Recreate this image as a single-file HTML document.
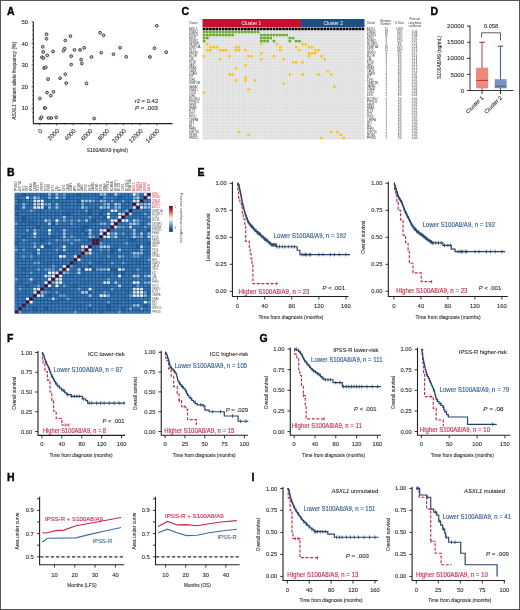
<!DOCTYPE html><html><head><meta charset="utf-8"><style>html,body{margin:0;padding:0;background:#fff;}svg{display:block;will-change:transform;}</style></head><body>
<svg width="520" height="610" viewBox="0 0 520 610" font-family='"Liberation Sans", sans-serif' fill="#333">
<rect x="0" y="0" width="520" height="610" fill="#fff"/>
<text x="7.1" y="15" font-size="10.5" fill="#000" font-weight="bold" stroke="#000" stroke-width="0.35">A</text>
<line x1="33.3" y1="21.8" x2="33.3" y2="123.6" stroke="#231f20" stroke-width="1.1"/>
<line x1="32.3" y1="117.01" x2="33.3" y2="117.01" stroke="#231f20" stroke-width="0.7"/>
<line x1="32.3" y1="112.68" x2="33.3" y2="112.68" stroke="#231f20" stroke-width="0.7"/>
<line x1="31.5" y1="108.35" x2="33.3" y2="108.35" stroke="#231f20" stroke-width="0.7"/>
<line x1="32.3" y1="104.02" x2="33.3" y2="104.02" stroke="#231f20" stroke-width="0.7"/>
<line x1="32.3" y1="99.69" x2="33.3" y2="99.69" stroke="#231f20" stroke-width="0.7"/>
<line x1="32.3" y1="95.36" x2="33.3" y2="95.36" stroke="#231f20" stroke-width="0.7"/>
<line x1="32.3" y1="91.03" x2="33.3" y2="91.03" stroke="#231f20" stroke-width="0.7"/>
<line x1="31.5" y1="86.7" x2="33.3" y2="86.7" stroke="#231f20" stroke-width="0.7"/>
<line x1="32.3" y1="82.37" x2="33.3" y2="82.37" stroke="#231f20" stroke-width="0.7"/>
<line x1="32.3" y1="78.04" x2="33.3" y2="78.04" stroke="#231f20" stroke-width="0.7"/>
<line x1="32.3" y1="73.71" x2="33.3" y2="73.71" stroke="#231f20" stroke-width="0.7"/>
<line x1="32.3" y1="69.38" x2="33.3" y2="69.38" stroke="#231f20" stroke-width="0.7"/>
<line x1="31.5" y1="65.05" x2="33.3" y2="65.05" stroke="#231f20" stroke-width="0.7"/>
<line x1="32.3" y1="60.72" x2="33.3" y2="60.72" stroke="#231f20" stroke-width="0.7"/>
<line x1="32.3" y1="56.39" x2="33.3" y2="56.39" stroke="#231f20" stroke-width="0.7"/>
<line x1="32.3" y1="52.06" x2="33.3" y2="52.06" stroke="#231f20" stroke-width="0.7"/>
<line x1="32.3" y1="47.73" x2="33.3" y2="47.73" stroke="#231f20" stroke-width="0.7"/>
<line x1="31.5" y1="43.4" x2="33.3" y2="43.4" stroke="#231f20" stroke-width="0.7"/>
<line x1="32.3" y1="39.07" x2="33.3" y2="39.07" stroke="#231f20" stroke-width="0.7"/>
<line x1="32.3" y1="34.74" x2="33.3" y2="34.74" stroke="#231f20" stroke-width="0.7"/>
<line x1="32.3" y1="30.41" x2="33.3" y2="30.41" stroke="#231f20" stroke-width="0.7"/>
<line x1="32.3" y1="26.08" x2="33.3" y2="26.08" stroke="#231f20" stroke-width="0.7"/>
<line x1="31.5" y1="21.75" x2="33.3" y2="21.75" stroke="#231f20" stroke-width="0.7"/>
<text stroke="#333" stroke-width="0.12" x="28.2" y="110.45" font-size="6.0" text-anchor="end">10</text>
<text stroke="#333" stroke-width="0.12" x="28.2" y="88.8" font-size="6.0" text-anchor="end">20</text>
<text stroke="#333" stroke-width="0.12" x="28.2" y="67.15" font-size="6.0" text-anchor="end">30</text>
<text stroke="#333" stroke-width="0.12" x="28.2" y="45.5" font-size="6.0" text-anchor="end">40</text>
<text stroke="#333" stroke-width="0.12" x="28.2" y="23.85" font-size="6.0" text-anchor="end">50</text>
<line x1="33.3" y1="123.6" x2="172.5" y2="123.6" stroke="#231f20" stroke-width="1.1"/>
<line x1="39.8" y1="123.6" x2="39.8" y2="125.4" stroke="#231f20" stroke-width="0.7"/>
<line x1="48.16" y1="123.6" x2="48.16" y2="124.6" stroke="#231f20" stroke-width="0.7"/>
<line x1="56.52" y1="123.6" x2="56.52" y2="125.4" stroke="#231f20" stroke-width="0.7"/>
<line x1="64.88" y1="123.6" x2="64.88" y2="124.6" stroke="#231f20" stroke-width="0.7"/>
<line x1="73.24" y1="123.6" x2="73.24" y2="125.4" stroke="#231f20" stroke-width="0.7"/>
<line x1="81.6" y1="123.6" x2="81.6" y2="124.6" stroke="#231f20" stroke-width="0.7"/>
<line x1="89.96" y1="123.6" x2="89.96" y2="125.4" stroke="#231f20" stroke-width="0.7"/>
<line x1="98.32" y1="123.6" x2="98.32" y2="124.6" stroke="#231f20" stroke-width="0.7"/>
<line x1="106.68" y1="123.6" x2="106.68" y2="125.4" stroke="#231f20" stroke-width="0.7"/>
<line x1="115.04" y1="123.6" x2="115.04" y2="124.6" stroke="#231f20" stroke-width="0.7"/>
<line x1="123.4" y1="123.6" x2="123.4" y2="125.4" stroke="#231f20" stroke-width="0.7"/>
<line x1="131.76" y1="123.6" x2="131.76" y2="124.6" stroke="#231f20" stroke-width="0.7"/>
<line x1="140.12" y1="123.6" x2="140.12" y2="125.4" stroke="#231f20" stroke-width="0.7"/>
<line x1="148.48" y1="123.6" x2="148.48" y2="124.6" stroke="#231f20" stroke-width="0.7"/>
<line x1="156.84" y1="123.6" x2="156.84" y2="125.4" stroke="#231f20" stroke-width="0.7"/>
<text stroke="#333" stroke-width="0.12" x="42.8" y="131.5" font-size="6.0" text-anchor="end" transform="rotate(-45 42.8 131.5)">0</text>
<text stroke="#333" stroke-width="0.12" x="59.52" y="131.5" font-size="6.0" text-anchor="end" transform="rotate(-45 59.52 131.5)">2000</text>
<text stroke="#333" stroke-width="0.12" x="76.24" y="131.5" font-size="6.0" text-anchor="end" transform="rotate(-45 76.24 131.5)">4000</text>
<text stroke="#333" stroke-width="0.12" x="92.96" y="131.5" font-size="6.0" text-anchor="end" transform="rotate(-45 92.96 131.5)">6000</text>
<text stroke="#333" stroke-width="0.12" x="109.68" y="131.5" font-size="6.0" text-anchor="end" transform="rotate(-45 109.68 131.5)">8000</text>
<text stroke="#333" stroke-width="0.12" x="126.4" y="131.5" font-size="6.0" text-anchor="end" transform="rotate(-45 126.4 131.5)">10000</text>
<text stroke="#333" stroke-width="0.12" x="143.12" y="131.5" font-size="6.0" text-anchor="end" transform="rotate(-45 143.12 131.5)">12000</text>
<text stroke="#333" stroke-width="0.12" x="159.84" y="131.5" font-size="6.0" text-anchor="end" transform="rotate(-45 159.84 131.5)">14000</text>
<text stroke="#333" stroke-width="0.12" x="107.3" y="151.6" font-size="5.6" text-anchor="middle" textLength="41" lengthAdjust="spacingAndGlyphs">S100A8/A9 (ng/ml)</text>
<text stroke="#333" stroke-width="0.12" x="15.8" y="80.8" font-size="5.1" text-anchor="middle" transform="rotate(-90 15.8 80.8)" textLength="78" lengthAdjust="spacingAndGlyphs"><tspan font-style="italic">ASXL1</tspan> Variant allele frequency (%)</text>
<circle cx="46.5" cy="34.2" r="1.4" fill="#d0d0d0" stroke="#404040" stroke-width="1.0"/>
<circle cx="46.5" cy="38.8" r="1.4" fill="#d0d0d0" stroke="#404040" stroke-width="1.0"/>
<circle cx="42.7" cy="46.8" r="1.4" fill="#d0d0d0" stroke="#404040" stroke-width="1.0"/>
<circle cx="43.2" cy="51.9" r="1.4" fill="#d0d0d0" stroke="#404040" stroke-width="1.0"/>
<circle cx="41.9" cy="57.3" r="1.4" fill="#d0d0d0" stroke="#404040" stroke-width="1.0"/>
<circle cx="43.5" cy="58.1" r="1.4" fill="#d0d0d0" stroke="#404040" stroke-width="1.0"/>
<circle cx="47.3" cy="55.3" r="1.4" fill="#d0d0d0" stroke="#404040" stroke-width="1.0"/>
<circle cx="53" cy="51.5" r="1.4" fill="#d0d0d0" stroke="#404040" stroke-width="1.0"/>
<circle cx="65.3" cy="40.4" r="1.4" fill="#d0d0d0" stroke="#404040" stroke-width="1.0"/>
<circle cx="70.4" cy="36.2" r="1.4" fill="#d0d0d0" stroke="#404040" stroke-width="1.0"/>
<circle cx="64.7" cy="48.5" r="1.4" fill="#d0d0d0" stroke="#404040" stroke-width="1.0"/>
<circle cx="63.5" cy="50.7" r="1.4" fill="#d0d0d0" stroke="#404040" stroke-width="1.0"/>
<circle cx="74.5" cy="49.9" r="1.4" fill="#d0d0d0" stroke="#404040" stroke-width="1.0"/>
<circle cx="80.1" cy="49.9" r="1.4" fill="#d0d0d0" stroke="#404040" stroke-width="1.0"/>
<circle cx="84.2" cy="47.8" r="1.4" fill="#d0d0d0" stroke="#404040" stroke-width="1.0"/>
<circle cx="71.2" cy="56.2" r="1.4" fill="#d0d0d0" stroke="#404040" stroke-width="1.0"/>
<circle cx="81.2" cy="59.6" r="1.4" fill="#d0d0d0" stroke="#404040" stroke-width="1.0"/>
<circle cx="81.9" cy="63.5" r="1.4" fill="#d0d0d0" stroke="#404040" stroke-width="1.0"/>
<circle cx="71.2" cy="64.5" r="1.4" fill="#d0d0d0" stroke="#404040" stroke-width="1.0"/>
<circle cx="91.5" cy="57" r="1.4" fill="#d0d0d0" stroke="#404040" stroke-width="1.0"/>
<circle cx="101.2" cy="52.7" r="1.4" fill="#d0d0d0" stroke="#404040" stroke-width="1.0"/>
<circle cx="100.1" cy="32.7" r="1.4" fill="#d0d0d0" stroke="#404040" stroke-width="1.0"/>
<circle cx="103.5" cy="35.3" r="1.4" fill="#d0d0d0" stroke="#404040" stroke-width="1.0"/>
<circle cx="44.2" cy="68" r="1.4" fill="#d0d0d0" stroke="#404040" stroke-width="1.0"/>
<circle cx="45.8" cy="67.3" r="1.4" fill="#d0d0d0" stroke="#404040" stroke-width="1.0"/>
<circle cx="65.3" cy="74.2" r="1.4" fill="#d0d0d0" stroke="#404040" stroke-width="1.0"/>
<circle cx="48.1" cy="79.2" r="1.4" fill="#d0d0d0" stroke="#404040" stroke-width="1.0"/>
<circle cx="60.1" cy="78.2" r="1.4" fill="#d0d0d0" stroke="#404040" stroke-width="1.0"/>
<circle cx="66.2" cy="83.1" r="1.4" fill="#d0d0d0" stroke="#404040" stroke-width="1.0"/>
<circle cx="86.5" cy="83.4" r="1.4" fill="#d0d0d0" stroke="#404040" stroke-width="1.0"/>
<circle cx="47" cy="92.6" r="1.4" fill="#d0d0d0" stroke="#404040" stroke-width="1.0"/>
<circle cx="53.5" cy="91.8" r="1.4" fill="#d0d0d0" stroke="#404040" stroke-width="1.0"/>
<circle cx="50.8" cy="95.7" r="1.4" fill="#d0d0d0" stroke="#404040" stroke-width="1.0"/>
<circle cx="39.9" cy="98.5" r="1.4" fill="#d0d0d0" stroke="#404040" stroke-width="1.0"/>
<circle cx="44.7" cy="108" r="1.4" fill="#d0d0d0" stroke="#404040" stroke-width="1.0"/>
<circle cx="45.3" cy="108" r="1.4" fill="#d0d0d0" stroke="#404040" stroke-width="1.0"/>
<circle cx="40.4" cy="118.5" r="1.4" fill="#d0d0d0" stroke="#404040" stroke-width="1.0"/>
<circle cx="41.6" cy="117.2" r="1.4" fill="#d0d0d0" stroke="#404040" stroke-width="1.0"/>
<circle cx="48.5" cy="118" r="1.4" fill="#d0d0d0" stroke="#404040" stroke-width="1.0"/>
<circle cx="51.2" cy="118" r="1.4" fill="#d0d0d0" stroke="#404040" stroke-width="1.0"/>
<circle cx="56.2" cy="117.4" r="1.4" fill="#d0d0d0" stroke="#404040" stroke-width="1.0"/>
<circle cx="94.2" cy="118.5" r="1.4" fill="#d0d0d0" stroke="#404040" stroke-width="1.0"/>
<circle cx="113.5" cy="54.2" r="1.4" fill="#d0d0d0" stroke="#404040" stroke-width="1.0"/>
<circle cx="120.1" cy="47.8" r="1.4" fill="#d0d0d0" stroke="#404040" stroke-width="1.0"/>
<circle cx="126.2" cy="56.8" r="1.4" fill="#d0d0d0" stroke="#404040" stroke-width="1.0"/>
<circle cx="156.8" cy="25.8" r="1.4" fill="#d0d0d0" stroke="#404040" stroke-width="1.0"/>
<circle cx="154.5" cy="48.2" r="1.4" fill="#d0d0d0" stroke="#404040" stroke-width="1.0"/>
<circle cx="149.9" cy="57" r="1.4" fill="#d0d0d0" stroke="#404040" stroke-width="1.0"/>
<circle cx="166.2" cy="52.2" r="1.4" fill="#d0d0d0" stroke="#404040" stroke-width="1.0"/>
<text stroke="#333" stroke-width="0.12" x="158.2" y="103" font-size="5.6" text-anchor="end" textLength="23.5" lengthAdjust="spacingAndGlyphs">r2 = 0.42</text>
<text stroke="#333" stroke-width="0.12" x="158" y="109.6" font-size="5.6" text-anchor="end" textLength="23" lengthAdjust="spacingAndGlyphs"><tspan font-style="italic">P</tspan> = .003</text>
<text x="181.4" y="14.5" font-size="10.5" fill="#000" font-weight="bold" stroke="#000" stroke-width="0.35">C</text>
<rect x="202.5" y="19" width="98.47" height="8.6" fill="#c8102e"/>
<rect x="300.97" y="19" width="63.53" height="8.6" fill="#1d4e89"/>
<text x="251.35" y="25" font-size="5.2" text-anchor="middle" fill="#fff" textLength="19.7" lengthAdjust="spacingAndGlyphs" stroke="none">Cluster 1</text>
<text x="333.25" y="25" font-size="5.2" text-anchor="middle" fill="#fff" textLength="19.7" lengthAdjust="spacingAndGlyphs" stroke="none">Cluster 2</text>
<rect x="202.5" y="27.5" width="162" height="112" fill="#eeeeee"/>
<rect x="202.75" y="27.75" width="2.68" height="2.53" fill="#000"/>
<rect x="205.93" y="27.75" width="2.68" height="2.53" fill="#000"/>
<rect x="209.1" y="27.75" width="2.68" height="2.53" fill="#000"/>
<rect x="212.28" y="27.75" width="2.68" height="2.53" fill="#000"/>
<rect x="215.46" y="27.75" width="2.68" height="2.53" fill="#000"/>
<rect x="218.63" y="27.75" width="2.68" height="2.53" fill="#000"/>
<rect x="221.81" y="27.75" width="2.68" height="2.53" fill="#000"/>
<rect x="224.99" y="27.75" width="2.68" height="2.53" fill="#000"/>
<rect x="228.16" y="27.75" width="2.68" height="2.53" fill="#000"/>
<rect x="231.34" y="27.75" width="2.68" height="2.53" fill="#000"/>
<rect x="234.51" y="27.75" width="2.68" height="2.53" fill="#000"/>
<rect x="237.69" y="27.75" width="2.68" height="2.53" fill="#000"/>
<rect x="240.87" y="27.75" width="2.68" height="2.53" fill="#000"/>
<rect x="244.04" y="27.75" width="2.68" height="2.53" fill="#000"/>
<rect x="247.22" y="27.75" width="2.68" height="2.53" fill="#000"/>
<rect x="250.4" y="27.75" width="2.68" height="2.53" fill="#000"/>
<rect x="253.57" y="27.75" width="2.68" height="2.53" fill="#000"/>
<rect x="256.75" y="27.75" width="2.68" height="2.53" fill="#000"/>
<rect x="259.93" y="27.75" width="2.68" height="2.53" fill="#000"/>
<rect x="263.1" y="27.75" width="2.68" height="2.53" fill="#000"/>
<rect x="266.28" y="27.75" width="2.68" height="2.53" fill="#000"/>
<rect x="269.46" y="27.75" width="2.68" height="2.53" fill="#000"/>
<rect x="272.63" y="27.75" width="2.68" height="2.53" fill="#000"/>
<rect x="275.81" y="27.75" width="2.68" height="2.53" fill="#000"/>
<rect x="278.99" y="27.75" width="2.68" height="2.53" fill="#000"/>
<rect x="282.16" y="27.75" width="2.68" height="2.53" fill="#000"/>
<rect x="285.34" y="27.75" width="2.68" height="2.53" fill="#000"/>
<rect x="288.51" y="27.75" width="2.68" height="2.53" fill="#000"/>
<rect x="291.69" y="27.75" width="2.68" height="2.53" fill="#000"/>
<rect x="294.87" y="27.75" width="2.68" height="2.53" fill="#000"/>
<rect x="298.04" y="27.75" width="2.68" height="2.53" fill="#000"/>
<rect x="301.22" y="27.75" width="2.68" height="2.53" fill="#000"/>
<rect x="304.4" y="27.75" width="2.68" height="2.53" fill="#000"/>
<rect x="307.57" y="27.75" width="2.68" height="2.53" fill="#000"/>
<rect x="310.75" y="27.75" width="2.68" height="2.53" fill="#000"/>
<rect x="313.93" y="27.75" width="2.68" height="2.53" fill="#000"/>
<rect x="317.1" y="27.75" width="2.68" height="2.53" fill="#000"/>
<rect x="320.28" y="27.75" width="2.68" height="2.53" fill="#000"/>
<rect x="323.46" y="27.75" width="2.68" height="2.53" fill="#000"/>
<rect x="326.63" y="27.75" width="2.68" height="2.53" fill="#000"/>
<rect x="329.81" y="27.75" width="2.68" height="2.53" fill="#000"/>
<rect x="332.99" y="27.75" width="2.68" height="2.53" fill="#000"/>
<rect x="336.16" y="27.75" width="2.68" height="2.53" fill="#000"/>
<rect x="339.34" y="27.75" width="2.68" height="2.53" fill="#000"/>
<rect x="342.51" y="27.75" width="2.68" height="2.53" fill="#000"/>
<rect x="345.69" y="27.75" width="2.68" height="2.53" fill="#000"/>
<rect x="348.87" y="27.75" width="2.68" height="2.53" fill="#000"/>
<rect x="352.04" y="27.75" width="2.68" height="2.53" fill="#000"/>
<rect x="355.22" y="27.75" width="2.68" height="2.53" fill="#000"/>
<rect x="358.4" y="27.75" width="2.68" height="2.53" fill="#000"/>
<rect x="361.57" y="27.75" width="2.68" height="2.53" fill="#000"/>
<rect x="202.75" y="30.78" width="2.68" height="2.53" fill="#66a830"/>
<rect x="205.93" y="30.78" width="2.68" height="2.53" fill="#66a830"/>
<rect x="209.1" y="30.78" width="2.68" height="2.53" fill="#66a830"/>
<rect x="212.28" y="30.78" width="2.68" height="2.53" fill="#66a830"/>
<rect x="215.46" y="30.78" width="2.68" height="2.53" fill="#66a830"/>
<rect x="218.63" y="30.78" width="2.68" height="2.53" fill="#66a830"/>
<rect x="221.81" y="30.78" width="2.68" height="2.53" fill="#66a830"/>
<rect x="224.99" y="30.78" width="2.68" height="2.53" fill="#66a830"/>
<rect x="228.16" y="30.78" width="2.68" height="2.53" fill="#66a830"/>
<rect x="231.34" y="30.78" width="2.68" height="2.53" fill="#66a830"/>
<rect x="234.51" y="30.78" width="2.68" height="2.53" fill="#66a830"/>
<rect x="237.69" y="30.78" width="2.68" height="2.53" fill="#66a830"/>
<rect x="240.87" y="30.78" width="2.68" height="2.53" fill="#66a830"/>
<rect x="244.04" y="30.78" width="2.68" height="2.53" fill="#66a830"/>
<rect x="247.22" y="30.78" width="2.68" height="2.53" fill="#66a830"/>
<rect x="250.4" y="30.78" width="2.68" height="2.53" fill="#66a830"/>
<rect x="253.57" y="30.78" width="2.68" height="2.53" fill="#66a830"/>
<rect x="256.75" y="30.78" width="2.68" height="2.53" fill="#66a830"/>
<rect x="259.93" y="30.78" width="2.68" height="2.53" fill="#dfdfdf"/>
<rect x="263.1" y="30.78" width="2.68" height="2.53" fill="#dfdfdf"/>
<rect x="266.28" y="30.78" width="2.68" height="2.53" fill="#dfdfdf"/>
<rect x="269.46" y="30.78" width="2.68" height="2.53" fill="#dfdfdf"/>
<rect x="272.63" y="30.78" width="2.68" height="2.53" fill="#dfdfdf"/>
<rect x="275.81" y="30.78" width="2.68" height="2.53" fill="#dfdfdf"/>
<rect x="278.99" y="30.78" width="2.68" height="2.53" fill="#dfdfdf"/>
<rect x="282.16" y="30.78" width="2.68" height="2.53" fill="#dfdfdf"/>
<rect x="285.34" y="30.78" width="2.68" height="2.53" fill="#dfdfdf"/>
<rect x="288.51" y="30.78" width="2.68" height="2.53" fill="#dfdfdf"/>
<rect x="291.69" y="30.78" width="2.68" height="2.53" fill="#dfdfdf"/>
<rect x="294.87" y="30.78" width="2.68" height="2.53" fill="#dfdfdf"/>
<rect x="298.04" y="30.78" width="2.68" height="2.53" fill="#dfdfdf"/>
<rect x="301.22" y="30.78" width="2.68" height="2.53" fill="#dfdfdf"/>
<rect x="304.4" y="30.78" width="2.68" height="2.53" fill="#dfdfdf"/>
<rect x="307.57" y="30.78" width="2.68" height="2.53" fill="#dfdfdf"/>
<rect x="310.75" y="30.78" width="2.68" height="2.53" fill="#dfdfdf"/>
<rect x="313.93" y="30.78" width="2.68" height="2.53" fill="#dfdfdf"/>
<rect x="317.1" y="30.78" width="2.68" height="2.53" fill="#dfdfdf"/>
<rect x="320.28" y="30.78" width="2.68" height="2.53" fill="#dfdfdf"/>
<rect x="323.46" y="30.78" width="2.68" height="2.53" fill="#dfdfdf"/>
<rect x="326.63" y="30.78" width="2.68" height="2.53" fill="#dfdfdf"/>
<rect x="329.81" y="30.78" width="2.68" height="2.53" fill="#dfdfdf"/>
<rect x="332.99" y="30.78" width="2.68" height="2.53" fill="#dfdfdf"/>
<rect x="336.16" y="30.78" width="2.68" height="2.53" fill="#dfdfdf"/>
<rect x="339.34" y="30.78" width="2.68" height="2.53" fill="#dfdfdf"/>
<rect x="342.51" y="30.78" width="2.68" height="2.53" fill="#dfdfdf"/>
<rect x="345.69" y="30.78" width="2.68" height="2.53" fill="#dfdfdf"/>
<rect x="348.87" y="30.78" width="2.68" height="2.53" fill="#dfdfdf"/>
<rect x="352.04" y="30.78" width="2.68" height="2.53" fill="#dfdfdf"/>
<rect x="355.22" y="30.78" width="2.68" height="2.53" fill="#dfdfdf"/>
<rect x="358.4" y="30.78" width="2.68" height="2.53" fill="#dfdfdf"/>
<rect x="361.57" y="30.78" width="2.68" height="2.53" fill="#dfdfdf"/>
<rect x="202.75" y="33.8" width="2.68" height="2.53" fill="#66a830"/>
<rect x="205.93" y="33.8" width="2.68" height="2.53" fill="#66a830"/>
<rect x="209.1" y="33.8" width="2.68" height="2.53" fill="#66a830"/>
<rect x="212.28" y="33.8" width="2.68" height="2.53" fill="#66a830"/>
<rect x="215.46" y="33.8" width="2.68" height="2.53" fill="#66a830"/>
<rect x="218.63" y="33.8" width="2.68" height="2.53" fill="#66a830"/>
<rect x="221.81" y="33.8" width="2.68" height="2.53" fill="#66a830"/>
<rect x="224.99" y="33.8" width="2.68" height="2.53" fill="#66a830"/>
<rect x="228.16" y="33.8" width="2.68" height="2.53" fill="#66a830"/>
<rect x="231.34" y="33.8" width="2.68" height="2.53" fill="#66a830"/>
<rect x="234.51" y="33.8" width="2.68" height="2.53" fill="#dfdfdf"/>
<rect x="237.69" y="33.8" width="2.68" height="2.53" fill="#dfdfdf"/>
<rect x="240.87" y="33.8" width="2.68" height="2.53" fill="#dfdfdf"/>
<rect x="244.04" y="33.8" width="2.68" height="2.53" fill="#dfdfdf"/>
<rect x="247.22" y="33.8" width="2.68" height="2.53" fill="#dfdfdf"/>
<rect x="250.4" y="33.8" width="2.68" height="2.53" fill="#dfdfdf"/>
<rect x="253.57" y="33.8" width="2.68" height="2.53" fill="#dfdfdf"/>
<rect x="256.75" y="33.8" width="2.68" height="2.53" fill="#dfdfdf"/>
<rect x="259.93" y="33.8" width="2.68" height="2.53" fill="#66a830"/>
<rect x="263.1" y="33.8" width="2.68" height="2.53" fill="#66a830"/>
<rect x="266.28" y="33.8" width="2.68" height="2.53" fill="#66a830"/>
<rect x="269.46" y="33.8" width="2.68" height="2.53" fill="#66a830"/>
<rect x="272.63" y="33.8" width="2.68" height="2.53" fill="#66a830"/>
<rect x="275.81" y="33.8" width="2.68" height="2.53" fill="#66a830"/>
<rect x="278.99" y="33.8" width="2.68" height="2.53" fill="#66a830"/>
<rect x="282.16" y="33.8" width="2.68" height="2.53" fill="#66a830"/>
<rect x="285.34" y="33.8" width="2.68" height="2.53" fill="#66a830"/>
<rect x="288.51" y="33.8" width="2.68" height="2.53" fill="#dfdfdf"/>
<rect x="291.69" y="33.8" width="2.68" height="2.53" fill="#dfdfdf"/>
<rect x="294.87" y="33.8" width="2.68" height="2.53" fill="#dfdfdf"/>
<rect x="298.04" y="33.8" width="2.68" height="2.53" fill="#dfdfdf"/>
<rect x="301.22" y="33.8" width="2.68" height="2.53" fill="#dfdfdf"/>
<rect x="304.4" y="33.8" width="2.68" height="2.53" fill="#dfdfdf"/>
<rect x="307.57" y="33.8" width="2.68" height="2.53" fill="#dfdfdf"/>
<rect x="310.75" y="33.8" width="2.68" height="2.53" fill="#dfdfdf"/>
<rect x="313.93" y="33.8" width="2.68" height="2.53" fill="#dfdfdf"/>
<rect x="317.1" y="33.8" width="2.68" height="2.53" fill="#dfdfdf"/>
<rect x="320.28" y="33.8" width="2.68" height="2.53" fill="#dfdfdf"/>
<rect x="323.46" y="33.8" width="2.68" height="2.53" fill="#dfdfdf"/>
<rect x="326.63" y="33.8" width="2.68" height="2.53" fill="#dfdfdf"/>
<rect x="329.81" y="33.8" width="2.68" height="2.53" fill="#dfdfdf"/>
<rect x="332.99" y="33.8" width="2.68" height="2.53" fill="#dfdfdf"/>
<rect x="336.16" y="33.8" width="2.68" height="2.53" fill="#dfdfdf"/>
<rect x="339.34" y="33.8" width="2.68" height="2.53" fill="#dfdfdf"/>
<rect x="342.51" y="33.8" width="2.68" height="2.53" fill="#dfdfdf"/>
<rect x="345.69" y="33.8" width="2.68" height="2.53" fill="#dfdfdf"/>
<rect x="348.87" y="33.8" width="2.68" height="2.53" fill="#dfdfdf"/>
<rect x="352.04" y="33.8" width="2.68" height="2.53" fill="#dfdfdf"/>
<rect x="355.22" y="33.8" width="2.68" height="2.53" fill="#dfdfdf"/>
<rect x="358.4" y="33.8" width="2.68" height="2.53" fill="#dfdfdf"/>
<rect x="361.57" y="33.8" width="2.68" height="2.53" fill="#dfdfdf"/>
<rect x="202.75" y="36.83" width="2.68" height="2.53" fill="#66a830"/>
<rect x="205.93" y="36.83" width="2.68" height="2.53" fill="#66a830"/>
<rect x="209.1" y="36.83" width="2.68" height="2.53" fill="#dfdfdf"/>
<rect x="212.28" y="36.83" width="2.68" height="2.53" fill="#dfdfdf"/>
<rect x="215.46" y="36.83" width="2.68" height="2.53" fill="#dfdfdf"/>
<rect x="218.63" y="36.83" width="2.68" height="2.53" fill="#dfdfdf"/>
<rect x="221.81" y="36.83" width="2.68" height="2.53" fill="#dfdfdf"/>
<rect x="224.99" y="36.83" width="2.68" height="2.53" fill="#dfdfdf"/>
<rect x="228.16" y="36.83" width="2.68" height="2.53" fill="#dfdfdf"/>
<rect x="231.34" y="36.83" width="2.68" height="2.53" fill="#dfdfdf"/>
<rect x="234.51" y="36.83" width="2.68" height="2.53" fill="#dfdfdf"/>
<rect x="237.69" y="36.83" width="2.68" height="2.53" fill="#dfdfdf"/>
<rect x="240.87" y="36.83" width="2.68" height="2.53" fill="#dfdfdf"/>
<rect x="244.04" y="36.83" width="2.68" height="2.53" fill="#dfdfdf"/>
<rect x="247.22" y="36.83" width="2.68" height="2.53" fill="#dfdfdf"/>
<rect x="250.4" y="36.83" width="2.68" height="2.53" fill="#dfdfdf"/>
<rect x="253.57" y="36.83" width="2.68" height="2.53" fill="#dfdfdf"/>
<rect x="256.75" y="36.83" width="2.68" height="2.53" fill="#dfdfdf"/>
<rect x="259.93" y="36.83" width="2.68" height="2.53" fill="#66a830"/>
<rect x="263.1" y="36.83" width="2.68" height="2.53" fill="#66a830"/>
<rect x="266.28" y="36.83" width="2.68" height="2.53" fill="#66a830"/>
<rect x="269.46" y="36.83" width="2.68" height="2.53" fill="#66a830"/>
<rect x="272.63" y="36.83" width="2.68" height="2.53" fill="#dfdfdf"/>
<rect x="275.81" y="36.83" width="2.68" height="2.53" fill="#dfdfdf"/>
<rect x="278.99" y="36.83" width="2.68" height="2.53" fill="#dfdfdf"/>
<rect x="282.16" y="36.83" width="2.68" height="2.53" fill="#dfdfdf"/>
<rect x="285.34" y="36.83" width="2.68" height="2.53" fill="#dfdfdf"/>
<rect x="288.51" y="36.83" width="2.68" height="2.53" fill="#66a830"/>
<rect x="291.69" y="36.83" width="2.68" height="2.53" fill="#66a830"/>
<rect x="294.87" y="36.83" width="2.68" height="2.53" fill="#dfdfdf"/>
<rect x="298.04" y="36.83" width="2.68" height="2.53" fill="#dfdfdf"/>
<rect x="301.22" y="36.83" width="2.68" height="2.53" fill="#dfdfdf"/>
<rect x="304.4" y="36.83" width="2.68" height="2.53" fill="#dfdfdf"/>
<rect x="307.57" y="36.83" width="2.68" height="2.53" fill="#dfdfdf"/>
<rect x="310.75" y="36.83" width="2.68" height="2.53" fill="#dfdfdf"/>
<rect x="313.93" y="36.83" width="2.68" height="2.53" fill="#dfdfdf"/>
<rect x="317.1" y="36.83" width="2.68" height="2.53" fill="#dfdfdf"/>
<rect x="320.28" y="36.83" width="2.68" height="2.53" fill="#dfdfdf"/>
<rect x="323.46" y="36.83" width="2.68" height="2.53" fill="#dfdfdf"/>
<rect x="326.63" y="36.83" width="2.68" height="2.53" fill="#dfdfdf"/>
<rect x="329.81" y="36.83" width="2.68" height="2.53" fill="#dfdfdf"/>
<rect x="332.99" y="36.83" width="2.68" height="2.53" fill="#dfdfdf"/>
<rect x="336.16" y="36.83" width="2.68" height="2.53" fill="#dfdfdf"/>
<rect x="339.34" y="36.83" width="2.68" height="2.53" fill="#dfdfdf"/>
<rect x="342.51" y="36.83" width="2.68" height="2.53" fill="#dfdfdf"/>
<rect x="345.69" y="36.83" width="2.68" height="2.53" fill="#dfdfdf"/>
<rect x="348.87" y="36.83" width="2.68" height="2.53" fill="#dfdfdf"/>
<rect x="352.04" y="36.83" width="2.68" height="2.53" fill="#dfdfdf"/>
<rect x="355.22" y="36.83" width="2.68" height="2.53" fill="#dfdfdf"/>
<rect x="358.4" y="36.83" width="2.68" height="2.53" fill="#dfdfdf"/>
<rect x="361.57" y="36.83" width="2.68" height="2.53" fill="#dfdfdf"/>
<rect x="202.75" y="39.86" width="2.68" height="2.53" fill="#66a830"/>
<rect x="205.93" y="39.86" width="2.68" height="2.53" fill="#dfdfdf"/>
<rect x="209.1" y="39.86" width="2.68" height="2.53" fill="#dfdfdf"/>
<rect x="212.28" y="39.86" width="2.68" height="2.53" fill="#dfdfdf"/>
<rect x="215.46" y="39.86" width="2.68" height="2.53" fill="#dfdfdf"/>
<rect x="218.63" y="39.86" width="2.68" height="2.53" fill="#dfdfdf"/>
<rect x="221.81" y="39.86" width="2.68" height="2.53" fill="#dfdfdf"/>
<rect x="224.99" y="39.86" width="2.68" height="2.53" fill="#dfdfdf"/>
<rect x="228.16" y="39.86" width="2.68" height="2.53" fill="#dfdfdf"/>
<rect x="231.34" y="39.86" width="2.68" height="2.53" fill="#dfdfdf"/>
<rect x="234.51" y="39.86" width="2.68" height="2.53" fill="#dfdfdf"/>
<rect x="237.69" y="39.86" width="2.68" height="2.53" fill="#dfdfdf"/>
<rect x="240.87" y="39.86" width="2.68" height="2.53" fill="#dfdfdf"/>
<rect x="244.04" y="39.86" width="2.68" height="2.53" fill="#dfdfdf"/>
<rect x="247.22" y="39.86" width="2.68" height="2.53" fill="#dfdfdf"/>
<rect x="250.4" y="39.86" width="2.68" height="2.53" fill="#dfdfdf"/>
<rect x="253.57" y="39.86" width="2.68" height="2.53" fill="#dfdfdf"/>
<rect x="256.75" y="39.86" width="2.68" height="2.53" fill="#dfdfdf"/>
<rect x="259.93" y="39.86" width="2.68" height="2.53" fill="#66a830"/>
<rect x="263.1" y="39.86" width="2.68" height="2.53" fill="#66a830"/>
<rect x="266.28" y="39.86" width="2.68" height="2.53" fill="#66a830"/>
<rect x="269.46" y="39.86" width="2.68" height="2.53" fill="#dfdfdf"/>
<rect x="272.63" y="39.86" width="2.68" height="2.53" fill="#66a830"/>
<rect x="275.81" y="39.86" width="2.68" height="2.53" fill="#dfdfdf"/>
<rect x="278.99" y="39.86" width="2.68" height="2.53" fill="#dfdfdf"/>
<rect x="282.16" y="39.86" width="2.68" height="2.53" fill="#dfdfdf"/>
<rect x="285.34" y="39.86" width="2.68" height="2.53" fill="#dfdfdf"/>
<rect x="288.51" y="39.86" width="2.68" height="2.53" fill="#66a830"/>
<rect x="291.69" y="39.86" width="2.68" height="2.53" fill="#dfdfdf"/>
<rect x="294.87" y="39.86" width="2.68" height="2.53" fill="#66a830"/>
<rect x="298.04" y="39.86" width="2.68" height="2.53" fill="#66a830"/>
<rect x="301.22" y="39.86" width="2.68" height="2.53" fill="#dfdfdf"/>
<rect x="304.4" y="39.86" width="2.68" height="2.53" fill="#dfdfdf"/>
<rect x="307.57" y="39.86" width="2.68" height="2.53" fill="#dfdfdf"/>
<rect x="310.75" y="39.86" width="2.68" height="2.53" fill="#dfdfdf"/>
<rect x="313.93" y="39.86" width="2.68" height="2.53" fill="#dfdfdf"/>
<rect x="317.1" y="39.86" width="2.68" height="2.53" fill="#dfdfdf"/>
<rect x="320.28" y="39.86" width="2.68" height="2.53" fill="#dfdfdf"/>
<rect x="323.46" y="39.86" width="2.68" height="2.53" fill="#dfdfdf"/>
<rect x="326.63" y="39.86" width="2.68" height="2.53" fill="#dfdfdf"/>
<rect x="329.81" y="39.86" width="2.68" height="2.53" fill="#dfdfdf"/>
<rect x="332.99" y="39.86" width="2.68" height="2.53" fill="#dfdfdf"/>
<rect x="336.16" y="39.86" width="2.68" height="2.53" fill="#dfdfdf"/>
<rect x="339.34" y="39.86" width="2.68" height="2.53" fill="#dfdfdf"/>
<rect x="342.51" y="39.86" width="2.68" height="2.53" fill="#dfdfdf"/>
<rect x="345.69" y="39.86" width="2.68" height="2.53" fill="#dfdfdf"/>
<rect x="348.87" y="39.86" width="2.68" height="2.53" fill="#dfdfdf"/>
<rect x="352.04" y="39.86" width="2.68" height="2.53" fill="#dfdfdf"/>
<rect x="355.22" y="39.86" width="2.68" height="2.53" fill="#dfdfdf"/>
<rect x="358.4" y="39.86" width="2.68" height="2.53" fill="#dfdfdf"/>
<rect x="361.57" y="39.86" width="2.68" height="2.53" fill="#dfdfdf"/>
<rect x="202.75" y="42.89" width="2.68" height="2.53" fill="#dfdfdf"/>
<rect x="205.93" y="42.89" width="2.68" height="2.53" fill="#f6c21b"/>
<rect x="209.1" y="42.89" width="2.68" height="2.53" fill="#dfdfdf"/>
<rect x="212.28" y="42.89" width="2.68" height="2.53" fill="#dfdfdf"/>
<rect x="215.46" y="42.89" width="2.68" height="2.53" fill="#dfdfdf"/>
<rect x="218.63" y="42.89" width="2.68" height="2.53" fill="#dfdfdf"/>
<rect x="221.81" y="42.89" width="2.68" height="2.53" fill="#dfdfdf"/>
<rect x="224.99" y="42.89" width="2.68" height="2.53" fill="#dfdfdf"/>
<rect x="228.16" y="42.89" width="2.68" height="2.53" fill="#dfdfdf"/>
<rect x="231.34" y="42.89" width="2.68" height="2.53" fill="#dfdfdf"/>
<rect x="234.51" y="42.89" width="2.68" height="2.53" fill="#dfdfdf"/>
<rect x="237.69" y="42.89" width="2.68" height="2.53" fill="#dfdfdf"/>
<rect x="240.87" y="42.89" width="2.68" height="2.53" fill="#dfdfdf"/>
<rect x="244.04" y="42.89" width="2.68" height="2.53" fill="#dfdfdf"/>
<rect x="247.22" y="42.89" width="2.68" height="2.53" fill="#dfdfdf"/>
<rect x="250.4" y="42.89" width="2.68" height="2.53" fill="#dfdfdf"/>
<rect x="253.57" y="42.89" width="2.68" height="2.53" fill="#dfdfdf"/>
<rect x="256.75" y="42.89" width="2.68" height="2.53" fill="#dfdfdf"/>
<rect x="259.93" y="42.89" width="2.68" height="2.53" fill="#f6c21b"/>
<rect x="263.1" y="42.89" width="2.68" height="2.53" fill="#dfdfdf"/>
<rect x="266.28" y="42.89" width="2.68" height="2.53" fill="#dfdfdf"/>
<rect x="269.46" y="42.89" width="2.68" height="2.53" fill="#dfdfdf"/>
<rect x="272.63" y="42.89" width="2.68" height="2.53" fill="#dfdfdf"/>
<rect x="275.81" y="42.89" width="2.68" height="2.53" fill="#f6c21b"/>
<rect x="278.99" y="42.89" width="2.68" height="2.53" fill="#dfdfdf"/>
<rect x="282.16" y="42.89" width="2.68" height="2.53" fill="#dfdfdf"/>
<rect x="285.34" y="42.89" width="2.68" height="2.53" fill="#dfdfdf"/>
<rect x="288.51" y="42.89" width="2.68" height="2.53" fill="#dfdfdf"/>
<rect x="291.69" y="42.89" width="2.68" height="2.53" fill="#dfdfdf"/>
<rect x="294.87" y="42.89" width="2.68" height="2.53" fill="#dfdfdf"/>
<rect x="298.04" y="42.89" width="2.68" height="2.53" fill="#dfdfdf"/>
<rect x="301.22" y="42.89" width="2.68" height="2.53" fill="#f6c21b"/>
<rect x="304.4" y="42.89" width="2.68" height="2.53" fill="#f6c21b"/>
<rect x="307.57" y="42.89" width="2.68" height="2.53" fill="#dfdfdf"/>
<rect x="310.75" y="42.89" width="2.68" height="2.53" fill="#dfdfdf"/>
<rect x="313.93" y="42.89" width="2.68" height="2.53" fill="#dfdfdf"/>
<rect x="317.1" y="42.89" width="2.68" height="2.53" fill="#dfdfdf"/>
<rect x="320.28" y="42.89" width="2.68" height="2.53" fill="#dfdfdf"/>
<rect x="323.46" y="42.89" width="2.68" height="2.53" fill="#dfdfdf"/>
<rect x="326.63" y="42.89" width="2.68" height="2.53" fill="#dfdfdf"/>
<rect x="329.81" y="42.89" width="2.68" height="2.53" fill="#dfdfdf"/>
<rect x="332.99" y="42.89" width="2.68" height="2.53" fill="#dfdfdf"/>
<rect x="336.16" y="42.89" width="2.68" height="2.53" fill="#dfdfdf"/>
<rect x="339.34" y="42.89" width="2.68" height="2.53" fill="#dfdfdf"/>
<rect x="342.51" y="42.89" width="2.68" height="2.53" fill="#dfdfdf"/>
<rect x="345.69" y="42.89" width="2.68" height="2.53" fill="#dfdfdf"/>
<rect x="348.87" y="42.89" width="2.68" height="2.53" fill="#dfdfdf"/>
<rect x="352.04" y="42.89" width="2.68" height="2.53" fill="#dfdfdf"/>
<rect x="355.22" y="42.89" width="2.68" height="2.53" fill="#dfdfdf"/>
<rect x="358.4" y="42.89" width="2.68" height="2.53" fill="#dfdfdf"/>
<rect x="361.57" y="42.89" width="2.68" height="2.53" fill="#dfdfdf"/>
<rect x="202.75" y="45.91" width="2.68" height="2.53" fill="#dfdfdf"/>
<rect x="205.93" y="45.91" width="2.68" height="2.53" fill="#dfdfdf"/>
<rect x="209.1" y="45.91" width="2.68" height="2.53" fill="#f6c21b"/>
<rect x="212.28" y="45.91" width="2.68" height="2.53" fill="#f6c21b"/>
<rect x="215.46" y="45.91" width="2.68" height="2.53" fill="#f6c21b"/>
<rect x="218.63" y="45.91" width="2.68" height="2.53" fill="#dfdfdf"/>
<rect x="221.81" y="45.91" width="2.68" height="2.53" fill="#dfdfdf"/>
<rect x="224.99" y="45.91" width="2.68" height="2.53" fill="#dfdfdf"/>
<rect x="228.16" y="45.91" width="2.68" height="2.53" fill="#dfdfdf"/>
<rect x="231.34" y="45.91" width="2.68" height="2.53" fill="#dfdfdf"/>
<rect x="234.51" y="45.91" width="2.68" height="2.53" fill="#f6c21b"/>
<rect x="237.69" y="45.91" width="2.68" height="2.53" fill="#f6c21b"/>
<rect x="240.87" y="45.91" width="2.68" height="2.53" fill="#dfdfdf"/>
<rect x="244.04" y="45.91" width="2.68" height="2.53" fill="#dfdfdf"/>
<rect x="247.22" y="45.91" width="2.68" height="2.53" fill="#dfdfdf"/>
<rect x="250.4" y="45.91" width="2.68" height="2.53" fill="#dfdfdf"/>
<rect x="253.57" y="45.91" width="2.68" height="2.53" fill="#dfdfdf"/>
<rect x="256.75" y="45.91" width="2.68" height="2.53" fill="#dfdfdf"/>
<rect x="259.93" y="45.91" width="2.68" height="2.53" fill="#dfdfdf"/>
<rect x="263.1" y="45.91" width="2.68" height="2.53" fill="#dfdfdf"/>
<rect x="266.28" y="45.91" width="2.68" height="2.53" fill="#dfdfdf"/>
<rect x="269.46" y="45.91" width="2.68" height="2.53" fill="#dfdfdf"/>
<rect x="272.63" y="45.91" width="2.68" height="2.53" fill="#dfdfdf"/>
<rect x="275.81" y="45.91" width="2.68" height="2.53" fill="#dfdfdf"/>
<rect x="278.99" y="45.91" width="2.68" height="2.53" fill="#f6c21b"/>
<rect x="282.16" y="45.91" width="2.68" height="2.53" fill="#dfdfdf"/>
<rect x="285.34" y="45.91" width="2.68" height="2.53" fill="#dfdfdf"/>
<rect x="288.51" y="45.91" width="2.68" height="2.53" fill="#dfdfdf"/>
<rect x="291.69" y="45.91" width="2.68" height="2.53" fill="#dfdfdf"/>
<rect x="294.87" y="45.91" width="2.68" height="2.53" fill="#f6c21b"/>
<rect x="298.04" y="45.91" width="2.68" height="2.53" fill="#dfdfdf"/>
<rect x="301.22" y="45.91" width="2.68" height="2.53" fill="#dfdfdf"/>
<rect x="304.4" y="45.91" width="2.68" height="2.53" fill="#dfdfdf"/>
<rect x="307.57" y="45.91" width="2.68" height="2.53" fill="#f6c21b"/>
<rect x="310.75" y="45.91" width="2.68" height="2.53" fill="#f6c21b"/>
<rect x="313.93" y="45.91" width="2.68" height="2.53" fill="#dfdfdf"/>
<rect x="317.1" y="45.91" width="2.68" height="2.53" fill="#dfdfdf"/>
<rect x="320.28" y="45.91" width="2.68" height="2.53" fill="#dfdfdf"/>
<rect x="323.46" y="45.91" width="2.68" height="2.53" fill="#dfdfdf"/>
<rect x="326.63" y="45.91" width="2.68" height="2.53" fill="#dfdfdf"/>
<rect x="329.81" y="45.91" width="2.68" height="2.53" fill="#dfdfdf"/>
<rect x="332.99" y="45.91" width="2.68" height="2.53" fill="#dfdfdf"/>
<rect x="336.16" y="45.91" width="2.68" height="2.53" fill="#dfdfdf"/>
<rect x="339.34" y="45.91" width="2.68" height="2.53" fill="#dfdfdf"/>
<rect x="342.51" y="45.91" width="2.68" height="2.53" fill="#dfdfdf"/>
<rect x="345.69" y="45.91" width="2.68" height="2.53" fill="#dfdfdf"/>
<rect x="348.87" y="45.91" width="2.68" height="2.53" fill="#dfdfdf"/>
<rect x="352.04" y="45.91" width="2.68" height="2.53" fill="#dfdfdf"/>
<rect x="355.22" y="45.91" width="2.68" height="2.53" fill="#dfdfdf"/>
<rect x="358.4" y="45.91" width="2.68" height="2.53" fill="#dfdfdf"/>
<rect x="361.57" y="45.91" width="2.68" height="2.53" fill="#dfdfdf"/>
<rect x="202.75" y="48.94" width="2.68" height="2.53" fill="#dfdfdf"/>
<rect x="205.93" y="48.94" width="2.68" height="2.53" fill="#f6c21b"/>
<rect x="209.1" y="48.94" width="2.68" height="2.53" fill="#f6c21b"/>
<rect x="212.28" y="48.94" width="2.68" height="2.53" fill="#dfdfdf"/>
<rect x="215.46" y="48.94" width="2.68" height="2.53" fill="#dfdfdf"/>
<rect x="218.63" y="48.94" width="2.68" height="2.53" fill="#f6c21b"/>
<rect x="221.81" y="48.94" width="2.68" height="2.53" fill="#f6c21b"/>
<rect x="224.99" y="48.94" width="2.68" height="2.53" fill="#f6c21b"/>
<rect x="228.16" y="48.94" width="2.68" height="2.53" fill="#dfdfdf"/>
<rect x="231.34" y="48.94" width="2.68" height="2.53" fill="#dfdfdf"/>
<rect x="234.51" y="48.94" width="2.68" height="2.53" fill="#f6c21b"/>
<rect x="237.69" y="48.94" width="2.68" height="2.53" fill="#f6c21b"/>
<rect x="240.87" y="48.94" width="2.68" height="2.53" fill="#dfdfdf"/>
<rect x="244.04" y="48.94" width="2.68" height="2.53" fill="#f6c21b"/>
<rect x="247.22" y="48.94" width="2.68" height="2.53" fill="#dfdfdf"/>
<rect x="250.4" y="48.94" width="2.68" height="2.53" fill="#dfdfdf"/>
<rect x="253.57" y="48.94" width="2.68" height="2.53" fill="#dfdfdf"/>
<rect x="256.75" y="48.94" width="2.68" height="2.53" fill="#dfdfdf"/>
<rect x="259.93" y="48.94" width="2.68" height="2.53" fill="#dfdfdf"/>
<rect x="263.1" y="48.94" width="2.68" height="2.53" fill="#dfdfdf"/>
<rect x="266.28" y="48.94" width="2.68" height="2.53" fill="#dfdfdf"/>
<rect x="269.46" y="48.94" width="2.68" height="2.53" fill="#dfdfdf"/>
<rect x="272.63" y="48.94" width="2.68" height="2.53" fill="#dfdfdf"/>
<rect x="275.81" y="48.94" width="2.68" height="2.53" fill="#dfdfdf"/>
<rect x="278.99" y="48.94" width="2.68" height="2.53" fill="#f6c21b"/>
<rect x="282.16" y="48.94" width="2.68" height="2.53" fill="#dfdfdf"/>
<rect x="285.34" y="48.94" width="2.68" height="2.53" fill="#dfdfdf"/>
<rect x="288.51" y="48.94" width="2.68" height="2.53" fill="#dfdfdf"/>
<rect x="291.69" y="48.94" width="2.68" height="2.53" fill="#dfdfdf"/>
<rect x="294.87" y="48.94" width="2.68" height="2.53" fill="#dfdfdf"/>
<rect x="298.04" y="48.94" width="2.68" height="2.53" fill="#f6c21b"/>
<rect x="301.22" y="48.94" width="2.68" height="2.53" fill="#dfdfdf"/>
<rect x="304.4" y="48.94" width="2.68" height="2.53" fill="#dfdfdf"/>
<rect x="307.57" y="48.94" width="2.68" height="2.53" fill="#dfdfdf"/>
<rect x="310.75" y="48.94" width="2.68" height="2.53" fill="#dfdfdf"/>
<rect x="313.93" y="48.94" width="2.68" height="2.53" fill="#f6c21b"/>
<rect x="317.1" y="48.94" width="2.68" height="2.53" fill="#f6c21b"/>
<rect x="320.28" y="48.94" width="2.68" height="2.53" fill="#dfdfdf"/>
<rect x="323.46" y="48.94" width="2.68" height="2.53" fill="#dfdfdf"/>
<rect x="326.63" y="48.94" width="2.68" height="2.53" fill="#dfdfdf"/>
<rect x="329.81" y="48.94" width="2.68" height="2.53" fill="#dfdfdf"/>
<rect x="332.99" y="48.94" width="2.68" height="2.53" fill="#dfdfdf"/>
<rect x="336.16" y="48.94" width="2.68" height="2.53" fill="#dfdfdf"/>
<rect x="339.34" y="48.94" width="2.68" height="2.53" fill="#dfdfdf"/>
<rect x="342.51" y="48.94" width="2.68" height="2.53" fill="#dfdfdf"/>
<rect x="345.69" y="48.94" width="2.68" height="2.53" fill="#dfdfdf"/>
<rect x="348.87" y="48.94" width="2.68" height="2.53" fill="#dfdfdf"/>
<rect x="352.04" y="48.94" width="2.68" height="2.53" fill="#dfdfdf"/>
<rect x="355.22" y="48.94" width="2.68" height="2.53" fill="#dfdfdf"/>
<rect x="358.4" y="48.94" width="2.68" height="2.53" fill="#dfdfdf"/>
<rect x="361.57" y="48.94" width="2.68" height="2.53" fill="#dfdfdf"/>
<rect x="202.75" y="51.97" width="2.68" height="2.53" fill="#dfdfdf"/>
<rect x="205.93" y="51.97" width="2.68" height="2.53" fill="#dfdfdf"/>
<rect x="209.1" y="51.97" width="2.68" height="2.53" fill="#dfdfdf"/>
<rect x="212.28" y="51.97" width="2.68" height="2.53" fill="#dfdfdf"/>
<rect x="215.46" y="51.97" width="2.68" height="2.53" fill="#dfdfdf"/>
<rect x="218.63" y="51.97" width="2.68" height="2.53" fill="#dfdfdf"/>
<rect x="221.81" y="51.97" width="2.68" height="2.53" fill="#dfdfdf"/>
<rect x="224.99" y="51.97" width="2.68" height="2.53" fill="#dfdfdf"/>
<rect x="228.16" y="51.97" width="2.68" height="2.53" fill="#dfdfdf"/>
<rect x="231.34" y="51.97" width="2.68" height="2.53" fill="#dfdfdf"/>
<rect x="234.51" y="51.97" width="2.68" height="2.53" fill="#dfdfdf"/>
<rect x="237.69" y="51.97" width="2.68" height="2.53" fill="#dfdfdf"/>
<rect x="240.87" y="51.97" width="2.68" height="2.53" fill="#dfdfdf"/>
<rect x="244.04" y="51.97" width="2.68" height="2.53" fill="#dfdfdf"/>
<rect x="247.22" y="51.97" width="2.68" height="2.53" fill="#dfdfdf"/>
<rect x="250.4" y="51.97" width="2.68" height="2.53" fill="#dfdfdf"/>
<rect x="253.57" y="51.97" width="2.68" height="2.53" fill="#dfdfdf"/>
<rect x="256.75" y="51.97" width="2.68" height="2.53" fill="#dfdfdf"/>
<rect x="259.93" y="51.97" width="2.68" height="2.53" fill="#f6c21b"/>
<rect x="263.1" y="51.97" width="2.68" height="2.53" fill="#dfdfdf"/>
<rect x="266.28" y="51.97" width="2.68" height="2.53" fill="#dfdfdf"/>
<rect x="269.46" y="51.97" width="2.68" height="2.53" fill="#dfdfdf"/>
<rect x="272.63" y="51.97" width="2.68" height="2.53" fill="#dfdfdf"/>
<rect x="275.81" y="51.97" width="2.68" height="2.53" fill="#dfdfdf"/>
<rect x="278.99" y="51.97" width="2.68" height="2.53" fill="#dfdfdf"/>
<rect x="282.16" y="51.97" width="2.68" height="2.53" fill="#dfdfdf"/>
<rect x="285.34" y="51.97" width="2.68" height="2.53" fill="#dfdfdf"/>
<rect x="288.51" y="51.97" width="2.68" height="2.53" fill="#dfdfdf"/>
<rect x="291.69" y="51.97" width="2.68" height="2.53" fill="#dfdfdf"/>
<rect x="294.87" y="51.97" width="2.68" height="2.53" fill="#dfdfdf"/>
<rect x="298.04" y="51.97" width="2.68" height="2.53" fill="#dfdfdf"/>
<rect x="301.22" y="51.97" width="2.68" height="2.53" fill="#dfdfdf"/>
<rect x="304.4" y="51.97" width="2.68" height="2.53" fill="#dfdfdf"/>
<rect x="307.57" y="51.97" width="2.68" height="2.53" fill="#f6c21b"/>
<rect x="310.75" y="51.97" width="2.68" height="2.53" fill="#f6c21b"/>
<rect x="313.93" y="51.97" width="2.68" height="2.53" fill="#f6c21b"/>
<rect x="317.1" y="51.97" width="2.68" height="2.53" fill="#dfdfdf"/>
<rect x="320.28" y="51.97" width="2.68" height="2.53" fill="#dfdfdf"/>
<rect x="323.46" y="51.97" width="2.68" height="2.53" fill="#dfdfdf"/>
<rect x="326.63" y="51.97" width="2.68" height="2.53" fill="#dfdfdf"/>
<rect x="329.81" y="51.97" width="2.68" height="2.53" fill="#dfdfdf"/>
<rect x="332.99" y="51.97" width="2.68" height="2.53" fill="#dfdfdf"/>
<rect x="336.16" y="51.97" width="2.68" height="2.53" fill="#dfdfdf"/>
<rect x="339.34" y="51.97" width="2.68" height="2.53" fill="#dfdfdf"/>
<rect x="342.51" y="51.97" width="2.68" height="2.53" fill="#dfdfdf"/>
<rect x="345.69" y="51.97" width="2.68" height="2.53" fill="#dfdfdf"/>
<rect x="348.87" y="51.97" width="2.68" height="2.53" fill="#dfdfdf"/>
<rect x="352.04" y="51.97" width="2.68" height="2.53" fill="#dfdfdf"/>
<rect x="355.22" y="51.97" width="2.68" height="2.53" fill="#dfdfdf"/>
<rect x="358.4" y="51.97" width="2.68" height="2.53" fill="#dfdfdf"/>
<rect x="361.57" y="51.97" width="2.68" height="2.53" fill="#dfdfdf"/>
<rect x="202.75" y="54.99" width="2.68" height="2.53" fill="#f6c21b"/>
<rect x="205.93" y="54.99" width="2.68" height="2.53" fill="#dfdfdf"/>
<rect x="209.1" y="54.99" width="2.68" height="2.53" fill="#dfdfdf"/>
<rect x="212.28" y="54.99" width="2.68" height="2.53" fill="#dfdfdf"/>
<rect x="215.46" y="54.99" width="2.68" height="2.53" fill="#dfdfdf"/>
<rect x="218.63" y="54.99" width="2.68" height="2.53" fill="#dfdfdf"/>
<rect x="221.81" y="54.99" width="2.68" height="2.53" fill="#dfdfdf"/>
<rect x="224.99" y="54.99" width="2.68" height="2.53" fill="#dfdfdf"/>
<rect x="228.16" y="54.99" width="2.68" height="2.53" fill="#f6c21b"/>
<rect x="231.34" y="54.99" width="2.68" height="2.53" fill="#dfdfdf"/>
<rect x="234.51" y="54.99" width="2.68" height="2.53" fill="#dfdfdf"/>
<rect x="237.69" y="54.99" width="2.68" height="2.53" fill="#dfdfdf"/>
<rect x="240.87" y="54.99" width="2.68" height="2.53" fill="#dfdfdf"/>
<rect x="244.04" y="54.99" width="2.68" height="2.53" fill="#dfdfdf"/>
<rect x="247.22" y="54.99" width="2.68" height="2.53" fill="#f6c21b"/>
<rect x="250.4" y="54.99" width="2.68" height="2.53" fill="#f6c21b"/>
<rect x="253.57" y="54.99" width="2.68" height="2.53" fill="#dfdfdf"/>
<rect x="256.75" y="54.99" width="2.68" height="2.53" fill="#dfdfdf"/>
<rect x="259.93" y="54.99" width="2.68" height="2.53" fill="#dfdfdf"/>
<rect x="263.1" y="54.99" width="2.68" height="2.53" fill="#dfdfdf"/>
<rect x="266.28" y="54.99" width="2.68" height="2.53" fill="#dfdfdf"/>
<rect x="269.46" y="54.99" width="2.68" height="2.53" fill="#dfdfdf"/>
<rect x="272.63" y="54.99" width="2.68" height="2.53" fill="#f6c21b"/>
<rect x="275.81" y="54.99" width="2.68" height="2.53" fill="#dfdfdf"/>
<rect x="278.99" y="54.99" width="2.68" height="2.53" fill="#dfdfdf"/>
<rect x="282.16" y="54.99" width="2.68" height="2.53" fill="#dfdfdf"/>
<rect x="285.34" y="54.99" width="2.68" height="2.53" fill="#dfdfdf"/>
<rect x="288.51" y="54.99" width="2.68" height="2.53" fill="#dfdfdf"/>
<rect x="291.69" y="54.99" width="2.68" height="2.53" fill="#dfdfdf"/>
<rect x="294.87" y="54.99" width="2.68" height="2.53" fill="#dfdfdf"/>
<rect x="298.04" y="54.99" width="2.68" height="2.53" fill="#dfdfdf"/>
<rect x="301.22" y="54.99" width="2.68" height="2.53" fill="#dfdfdf"/>
<rect x="304.4" y="54.99" width="2.68" height="2.53" fill="#dfdfdf"/>
<rect x="307.57" y="54.99" width="2.68" height="2.53" fill="#f6c21b"/>
<rect x="310.75" y="54.99" width="2.68" height="2.53" fill="#dfdfdf"/>
<rect x="313.93" y="54.99" width="2.68" height="2.53" fill="#dfdfdf"/>
<rect x="317.1" y="54.99" width="2.68" height="2.53" fill="#dfdfdf"/>
<rect x="320.28" y="54.99" width="2.68" height="2.53" fill="#f6c21b"/>
<rect x="323.46" y="54.99" width="2.68" height="2.53" fill="#dfdfdf"/>
<rect x="326.63" y="54.99" width="2.68" height="2.53" fill="#dfdfdf"/>
<rect x="329.81" y="54.99" width="2.68" height="2.53" fill="#dfdfdf"/>
<rect x="332.99" y="54.99" width="2.68" height="2.53" fill="#dfdfdf"/>
<rect x="336.16" y="54.99" width="2.68" height="2.53" fill="#dfdfdf"/>
<rect x="339.34" y="54.99" width="2.68" height="2.53" fill="#dfdfdf"/>
<rect x="342.51" y="54.99" width="2.68" height="2.53" fill="#dfdfdf"/>
<rect x="345.69" y="54.99" width="2.68" height="2.53" fill="#dfdfdf"/>
<rect x="348.87" y="54.99" width="2.68" height="2.53" fill="#dfdfdf"/>
<rect x="352.04" y="54.99" width="2.68" height="2.53" fill="#dfdfdf"/>
<rect x="355.22" y="54.99" width="2.68" height="2.53" fill="#dfdfdf"/>
<rect x="358.4" y="54.99" width="2.68" height="2.53" fill="#dfdfdf"/>
<rect x="361.57" y="54.99" width="2.68" height="2.53" fill="#dfdfdf"/>
<rect x="202.75" y="58.02" width="2.68" height="2.53" fill="#dfdfdf"/>
<rect x="205.93" y="58.02" width="2.68" height="2.53" fill="#dfdfdf"/>
<rect x="209.1" y="58.02" width="2.68" height="2.53" fill="#dfdfdf"/>
<rect x="212.28" y="58.02" width="2.68" height="2.53" fill="#dfdfdf"/>
<rect x="215.46" y="58.02" width="2.68" height="2.53" fill="#dfdfdf"/>
<rect x="218.63" y="58.02" width="2.68" height="2.53" fill="#f6c21b"/>
<rect x="221.81" y="58.02" width="2.68" height="2.53" fill="#dfdfdf"/>
<rect x="224.99" y="58.02" width="2.68" height="2.53" fill="#dfdfdf"/>
<rect x="228.16" y="58.02" width="2.68" height="2.53" fill="#dfdfdf"/>
<rect x="231.34" y="58.02" width="2.68" height="2.53" fill="#dfdfdf"/>
<rect x="234.51" y="58.02" width="2.68" height="2.53" fill="#dfdfdf"/>
<rect x="237.69" y="58.02" width="2.68" height="2.53" fill="#dfdfdf"/>
<rect x="240.87" y="58.02" width="2.68" height="2.53" fill="#dfdfdf"/>
<rect x="244.04" y="58.02" width="2.68" height="2.53" fill="#dfdfdf"/>
<rect x="247.22" y="58.02" width="2.68" height="2.53" fill="#dfdfdf"/>
<rect x="250.4" y="58.02" width="2.68" height="2.53" fill="#dfdfdf"/>
<rect x="253.57" y="58.02" width="2.68" height="2.53" fill="#dfdfdf"/>
<rect x="256.75" y="58.02" width="2.68" height="2.53" fill="#dfdfdf"/>
<rect x="259.93" y="58.02" width="2.68" height="2.53" fill="#f6c21b"/>
<rect x="263.1" y="58.02" width="2.68" height="2.53" fill="#dfdfdf"/>
<rect x="266.28" y="58.02" width="2.68" height="2.53" fill="#dfdfdf"/>
<rect x="269.46" y="58.02" width="2.68" height="2.53" fill="#dfdfdf"/>
<rect x="272.63" y="58.02" width="2.68" height="2.53" fill="#dfdfdf"/>
<rect x="275.81" y="58.02" width="2.68" height="2.53" fill="#dfdfdf"/>
<rect x="278.99" y="58.02" width="2.68" height="2.53" fill="#dfdfdf"/>
<rect x="282.16" y="58.02" width="2.68" height="2.53" fill="#f6c21b"/>
<rect x="285.34" y="58.02" width="2.68" height="2.53" fill="#dfdfdf"/>
<rect x="288.51" y="58.02" width="2.68" height="2.53" fill="#dfdfdf"/>
<rect x="291.69" y="58.02" width="2.68" height="2.53" fill="#dfdfdf"/>
<rect x="294.87" y="58.02" width="2.68" height="2.53" fill="#dfdfdf"/>
<rect x="298.04" y="58.02" width="2.68" height="2.53" fill="#dfdfdf"/>
<rect x="301.22" y="58.02" width="2.68" height="2.53" fill="#dfdfdf"/>
<rect x="304.4" y="58.02" width="2.68" height="2.53" fill="#dfdfdf"/>
<rect x="307.57" y="58.02" width="2.68" height="2.53" fill="#dfdfdf"/>
<rect x="310.75" y="58.02" width="2.68" height="2.53" fill="#dfdfdf"/>
<rect x="313.93" y="58.02" width="2.68" height="2.53" fill="#dfdfdf"/>
<rect x="317.1" y="58.02" width="2.68" height="2.53" fill="#dfdfdf"/>
<rect x="320.28" y="58.02" width="2.68" height="2.53" fill="#dfdfdf"/>
<rect x="323.46" y="58.02" width="2.68" height="2.53" fill="#f6c21b"/>
<rect x="326.63" y="58.02" width="2.68" height="2.53" fill="#dfdfdf"/>
<rect x="329.81" y="58.02" width="2.68" height="2.53" fill="#dfdfdf"/>
<rect x="332.99" y="58.02" width="2.68" height="2.53" fill="#dfdfdf"/>
<rect x="336.16" y="58.02" width="2.68" height="2.53" fill="#dfdfdf"/>
<rect x="339.34" y="58.02" width="2.68" height="2.53" fill="#dfdfdf"/>
<rect x="342.51" y="58.02" width="2.68" height="2.53" fill="#dfdfdf"/>
<rect x="345.69" y="58.02" width="2.68" height="2.53" fill="#dfdfdf"/>
<rect x="348.87" y="58.02" width="2.68" height="2.53" fill="#dfdfdf"/>
<rect x="352.04" y="58.02" width="2.68" height="2.53" fill="#dfdfdf"/>
<rect x="355.22" y="58.02" width="2.68" height="2.53" fill="#dfdfdf"/>
<rect x="358.4" y="58.02" width="2.68" height="2.53" fill="#dfdfdf"/>
<rect x="361.57" y="58.02" width="2.68" height="2.53" fill="#dfdfdf"/>
<rect x="202.75" y="61.05" width="2.68" height="2.53" fill="#dfdfdf"/>
<rect x="205.93" y="61.05" width="2.68" height="2.53" fill="#dfdfdf"/>
<rect x="209.1" y="61.05" width="2.68" height="2.53" fill="#dfdfdf"/>
<rect x="212.28" y="61.05" width="2.68" height="2.53" fill="#dfdfdf"/>
<rect x="215.46" y="61.05" width="2.68" height="2.53" fill="#dfdfdf"/>
<rect x="218.63" y="61.05" width="2.68" height="2.53" fill="#dfdfdf"/>
<rect x="221.81" y="61.05" width="2.68" height="2.53" fill="#dfdfdf"/>
<rect x="224.99" y="61.05" width="2.68" height="2.53" fill="#dfdfdf"/>
<rect x="228.16" y="61.05" width="2.68" height="2.53" fill="#dfdfdf"/>
<rect x="231.34" y="61.05" width="2.68" height="2.53" fill="#dfdfdf"/>
<rect x="234.51" y="61.05" width="2.68" height="2.53" fill="#dfdfdf"/>
<rect x="237.69" y="61.05" width="2.68" height="2.53" fill="#dfdfdf"/>
<rect x="240.87" y="61.05" width="2.68" height="2.53" fill="#dfdfdf"/>
<rect x="244.04" y="61.05" width="2.68" height="2.53" fill="#dfdfdf"/>
<rect x="247.22" y="61.05" width="2.68" height="2.53" fill="#dfdfdf"/>
<rect x="250.4" y="61.05" width="2.68" height="2.53" fill="#dfdfdf"/>
<rect x="253.57" y="61.05" width="2.68" height="2.53" fill="#dfdfdf"/>
<rect x="256.75" y="61.05" width="2.68" height="2.53" fill="#dfdfdf"/>
<rect x="259.93" y="61.05" width="2.68" height="2.53" fill="#dfdfdf"/>
<rect x="263.1" y="61.05" width="2.68" height="2.53" fill="#dfdfdf"/>
<rect x="266.28" y="61.05" width="2.68" height="2.53" fill="#dfdfdf"/>
<rect x="269.46" y="61.05" width="2.68" height="2.53" fill="#dfdfdf"/>
<rect x="272.63" y="61.05" width="2.68" height="2.53" fill="#dfdfdf"/>
<rect x="275.81" y="61.05" width="2.68" height="2.53" fill="#dfdfdf"/>
<rect x="278.99" y="61.05" width="2.68" height="2.53" fill="#dfdfdf"/>
<rect x="282.16" y="61.05" width="2.68" height="2.53" fill="#dfdfdf"/>
<rect x="285.34" y="61.05" width="2.68" height="2.53" fill="#dfdfdf"/>
<rect x="288.51" y="61.05" width="2.68" height="2.53" fill="#dfdfdf"/>
<rect x="291.69" y="61.05" width="2.68" height="2.53" fill="#f6c21b"/>
<rect x="294.87" y="61.05" width="2.68" height="2.53" fill="#f6c21b"/>
<rect x="298.04" y="61.05" width="2.68" height="2.53" fill="#dfdfdf"/>
<rect x="301.22" y="61.05" width="2.68" height="2.53" fill="#f6c21b"/>
<rect x="304.4" y="61.05" width="2.68" height="2.53" fill="#dfdfdf"/>
<rect x="307.57" y="61.05" width="2.68" height="2.53" fill="#dfdfdf"/>
<rect x="310.75" y="61.05" width="2.68" height="2.53" fill="#dfdfdf"/>
<rect x="313.93" y="61.05" width="2.68" height="2.53" fill="#dfdfdf"/>
<rect x="317.1" y="61.05" width="2.68" height="2.53" fill="#dfdfdf"/>
<rect x="320.28" y="61.05" width="2.68" height="2.53" fill="#dfdfdf"/>
<rect x="323.46" y="61.05" width="2.68" height="2.53" fill="#dfdfdf"/>
<rect x="326.63" y="61.05" width="2.68" height="2.53" fill="#dfdfdf"/>
<rect x="329.81" y="61.05" width="2.68" height="2.53" fill="#dfdfdf"/>
<rect x="332.99" y="61.05" width="2.68" height="2.53" fill="#dfdfdf"/>
<rect x="336.16" y="61.05" width="2.68" height="2.53" fill="#dfdfdf"/>
<rect x="339.34" y="61.05" width="2.68" height="2.53" fill="#dfdfdf"/>
<rect x="342.51" y="61.05" width="2.68" height="2.53" fill="#dfdfdf"/>
<rect x="345.69" y="61.05" width="2.68" height="2.53" fill="#dfdfdf"/>
<rect x="348.87" y="61.05" width="2.68" height="2.53" fill="#dfdfdf"/>
<rect x="352.04" y="61.05" width="2.68" height="2.53" fill="#dfdfdf"/>
<rect x="355.22" y="61.05" width="2.68" height="2.53" fill="#dfdfdf"/>
<rect x="358.4" y="61.05" width="2.68" height="2.53" fill="#dfdfdf"/>
<rect x="361.57" y="61.05" width="2.68" height="2.53" fill="#dfdfdf"/>
<rect x="202.75" y="64.07" width="2.68" height="2.53" fill="#dfdfdf"/>
<rect x="205.93" y="64.07" width="2.68" height="2.53" fill="#dfdfdf"/>
<rect x="209.1" y="64.07" width="2.68" height="2.53" fill="#dfdfdf"/>
<rect x="212.28" y="64.07" width="2.68" height="2.53" fill="#dfdfdf"/>
<rect x="215.46" y="64.07" width="2.68" height="2.53" fill="#dfdfdf"/>
<rect x="218.63" y="64.07" width="2.68" height="2.53" fill="#dfdfdf"/>
<rect x="221.81" y="64.07" width="2.68" height="2.53" fill="#dfdfdf"/>
<rect x="224.99" y="64.07" width="2.68" height="2.53" fill="#dfdfdf"/>
<rect x="228.16" y="64.07" width="2.68" height="2.53" fill="#dfdfdf"/>
<rect x="231.34" y="64.07" width="2.68" height="2.53" fill="#dfdfdf"/>
<rect x="234.51" y="64.07" width="2.68" height="2.53" fill="#dfdfdf"/>
<rect x="237.69" y="64.07" width="2.68" height="2.53" fill="#dfdfdf"/>
<rect x="240.87" y="64.07" width="2.68" height="2.53" fill="#dfdfdf"/>
<rect x="244.04" y="64.07" width="2.68" height="2.53" fill="#f6c21b"/>
<rect x="247.22" y="64.07" width="2.68" height="2.53" fill="#dfdfdf"/>
<rect x="250.4" y="64.07" width="2.68" height="2.53" fill="#dfdfdf"/>
<rect x="253.57" y="64.07" width="2.68" height="2.53" fill="#dfdfdf"/>
<rect x="256.75" y="64.07" width="2.68" height="2.53" fill="#dfdfdf"/>
<rect x="259.93" y="64.07" width="2.68" height="2.53" fill="#dfdfdf"/>
<rect x="263.1" y="64.07" width="2.68" height="2.53" fill="#dfdfdf"/>
<rect x="266.28" y="64.07" width="2.68" height="2.53" fill="#dfdfdf"/>
<rect x="269.46" y="64.07" width="2.68" height="2.53" fill="#dfdfdf"/>
<rect x="272.63" y="64.07" width="2.68" height="2.53" fill="#dfdfdf"/>
<rect x="275.81" y="64.07" width="2.68" height="2.53" fill="#dfdfdf"/>
<rect x="278.99" y="64.07" width="2.68" height="2.53" fill="#dfdfdf"/>
<rect x="282.16" y="64.07" width="2.68" height="2.53" fill="#dfdfdf"/>
<rect x="285.34" y="64.07" width="2.68" height="2.53" fill="#dfdfdf"/>
<rect x="288.51" y="64.07" width="2.68" height="2.53" fill="#dfdfdf"/>
<rect x="291.69" y="64.07" width="2.68" height="2.53" fill="#dfdfdf"/>
<rect x="294.87" y="64.07" width="2.68" height="2.53" fill="#dfdfdf"/>
<rect x="298.04" y="64.07" width="2.68" height="2.53" fill="#dfdfdf"/>
<rect x="301.22" y="64.07" width="2.68" height="2.53" fill="#dfdfdf"/>
<rect x="304.4" y="64.07" width="2.68" height="2.53" fill="#dfdfdf"/>
<rect x="307.57" y="64.07" width="2.68" height="2.53" fill="#dfdfdf"/>
<rect x="310.75" y="64.07" width="2.68" height="2.53" fill="#dfdfdf"/>
<rect x="313.93" y="64.07" width="2.68" height="2.53" fill="#dfdfdf"/>
<rect x="317.1" y="64.07" width="2.68" height="2.53" fill="#dfdfdf"/>
<rect x="320.28" y="64.07" width="2.68" height="2.53" fill="#dfdfdf"/>
<rect x="323.46" y="64.07" width="2.68" height="2.53" fill="#dfdfdf"/>
<rect x="326.63" y="64.07" width="2.68" height="2.53" fill="#dfdfdf"/>
<rect x="329.81" y="64.07" width="2.68" height="2.53" fill="#dfdfdf"/>
<rect x="332.99" y="64.07" width="2.68" height="2.53" fill="#dfdfdf"/>
<rect x="336.16" y="64.07" width="2.68" height="2.53" fill="#dfdfdf"/>
<rect x="339.34" y="64.07" width="2.68" height="2.53" fill="#dfdfdf"/>
<rect x="342.51" y="64.07" width="2.68" height="2.53" fill="#dfdfdf"/>
<rect x="345.69" y="64.07" width="2.68" height="2.53" fill="#dfdfdf"/>
<rect x="348.87" y="64.07" width="2.68" height="2.53" fill="#dfdfdf"/>
<rect x="352.04" y="64.07" width="2.68" height="2.53" fill="#dfdfdf"/>
<rect x="355.22" y="64.07" width="2.68" height="2.53" fill="#dfdfdf"/>
<rect x="358.4" y="64.07" width="2.68" height="2.53" fill="#dfdfdf"/>
<rect x="361.57" y="64.07" width="2.68" height="2.53" fill="#dfdfdf"/>
<rect x="202.75" y="67.1" width="2.68" height="2.53" fill="#dfdfdf"/>
<rect x="205.93" y="67.1" width="2.68" height="2.53" fill="#dfdfdf"/>
<rect x="209.1" y="67.1" width="2.68" height="2.53" fill="#dfdfdf"/>
<rect x="212.28" y="67.1" width="2.68" height="2.53" fill="#dfdfdf"/>
<rect x="215.46" y="67.1" width="2.68" height="2.53" fill="#dfdfdf"/>
<rect x="218.63" y="67.1" width="2.68" height="2.53" fill="#dfdfdf"/>
<rect x="221.81" y="67.1" width="2.68" height="2.53" fill="#dfdfdf"/>
<rect x="224.99" y="67.1" width="2.68" height="2.53" fill="#dfdfdf"/>
<rect x="228.16" y="67.1" width="2.68" height="2.53" fill="#dfdfdf"/>
<rect x="231.34" y="67.1" width="2.68" height="2.53" fill="#dfdfdf"/>
<rect x="234.51" y="67.1" width="2.68" height="2.53" fill="#f6c21b"/>
<rect x="237.69" y="67.1" width="2.68" height="2.53" fill="#dfdfdf"/>
<rect x="240.87" y="67.1" width="2.68" height="2.53" fill="#dfdfdf"/>
<rect x="244.04" y="67.1" width="2.68" height="2.53" fill="#dfdfdf"/>
<rect x="247.22" y="67.1" width="2.68" height="2.53" fill="#dfdfdf"/>
<rect x="250.4" y="67.1" width="2.68" height="2.53" fill="#dfdfdf"/>
<rect x="253.57" y="67.1" width="2.68" height="2.53" fill="#dfdfdf"/>
<rect x="256.75" y="67.1" width="2.68" height="2.53" fill="#dfdfdf"/>
<rect x="259.93" y="67.1" width="2.68" height="2.53" fill="#dfdfdf"/>
<rect x="263.1" y="67.1" width="2.68" height="2.53" fill="#dfdfdf"/>
<rect x="266.28" y="67.1" width="2.68" height="2.53" fill="#dfdfdf"/>
<rect x="269.46" y="67.1" width="2.68" height="2.53" fill="#dfdfdf"/>
<rect x="272.63" y="67.1" width="2.68" height="2.53" fill="#dfdfdf"/>
<rect x="275.81" y="67.1" width="2.68" height="2.53" fill="#dfdfdf"/>
<rect x="278.99" y="67.1" width="2.68" height="2.53" fill="#dfdfdf"/>
<rect x="282.16" y="67.1" width="2.68" height="2.53" fill="#dfdfdf"/>
<rect x="285.34" y="67.1" width="2.68" height="2.53" fill="#dfdfdf"/>
<rect x="288.51" y="67.1" width="2.68" height="2.53" fill="#dfdfdf"/>
<rect x="291.69" y="67.1" width="2.68" height="2.53" fill="#dfdfdf"/>
<rect x="294.87" y="67.1" width="2.68" height="2.53" fill="#dfdfdf"/>
<rect x="298.04" y="67.1" width="2.68" height="2.53" fill="#dfdfdf"/>
<rect x="301.22" y="67.1" width="2.68" height="2.53" fill="#dfdfdf"/>
<rect x="304.4" y="67.1" width="2.68" height="2.53" fill="#dfdfdf"/>
<rect x="307.57" y="67.1" width="2.68" height="2.53" fill="#dfdfdf"/>
<rect x="310.75" y="67.1" width="2.68" height="2.53" fill="#dfdfdf"/>
<rect x="313.93" y="67.1" width="2.68" height="2.53" fill="#dfdfdf"/>
<rect x="317.1" y="67.1" width="2.68" height="2.53" fill="#dfdfdf"/>
<rect x="320.28" y="67.1" width="2.68" height="2.53" fill="#dfdfdf"/>
<rect x="323.46" y="67.1" width="2.68" height="2.53" fill="#dfdfdf"/>
<rect x="326.63" y="67.1" width="2.68" height="2.53" fill="#dfdfdf"/>
<rect x="329.81" y="67.1" width="2.68" height="2.53" fill="#dfdfdf"/>
<rect x="332.99" y="67.1" width="2.68" height="2.53" fill="#dfdfdf"/>
<rect x="336.16" y="67.1" width="2.68" height="2.53" fill="#dfdfdf"/>
<rect x="339.34" y="67.1" width="2.68" height="2.53" fill="#dfdfdf"/>
<rect x="342.51" y="67.1" width="2.68" height="2.53" fill="#dfdfdf"/>
<rect x="345.69" y="67.1" width="2.68" height="2.53" fill="#dfdfdf"/>
<rect x="348.87" y="67.1" width="2.68" height="2.53" fill="#dfdfdf"/>
<rect x="352.04" y="67.1" width="2.68" height="2.53" fill="#dfdfdf"/>
<rect x="355.22" y="67.1" width="2.68" height="2.53" fill="#dfdfdf"/>
<rect x="358.4" y="67.1" width="2.68" height="2.53" fill="#dfdfdf"/>
<rect x="361.57" y="67.1" width="2.68" height="2.53" fill="#dfdfdf"/>
<rect x="202.75" y="70.13" width="2.68" height="2.53" fill="#dfdfdf"/>
<rect x="205.93" y="70.13" width="2.68" height="2.53" fill="#dfdfdf"/>
<rect x="209.1" y="70.13" width="2.68" height="2.53" fill="#dfdfdf"/>
<rect x="212.28" y="70.13" width="2.68" height="2.53" fill="#dfdfdf"/>
<rect x="215.46" y="70.13" width="2.68" height="2.53" fill="#dfdfdf"/>
<rect x="218.63" y="70.13" width="2.68" height="2.53" fill="#dfdfdf"/>
<rect x="221.81" y="70.13" width="2.68" height="2.53" fill="#dfdfdf"/>
<rect x="224.99" y="70.13" width="2.68" height="2.53" fill="#dfdfdf"/>
<rect x="228.16" y="70.13" width="2.68" height="2.53" fill="#dfdfdf"/>
<rect x="231.34" y="70.13" width="2.68" height="2.53" fill="#dfdfdf"/>
<rect x="234.51" y="70.13" width="2.68" height="2.53" fill="#dfdfdf"/>
<rect x="237.69" y="70.13" width="2.68" height="2.53" fill="#dfdfdf"/>
<rect x="240.87" y="70.13" width="2.68" height="2.53" fill="#dfdfdf"/>
<rect x="244.04" y="70.13" width="2.68" height="2.53" fill="#dfdfdf"/>
<rect x="247.22" y="70.13" width="2.68" height="2.53" fill="#dfdfdf"/>
<rect x="250.4" y="70.13" width="2.68" height="2.53" fill="#dfdfdf"/>
<rect x="253.57" y="70.13" width="2.68" height="2.53" fill="#dfdfdf"/>
<rect x="256.75" y="70.13" width="2.68" height="2.53" fill="#dfdfdf"/>
<rect x="259.93" y="70.13" width="2.68" height="2.53" fill="#dfdfdf"/>
<rect x="263.1" y="70.13" width="2.68" height="2.53" fill="#dfdfdf"/>
<rect x="266.28" y="70.13" width="2.68" height="2.53" fill="#dfdfdf"/>
<rect x="269.46" y="70.13" width="2.68" height="2.53" fill="#dfdfdf"/>
<rect x="272.63" y="70.13" width="2.68" height="2.53" fill="#dfdfdf"/>
<rect x="275.81" y="70.13" width="2.68" height="2.53" fill="#dfdfdf"/>
<rect x="278.99" y="70.13" width="2.68" height="2.53" fill="#dfdfdf"/>
<rect x="282.16" y="70.13" width="2.68" height="2.53" fill="#dfdfdf"/>
<rect x="285.34" y="70.13" width="2.68" height="2.53" fill="#dfdfdf"/>
<rect x="288.51" y="70.13" width="2.68" height="2.53" fill="#dfdfdf"/>
<rect x="291.69" y="70.13" width="2.68" height="2.53" fill="#dfdfdf"/>
<rect x="294.87" y="70.13" width="2.68" height="2.53" fill="#dfdfdf"/>
<rect x="298.04" y="70.13" width="2.68" height="2.53" fill="#dfdfdf"/>
<rect x="301.22" y="70.13" width="2.68" height="2.53" fill="#dfdfdf"/>
<rect x="304.4" y="70.13" width="2.68" height="2.53" fill="#dfdfdf"/>
<rect x="307.57" y="70.13" width="2.68" height="2.53" fill="#dfdfdf"/>
<rect x="310.75" y="70.13" width="2.68" height="2.53" fill="#dfdfdf"/>
<rect x="313.93" y="70.13" width="2.68" height="2.53" fill="#dfdfdf"/>
<rect x="317.1" y="70.13" width="2.68" height="2.53" fill="#dfdfdf"/>
<rect x="320.28" y="70.13" width="2.68" height="2.53" fill="#dfdfdf"/>
<rect x="323.46" y="70.13" width="2.68" height="2.53" fill="#dfdfdf"/>
<rect x="326.63" y="70.13" width="2.68" height="2.53" fill="#f6c21b"/>
<rect x="329.81" y="70.13" width="2.68" height="2.53" fill="#dfdfdf"/>
<rect x="332.99" y="70.13" width="2.68" height="2.53" fill="#dfdfdf"/>
<rect x="336.16" y="70.13" width="2.68" height="2.53" fill="#dfdfdf"/>
<rect x="339.34" y="70.13" width="2.68" height="2.53" fill="#dfdfdf"/>
<rect x="342.51" y="70.13" width="2.68" height="2.53" fill="#dfdfdf"/>
<rect x="345.69" y="70.13" width="2.68" height="2.53" fill="#dfdfdf"/>
<rect x="348.87" y="70.13" width="2.68" height="2.53" fill="#dfdfdf"/>
<rect x="352.04" y="70.13" width="2.68" height="2.53" fill="#dfdfdf"/>
<rect x="355.22" y="70.13" width="2.68" height="2.53" fill="#dfdfdf"/>
<rect x="358.4" y="70.13" width="2.68" height="2.53" fill="#dfdfdf"/>
<rect x="361.57" y="70.13" width="2.68" height="2.53" fill="#dfdfdf"/>
<rect x="202.75" y="73.16" width="2.68" height="2.53" fill="#dfdfdf"/>
<rect x="205.93" y="73.16" width="2.68" height="2.53" fill="#dfdfdf"/>
<rect x="209.1" y="73.16" width="2.68" height="2.53" fill="#dfdfdf"/>
<rect x="212.28" y="73.16" width="2.68" height="2.53" fill="#dfdfdf"/>
<rect x="215.46" y="73.16" width="2.68" height="2.53" fill="#dfdfdf"/>
<rect x="218.63" y="73.16" width="2.68" height="2.53" fill="#dfdfdf"/>
<rect x="221.81" y="73.16" width="2.68" height="2.53" fill="#dfdfdf"/>
<rect x="224.99" y="73.16" width="2.68" height="2.53" fill="#dfdfdf"/>
<rect x="228.16" y="73.16" width="2.68" height="2.53" fill="#f6c21b"/>
<rect x="231.34" y="73.16" width="2.68" height="2.53" fill="#f6c21b"/>
<rect x="234.51" y="73.16" width="2.68" height="2.53" fill="#dfdfdf"/>
<rect x="237.69" y="73.16" width="2.68" height="2.53" fill="#dfdfdf"/>
<rect x="240.87" y="73.16" width="2.68" height="2.53" fill="#dfdfdf"/>
<rect x="244.04" y="73.16" width="2.68" height="2.53" fill="#dfdfdf"/>
<rect x="247.22" y="73.16" width="2.68" height="2.53" fill="#dfdfdf"/>
<rect x="250.4" y="73.16" width="2.68" height="2.53" fill="#dfdfdf"/>
<rect x="253.57" y="73.16" width="2.68" height="2.53" fill="#dfdfdf"/>
<rect x="256.75" y="73.16" width="2.68" height="2.53" fill="#dfdfdf"/>
<rect x="259.93" y="73.16" width="2.68" height="2.53" fill="#dfdfdf"/>
<rect x="263.1" y="73.16" width="2.68" height="2.53" fill="#dfdfdf"/>
<rect x="266.28" y="73.16" width="2.68" height="2.53" fill="#dfdfdf"/>
<rect x="269.46" y="73.16" width="2.68" height="2.53" fill="#dfdfdf"/>
<rect x="272.63" y="73.16" width="2.68" height="2.53" fill="#dfdfdf"/>
<rect x="275.81" y="73.16" width="2.68" height="2.53" fill="#dfdfdf"/>
<rect x="278.99" y="73.16" width="2.68" height="2.53" fill="#dfdfdf"/>
<rect x="282.16" y="73.16" width="2.68" height="2.53" fill="#dfdfdf"/>
<rect x="285.34" y="73.16" width="2.68" height="2.53" fill="#dfdfdf"/>
<rect x="288.51" y="73.16" width="2.68" height="2.53" fill="#f6c21b"/>
<rect x="291.69" y="73.16" width="2.68" height="2.53" fill="#dfdfdf"/>
<rect x="294.87" y="73.16" width="2.68" height="2.53" fill="#dfdfdf"/>
<rect x="298.04" y="73.16" width="2.68" height="2.53" fill="#dfdfdf"/>
<rect x="301.22" y="73.16" width="2.68" height="2.53" fill="#f6c21b"/>
<rect x="304.4" y="73.16" width="2.68" height="2.53" fill="#dfdfdf"/>
<rect x="307.57" y="73.16" width="2.68" height="2.53" fill="#dfdfdf"/>
<rect x="310.75" y="73.16" width="2.68" height="2.53" fill="#dfdfdf"/>
<rect x="313.93" y="73.16" width="2.68" height="2.53" fill="#dfdfdf"/>
<rect x="317.1" y="73.16" width="2.68" height="2.53" fill="#f6c21b"/>
<rect x="320.28" y="73.16" width="2.68" height="2.53" fill="#dfdfdf"/>
<rect x="323.46" y="73.16" width="2.68" height="2.53" fill="#dfdfdf"/>
<rect x="326.63" y="73.16" width="2.68" height="2.53" fill="#dfdfdf"/>
<rect x="329.81" y="73.16" width="2.68" height="2.53" fill="#f6c21b"/>
<rect x="332.99" y="73.16" width="2.68" height="2.53" fill="#dfdfdf"/>
<rect x="336.16" y="73.16" width="2.68" height="2.53" fill="#dfdfdf"/>
<rect x="339.34" y="73.16" width="2.68" height="2.53" fill="#dfdfdf"/>
<rect x="342.51" y="73.16" width="2.68" height="2.53" fill="#dfdfdf"/>
<rect x="345.69" y="73.16" width="2.68" height="2.53" fill="#dfdfdf"/>
<rect x="348.87" y="73.16" width="2.68" height="2.53" fill="#dfdfdf"/>
<rect x="352.04" y="73.16" width="2.68" height="2.53" fill="#dfdfdf"/>
<rect x="355.22" y="73.16" width="2.68" height="2.53" fill="#dfdfdf"/>
<rect x="358.4" y="73.16" width="2.68" height="2.53" fill="#dfdfdf"/>
<rect x="361.57" y="73.16" width="2.68" height="2.53" fill="#dfdfdf"/>
<rect x="202.75" y="76.18" width="2.68" height="2.53" fill="#dfdfdf"/>
<rect x="205.93" y="76.18" width="2.68" height="2.53" fill="#dfdfdf"/>
<rect x="209.1" y="76.18" width="2.68" height="2.53" fill="#dfdfdf"/>
<rect x="212.28" y="76.18" width="2.68" height="2.53" fill="#dfdfdf"/>
<rect x="215.46" y="76.18" width="2.68" height="2.53" fill="#dfdfdf"/>
<rect x="218.63" y="76.18" width="2.68" height="2.53" fill="#dfdfdf"/>
<rect x="221.81" y="76.18" width="2.68" height="2.53" fill="#dfdfdf"/>
<rect x="224.99" y="76.18" width="2.68" height="2.53" fill="#dfdfdf"/>
<rect x="228.16" y="76.18" width="2.68" height="2.53" fill="#dfdfdf"/>
<rect x="231.34" y="76.18" width="2.68" height="2.53" fill="#dfdfdf"/>
<rect x="234.51" y="76.18" width="2.68" height="2.53" fill="#dfdfdf"/>
<rect x="237.69" y="76.18" width="2.68" height="2.53" fill="#dfdfdf"/>
<rect x="240.87" y="76.18" width="2.68" height="2.53" fill="#dfdfdf"/>
<rect x="244.04" y="76.18" width="2.68" height="2.53" fill="#f6c21b"/>
<rect x="247.22" y="76.18" width="2.68" height="2.53" fill="#dfdfdf"/>
<rect x="250.4" y="76.18" width="2.68" height="2.53" fill="#dfdfdf"/>
<rect x="253.57" y="76.18" width="2.68" height="2.53" fill="#dfdfdf"/>
<rect x="256.75" y="76.18" width="2.68" height="2.53" fill="#dfdfdf"/>
<rect x="259.93" y="76.18" width="2.68" height="2.53" fill="#dfdfdf"/>
<rect x="263.1" y="76.18" width="2.68" height="2.53" fill="#dfdfdf"/>
<rect x="266.28" y="76.18" width="2.68" height="2.53" fill="#dfdfdf"/>
<rect x="269.46" y="76.18" width="2.68" height="2.53" fill="#dfdfdf"/>
<rect x="272.63" y="76.18" width="2.68" height="2.53" fill="#dfdfdf"/>
<rect x="275.81" y="76.18" width="2.68" height="2.53" fill="#dfdfdf"/>
<rect x="278.99" y="76.18" width="2.68" height="2.53" fill="#dfdfdf"/>
<rect x="282.16" y="76.18" width="2.68" height="2.53" fill="#dfdfdf"/>
<rect x="285.34" y="76.18" width="2.68" height="2.53" fill="#dfdfdf"/>
<rect x="288.51" y="76.18" width="2.68" height="2.53" fill="#dfdfdf"/>
<rect x="291.69" y="76.18" width="2.68" height="2.53" fill="#dfdfdf"/>
<rect x="294.87" y="76.18" width="2.68" height="2.53" fill="#dfdfdf"/>
<rect x="298.04" y="76.18" width="2.68" height="2.53" fill="#dfdfdf"/>
<rect x="301.22" y="76.18" width="2.68" height="2.53" fill="#dfdfdf"/>
<rect x="304.4" y="76.18" width="2.68" height="2.53" fill="#dfdfdf"/>
<rect x="307.57" y="76.18" width="2.68" height="2.53" fill="#dfdfdf"/>
<rect x="310.75" y="76.18" width="2.68" height="2.53" fill="#dfdfdf"/>
<rect x="313.93" y="76.18" width="2.68" height="2.53" fill="#dfdfdf"/>
<rect x="317.1" y="76.18" width="2.68" height="2.53" fill="#dfdfdf"/>
<rect x="320.28" y="76.18" width="2.68" height="2.53" fill="#dfdfdf"/>
<rect x="323.46" y="76.18" width="2.68" height="2.53" fill="#dfdfdf"/>
<rect x="326.63" y="76.18" width="2.68" height="2.53" fill="#dfdfdf"/>
<rect x="329.81" y="76.18" width="2.68" height="2.53" fill="#dfdfdf"/>
<rect x="332.99" y="76.18" width="2.68" height="2.53" fill="#dfdfdf"/>
<rect x="336.16" y="76.18" width="2.68" height="2.53" fill="#dfdfdf"/>
<rect x="339.34" y="76.18" width="2.68" height="2.53" fill="#dfdfdf"/>
<rect x="342.51" y="76.18" width="2.68" height="2.53" fill="#dfdfdf"/>
<rect x="345.69" y="76.18" width="2.68" height="2.53" fill="#dfdfdf"/>
<rect x="348.87" y="76.18" width="2.68" height="2.53" fill="#dfdfdf"/>
<rect x="352.04" y="76.18" width="2.68" height="2.53" fill="#dfdfdf"/>
<rect x="355.22" y="76.18" width="2.68" height="2.53" fill="#dfdfdf"/>
<rect x="358.4" y="76.18" width="2.68" height="2.53" fill="#dfdfdf"/>
<rect x="361.57" y="76.18" width="2.68" height="2.53" fill="#dfdfdf"/>
<rect x="202.75" y="79.21" width="2.68" height="2.53" fill="#dfdfdf"/>
<rect x="205.93" y="79.21" width="2.68" height="2.53" fill="#dfdfdf"/>
<rect x="209.1" y="79.21" width="2.68" height="2.53" fill="#dfdfdf"/>
<rect x="212.28" y="79.21" width="2.68" height="2.53" fill="#dfdfdf"/>
<rect x="215.46" y="79.21" width="2.68" height="2.53" fill="#dfdfdf"/>
<rect x="218.63" y="79.21" width="2.68" height="2.53" fill="#dfdfdf"/>
<rect x="221.81" y="79.21" width="2.68" height="2.53" fill="#dfdfdf"/>
<rect x="224.99" y="79.21" width="2.68" height="2.53" fill="#dfdfdf"/>
<rect x="228.16" y="79.21" width="2.68" height="2.53" fill="#dfdfdf"/>
<rect x="231.34" y="79.21" width="2.68" height="2.53" fill="#dfdfdf"/>
<rect x="234.51" y="79.21" width="2.68" height="2.53" fill="#f6c21b"/>
<rect x="237.69" y="79.21" width="2.68" height="2.53" fill="#dfdfdf"/>
<rect x="240.87" y="79.21" width="2.68" height="2.53" fill="#dfdfdf"/>
<rect x="244.04" y="79.21" width="2.68" height="2.53" fill="#f6c21b"/>
<rect x="247.22" y="79.21" width="2.68" height="2.53" fill="#dfdfdf"/>
<rect x="250.4" y="79.21" width="2.68" height="2.53" fill="#dfdfdf"/>
<rect x="253.57" y="79.21" width="2.68" height="2.53" fill="#f6c21b"/>
<rect x="256.75" y="79.21" width="2.68" height="2.53" fill="#dfdfdf"/>
<rect x="259.93" y="79.21" width="2.68" height="2.53" fill="#dfdfdf"/>
<rect x="263.1" y="79.21" width="2.68" height="2.53" fill="#dfdfdf"/>
<rect x="266.28" y="79.21" width="2.68" height="2.53" fill="#dfdfdf"/>
<rect x="269.46" y="79.21" width="2.68" height="2.53" fill="#dfdfdf"/>
<rect x="272.63" y="79.21" width="2.68" height="2.53" fill="#dfdfdf"/>
<rect x="275.81" y="79.21" width="2.68" height="2.53" fill="#dfdfdf"/>
<rect x="278.99" y="79.21" width="2.68" height="2.53" fill="#dfdfdf"/>
<rect x="282.16" y="79.21" width="2.68" height="2.53" fill="#dfdfdf"/>
<rect x="285.34" y="79.21" width="2.68" height="2.53" fill="#dfdfdf"/>
<rect x="288.51" y="79.21" width="2.68" height="2.53" fill="#dfdfdf"/>
<rect x="291.69" y="79.21" width="2.68" height="2.53" fill="#dfdfdf"/>
<rect x="294.87" y="79.21" width="2.68" height="2.53" fill="#dfdfdf"/>
<rect x="298.04" y="79.21" width="2.68" height="2.53" fill="#dfdfdf"/>
<rect x="301.22" y="79.21" width="2.68" height="2.53" fill="#dfdfdf"/>
<rect x="304.4" y="79.21" width="2.68" height="2.53" fill="#dfdfdf"/>
<rect x="307.57" y="79.21" width="2.68" height="2.53" fill="#dfdfdf"/>
<rect x="310.75" y="79.21" width="2.68" height="2.53" fill="#dfdfdf"/>
<rect x="313.93" y="79.21" width="2.68" height="2.53" fill="#dfdfdf"/>
<rect x="317.1" y="79.21" width="2.68" height="2.53" fill="#dfdfdf"/>
<rect x="320.28" y="79.21" width="2.68" height="2.53" fill="#dfdfdf"/>
<rect x="323.46" y="79.21" width="2.68" height="2.53" fill="#dfdfdf"/>
<rect x="326.63" y="79.21" width="2.68" height="2.53" fill="#dfdfdf"/>
<rect x="329.81" y="79.21" width="2.68" height="2.53" fill="#dfdfdf"/>
<rect x="332.99" y="79.21" width="2.68" height="2.53" fill="#dfdfdf"/>
<rect x="336.16" y="79.21" width="2.68" height="2.53" fill="#dfdfdf"/>
<rect x="339.34" y="79.21" width="2.68" height="2.53" fill="#dfdfdf"/>
<rect x="342.51" y="79.21" width="2.68" height="2.53" fill="#dfdfdf"/>
<rect x="345.69" y="79.21" width="2.68" height="2.53" fill="#dfdfdf"/>
<rect x="348.87" y="79.21" width="2.68" height="2.53" fill="#dfdfdf"/>
<rect x="352.04" y="79.21" width="2.68" height="2.53" fill="#dfdfdf"/>
<rect x="355.22" y="79.21" width="2.68" height="2.53" fill="#dfdfdf"/>
<rect x="358.4" y="79.21" width="2.68" height="2.53" fill="#dfdfdf"/>
<rect x="361.57" y="79.21" width="2.68" height="2.53" fill="#dfdfdf"/>
<rect x="202.75" y="82.24" width="2.68" height="2.53" fill="#dfdfdf"/>
<rect x="205.93" y="82.24" width="2.68" height="2.53" fill="#dfdfdf"/>
<rect x="209.1" y="82.24" width="2.68" height="2.53" fill="#dfdfdf"/>
<rect x="212.28" y="82.24" width="2.68" height="2.53" fill="#dfdfdf"/>
<rect x="215.46" y="82.24" width="2.68" height="2.53" fill="#dfdfdf"/>
<rect x="218.63" y="82.24" width="2.68" height="2.53" fill="#dfdfdf"/>
<rect x="221.81" y="82.24" width="2.68" height="2.53" fill="#dfdfdf"/>
<rect x="224.99" y="82.24" width="2.68" height="2.53" fill="#dfdfdf"/>
<rect x="228.16" y="82.24" width="2.68" height="2.53" fill="#dfdfdf"/>
<rect x="231.34" y="82.24" width="2.68" height="2.53" fill="#dfdfdf"/>
<rect x="234.51" y="82.24" width="2.68" height="2.53" fill="#dfdfdf"/>
<rect x="237.69" y="82.24" width="2.68" height="2.53" fill="#dfdfdf"/>
<rect x="240.87" y="82.24" width="2.68" height="2.53" fill="#dfdfdf"/>
<rect x="244.04" y="82.24" width="2.68" height="2.53" fill="#dfdfdf"/>
<rect x="247.22" y="82.24" width="2.68" height="2.53" fill="#dfdfdf"/>
<rect x="250.4" y="82.24" width="2.68" height="2.53" fill="#dfdfdf"/>
<rect x="253.57" y="82.24" width="2.68" height="2.53" fill="#dfdfdf"/>
<rect x="256.75" y="82.24" width="2.68" height="2.53" fill="#dfdfdf"/>
<rect x="259.93" y="82.24" width="2.68" height="2.53" fill="#dfdfdf"/>
<rect x="263.1" y="82.24" width="2.68" height="2.53" fill="#dfdfdf"/>
<rect x="266.28" y="82.24" width="2.68" height="2.53" fill="#dfdfdf"/>
<rect x="269.46" y="82.24" width="2.68" height="2.53" fill="#dfdfdf"/>
<rect x="272.63" y="82.24" width="2.68" height="2.53" fill="#dfdfdf"/>
<rect x="275.81" y="82.24" width="2.68" height="2.53" fill="#dfdfdf"/>
<rect x="278.99" y="82.24" width="2.68" height="2.53" fill="#dfdfdf"/>
<rect x="282.16" y="82.24" width="2.68" height="2.53" fill="#f6c21b"/>
<rect x="285.34" y="82.24" width="2.68" height="2.53" fill="#dfdfdf"/>
<rect x="288.51" y="82.24" width="2.68" height="2.53" fill="#dfdfdf"/>
<rect x="291.69" y="82.24" width="2.68" height="2.53" fill="#dfdfdf"/>
<rect x="294.87" y="82.24" width="2.68" height="2.53" fill="#dfdfdf"/>
<rect x="298.04" y="82.24" width="2.68" height="2.53" fill="#dfdfdf"/>
<rect x="301.22" y="82.24" width="2.68" height="2.53" fill="#dfdfdf"/>
<rect x="304.4" y="82.24" width="2.68" height="2.53" fill="#dfdfdf"/>
<rect x="307.57" y="82.24" width="2.68" height="2.53" fill="#dfdfdf"/>
<rect x="310.75" y="82.24" width="2.68" height="2.53" fill="#dfdfdf"/>
<rect x="313.93" y="82.24" width="2.68" height="2.53" fill="#dfdfdf"/>
<rect x="317.1" y="82.24" width="2.68" height="2.53" fill="#dfdfdf"/>
<rect x="320.28" y="82.24" width="2.68" height="2.53" fill="#dfdfdf"/>
<rect x="323.46" y="82.24" width="2.68" height="2.53" fill="#dfdfdf"/>
<rect x="326.63" y="82.24" width="2.68" height="2.53" fill="#dfdfdf"/>
<rect x="329.81" y="82.24" width="2.68" height="2.53" fill="#dfdfdf"/>
<rect x="332.99" y="82.24" width="2.68" height="2.53" fill="#dfdfdf"/>
<rect x="336.16" y="82.24" width="2.68" height="2.53" fill="#dfdfdf"/>
<rect x="339.34" y="82.24" width="2.68" height="2.53" fill="#dfdfdf"/>
<rect x="342.51" y="82.24" width="2.68" height="2.53" fill="#dfdfdf"/>
<rect x="345.69" y="82.24" width="2.68" height="2.53" fill="#dfdfdf"/>
<rect x="348.87" y="82.24" width="2.68" height="2.53" fill="#dfdfdf"/>
<rect x="352.04" y="82.24" width="2.68" height="2.53" fill="#dfdfdf"/>
<rect x="355.22" y="82.24" width="2.68" height="2.53" fill="#dfdfdf"/>
<rect x="358.4" y="82.24" width="2.68" height="2.53" fill="#dfdfdf"/>
<rect x="361.57" y="82.24" width="2.68" height="2.53" fill="#dfdfdf"/>
<rect x="202.75" y="85.26" width="2.68" height="2.53" fill="#dfdfdf"/>
<rect x="205.93" y="85.26" width="2.68" height="2.53" fill="#dfdfdf"/>
<rect x="209.1" y="85.26" width="2.68" height="2.53" fill="#dfdfdf"/>
<rect x="212.28" y="85.26" width="2.68" height="2.53" fill="#dfdfdf"/>
<rect x="215.46" y="85.26" width="2.68" height="2.53" fill="#dfdfdf"/>
<rect x="218.63" y="85.26" width="2.68" height="2.53" fill="#dfdfdf"/>
<rect x="221.81" y="85.26" width="2.68" height="2.53" fill="#dfdfdf"/>
<rect x="224.99" y="85.26" width="2.68" height="2.53" fill="#dfdfdf"/>
<rect x="228.16" y="85.26" width="2.68" height="2.53" fill="#dfdfdf"/>
<rect x="231.34" y="85.26" width="2.68" height="2.53" fill="#dfdfdf"/>
<rect x="234.51" y="85.26" width="2.68" height="2.53" fill="#dfdfdf"/>
<rect x="237.69" y="85.26" width="2.68" height="2.53" fill="#dfdfdf"/>
<rect x="240.87" y="85.26" width="2.68" height="2.53" fill="#dfdfdf"/>
<rect x="244.04" y="85.26" width="2.68" height="2.53" fill="#dfdfdf"/>
<rect x="247.22" y="85.26" width="2.68" height="2.53" fill="#dfdfdf"/>
<rect x="250.4" y="85.26" width="2.68" height="2.53" fill="#dfdfdf"/>
<rect x="253.57" y="85.26" width="2.68" height="2.53" fill="#dfdfdf"/>
<rect x="256.75" y="85.26" width="2.68" height="2.53" fill="#dfdfdf"/>
<rect x="259.93" y="85.26" width="2.68" height="2.53" fill="#dfdfdf"/>
<rect x="263.1" y="85.26" width="2.68" height="2.53" fill="#dfdfdf"/>
<rect x="266.28" y="85.26" width="2.68" height="2.53" fill="#dfdfdf"/>
<rect x="269.46" y="85.26" width="2.68" height="2.53" fill="#dfdfdf"/>
<rect x="272.63" y="85.26" width="2.68" height="2.53" fill="#dfdfdf"/>
<rect x="275.81" y="85.26" width="2.68" height="2.53" fill="#dfdfdf"/>
<rect x="278.99" y="85.26" width="2.68" height="2.53" fill="#dfdfdf"/>
<rect x="282.16" y="85.26" width="2.68" height="2.53" fill="#dfdfdf"/>
<rect x="285.34" y="85.26" width="2.68" height="2.53" fill="#dfdfdf"/>
<rect x="288.51" y="85.26" width="2.68" height="2.53" fill="#dfdfdf"/>
<rect x="291.69" y="85.26" width="2.68" height="2.53" fill="#dfdfdf"/>
<rect x="294.87" y="85.26" width="2.68" height="2.53" fill="#dfdfdf"/>
<rect x="298.04" y="85.26" width="2.68" height="2.53" fill="#dfdfdf"/>
<rect x="301.22" y="85.26" width="2.68" height="2.53" fill="#dfdfdf"/>
<rect x="304.4" y="85.26" width="2.68" height="2.53" fill="#dfdfdf"/>
<rect x="307.57" y="85.26" width="2.68" height="2.53" fill="#dfdfdf"/>
<rect x="310.75" y="85.26" width="2.68" height="2.53" fill="#dfdfdf"/>
<rect x="313.93" y="85.26" width="2.68" height="2.53" fill="#dfdfdf"/>
<rect x="317.1" y="85.26" width="2.68" height="2.53" fill="#dfdfdf"/>
<rect x="320.28" y="85.26" width="2.68" height="2.53" fill="#dfdfdf"/>
<rect x="323.46" y="85.26" width="2.68" height="2.53" fill="#dfdfdf"/>
<rect x="326.63" y="85.26" width="2.68" height="2.53" fill="#dfdfdf"/>
<rect x="329.81" y="85.26" width="2.68" height="2.53" fill="#dfdfdf"/>
<rect x="332.99" y="85.26" width="2.68" height="2.53" fill="#f6c21b"/>
<rect x="336.16" y="85.26" width="2.68" height="2.53" fill="#dfdfdf"/>
<rect x="339.34" y="85.26" width="2.68" height="2.53" fill="#dfdfdf"/>
<rect x="342.51" y="85.26" width="2.68" height="2.53" fill="#dfdfdf"/>
<rect x="345.69" y="85.26" width="2.68" height="2.53" fill="#dfdfdf"/>
<rect x="348.87" y="85.26" width="2.68" height="2.53" fill="#dfdfdf"/>
<rect x="352.04" y="85.26" width="2.68" height="2.53" fill="#dfdfdf"/>
<rect x="355.22" y="85.26" width="2.68" height="2.53" fill="#dfdfdf"/>
<rect x="358.4" y="85.26" width="2.68" height="2.53" fill="#dfdfdf"/>
<rect x="361.57" y="85.26" width="2.68" height="2.53" fill="#dfdfdf"/>
<rect x="202.75" y="88.29" width="2.68" height="2.53" fill="#dfdfdf"/>
<rect x="205.93" y="88.29" width="2.68" height="2.53" fill="#dfdfdf"/>
<rect x="209.1" y="88.29" width="2.68" height="2.53" fill="#dfdfdf"/>
<rect x="212.28" y="88.29" width="2.68" height="2.53" fill="#dfdfdf"/>
<rect x="215.46" y="88.29" width="2.68" height="2.53" fill="#dfdfdf"/>
<rect x="218.63" y="88.29" width="2.68" height="2.53" fill="#dfdfdf"/>
<rect x="221.81" y="88.29" width="2.68" height="2.53" fill="#dfdfdf"/>
<rect x="224.99" y="88.29" width="2.68" height="2.53" fill="#dfdfdf"/>
<rect x="228.16" y="88.29" width="2.68" height="2.53" fill="#dfdfdf"/>
<rect x="231.34" y="88.29" width="2.68" height="2.53" fill="#dfdfdf"/>
<rect x="234.51" y="88.29" width="2.68" height="2.53" fill="#dfdfdf"/>
<rect x="237.69" y="88.29" width="2.68" height="2.53" fill="#dfdfdf"/>
<rect x="240.87" y="88.29" width="2.68" height="2.53" fill="#dfdfdf"/>
<rect x="244.04" y="88.29" width="2.68" height="2.53" fill="#dfdfdf"/>
<rect x="247.22" y="88.29" width="2.68" height="2.53" fill="#f6c21b"/>
<rect x="250.4" y="88.29" width="2.68" height="2.53" fill="#dfdfdf"/>
<rect x="253.57" y="88.29" width="2.68" height="2.53" fill="#dfdfdf"/>
<rect x="256.75" y="88.29" width="2.68" height="2.53" fill="#dfdfdf"/>
<rect x="259.93" y="88.29" width="2.68" height="2.53" fill="#dfdfdf"/>
<rect x="263.1" y="88.29" width="2.68" height="2.53" fill="#dfdfdf"/>
<rect x="266.28" y="88.29" width="2.68" height="2.53" fill="#dfdfdf"/>
<rect x="269.46" y="88.29" width="2.68" height="2.53" fill="#dfdfdf"/>
<rect x="272.63" y="88.29" width="2.68" height="2.53" fill="#dfdfdf"/>
<rect x="275.81" y="88.29" width="2.68" height="2.53" fill="#dfdfdf"/>
<rect x="278.99" y="88.29" width="2.68" height="2.53" fill="#dfdfdf"/>
<rect x="282.16" y="88.29" width="2.68" height="2.53" fill="#dfdfdf"/>
<rect x="285.34" y="88.29" width="2.68" height="2.53" fill="#dfdfdf"/>
<rect x="288.51" y="88.29" width="2.68" height="2.53" fill="#dfdfdf"/>
<rect x="291.69" y="88.29" width="2.68" height="2.53" fill="#dfdfdf"/>
<rect x="294.87" y="88.29" width="2.68" height="2.53" fill="#dfdfdf"/>
<rect x="298.04" y="88.29" width="2.68" height="2.53" fill="#dfdfdf"/>
<rect x="301.22" y="88.29" width="2.68" height="2.53" fill="#dfdfdf"/>
<rect x="304.4" y="88.29" width="2.68" height="2.53" fill="#dfdfdf"/>
<rect x="307.57" y="88.29" width="2.68" height="2.53" fill="#dfdfdf"/>
<rect x="310.75" y="88.29" width="2.68" height="2.53" fill="#dfdfdf"/>
<rect x="313.93" y="88.29" width="2.68" height="2.53" fill="#dfdfdf"/>
<rect x="317.1" y="88.29" width="2.68" height="2.53" fill="#dfdfdf"/>
<rect x="320.28" y="88.29" width="2.68" height="2.53" fill="#dfdfdf"/>
<rect x="323.46" y="88.29" width="2.68" height="2.53" fill="#dfdfdf"/>
<rect x="326.63" y="88.29" width="2.68" height="2.53" fill="#dfdfdf"/>
<rect x="329.81" y="88.29" width="2.68" height="2.53" fill="#dfdfdf"/>
<rect x="332.99" y="88.29" width="2.68" height="2.53" fill="#dfdfdf"/>
<rect x="336.16" y="88.29" width="2.68" height="2.53" fill="#dfdfdf"/>
<rect x="339.34" y="88.29" width="2.68" height="2.53" fill="#dfdfdf"/>
<rect x="342.51" y="88.29" width="2.68" height="2.53" fill="#dfdfdf"/>
<rect x="345.69" y="88.29" width="2.68" height="2.53" fill="#dfdfdf"/>
<rect x="348.87" y="88.29" width="2.68" height="2.53" fill="#dfdfdf"/>
<rect x="352.04" y="88.29" width="2.68" height="2.53" fill="#dfdfdf"/>
<rect x="355.22" y="88.29" width="2.68" height="2.53" fill="#dfdfdf"/>
<rect x="358.4" y="88.29" width="2.68" height="2.53" fill="#dfdfdf"/>
<rect x="361.57" y="88.29" width="2.68" height="2.53" fill="#dfdfdf"/>
<rect x="202.75" y="91.32" width="2.68" height="2.53" fill="#f6c21b"/>
<rect x="205.93" y="91.32" width="2.68" height="2.53" fill="#dfdfdf"/>
<rect x="209.1" y="91.32" width="2.68" height="2.53" fill="#dfdfdf"/>
<rect x="212.28" y="91.32" width="2.68" height="2.53" fill="#dfdfdf"/>
<rect x="215.46" y="91.32" width="2.68" height="2.53" fill="#dfdfdf"/>
<rect x="218.63" y="91.32" width="2.68" height="2.53" fill="#dfdfdf"/>
<rect x="221.81" y="91.32" width="2.68" height="2.53" fill="#dfdfdf"/>
<rect x="224.99" y="91.32" width="2.68" height="2.53" fill="#dfdfdf"/>
<rect x="228.16" y="91.32" width="2.68" height="2.53" fill="#dfdfdf"/>
<rect x="231.34" y="91.32" width="2.68" height="2.53" fill="#dfdfdf"/>
<rect x="234.51" y="91.32" width="2.68" height="2.53" fill="#dfdfdf"/>
<rect x="237.69" y="91.32" width="2.68" height="2.53" fill="#dfdfdf"/>
<rect x="240.87" y="91.32" width="2.68" height="2.53" fill="#dfdfdf"/>
<rect x="244.04" y="91.32" width="2.68" height="2.53" fill="#dfdfdf"/>
<rect x="247.22" y="91.32" width="2.68" height="2.53" fill="#dfdfdf"/>
<rect x="250.4" y="91.32" width="2.68" height="2.53" fill="#dfdfdf"/>
<rect x="253.57" y="91.32" width="2.68" height="2.53" fill="#dfdfdf"/>
<rect x="256.75" y="91.32" width="2.68" height="2.53" fill="#dfdfdf"/>
<rect x="259.93" y="91.32" width="2.68" height="2.53" fill="#dfdfdf"/>
<rect x="263.1" y="91.32" width="2.68" height="2.53" fill="#dfdfdf"/>
<rect x="266.28" y="91.32" width="2.68" height="2.53" fill="#dfdfdf"/>
<rect x="269.46" y="91.32" width="2.68" height="2.53" fill="#dfdfdf"/>
<rect x="272.63" y="91.32" width="2.68" height="2.53" fill="#dfdfdf"/>
<rect x="275.81" y="91.32" width="2.68" height="2.53" fill="#dfdfdf"/>
<rect x="278.99" y="91.32" width="2.68" height="2.53" fill="#dfdfdf"/>
<rect x="282.16" y="91.32" width="2.68" height="2.53" fill="#dfdfdf"/>
<rect x="285.34" y="91.32" width="2.68" height="2.53" fill="#dfdfdf"/>
<rect x="288.51" y="91.32" width="2.68" height="2.53" fill="#dfdfdf"/>
<rect x="291.69" y="91.32" width="2.68" height="2.53" fill="#dfdfdf"/>
<rect x="294.87" y="91.32" width="2.68" height="2.53" fill="#dfdfdf"/>
<rect x="298.04" y="91.32" width="2.68" height="2.53" fill="#dfdfdf"/>
<rect x="301.22" y="91.32" width="2.68" height="2.53" fill="#dfdfdf"/>
<rect x="304.4" y="91.32" width="2.68" height="2.53" fill="#dfdfdf"/>
<rect x="307.57" y="91.32" width="2.68" height="2.53" fill="#dfdfdf"/>
<rect x="310.75" y="91.32" width="2.68" height="2.53" fill="#dfdfdf"/>
<rect x="313.93" y="91.32" width="2.68" height="2.53" fill="#dfdfdf"/>
<rect x="317.1" y="91.32" width="2.68" height="2.53" fill="#dfdfdf"/>
<rect x="320.28" y="91.32" width="2.68" height="2.53" fill="#dfdfdf"/>
<rect x="323.46" y="91.32" width="2.68" height="2.53" fill="#dfdfdf"/>
<rect x="326.63" y="91.32" width="2.68" height="2.53" fill="#dfdfdf"/>
<rect x="329.81" y="91.32" width="2.68" height="2.53" fill="#dfdfdf"/>
<rect x="332.99" y="91.32" width="2.68" height="2.53" fill="#dfdfdf"/>
<rect x="336.16" y="91.32" width="2.68" height="2.53" fill="#dfdfdf"/>
<rect x="339.34" y="91.32" width="2.68" height="2.53" fill="#dfdfdf"/>
<rect x="342.51" y="91.32" width="2.68" height="2.53" fill="#dfdfdf"/>
<rect x="345.69" y="91.32" width="2.68" height="2.53" fill="#dfdfdf"/>
<rect x="348.87" y="91.32" width="2.68" height="2.53" fill="#dfdfdf"/>
<rect x="352.04" y="91.32" width="2.68" height="2.53" fill="#dfdfdf"/>
<rect x="355.22" y="91.32" width="2.68" height="2.53" fill="#dfdfdf"/>
<rect x="358.4" y="91.32" width="2.68" height="2.53" fill="#dfdfdf"/>
<rect x="361.57" y="91.32" width="2.68" height="2.53" fill="#dfdfdf"/>
<rect x="202.75" y="94.34" width="2.68" height="2.53" fill="#dfdfdf"/>
<rect x="205.93" y="94.34" width="2.68" height="2.53" fill="#dfdfdf"/>
<rect x="209.1" y="94.34" width="2.68" height="2.53" fill="#dfdfdf"/>
<rect x="212.28" y="94.34" width="2.68" height="2.53" fill="#dfdfdf"/>
<rect x="215.46" y="94.34" width="2.68" height="2.53" fill="#dfdfdf"/>
<rect x="218.63" y="94.34" width="2.68" height="2.53" fill="#dfdfdf"/>
<rect x="221.81" y="94.34" width="2.68" height="2.53" fill="#dfdfdf"/>
<rect x="224.99" y="94.34" width="2.68" height="2.53" fill="#dfdfdf"/>
<rect x="228.16" y="94.34" width="2.68" height="2.53" fill="#dfdfdf"/>
<rect x="231.34" y="94.34" width="2.68" height="2.53" fill="#dfdfdf"/>
<rect x="234.51" y="94.34" width="2.68" height="2.53" fill="#dfdfdf"/>
<rect x="237.69" y="94.34" width="2.68" height="2.53" fill="#dfdfdf"/>
<rect x="240.87" y="94.34" width="2.68" height="2.53" fill="#dfdfdf"/>
<rect x="244.04" y="94.34" width="2.68" height="2.53" fill="#dfdfdf"/>
<rect x="247.22" y="94.34" width="2.68" height="2.53" fill="#dfdfdf"/>
<rect x="250.4" y="94.34" width="2.68" height="2.53" fill="#dfdfdf"/>
<rect x="253.57" y="94.34" width="2.68" height="2.53" fill="#dfdfdf"/>
<rect x="256.75" y="94.34" width="2.68" height="2.53" fill="#dfdfdf"/>
<rect x="259.93" y="94.34" width="2.68" height="2.53" fill="#dfdfdf"/>
<rect x="263.1" y="94.34" width="2.68" height="2.53" fill="#dfdfdf"/>
<rect x="266.28" y="94.34" width="2.68" height="2.53" fill="#dfdfdf"/>
<rect x="269.46" y="94.34" width="2.68" height="2.53" fill="#dfdfdf"/>
<rect x="272.63" y="94.34" width="2.68" height="2.53" fill="#dfdfdf"/>
<rect x="275.81" y="94.34" width="2.68" height="2.53" fill="#dfdfdf"/>
<rect x="278.99" y="94.34" width="2.68" height="2.53" fill="#dfdfdf"/>
<rect x="282.16" y="94.34" width="2.68" height="2.53" fill="#dfdfdf"/>
<rect x="285.34" y="94.34" width="2.68" height="2.53" fill="#dfdfdf"/>
<rect x="288.51" y="94.34" width="2.68" height="2.53" fill="#dfdfdf"/>
<rect x="291.69" y="94.34" width="2.68" height="2.53" fill="#dfdfdf"/>
<rect x="294.87" y="94.34" width="2.68" height="2.53" fill="#dfdfdf"/>
<rect x="298.04" y="94.34" width="2.68" height="2.53" fill="#dfdfdf"/>
<rect x="301.22" y="94.34" width="2.68" height="2.53" fill="#dfdfdf"/>
<rect x="304.4" y="94.34" width="2.68" height="2.53" fill="#dfdfdf"/>
<rect x="307.57" y="94.34" width="2.68" height="2.53" fill="#dfdfdf"/>
<rect x="310.75" y="94.34" width="2.68" height="2.53" fill="#dfdfdf"/>
<rect x="313.93" y="94.34" width="2.68" height="2.53" fill="#dfdfdf"/>
<rect x="317.1" y="94.34" width="2.68" height="2.53" fill="#dfdfdf"/>
<rect x="320.28" y="94.34" width="2.68" height="2.53" fill="#dfdfdf"/>
<rect x="323.46" y="94.34" width="2.68" height="2.53" fill="#dfdfdf"/>
<rect x="326.63" y="94.34" width="2.68" height="2.53" fill="#dfdfdf"/>
<rect x="329.81" y="94.34" width="2.68" height="2.53" fill="#dfdfdf"/>
<rect x="332.99" y="94.34" width="2.68" height="2.53" fill="#dfdfdf"/>
<rect x="336.16" y="94.34" width="2.68" height="2.53" fill="#dfdfdf"/>
<rect x="339.34" y="94.34" width="2.68" height="2.53" fill="#dfdfdf"/>
<rect x="342.51" y="94.34" width="2.68" height="2.53" fill="#dfdfdf"/>
<rect x="345.69" y="94.34" width="2.68" height="2.53" fill="#dfdfdf"/>
<rect x="348.87" y="94.34" width="2.68" height="2.53" fill="#dfdfdf"/>
<rect x="352.04" y="94.34" width="2.68" height="2.53" fill="#dfdfdf"/>
<rect x="355.22" y="94.34" width="2.68" height="2.53" fill="#dfdfdf"/>
<rect x="358.4" y="94.34" width="2.68" height="2.53" fill="#dfdfdf"/>
<rect x="361.57" y="94.34" width="2.68" height="2.53" fill="#dfdfdf"/>
<rect x="202.75" y="97.37" width="2.68" height="2.53" fill="#dfdfdf"/>
<rect x="205.93" y="97.37" width="2.68" height="2.53" fill="#dfdfdf"/>
<rect x="209.1" y="97.37" width="2.68" height="2.53" fill="#dfdfdf"/>
<rect x="212.28" y="97.37" width="2.68" height="2.53" fill="#dfdfdf"/>
<rect x="215.46" y="97.37" width="2.68" height="2.53" fill="#dfdfdf"/>
<rect x="218.63" y="97.37" width="2.68" height="2.53" fill="#dfdfdf"/>
<rect x="221.81" y="97.37" width="2.68" height="2.53" fill="#dfdfdf"/>
<rect x="224.99" y="97.37" width="2.68" height="2.53" fill="#dfdfdf"/>
<rect x="228.16" y="97.37" width="2.68" height="2.53" fill="#dfdfdf"/>
<rect x="231.34" y="97.37" width="2.68" height="2.53" fill="#dfdfdf"/>
<rect x="234.51" y="97.37" width="2.68" height="2.53" fill="#dfdfdf"/>
<rect x="237.69" y="97.37" width="2.68" height="2.53" fill="#dfdfdf"/>
<rect x="240.87" y="97.37" width="2.68" height="2.53" fill="#dfdfdf"/>
<rect x="244.04" y="97.37" width="2.68" height="2.53" fill="#dfdfdf"/>
<rect x="247.22" y="97.37" width="2.68" height="2.53" fill="#dfdfdf"/>
<rect x="250.4" y="97.37" width="2.68" height="2.53" fill="#dfdfdf"/>
<rect x="253.57" y="97.37" width="2.68" height="2.53" fill="#dfdfdf"/>
<rect x="256.75" y="97.37" width="2.68" height="2.53" fill="#dfdfdf"/>
<rect x="259.93" y="97.37" width="2.68" height="2.53" fill="#dfdfdf"/>
<rect x="263.1" y="97.37" width="2.68" height="2.53" fill="#dfdfdf"/>
<rect x="266.28" y="97.37" width="2.68" height="2.53" fill="#dfdfdf"/>
<rect x="269.46" y="97.37" width="2.68" height="2.53" fill="#dfdfdf"/>
<rect x="272.63" y="97.37" width="2.68" height="2.53" fill="#dfdfdf"/>
<rect x="275.81" y="97.37" width="2.68" height="2.53" fill="#dfdfdf"/>
<rect x="278.99" y="97.37" width="2.68" height="2.53" fill="#dfdfdf"/>
<rect x="282.16" y="97.37" width="2.68" height="2.53" fill="#dfdfdf"/>
<rect x="285.34" y="97.37" width="2.68" height="2.53" fill="#dfdfdf"/>
<rect x="288.51" y="97.37" width="2.68" height="2.53" fill="#dfdfdf"/>
<rect x="291.69" y="97.37" width="2.68" height="2.53" fill="#dfdfdf"/>
<rect x="294.87" y="97.37" width="2.68" height="2.53" fill="#dfdfdf"/>
<rect x="298.04" y="97.37" width="2.68" height="2.53" fill="#dfdfdf"/>
<rect x="301.22" y="97.37" width="2.68" height="2.53" fill="#dfdfdf"/>
<rect x="304.4" y="97.37" width="2.68" height="2.53" fill="#dfdfdf"/>
<rect x="307.57" y="97.37" width="2.68" height="2.53" fill="#dfdfdf"/>
<rect x="310.75" y="97.37" width="2.68" height="2.53" fill="#dfdfdf"/>
<rect x="313.93" y="97.37" width="2.68" height="2.53" fill="#dfdfdf"/>
<rect x="317.1" y="97.37" width="2.68" height="2.53" fill="#dfdfdf"/>
<rect x="320.28" y="97.37" width="2.68" height="2.53" fill="#dfdfdf"/>
<rect x="323.46" y="97.37" width="2.68" height="2.53" fill="#dfdfdf"/>
<rect x="326.63" y="97.37" width="2.68" height="2.53" fill="#dfdfdf"/>
<rect x="329.81" y="97.37" width="2.68" height="2.53" fill="#dfdfdf"/>
<rect x="332.99" y="97.37" width="2.68" height="2.53" fill="#dfdfdf"/>
<rect x="336.16" y="97.37" width="2.68" height="2.53" fill="#dfdfdf"/>
<rect x="339.34" y="97.37" width="2.68" height="2.53" fill="#dfdfdf"/>
<rect x="342.51" y="97.37" width="2.68" height="2.53" fill="#dfdfdf"/>
<rect x="345.69" y="97.37" width="2.68" height="2.53" fill="#dfdfdf"/>
<rect x="348.87" y="97.37" width="2.68" height="2.53" fill="#dfdfdf"/>
<rect x="352.04" y="97.37" width="2.68" height="2.53" fill="#dfdfdf"/>
<rect x="355.22" y="97.37" width="2.68" height="2.53" fill="#dfdfdf"/>
<rect x="358.4" y="97.37" width="2.68" height="2.53" fill="#dfdfdf"/>
<rect x="361.57" y="97.37" width="2.68" height="2.53" fill="#dfdfdf"/>
<rect x="202.75" y="100.4" width="2.68" height="2.53" fill="#dfdfdf"/>
<rect x="205.93" y="100.4" width="2.68" height="2.53" fill="#dfdfdf"/>
<rect x="209.1" y="100.4" width="2.68" height="2.53" fill="#dfdfdf"/>
<rect x="212.28" y="100.4" width="2.68" height="2.53" fill="#dfdfdf"/>
<rect x="215.46" y="100.4" width="2.68" height="2.53" fill="#dfdfdf"/>
<rect x="218.63" y="100.4" width="2.68" height="2.53" fill="#dfdfdf"/>
<rect x="221.81" y="100.4" width="2.68" height="2.53" fill="#dfdfdf"/>
<rect x="224.99" y="100.4" width="2.68" height="2.53" fill="#dfdfdf"/>
<rect x="228.16" y="100.4" width="2.68" height="2.53" fill="#dfdfdf"/>
<rect x="231.34" y="100.4" width="2.68" height="2.53" fill="#dfdfdf"/>
<rect x="234.51" y="100.4" width="2.68" height="2.53" fill="#dfdfdf"/>
<rect x="237.69" y="100.4" width="2.68" height="2.53" fill="#dfdfdf"/>
<rect x="240.87" y="100.4" width="2.68" height="2.53" fill="#dfdfdf"/>
<rect x="244.04" y="100.4" width="2.68" height="2.53" fill="#dfdfdf"/>
<rect x="247.22" y="100.4" width="2.68" height="2.53" fill="#dfdfdf"/>
<rect x="250.4" y="100.4" width="2.68" height="2.53" fill="#dfdfdf"/>
<rect x="253.57" y="100.4" width="2.68" height="2.53" fill="#dfdfdf"/>
<rect x="256.75" y="100.4" width="2.68" height="2.53" fill="#dfdfdf"/>
<rect x="259.93" y="100.4" width="2.68" height="2.53" fill="#dfdfdf"/>
<rect x="263.1" y="100.4" width="2.68" height="2.53" fill="#dfdfdf"/>
<rect x="266.28" y="100.4" width="2.68" height="2.53" fill="#dfdfdf"/>
<rect x="269.46" y="100.4" width="2.68" height="2.53" fill="#dfdfdf"/>
<rect x="272.63" y="100.4" width="2.68" height="2.53" fill="#dfdfdf"/>
<rect x="275.81" y="100.4" width="2.68" height="2.53" fill="#dfdfdf"/>
<rect x="278.99" y="100.4" width="2.68" height="2.53" fill="#dfdfdf"/>
<rect x="282.16" y="100.4" width="2.68" height="2.53" fill="#dfdfdf"/>
<rect x="285.34" y="100.4" width="2.68" height="2.53" fill="#dfdfdf"/>
<rect x="288.51" y="100.4" width="2.68" height="2.53" fill="#dfdfdf"/>
<rect x="291.69" y="100.4" width="2.68" height="2.53" fill="#dfdfdf"/>
<rect x="294.87" y="100.4" width="2.68" height="2.53" fill="#dfdfdf"/>
<rect x="298.04" y="100.4" width="2.68" height="2.53" fill="#dfdfdf"/>
<rect x="301.22" y="100.4" width="2.68" height="2.53" fill="#dfdfdf"/>
<rect x="304.4" y="100.4" width="2.68" height="2.53" fill="#dfdfdf"/>
<rect x="307.57" y="100.4" width="2.68" height="2.53" fill="#dfdfdf"/>
<rect x="310.75" y="100.4" width="2.68" height="2.53" fill="#dfdfdf"/>
<rect x="313.93" y="100.4" width="2.68" height="2.53" fill="#dfdfdf"/>
<rect x="317.1" y="100.4" width="2.68" height="2.53" fill="#dfdfdf"/>
<rect x="320.28" y="100.4" width="2.68" height="2.53" fill="#dfdfdf"/>
<rect x="323.46" y="100.4" width="2.68" height="2.53" fill="#dfdfdf"/>
<rect x="326.63" y="100.4" width="2.68" height="2.53" fill="#dfdfdf"/>
<rect x="329.81" y="100.4" width="2.68" height="2.53" fill="#dfdfdf"/>
<rect x="332.99" y="100.4" width="2.68" height="2.53" fill="#dfdfdf"/>
<rect x="336.16" y="100.4" width="2.68" height="2.53" fill="#dfdfdf"/>
<rect x="339.34" y="100.4" width="2.68" height="2.53" fill="#dfdfdf"/>
<rect x="342.51" y="100.4" width="2.68" height="2.53" fill="#dfdfdf"/>
<rect x="345.69" y="100.4" width="2.68" height="2.53" fill="#dfdfdf"/>
<rect x="348.87" y="100.4" width="2.68" height="2.53" fill="#dfdfdf"/>
<rect x="352.04" y="100.4" width="2.68" height="2.53" fill="#dfdfdf"/>
<rect x="355.22" y="100.4" width="2.68" height="2.53" fill="#dfdfdf"/>
<rect x="358.4" y="100.4" width="2.68" height="2.53" fill="#dfdfdf"/>
<rect x="361.57" y="100.4" width="2.68" height="2.53" fill="#dfdfdf"/>
<rect x="202.75" y="103.43" width="2.68" height="2.53" fill="#dfdfdf"/>
<rect x="205.93" y="103.43" width="2.68" height="2.53" fill="#dfdfdf"/>
<rect x="209.1" y="103.43" width="2.68" height="2.53" fill="#dfdfdf"/>
<rect x="212.28" y="103.43" width="2.68" height="2.53" fill="#dfdfdf"/>
<rect x="215.46" y="103.43" width="2.68" height="2.53" fill="#dfdfdf"/>
<rect x="218.63" y="103.43" width="2.68" height="2.53" fill="#dfdfdf"/>
<rect x="221.81" y="103.43" width="2.68" height="2.53" fill="#dfdfdf"/>
<rect x="224.99" y="103.43" width="2.68" height="2.53" fill="#dfdfdf"/>
<rect x="228.16" y="103.43" width="2.68" height="2.53" fill="#dfdfdf"/>
<rect x="231.34" y="103.43" width="2.68" height="2.53" fill="#dfdfdf"/>
<rect x="234.51" y="103.43" width="2.68" height="2.53" fill="#dfdfdf"/>
<rect x="237.69" y="103.43" width="2.68" height="2.53" fill="#dfdfdf"/>
<rect x="240.87" y="103.43" width="2.68" height="2.53" fill="#dfdfdf"/>
<rect x="244.04" y="103.43" width="2.68" height="2.53" fill="#dfdfdf"/>
<rect x="247.22" y="103.43" width="2.68" height="2.53" fill="#dfdfdf"/>
<rect x="250.4" y="103.43" width="2.68" height="2.53" fill="#dfdfdf"/>
<rect x="253.57" y="103.43" width="2.68" height="2.53" fill="#dfdfdf"/>
<rect x="256.75" y="103.43" width="2.68" height="2.53" fill="#dfdfdf"/>
<rect x="259.93" y="103.43" width="2.68" height="2.53" fill="#dfdfdf"/>
<rect x="263.1" y="103.43" width="2.68" height="2.53" fill="#dfdfdf"/>
<rect x="266.28" y="103.43" width="2.68" height="2.53" fill="#dfdfdf"/>
<rect x="269.46" y="103.43" width="2.68" height="2.53" fill="#dfdfdf"/>
<rect x="272.63" y="103.43" width="2.68" height="2.53" fill="#dfdfdf"/>
<rect x="275.81" y="103.43" width="2.68" height="2.53" fill="#dfdfdf"/>
<rect x="278.99" y="103.43" width="2.68" height="2.53" fill="#dfdfdf"/>
<rect x="282.16" y="103.43" width="2.68" height="2.53" fill="#dfdfdf"/>
<rect x="285.34" y="103.43" width="2.68" height="2.53" fill="#dfdfdf"/>
<rect x="288.51" y="103.43" width="2.68" height="2.53" fill="#dfdfdf"/>
<rect x="291.69" y="103.43" width="2.68" height="2.53" fill="#dfdfdf"/>
<rect x="294.87" y="103.43" width="2.68" height="2.53" fill="#dfdfdf"/>
<rect x="298.04" y="103.43" width="2.68" height="2.53" fill="#dfdfdf"/>
<rect x="301.22" y="103.43" width="2.68" height="2.53" fill="#dfdfdf"/>
<rect x="304.4" y="103.43" width="2.68" height="2.53" fill="#dfdfdf"/>
<rect x="307.57" y="103.43" width="2.68" height="2.53" fill="#dfdfdf"/>
<rect x="310.75" y="103.43" width="2.68" height="2.53" fill="#dfdfdf"/>
<rect x="313.93" y="103.43" width="2.68" height="2.53" fill="#dfdfdf"/>
<rect x="317.1" y="103.43" width="2.68" height="2.53" fill="#dfdfdf"/>
<rect x="320.28" y="103.43" width="2.68" height="2.53" fill="#dfdfdf"/>
<rect x="323.46" y="103.43" width="2.68" height="2.53" fill="#dfdfdf"/>
<rect x="326.63" y="103.43" width="2.68" height="2.53" fill="#dfdfdf"/>
<rect x="329.81" y="103.43" width="2.68" height="2.53" fill="#dfdfdf"/>
<rect x="332.99" y="103.43" width="2.68" height="2.53" fill="#dfdfdf"/>
<rect x="336.16" y="103.43" width="2.68" height="2.53" fill="#dfdfdf"/>
<rect x="339.34" y="103.43" width="2.68" height="2.53" fill="#dfdfdf"/>
<rect x="342.51" y="103.43" width="2.68" height="2.53" fill="#dfdfdf"/>
<rect x="345.69" y="103.43" width="2.68" height="2.53" fill="#dfdfdf"/>
<rect x="348.87" y="103.43" width="2.68" height="2.53" fill="#dfdfdf"/>
<rect x="352.04" y="103.43" width="2.68" height="2.53" fill="#dfdfdf"/>
<rect x="355.22" y="103.43" width="2.68" height="2.53" fill="#dfdfdf"/>
<rect x="358.4" y="103.43" width="2.68" height="2.53" fill="#dfdfdf"/>
<rect x="361.57" y="103.43" width="2.68" height="2.53" fill="#dfdfdf"/>
<rect x="202.75" y="106.45" width="2.68" height="2.53" fill="#dfdfdf"/>
<rect x="205.93" y="106.45" width="2.68" height="2.53" fill="#dfdfdf"/>
<rect x="209.1" y="106.45" width="2.68" height="2.53" fill="#dfdfdf"/>
<rect x="212.28" y="106.45" width="2.68" height="2.53" fill="#dfdfdf"/>
<rect x="215.46" y="106.45" width="2.68" height="2.53" fill="#dfdfdf"/>
<rect x="218.63" y="106.45" width="2.68" height="2.53" fill="#dfdfdf"/>
<rect x="221.81" y="106.45" width="2.68" height="2.53" fill="#dfdfdf"/>
<rect x="224.99" y="106.45" width="2.68" height="2.53" fill="#dfdfdf"/>
<rect x="228.16" y="106.45" width="2.68" height="2.53" fill="#dfdfdf"/>
<rect x="231.34" y="106.45" width="2.68" height="2.53" fill="#dfdfdf"/>
<rect x="234.51" y="106.45" width="2.68" height="2.53" fill="#dfdfdf"/>
<rect x="237.69" y="106.45" width="2.68" height="2.53" fill="#dfdfdf"/>
<rect x="240.87" y="106.45" width="2.68" height="2.53" fill="#dfdfdf"/>
<rect x="244.04" y="106.45" width="2.68" height="2.53" fill="#dfdfdf"/>
<rect x="247.22" y="106.45" width="2.68" height="2.53" fill="#dfdfdf"/>
<rect x="250.4" y="106.45" width="2.68" height="2.53" fill="#dfdfdf"/>
<rect x="253.57" y="106.45" width="2.68" height="2.53" fill="#dfdfdf"/>
<rect x="256.75" y="106.45" width="2.68" height="2.53" fill="#dfdfdf"/>
<rect x="259.93" y="106.45" width="2.68" height="2.53" fill="#dfdfdf"/>
<rect x="263.1" y="106.45" width="2.68" height="2.53" fill="#dfdfdf"/>
<rect x="266.28" y="106.45" width="2.68" height="2.53" fill="#dfdfdf"/>
<rect x="269.46" y="106.45" width="2.68" height="2.53" fill="#dfdfdf"/>
<rect x="272.63" y="106.45" width="2.68" height="2.53" fill="#dfdfdf"/>
<rect x="275.81" y="106.45" width="2.68" height="2.53" fill="#dfdfdf"/>
<rect x="278.99" y="106.45" width="2.68" height="2.53" fill="#dfdfdf"/>
<rect x="282.16" y="106.45" width="2.68" height="2.53" fill="#dfdfdf"/>
<rect x="285.34" y="106.45" width="2.68" height="2.53" fill="#dfdfdf"/>
<rect x="288.51" y="106.45" width="2.68" height="2.53" fill="#dfdfdf"/>
<rect x="291.69" y="106.45" width="2.68" height="2.53" fill="#dfdfdf"/>
<rect x="294.87" y="106.45" width="2.68" height="2.53" fill="#dfdfdf"/>
<rect x="298.04" y="106.45" width="2.68" height="2.53" fill="#dfdfdf"/>
<rect x="301.22" y="106.45" width="2.68" height="2.53" fill="#dfdfdf"/>
<rect x="304.4" y="106.45" width="2.68" height="2.53" fill="#dfdfdf"/>
<rect x="307.57" y="106.45" width="2.68" height="2.53" fill="#dfdfdf"/>
<rect x="310.75" y="106.45" width="2.68" height="2.53" fill="#dfdfdf"/>
<rect x="313.93" y="106.45" width="2.68" height="2.53" fill="#dfdfdf"/>
<rect x="317.1" y="106.45" width="2.68" height="2.53" fill="#dfdfdf"/>
<rect x="320.28" y="106.45" width="2.68" height="2.53" fill="#dfdfdf"/>
<rect x="323.46" y="106.45" width="2.68" height="2.53" fill="#dfdfdf"/>
<rect x="326.63" y="106.45" width="2.68" height="2.53" fill="#dfdfdf"/>
<rect x="329.81" y="106.45" width="2.68" height="2.53" fill="#dfdfdf"/>
<rect x="332.99" y="106.45" width="2.68" height="2.53" fill="#dfdfdf"/>
<rect x="336.16" y="106.45" width="2.68" height="2.53" fill="#dfdfdf"/>
<rect x="339.34" y="106.45" width="2.68" height="2.53" fill="#dfdfdf"/>
<rect x="342.51" y="106.45" width="2.68" height="2.53" fill="#dfdfdf"/>
<rect x="345.69" y="106.45" width="2.68" height="2.53" fill="#dfdfdf"/>
<rect x="348.87" y="106.45" width="2.68" height="2.53" fill="#dfdfdf"/>
<rect x="352.04" y="106.45" width="2.68" height="2.53" fill="#dfdfdf"/>
<rect x="355.22" y="106.45" width="2.68" height="2.53" fill="#dfdfdf"/>
<rect x="358.4" y="106.45" width="2.68" height="2.53" fill="#dfdfdf"/>
<rect x="361.57" y="106.45" width="2.68" height="2.53" fill="#dfdfdf"/>
<rect x="202.75" y="109.48" width="2.68" height="2.53" fill="#dfdfdf"/>
<rect x="205.93" y="109.48" width="2.68" height="2.53" fill="#dfdfdf"/>
<rect x="209.1" y="109.48" width="2.68" height="2.53" fill="#dfdfdf"/>
<rect x="212.28" y="109.48" width="2.68" height="2.53" fill="#dfdfdf"/>
<rect x="215.46" y="109.48" width="2.68" height="2.53" fill="#dfdfdf"/>
<rect x="218.63" y="109.48" width="2.68" height="2.53" fill="#dfdfdf"/>
<rect x="221.81" y="109.48" width="2.68" height="2.53" fill="#dfdfdf"/>
<rect x="224.99" y="109.48" width="2.68" height="2.53" fill="#dfdfdf"/>
<rect x="228.16" y="109.48" width="2.68" height="2.53" fill="#dfdfdf"/>
<rect x="231.34" y="109.48" width="2.68" height="2.53" fill="#dfdfdf"/>
<rect x="234.51" y="109.48" width="2.68" height="2.53" fill="#dfdfdf"/>
<rect x="237.69" y="109.48" width="2.68" height="2.53" fill="#dfdfdf"/>
<rect x="240.87" y="109.48" width="2.68" height="2.53" fill="#dfdfdf"/>
<rect x="244.04" y="109.48" width="2.68" height="2.53" fill="#dfdfdf"/>
<rect x="247.22" y="109.48" width="2.68" height="2.53" fill="#dfdfdf"/>
<rect x="250.4" y="109.48" width="2.68" height="2.53" fill="#dfdfdf"/>
<rect x="253.57" y="109.48" width="2.68" height="2.53" fill="#dfdfdf"/>
<rect x="256.75" y="109.48" width="2.68" height="2.53" fill="#dfdfdf"/>
<rect x="259.93" y="109.48" width="2.68" height="2.53" fill="#dfdfdf"/>
<rect x="263.1" y="109.48" width="2.68" height="2.53" fill="#dfdfdf"/>
<rect x="266.28" y="109.48" width="2.68" height="2.53" fill="#dfdfdf"/>
<rect x="269.46" y="109.48" width="2.68" height="2.53" fill="#dfdfdf"/>
<rect x="272.63" y="109.48" width="2.68" height="2.53" fill="#dfdfdf"/>
<rect x="275.81" y="109.48" width="2.68" height="2.53" fill="#dfdfdf"/>
<rect x="278.99" y="109.48" width="2.68" height="2.53" fill="#dfdfdf"/>
<rect x="282.16" y="109.48" width="2.68" height="2.53" fill="#dfdfdf"/>
<rect x="285.34" y="109.48" width="2.68" height="2.53" fill="#dfdfdf"/>
<rect x="288.51" y="109.48" width="2.68" height="2.53" fill="#dfdfdf"/>
<rect x="291.69" y="109.48" width="2.68" height="2.53" fill="#dfdfdf"/>
<rect x="294.87" y="109.48" width="2.68" height="2.53" fill="#dfdfdf"/>
<rect x="298.04" y="109.48" width="2.68" height="2.53" fill="#dfdfdf"/>
<rect x="301.22" y="109.48" width="2.68" height="2.53" fill="#dfdfdf"/>
<rect x="304.4" y="109.48" width="2.68" height="2.53" fill="#dfdfdf"/>
<rect x="307.57" y="109.48" width="2.68" height="2.53" fill="#dfdfdf"/>
<rect x="310.75" y="109.48" width="2.68" height="2.53" fill="#dfdfdf"/>
<rect x="313.93" y="109.48" width="2.68" height="2.53" fill="#dfdfdf"/>
<rect x="317.1" y="109.48" width="2.68" height="2.53" fill="#dfdfdf"/>
<rect x="320.28" y="109.48" width="2.68" height="2.53" fill="#dfdfdf"/>
<rect x="323.46" y="109.48" width="2.68" height="2.53" fill="#dfdfdf"/>
<rect x="326.63" y="109.48" width="2.68" height="2.53" fill="#dfdfdf"/>
<rect x="329.81" y="109.48" width="2.68" height="2.53" fill="#dfdfdf"/>
<rect x="332.99" y="109.48" width="2.68" height="2.53" fill="#dfdfdf"/>
<rect x="336.16" y="109.48" width="2.68" height="2.53" fill="#dfdfdf"/>
<rect x="339.34" y="109.48" width="2.68" height="2.53" fill="#dfdfdf"/>
<rect x="342.51" y="109.48" width="2.68" height="2.53" fill="#dfdfdf"/>
<rect x="345.69" y="109.48" width="2.68" height="2.53" fill="#dfdfdf"/>
<rect x="348.87" y="109.48" width="2.68" height="2.53" fill="#dfdfdf"/>
<rect x="352.04" y="109.48" width="2.68" height="2.53" fill="#dfdfdf"/>
<rect x="355.22" y="109.48" width="2.68" height="2.53" fill="#dfdfdf"/>
<rect x="358.4" y="109.48" width="2.68" height="2.53" fill="#dfdfdf"/>
<rect x="361.57" y="109.48" width="2.68" height="2.53" fill="#dfdfdf"/>
<rect x="202.75" y="112.51" width="2.68" height="2.53" fill="#dfdfdf"/>
<rect x="205.93" y="112.51" width="2.68" height="2.53" fill="#dfdfdf"/>
<rect x="209.1" y="112.51" width="2.68" height="2.53" fill="#dfdfdf"/>
<rect x="212.28" y="112.51" width="2.68" height="2.53" fill="#dfdfdf"/>
<rect x="215.46" y="112.51" width="2.68" height="2.53" fill="#dfdfdf"/>
<rect x="218.63" y="112.51" width="2.68" height="2.53" fill="#dfdfdf"/>
<rect x="221.81" y="112.51" width="2.68" height="2.53" fill="#dfdfdf"/>
<rect x="224.99" y="112.51" width="2.68" height="2.53" fill="#dfdfdf"/>
<rect x="228.16" y="112.51" width="2.68" height="2.53" fill="#dfdfdf"/>
<rect x="231.34" y="112.51" width="2.68" height="2.53" fill="#dfdfdf"/>
<rect x="234.51" y="112.51" width="2.68" height="2.53" fill="#dfdfdf"/>
<rect x="237.69" y="112.51" width="2.68" height="2.53" fill="#dfdfdf"/>
<rect x="240.87" y="112.51" width="2.68" height="2.53" fill="#dfdfdf"/>
<rect x="244.04" y="112.51" width="2.68" height="2.53" fill="#dfdfdf"/>
<rect x="247.22" y="112.51" width="2.68" height="2.53" fill="#dfdfdf"/>
<rect x="250.4" y="112.51" width="2.68" height="2.53" fill="#dfdfdf"/>
<rect x="253.57" y="112.51" width="2.68" height="2.53" fill="#dfdfdf"/>
<rect x="256.75" y="112.51" width="2.68" height="2.53" fill="#dfdfdf"/>
<rect x="259.93" y="112.51" width="2.68" height="2.53" fill="#dfdfdf"/>
<rect x="263.1" y="112.51" width="2.68" height="2.53" fill="#dfdfdf"/>
<rect x="266.28" y="112.51" width="2.68" height="2.53" fill="#dfdfdf"/>
<rect x="269.46" y="112.51" width="2.68" height="2.53" fill="#dfdfdf"/>
<rect x="272.63" y="112.51" width="2.68" height="2.53" fill="#dfdfdf"/>
<rect x="275.81" y="112.51" width="2.68" height="2.53" fill="#dfdfdf"/>
<rect x="278.99" y="112.51" width="2.68" height="2.53" fill="#dfdfdf"/>
<rect x="282.16" y="112.51" width="2.68" height="2.53" fill="#dfdfdf"/>
<rect x="285.34" y="112.51" width="2.68" height="2.53" fill="#dfdfdf"/>
<rect x="288.51" y="112.51" width="2.68" height="2.53" fill="#dfdfdf"/>
<rect x="291.69" y="112.51" width="2.68" height="2.53" fill="#dfdfdf"/>
<rect x="294.87" y="112.51" width="2.68" height="2.53" fill="#dfdfdf"/>
<rect x="298.04" y="112.51" width="2.68" height="2.53" fill="#dfdfdf"/>
<rect x="301.22" y="112.51" width="2.68" height="2.53" fill="#dfdfdf"/>
<rect x="304.4" y="112.51" width="2.68" height="2.53" fill="#dfdfdf"/>
<rect x="307.57" y="112.51" width="2.68" height="2.53" fill="#dfdfdf"/>
<rect x="310.75" y="112.51" width="2.68" height="2.53" fill="#dfdfdf"/>
<rect x="313.93" y="112.51" width="2.68" height="2.53" fill="#dfdfdf"/>
<rect x="317.1" y="112.51" width="2.68" height="2.53" fill="#dfdfdf"/>
<rect x="320.28" y="112.51" width="2.68" height="2.53" fill="#dfdfdf"/>
<rect x="323.46" y="112.51" width="2.68" height="2.53" fill="#dfdfdf"/>
<rect x="326.63" y="112.51" width="2.68" height="2.53" fill="#dfdfdf"/>
<rect x="329.81" y="112.51" width="2.68" height="2.53" fill="#dfdfdf"/>
<rect x="332.99" y="112.51" width="2.68" height="2.53" fill="#dfdfdf"/>
<rect x="336.16" y="112.51" width="2.68" height="2.53" fill="#dfdfdf"/>
<rect x="339.34" y="112.51" width="2.68" height="2.53" fill="#dfdfdf"/>
<rect x="342.51" y="112.51" width="2.68" height="2.53" fill="#dfdfdf"/>
<rect x="345.69" y="112.51" width="2.68" height="2.53" fill="#dfdfdf"/>
<rect x="348.87" y="112.51" width="2.68" height="2.53" fill="#dfdfdf"/>
<rect x="352.04" y="112.51" width="2.68" height="2.53" fill="#dfdfdf"/>
<rect x="355.22" y="112.51" width="2.68" height="2.53" fill="#dfdfdf"/>
<rect x="358.4" y="112.51" width="2.68" height="2.53" fill="#dfdfdf"/>
<rect x="361.57" y="112.51" width="2.68" height="2.53" fill="#dfdfdf"/>
<rect x="202.75" y="115.53" width="2.68" height="2.53" fill="#dfdfdf"/>
<rect x="205.93" y="115.53" width="2.68" height="2.53" fill="#dfdfdf"/>
<rect x="209.1" y="115.53" width="2.68" height="2.53" fill="#dfdfdf"/>
<rect x="212.28" y="115.53" width="2.68" height="2.53" fill="#dfdfdf"/>
<rect x="215.46" y="115.53" width="2.68" height="2.53" fill="#dfdfdf"/>
<rect x="218.63" y="115.53" width="2.68" height="2.53" fill="#dfdfdf"/>
<rect x="221.81" y="115.53" width="2.68" height="2.53" fill="#dfdfdf"/>
<rect x="224.99" y="115.53" width="2.68" height="2.53" fill="#dfdfdf"/>
<rect x="228.16" y="115.53" width="2.68" height="2.53" fill="#dfdfdf"/>
<rect x="231.34" y="115.53" width="2.68" height="2.53" fill="#dfdfdf"/>
<rect x="234.51" y="115.53" width="2.68" height="2.53" fill="#dfdfdf"/>
<rect x="237.69" y="115.53" width="2.68" height="2.53" fill="#dfdfdf"/>
<rect x="240.87" y="115.53" width="2.68" height="2.53" fill="#dfdfdf"/>
<rect x="244.04" y="115.53" width="2.68" height="2.53" fill="#dfdfdf"/>
<rect x="247.22" y="115.53" width="2.68" height="2.53" fill="#dfdfdf"/>
<rect x="250.4" y="115.53" width="2.68" height="2.53" fill="#dfdfdf"/>
<rect x="253.57" y="115.53" width="2.68" height="2.53" fill="#dfdfdf"/>
<rect x="256.75" y="115.53" width="2.68" height="2.53" fill="#dfdfdf"/>
<rect x="259.93" y="115.53" width="2.68" height="2.53" fill="#dfdfdf"/>
<rect x="263.1" y="115.53" width="2.68" height="2.53" fill="#dfdfdf"/>
<rect x="266.28" y="115.53" width="2.68" height="2.53" fill="#dfdfdf"/>
<rect x="269.46" y="115.53" width="2.68" height="2.53" fill="#dfdfdf"/>
<rect x="272.63" y="115.53" width="2.68" height="2.53" fill="#dfdfdf"/>
<rect x="275.81" y="115.53" width="2.68" height="2.53" fill="#dfdfdf"/>
<rect x="278.99" y="115.53" width="2.68" height="2.53" fill="#dfdfdf"/>
<rect x="282.16" y="115.53" width="2.68" height="2.53" fill="#dfdfdf"/>
<rect x="285.34" y="115.53" width="2.68" height="2.53" fill="#dfdfdf"/>
<rect x="288.51" y="115.53" width="2.68" height="2.53" fill="#dfdfdf"/>
<rect x="291.69" y="115.53" width="2.68" height="2.53" fill="#dfdfdf"/>
<rect x="294.87" y="115.53" width="2.68" height="2.53" fill="#dfdfdf"/>
<rect x="298.04" y="115.53" width="2.68" height="2.53" fill="#dfdfdf"/>
<rect x="301.22" y="115.53" width="2.68" height="2.53" fill="#dfdfdf"/>
<rect x="304.4" y="115.53" width="2.68" height="2.53" fill="#dfdfdf"/>
<rect x="307.57" y="115.53" width="2.68" height="2.53" fill="#dfdfdf"/>
<rect x="310.75" y="115.53" width="2.68" height="2.53" fill="#dfdfdf"/>
<rect x="313.93" y="115.53" width="2.68" height="2.53" fill="#dfdfdf"/>
<rect x="317.1" y="115.53" width="2.68" height="2.53" fill="#dfdfdf"/>
<rect x="320.28" y="115.53" width="2.68" height="2.53" fill="#dfdfdf"/>
<rect x="323.46" y="115.53" width="2.68" height="2.53" fill="#dfdfdf"/>
<rect x="326.63" y="115.53" width="2.68" height="2.53" fill="#dfdfdf"/>
<rect x="329.81" y="115.53" width="2.68" height="2.53" fill="#dfdfdf"/>
<rect x="332.99" y="115.53" width="2.68" height="2.53" fill="#dfdfdf"/>
<rect x="336.16" y="115.53" width="2.68" height="2.53" fill="#dfdfdf"/>
<rect x="339.34" y="115.53" width="2.68" height="2.53" fill="#dfdfdf"/>
<rect x="342.51" y="115.53" width="2.68" height="2.53" fill="#dfdfdf"/>
<rect x="345.69" y="115.53" width="2.68" height="2.53" fill="#dfdfdf"/>
<rect x="348.87" y="115.53" width="2.68" height="2.53" fill="#dfdfdf"/>
<rect x="352.04" y="115.53" width="2.68" height="2.53" fill="#dfdfdf"/>
<rect x="355.22" y="115.53" width="2.68" height="2.53" fill="#dfdfdf"/>
<rect x="358.4" y="115.53" width="2.68" height="2.53" fill="#dfdfdf"/>
<rect x="361.57" y="115.53" width="2.68" height="2.53" fill="#dfdfdf"/>
<rect x="202.75" y="118.56" width="2.68" height="2.53" fill="#dfdfdf"/>
<rect x="205.93" y="118.56" width="2.68" height="2.53" fill="#dfdfdf"/>
<rect x="209.1" y="118.56" width="2.68" height="2.53" fill="#dfdfdf"/>
<rect x="212.28" y="118.56" width="2.68" height="2.53" fill="#dfdfdf"/>
<rect x="215.46" y="118.56" width="2.68" height="2.53" fill="#dfdfdf"/>
<rect x="218.63" y="118.56" width="2.68" height="2.53" fill="#dfdfdf"/>
<rect x="221.81" y="118.56" width="2.68" height="2.53" fill="#dfdfdf"/>
<rect x="224.99" y="118.56" width="2.68" height="2.53" fill="#dfdfdf"/>
<rect x="228.16" y="118.56" width="2.68" height="2.53" fill="#dfdfdf"/>
<rect x="231.34" y="118.56" width="2.68" height="2.53" fill="#dfdfdf"/>
<rect x="234.51" y="118.56" width="2.68" height="2.53" fill="#dfdfdf"/>
<rect x="237.69" y="118.56" width="2.68" height="2.53" fill="#dfdfdf"/>
<rect x="240.87" y="118.56" width="2.68" height="2.53" fill="#dfdfdf"/>
<rect x="244.04" y="118.56" width="2.68" height="2.53" fill="#dfdfdf"/>
<rect x="247.22" y="118.56" width="2.68" height="2.53" fill="#dfdfdf"/>
<rect x="250.4" y="118.56" width="2.68" height="2.53" fill="#dfdfdf"/>
<rect x="253.57" y="118.56" width="2.68" height="2.53" fill="#dfdfdf"/>
<rect x="256.75" y="118.56" width="2.68" height="2.53" fill="#dfdfdf"/>
<rect x="259.93" y="118.56" width="2.68" height="2.53" fill="#dfdfdf"/>
<rect x="263.1" y="118.56" width="2.68" height="2.53" fill="#dfdfdf"/>
<rect x="266.28" y="118.56" width="2.68" height="2.53" fill="#dfdfdf"/>
<rect x="269.46" y="118.56" width="2.68" height="2.53" fill="#dfdfdf"/>
<rect x="272.63" y="118.56" width="2.68" height="2.53" fill="#dfdfdf"/>
<rect x="275.81" y="118.56" width="2.68" height="2.53" fill="#dfdfdf"/>
<rect x="278.99" y="118.56" width="2.68" height="2.53" fill="#dfdfdf"/>
<rect x="282.16" y="118.56" width="2.68" height="2.53" fill="#dfdfdf"/>
<rect x="285.34" y="118.56" width="2.68" height="2.53" fill="#dfdfdf"/>
<rect x="288.51" y="118.56" width="2.68" height="2.53" fill="#dfdfdf"/>
<rect x="291.69" y="118.56" width="2.68" height="2.53" fill="#dfdfdf"/>
<rect x="294.87" y="118.56" width="2.68" height="2.53" fill="#dfdfdf"/>
<rect x="298.04" y="118.56" width="2.68" height="2.53" fill="#dfdfdf"/>
<rect x="301.22" y="118.56" width="2.68" height="2.53" fill="#dfdfdf"/>
<rect x="304.4" y="118.56" width="2.68" height="2.53" fill="#dfdfdf"/>
<rect x="307.57" y="118.56" width="2.68" height="2.53" fill="#dfdfdf"/>
<rect x="310.75" y="118.56" width="2.68" height="2.53" fill="#dfdfdf"/>
<rect x="313.93" y="118.56" width="2.68" height="2.53" fill="#dfdfdf"/>
<rect x="317.1" y="118.56" width="2.68" height="2.53" fill="#dfdfdf"/>
<rect x="320.28" y="118.56" width="2.68" height="2.53" fill="#dfdfdf"/>
<rect x="323.46" y="118.56" width="2.68" height="2.53" fill="#dfdfdf"/>
<rect x="326.63" y="118.56" width="2.68" height="2.53" fill="#dfdfdf"/>
<rect x="329.81" y="118.56" width="2.68" height="2.53" fill="#dfdfdf"/>
<rect x="332.99" y="118.56" width="2.68" height="2.53" fill="#dfdfdf"/>
<rect x="336.16" y="118.56" width="2.68" height="2.53" fill="#dfdfdf"/>
<rect x="339.34" y="118.56" width="2.68" height="2.53" fill="#dfdfdf"/>
<rect x="342.51" y="118.56" width="2.68" height="2.53" fill="#dfdfdf"/>
<rect x="345.69" y="118.56" width="2.68" height="2.53" fill="#dfdfdf"/>
<rect x="348.87" y="118.56" width="2.68" height="2.53" fill="#dfdfdf"/>
<rect x="352.04" y="118.56" width="2.68" height="2.53" fill="#dfdfdf"/>
<rect x="355.22" y="118.56" width="2.68" height="2.53" fill="#dfdfdf"/>
<rect x="358.4" y="118.56" width="2.68" height="2.53" fill="#dfdfdf"/>
<rect x="361.57" y="118.56" width="2.68" height="2.53" fill="#dfdfdf"/>
<rect x="202.75" y="121.59" width="2.68" height="2.53" fill="#dfdfdf"/>
<rect x="205.93" y="121.59" width="2.68" height="2.53" fill="#dfdfdf"/>
<rect x="209.1" y="121.59" width="2.68" height="2.53" fill="#dfdfdf"/>
<rect x="212.28" y="121.59" width="2.68" height="2.53" fill="#dfdfdf"/>
<rect x="215.46" y="121.59" width="2.68" height="2.53" fill="#dfdfdf"/>
<rect x="218.63" y="121.59" width="2.68" height="2.53" fill="#dfdfdf"/>
<rect x="221.81" y="121.59" width="2.68" height="2.53" fill="#dfdfdf"/>
<rect x="224.99" y="121.59" width="2.68" height="2.53" fill="#dfdfdf"/>
<rect x="228.16" y="121.59" width="2.68" height="2.53" fill="#dfdfdf"/>
<rect x="231.34" y="121.59" width="2.68" height="2.53" fill="#dfdfdf"/>
<rect x="234.51" y="121.59" width="2.68" height="2.53" fill="#dfdfdf"/>
<rect x="237.69" y="121.59" width="2.68" height="2.53" fill="#dfdfdf"/>
<rect x="240.87" y="121.59" width="2.68" height="2.53" fill="#dfdfdf"/>
<rect x="244.04" y="121.59" width="2.68" height="2.53" fill="#dfdfdf"/>
<rect x="247.22" y="121.59" width="2.68" height="2.53" fill="#dfdfdf"/>
<rect x="250.4" y="121.59" width="2.68" height="2.53" fill="#dfdfdf"/>
<rect x="253.57" y="121.59" width="2.68" height="2.53" fill="#dfdfdf"/>
<rect x="256.75" y="121.59" width="2.68" height="2.53" fill="#dfdfdf"/>
<rect x="259.93" y="121.59" width="2.68" height="2.53" fill="#dfdfdf"/>
<rect x="263.1" y="121.59" width="2.68" height="2.53" fill="#dfdfdf"/>
<rect x="266.28" y="121.59" width="2.68" height="2.53" fill="#dfdfdf"/>
<rect x="269.46" y="121.59" width="2.68" height="2.53" fill="#dfdfdf"/>
<rect x="272.63" y="121.59" width="2.68" height="2.53" fill="#dfdfdf"/>
<rect x="275.81" y="121.59" width="2.68" height="2.53" fill="#dfdfdf"/>
<rect x="278.99" y="121.59" width="2.68" height="2.53" fill="#dfdfdf"/>
<rect x="282.16" y="121.59" width="2.68" height="2.53" fill="#dfdfdf"/>
<rect x="285.34" y="121.59" width="2.68" height="2.53" fill="#dfdfdf"/>
<rect x="288.51" y="121.59" width="2.68" height="2.53" fill="#dfdfdf"/>
<rect x="291.69" y="121.59" width="2.68" height="2.53" fill="#dfdfdf"/>
<rect x="294.87" y="121.59" width="2.68" height="2.53" fill="#dfdfdf"/>
<rect x="298.04" y="121.59" width="2.68" height="2.53" fill="#dfdfdf"/>
<rect x="301.22" y="121.59" width="2.68" height="2.53" fill="#dfdfdf"/>
<rect x="304.4" y="121.59" width="2.68" height="2.53" fill="#dfdfdf"/>
<rect x="307.57" y="121.59" width="2.68" height="2.53" fill="#dfdfdf"/>
<rect x="310.75" y="121.59" width="2.68" height="2.53" fill="#dfdfdf"/>
<rect x="313.93" y="121.59" width="2.68" height="2.53" fill="#dfdfdf"/>
<rect x="317.1" y="121.59" width="2.68" height="2.53" fill="#dfdfdf"/>
<rect x="320.28" y="121.59" width="2.68" height="2.53" fill="#dfdfdf"/>
<rect x="323.46" y="121.59" width="2.68" height="2.53" fill="#dfdfdf"/>
<rect x="326.63" y="121.59" width="2.68" height="2.53" fill="#dfdfdf"/>
<rect x="329.81" y="121.59" width="2.68" height="2.53" fill="#dfdfdf"/>
<rect x="332.99" y="121.59" width="2.68" height="2.53" fill="#dfdfdf"/>
<rect x="336.16" y="121.59" width="2.68" height="2.53" fill="#dfdfdf"/>
<rect x="339.34" y="121.59" width="2.68" height="2.53" fill="#dfdfdf"/>
<rect x="342.51" y="121.59" width="2.68" height="2.53" fill="#dfdfdf"/>
<rect x="345.69" y="121.59" width="2.68" height="2.53" fill="#dfdfdf"/>
<rect x="348.87" y="121.59" width="2.68" height="2.53" fill="#dfdfdf"/>
<rect x="352.04" y="121.59" width="2.68" height="2.53" fill="#dfdfdf"/>
<rect x="355.22" y="121.59" width="2.68" height="2.53" fill="#dfdfdf"/>
<rect x="358.4" y="121.59" width="2.68" height="2.53" fill="#dfdfdf"/>
<rect x="361.57" y="121.59" width="2.68" height="2.53" fill="#dfdfdf"/>
<rect x="202.75" y="124.61" width="2.68" height="2.53" fill="#dfdfdf"/>
<rect x="205.93" y="124.61" width="2.68" height="2.53" fill="#dfdfdf"/>
<rect x="209.1" y="124.61" width="2.68" height="2.53" fill="#dfdfdf"/>
<rect x="212.28" y="124.61" width="2.68" height="2.53" fill="#dfdfdf"/>
<rect x="215.46" y="124.61" width="2.68" height="2.53" fill="#dfdfdf"/>
<rect x="218.63" y="124.61" width="2.68" height="2.53" fill="#dfdfdf"/>
<rect x="221.81" y="124.61" width="2.68" height="2.53" fill="#dfdfdf"/>
<rect x="224.99" y="124.61" width="2.68" height="2.53" fill="#dfdfdf"/>
<rect x="228.16" y="124.61" width="2.68" height="2.53" fill="#dfdfdf"/>
<rect x="231.34" y="124.61" width="2.68" height="2.53" fill="#dfdfdf"/>
<rect x="234.51" y="124.61" width="2.68" height="2.53" fill="#dfdfdf"/>
<rect x="237.69" y="124.61" width="2.68" height="2.53" fill="#dfdfdf"/>
<rect x="240.87" y="124.61" width="2.68" height="2.53" fill="#dfdfdf"/>
<rect x="244.04" y="124.61" width="2.68" height="2.53" fill="#dfdfdf"/>
<rect x="247.22" y="124.61" width="2.68" height="2.53" fill="#dfdfdf"/>
<rect x="250.4" y="124.61" width="2.68" height="2.53" fill="#dfdfdf"/>
<rect x="253.57" y="124.61" width="2.68" height="2.53" fill="#dfdfdf"/>
<rect x="256.75" y="124.61" width="2.68" height="2.53" fill="#dfdfdf"/>
<rect x="259.93" y="124.61" width="2.68" height="2.53" fill="#dfdfdf"/>
<rect x="263.1" y="124.61" width="2.68" height="2.53" fill="#dfdfdf"/>
<rect x="266.28" y="124.61" width="2.68" height="2.53" fill="#dfdfdf"/>
<rect x="269.46" y="124.61" width="2.68" height="2.53" fill="#dfdfdf"/>
<rect x="272.63" y="124.61" width="2.68" height="2.53" fill="#dfdfdf"/>
<rect x="275.81" y="124.61" width="2.68" height="2.53" fill="#dfdfdf"/>
<rect x="278.99" y="124.61" width="2.68" height="2.53" fill="#dfdfdf"/>
<rect x="282.16" y="124.61" width="2.68" height="2.53" fill="#dfdfdf"/>
<rect x="285.34" y="124.61" width="2.68" height="2.53" fill="#dfdfdf"/>
<rect x="288.51" y="124.61" width="2.68" height="2.53" fill="#dfdfdf"/>
<rect x="291.69" y="124.61" width="2.68" height="2.53" fill="#dfdfdf"/>
<rect x="294.87" y="124.61" width="2.68" height="2.53" fill="#dfdfdf"/>
<rect x="298.04" y="124.61" width="2.68" height="2.53" fill="#dfdfdf"/>
<rect x="301.22" y="124.61" width="2.68" height="2.53" fill="#dfdfdf"/>
<rect x="304.4" y="124.61" width="2.68" height="2.53" fill="#dfdfdf"/>
<rect x="307.57" y="124.61" width="2.68" height="2.53" fill="#dfdfdf"/>
<rect x="310.75" y="124.61" width="2.68" height="2.53" fill="#dfdfdf"/>
<rect x="313.93" y="124.61" width="2.68" height="2.53" fill="#dfdfdf"/>
<rect x="317.1" y="124.61" width="2.68" height="2.53" fill="#dfdfdf"/>
<rect x="320.28" y="124.61" width="2.68" height="2.53" fill="#dfdfdf"/>
<rect x="323.46" y="124.61" width="2.68" height="2.53" fill="#dfdfdf"/>
<rect x="326.63" y="124.61" width="2.68" height="2.53" fill="#dfdfdf"/>
<rect x="329.81" y="124.61" width="2.68" height="2.53" fill="#dfdfdf"/>
<rect x="332.99" y="124.61" width="2.68" height="2.53" fill="#dfdfdf"/>
<rect x="336.16" y="124.61" width="2.68" height="2.53" fill="#dfdfdf"/>
<rect x="339.34" y="124.61" width="2.68" height="2.53" fill="#dfdfdf"/>
<rect x="342.51" y="124.61" width="2.68" height="2.53" fill="#dfdfdf"/>
<rect x="345.69" y="124.61" width="2.68" height="2.53" fill="#dfdfdf"/>
<rect x="348.87" y="124.61" width="2.68" height="2.53" fill="#dfdfdf"/>
<rect x="352.04" y="124.61" width="2.68" height="2.53" fill="#dfdfdf"/>
<rect x="355.22" y="124.61" width="2.68" height="2.53" fill="#dfdfdf"/>
<rect x="358.4" y="124.61" width="2.68" height="2.53" fill="#dfdfdf"/>
<rect x="361.57" y="124.61" width="2.68" height="2.53" fill="#dfdfdf"/>
<rect x="202.75" y="127.64" width="2.68" height="2.53" fill="#dfdfdf"/>
<rect x="205.93" y="127.64" width="2.68" height="2.53" fill="#dfdfdf"/>
<rect x="209.1" y="127.64" width="2.68" height="2.53" fill="#dfdfdf"/>
<rect x="212.28" y="127.64" width="2.68" height="2.53" fill="#dfdfdf"/>
<rect x="215.46" y="127.64" width="2.68" height="2.53" fill="#dfdfdf"/>
<rect x="218.63" y="127.64" width="2.68" height="2.53" fill="#dfdfdf"/>
<rect x="221.81" y="127.64" width="2.68" height="2.53" fill="#dfdfdf"/>
<rect x="224.99" y="127.64" width="2.68" height="2.53" fill="#dfdfdf"/>
<rect x="228.16" y="127.64" width="2.68" height="2.53" fill="#dfdfdf"/>
<rect x="231.34" y="127.64" width="2.68" height="2.53" fill="#dfdfdf"/>
<rect x="234.51" y="127.64" width="2.68" height="2.53" fill="#dfdfdf"/>
<rect x="237.69" y="127.64" width="2.68" height="2.53" fill="#dfdfdf"/>
<rect x="240.87" y="127.64" width="2.68" height="2.53" fill="#dfdfdf"/>
<rect x="244.04" y="127.64" width="2.68" height="2.53" fill="#dfdfdf"/>
<rect x="247.22" y="127.64" width="2.68" height="2.53" fill="#dfdfdf"/>
<rect x="250.4" y="127.64" width="2.68" height="2.53" fill="#dfdfdf"/>
<rect x="253.57" y="127.64" width="2.68" height="2.53" fill="#dfdfdf"/>
<rect x="256.75" y="127.64" width="2.68" height="2.53" fill="#dfdfdf"/>
<rect x="259.93" y="127.64" width="2.68" height="2.53" fill="#dfdfdf"/>
<rect x="263.1" y="127.64" width="2.68" height="2.53" fill="#dfdfdf"/>
<rect x="266.28" y="127.64" width="2.68" height="2.53" fill="#dfdfdf"/>
<rect x="269.46" y="127.64" width="2.68" height="2.53" fill="#dfdfdf"/>
<rect x="272.63" y="127.64" width="2.68" height="2.53" fill="#dfdfdf"/>
<rect x="275.81" y="127.64" width="2.68" height="2.53" fill="#dfdfdf"/>
<rect x="278.99" y="127.64" width="2.68" height="2.53" fill="#dfdfdf"/>
<rect x="282.16" y="127.64" width="2.68" height="2.53" fill="#dfdfdf"/>
<rect x="285.34" y="127.64" width="2.68" height="2.53" fill="#dfdfdf"/>
<rect x="288.51" y="127.64" width="2.68" height="2.53" fill="#dfdfdf"/>
<rect x="291.69" y="127.64" width="2.68" height="2.53" fill="#dfdfdf"/>
<rect x="294.87" y="127.64" width="2.68" height="2.53" fill="#dfdfdf"/>
<rect x="298.04" y="127.64" width="2.68" height="2.53" fill="#dfdfdf"/>
<rect x="301.22" y="127.64" width="2.68" height="2.53" fill="#dfdfdf"/>
<rect x="304.4" y="127.64" width="2.68" height="2.53" fill="#dfdfdf"/>
<rect x="307.57" y="127.64" width="2.68" height="2.53" fill="#dfdfdf"/>
<rect x="310.75" y="127.64" width="2.68" height="2.53" fill="#dfdfdf"/>
<rect x="313.93" y="127.64" width="2.68" height="2.53" fill="#dfdfdf"/>
<rect x="317.1" y="127.64" width="2.68" height="2.53" fill="#dfdfdf"/>
<rect x="320.28" y="127.64" width="2.68" height="2.53" fill="#dfdfdf"/>
<rect x="323.46" y="127.64" width="2.68" height="2.53" fill="#dfdfdf"/>
<rect x="326.63" y="127.64" width="2.68" height="2.53" fill="#dfdfdf"/>
<rect x="329.81" y="127.64" width="2.68" height="2.53" fill="#dfdfdf"/>
<rect x="332.99" y="127.64" width="2.68" height="2.53" fill="#dfdfdf"/>
<rect x="336.16" y="127.64" width="2.68" height="2.53" fill="#dfdfdf"/>
<rect x="339.34" y="127.64" width="2.68" height="2.53" fill="#dfdfdf"/>
<rect x="342.51" y="127.64" width="2.68" height="2.53" fill="#dfdfdf"/>
<rect x="345.69" y="127.64" width="2.68" height="2.53" fill="#dfdfdf"/>
<rect x="348.87" y="127.64" width="2.68" height="2.53" fill="#dfdfdf"/>
<rect x="352.04" y="127.64" width="2.68" height="2.53" fill="#dfdfdf"/>
<rect x="355.22" y="127.64" width="2.68" height="2.53" fill="#dfdfdf"/>
<rect x="358.4" y="127.64" width="2.68" height="2.53" fill="#dfdfdf"/>
<rect x="361.57" y="127.64" width="2.68" height="2.53" fill="#dfdfdf"/>
<rect x="202.75" y="130.67" width="2.68" height="2.53" fill="#dfdfdf"/>
<rect x="205.93" y="130.67" width="2.68" height="2.53" fill="#dfdfdf"/>
<rect x="209.1" y="130.67" width="2.68" height="2.53" fill="#dfdfdf"/>
<rect x="212.28" y="130.67" width="2.68" height="2.53" fill="#dfdfdf"/>
<rect x="215.46" y="130.67" width="2.68" height="2.53" fill="#dfdfdf"/>
<rect x="218.63" y="130.67" width="2.68" height="2.53" fill="#dfdfdf"/>
<rect x="221.81" y="130.67" width="2.68" height="2.53" fill="#dfdfdf"/>
<rect x="224.99" y="130.67" width="2.68" height="2.53" fill="#dfdfdf"/>
<rect x="228.16" y="130.67" width="2.68" height="2.53" fill="#dfdfdf"/>
<rect x="231.34" y="130.67" width="2.68" height="2.53" fill="#dfdfdf"/>
<rect x="234.51" y="130.67" width="2.68" height="2.53" fill="#dfdfdf"/>
<rect x="237.69" y="130.67" width="2.68" height="2.53" fill="#f6c21b"/>
<rect x="240.87" y="130.67" width="2.68" height="2.53" fill="#dfdfdf"/>
<rect x="244.04" y="130.67" width="2.68" height="2.53" fill="#dfdfdf"/>
<rect x="247.22" y="130.67" width="2.68" height="2.53" fill="#dfdfdf"/>
<rect x="250.4" y="130.67" width="2.68" height="2.53" fill="#dfdfdf"/>
<rect x="253.57" y="130.67" width="2.68" height="2.53" fill="#dfdfdf"/>
<rect x="256.75" y="130.67" width="2.68" height="2.53" fill="#dfdfdf"/>
<rect x="259.93" y="130.67" width="2.68" height="2.53" fill="#dfdfdf"/>
<rect x="263.1" y="130.67" width="2.68" height="2.53" fill="#dfdfdf"/>
<rect x="266.28" y="130.67" width="2.68" height="2.53" fill="#dfdfdf"/>
<rect x="269.46" y="130.67" width="2.68" height="2.53" fill="#dfdfdf"/>
<rect x="272.63" y="130.67" width="2.68" height="2.53" fill="#dfdfdf"/>
<rect x="275.81" y="130.67" width="2.68" height="2.53" fill="#dfdfdf"/>
<rect x="278.99" y="130.67" width="2.68" height="2.53" fill="#dfdfdf"/>
<rect x="282.16" y="130.67" width="2.68" height="2.53" fill="#dfdfdf"/>
<rect x="285.34" y="130.67" width="2.68" height="2.53" fill="#dfdfdf"/>
<rect x="288.51" y="130.67" width="2.68" height="2.53" fill="#dfdfdf"/>
<rect x="291.69" y="130.67" width="2.68" height="2.53" fill="#dfdfdf"/>
<rect x="294.87" y="130.67" width="2.68" height="2.53" fill="#dfdfdf"/>
<rect x="298.04" y="130.67" width="2.68" height="2.53" fill="#dfdfdf"/>
<rect x="301.22" y="130.67" width="2.68" height="2.53" fill="#dfdfdf"/>
<rect x="304.4" y="130.67" width="2.68" height="2.53" fill="#dfdfdf"/>
<rect x="307.57" y="130.67" width="2.68" height="2.53" fill="#dfdfdf"/>
<rect x="310.75" y="130.67" width="2.68" height="2.53" fill="#dfdfdf"/>
<rect x="313.93" y="130.67" width="2.68" height="2.53" fill="#dfdfdf"/>
<rect x="317.1" y="130.67" width="2.68" height="2.53" fill="#dfdfdf"/>
<rect x="320.28" y="130.67" width="2.68" height="2.53" fill="#dfdfdf"/>
<rect x="323.46" y="130.67" width="2.68" height="2.53" fill="#dfdfdf"/>
<rect x="326.63" y="130.67" width="2.68" height="2.53" fill="#dfdfdf"/>
<rect x="329.81" y="130.67" width="2.68" height="2.53" fill="#f6c21b"/>
<rect x="332.99" y="130.67" width="2.68" height="2.53" fill="#dfdfdf"/>
<rect x="336.16" y="130.67" width="2.68" height="2.53" fill="#f6c21b"/>
<rect x="339.34" y="130.67" width="2.68" height="2.53" fill="#dfdfdf"/>
<rect x="342.51" y="130.67" width="2.68" height="2.53" fill="#dfdfdf"/>
<rect x="345.69" y="130.67" width="2.68" height="2.53" fill="#dfdfdf"/>
<rect x="348.87" y="130.67" width="2.68" height="2.53" fill="#dfdfdf"/>
<rect x="352.04" y="130.67" width="2.68" height="2.53" fill="#dfdfdf"/>
<rect x="355.22" y="130.67" width="2.68" height="2.53" fill="#dfdfdf"/>
<rect x="358.4" y="130.67" width="2.68" height="2.53" fill="#dfdfdf"/>
<rect x="361.57" y="130.67" width="2.68" height="2.53" fill="#dfdfdf"/>
<rect x="202.75" y="133.7" width="2.68" height="2.53" fill="#dfdfdf"/>
<rect x="205.93" y="133.7" width="2.68" height="2.53" fill="#dfdfdf"/>
<rect x="209.1" y="133.7" width="2.68" height="2.53" fill="#dfdfdf"/>
<rect x="212.28" y="133.7" width="2.68" height="2.53" fill="#dfdfdf"/>
<rect x="215.46" y="133.7" width="2.68" height="2.53" fill="#dfdfdf"/>
<rect x="218.63" y="133.7" width="2.68" height="2.53" fill="#dfdfdf"/>
<rect x="221.81" y="133.7" width="2.68" height="2.53" fill="#dfdfdf"/>
<rect x="224.99" y="133.7" width="2.68" height="2.53" fill="#dfdfdf"/>
<rect x="228.16" y="133.7" width="2.68" height="2.53" fill="#dfdfdf"/>
<rect x="231.34" y="133.7" width="2.68" height="2.53" fill="#dfdfdf"/>
<rect x="234.51" y="133.7" width="2.68" height="2.53" fill="#dfdfdf"/>
<rect x="237.69" y="133.7" width="2.68" height="2.53" fill="#dfdfdf"/>
<rect x="240.87" y="133.7" width="2.68" height="2.53" fill="#dfdfdf"/>
<rect x="244.04" y="133.7" width="2.68" height="2.53" fill="#dfdfdf"/>
<rect x="247.22" y="133.7" width="2.68" height="2.53" fill="#f6c21b"/>
<rect x="250.4" y="133.7" width="2.68" height="2.53" fill="#dfdfdf"/>
<rect x="253.57" y="133.7" width="2.68" height="2.53" fill="#dfdfdf"/>
<rect x="256.75" y="133.7" width="2.68" height="2.53" fill="#dfdfdf"/>
<rect x="259.93" y="133.7" width="2.68" height="2.53" fill="#dfdfdf"/>
<rect x="263.1" y="133.7" width="2.68" height="2.53" fill="#dfdfdf"/>
<rect x="266.28" y="133.7" width="2.68" height="2.53" fill="#dfdfdf"/>
<rect x="269.46" y="133.7" width="2.68" height="2.53" fill="#dfdfdf"/>
<rect x="272.63" y="133.7" width="2.68" height="2.53" fill="#dfdfdf"/>
<rect x="275.81" y="133.7" width="2.68" height="2.53" fill="#dfdfdf"/>
<rect x="278.99" y="133.7" width="2.68" height="2.53" fill="#dfdfdf"/>
<rect x="282.16" y="133.7" width="2.68" height="2.53" fill="#dfdfdf"/>
<rect x="285.34" y="133.7" width="2.68" height="2.53" fill="#dfdfdf"/>
<rect x="288.51" y="133.7" width="2.68" height="2.53" fill="#dfdfdf"/>
<rect x="291.69" y="133.7" width="2.68" height="2.53" fill="#dfdfdf"/>
<rect x="294.87" y="133.7" width="2.68" height="2.53" fill="#dfdfdf"/>
<rect x="298.04" y="133.7" width="2.68" height="2.53" fill="#dfdfdf"/>
<rect x="301.22" y="133.7" width="2.68" height="2.53" fill="#dfdfdf"/>
<rect x="304.4" y="133.7" width="2.68" height="2.53" fill="#dfdfdf"/>
<rect x="307.57" y="133.7" width="2.68" height="2.53" fill="#dfdfdf"/>
<rect x="310.75" y="133.7" width="2.68" height="2.53" fill="#dfdfdf"/>
<rect x="313.93" y="133.7" width="2.68" height="2.53" fill="#dfdfdf"/>
<rect x="317.1" y="133.7" width="2.68" height="2.53" fill="#dfdfdf"/>
<rect x="320.28" y="133.7" width="2.68" height="2.53" fill="#dfdfdf"/>
<rect x="323.46" y="133.7" width="2.68" height="2.53" fill="#dfdfdf"/>
<rect x="326.63" y="133.7" width="2.68" height="2.53" fill="#dfdfdf"/>
<rect x="329.81" y="133.7" width="2.68" height="2.53" fill="#dfdfdf"/>
<rect x="332.99" y="133.7" width="2.68" height="2.53" fill="#dfdfdf"/>
<rect x="336.16" y="133.7" width="2.68" height="2.53" fill="#dfdfdf"/>
<rect x="339.34" y="133.7" width="2.68" height="2.53" fill="#f6c21b"/>
<rect x="342.51" y="133.7" width="2.68" height="2.53" fill="#dfdfdf"/>
<rect x="345.69" y="133.7" width="2.68" height="2.53" fill="#dfdfdf"/>
<rect x="348.87" y="133.7" width="2.68" height="2.53" fill="#dfdfdf"/>
<rect x="352.04" y="133.7" width="2.68" height="2.53" fill="#dfdfdf"/>
<rect x="355.22" y="133.7" width="2.68" height="2.53" fill="#dfdfdf"/>
<rect x="358.4" y="133.7" width="2.68" height="2.53" fill="#dfdfdf"/>
<rect x="361.57" y="133.7" width="2.68" height="2.53" fill="#dfdfdf"/>
<rect x="202.75" y="136.72" width="2.68" height="2.53" fill="#dfdfdf"/>
<rect x="205.93" y="136.72" width="2.68" height="2.53" fill="#dfdfdf"/>
<rect x="209.1" y="136.72" width="2.68" height="2.53" fill="#dfdfdf"/>
<rect x="212.28" y="136.72" width="2.68" height="2.53" fill="#dfdfdf"/>
<rect x="215.46" y="136.72" width="2.68" height="2.53" fill="#dfdfdf"/>
<rect x="218.63" y="136.72" width="2.68" height="2.53" fill="#dfdfdf"/>
<rect x="221.81" y="136.72" width="2.68" height="2.53" fill="#dfdfdf"/>
<rect x="224.99" y="136.72" width="2.68" height="2.53" fill="#dfdfdf"/>
<rect x="228.16" y="136.72" width="2.68" height="2.53" fill="#dfdfdf"/>
<rect x="231.34" y="136.72" width="2.68" height="2.53" fill="#dfdfdf"/>
<rect x="234.51" y="136.72" width="2.68" height="2.53" fill="#dfdfdf"/>
<rect x="237.69" y="136.72" width="2.68" height="2.53" fill="#dfdfdf"/>
<rect x="240.87" y="136.72" width="2.68" height="2.53" fill="#dfdfdf"/>
<rect x="244.04" y="136.72" width="2.68" height="2.53" fill="#dfdfdf"/>
<rect x="247.22" y="136.72" width="2.68" height="2.53" fill="#dfdfdf"/>
<rect x="250.4" y="136.72" width="2.68" height="2.53" fill="#dfdfdf"/>
<rect x="253.57" y="136.72" width="2.68" height="2.53" fill="#dfdfdf"/>
<rect x="256.75" y="136.72" width="2.68" height="2.53" fill="#dfdfdf"/>
<rect x="259.93" y="136.72" width="2.68" height="2.53" fill="#dfdfdf"/>
<rect x="263.1" y="136.72" width="2.68" height="2.53" fill="#dfdfdf"/>
<rect x="266.28" y="136.72" width="2.68" height="2.53" fill="#dfdfdf"/>
<rect x="269.46" y="136.72" width="2.68" height="2.53" fill="#dfdfdf"/>
<rect x="272.63" y="136.72" width="2.68" height="2.53" fill="#dfdfdf"/>
<rect x="275.81" y="136.72" width="2.68" height="2.53" fill="#dfdfdf"/>
<rect x="278.99" y="136.72" width="2.68" height="2.53" fill="#dfdfdf"/>
<rect x="282.16" y="136.72" width="2.68" height="2.53" fill="#dfdfdf"/>
<rect x="285.34" y="136.72" width="2.68" height="2.53" fill="#dfdfdf"/>
<rect x="288.51" y="136.72" width="2.68" height="2.53" fill="#dfdfdf"/>
<rect x="291.69" y="136.72" width="2.68" height="2.53" fill="#dfdfdf"/>
<rect x="294.87" y="136.72" width="2.68" height="2.53" fill="#dfdfdf"/>
<rect x="298.04" y="136.72" width="2.68" height="2.53" fill="#dfdfdf"/>
<rect x="301.22" y="136.72" width="2.68" height="2.53" fill="#dfdfdf"/>
<rect x="304.4" y="136.72" width="2.68" height="2.53" fill="#dfdfdf"/>
<rect x="307.57" y="136.72" width="2.68" height="2.53" fill="#dfdfdf"/>
<rect x="310.75" y="136.72" width="2.68" height="2.53" fill="#dfdfdf"/>
<rect x="313.93" y="136.72" width="2.68" height="2.53" fill="#dfdfdf"/>
<rect x="317.1" y="136.72" width="2.68" height="2.53" fill="#dfdfdf"/>
<rect x="320.28" y="136.72" width="2.68" height="2.53" fill="#f6c21b"/>
<rect x="323.46" y="136.72" width="2.68" height="2.53" fill="#dfdfdf"/>
<rect x="326.63" y="136.72" width="2.68" height="2.53" fill="#dfdfdf"/>
<rect x="329.81" y="136.72" width="2.68" height="2.53" fill="#dfdfdf"/>
<rect x="332.99" y="136.72" width="2.68" height="2.53" fill="#dfdfdf"/>
<rect x="336.16" y="136.72" width="2.68" height="2.53" fill="#dfdfdf"/>
<rect x="339.34" y="136.72" width="2.68" height="2.53" fill="#dfdfdf"/>
<rect x="342.51" y="136.72" width="2.68" height="2.53" fill="#f6c21b"/>
<rect x="345.69" y="136.72" width="2.68" height="2.53" fill="#dfdfdf"/>
<rect x="348.87" y="136.72" width="2.68" height="2.53" fill="#dfdfdf"/>
<rect x="352.04" y="136.72" width="2.68" height="2.53" fill="#dfdfdf"/>
<rect x="355.22" y="136.72" width="2.68" height="2.53" fill="#dfdfdf"/>
<rect x="358.4" y="136.72" width="2.68" height="2.53" fill="#dfdfdf"/>
<rect x="361.57" y="136.72" width="2.68" height="2.53" fill="#dfdfdf"/>
<g font-size="2.8" fill="#333">
<text x="188.9" y="30">ASXL1</text>
<text x="188.9" y="33.03">STAG2</text>
<text x="188.9" y="36.05">RUNX1</text>
<text x="188.9" y="39.08">EZH2</text>
<text x="188.9" y="42.11">ZRSR2</text>
<text x="188.9" y="45.14">SETBP1</text>
<text x="188.9" y="48.16">DNMT3A</text>
<text x="188.9" y="51.19">TET2</text>
<text x="188.9" y="54.22">SRSF2</text>
<text x="188.9" y="57.24">BCOR</text>
<text x="188.9" y="60.27">CBL</text>
<text x="188.9" y="63.3">ETV6</text>
<text x="188.9" y="66.32">JAK2</text>
<text x="188.9" y="69.35">KRAS</text>
<text x="188.9" y="72.38">CALR</text>
<text x="188.9" y="75.41">U2AF1</text>
<text x="188.9" y="78.43">KIT</text>
<text x="188.9" y="81.46">IDH2</text>
<text x="188.9" y="84.49">DNMT3B</text>
<text x="188.9" y="87.51">GATA2</text>
<text x="188.9" y="90.54">STAG1</text>
<text x="188.9" y="93.57">CUX1</text>
<text x="188.9" y="96.59">IDH1</text>
<text x="188.9" y="99.62">BCORL1</text>
<text x="188.9" y="102.65">PTPN11</text>
<text x="188.9" y="105.68">NPM1</text>
<text x="188.9" y="108.7">NRAS</text>
<text x="188.9" y="111.73">FLT3</text>
<text x="188.9" y="114.76">WT1</text>
<text x="188.9" y="117.78">TP53</text>
<text x="188.9" y="120.81">CEBPA</text>
<text x="188.9" y="123.84">SF1</text>
<text x="188.9" y="126.86">MLL</text>
<text x="188.9" y="129.89">PHF6</text>
<text x="188.9" y="132.92">ZNF750</text>
<text x="188.9" y="135.95">SF3B1</text>
<text x="188.9" y="138.97">PPM1D</text>
<text x="189" y="24">Cluster</text>
</g>
<g font-size="2.8" fill="#333">
<text x="366.7" y="24">Cluster</text>
<text x="385.6" y="22" text-anchor="middle">Mutation</text><text x="385.6" y="25.2" text-anchor="middle">Number</text>
<text x="399" y="24" text-anchor="middle">% Total</text>
<text x="414.8" y="20.2" text-anchor="middle">Pearson</text><text x="414.8" y="23.6" text-anchor="middle">correlation</text><text x="414.8" y="27" text-anchor="middle">coefficient</text>
<text x="366.7" y="29.9">ASXL1</text>
<text x="386.2" y="29.9" text-anchor="middle">51</text>
<text x="399.7" y="29.9" text-anchor="middle">100%</text>
<text x="366.7" y="32.93">STAG2</text>
<text x="386.2" y="32.93" text-anchor="middle">18</text>
<text x="399.7" y="32.93" text-anchor="middle">35%</text>
<text x="414.5" y="32.93" text-anchor="middle">0.46</text>
<text x="366.7" y="35.95">RUNX1</text>
<text x="386.2" y="35.95" text-anchor="middle">19</text>
<text x="399.7" y="35.95" text-anchor="middle">37%</text>
<text x="414.5" y="35.95" text-anchor="middle">0.38</text>
<text x="366.7" y="38.98">EZH2</text>
<text x="386.2" y="38.98" text-anchor="middle">8</text>
<text x="399.7" y="38.98" text-anchor="middle">16%</text>
<text x="414.5" y="38.98" text-anchor="middle">0.37</text>
<text x="366.7" y="42.01">ZRSR2</text>
<text x="386.2" y="42.01" text-anchor="middle">6</text>
<text x="399.7" y="42.01" text-anchor="middle">12%</text>
<text x="414.5" y="42.01" text-anchor="middle">0.37</text>
<text x="366.7" y="45.04">SETBP1</text>
<text x="386.2" y="45.04" text-anchor="middle">4</text>
<text x="399.7" y="45.04" text-anchor="middle">8%</text>
<text x="414.5" y="45.04" text-anchor="middle">0.29</text>
<text x="366.7" y="48.06">DNMT3A</text>
<text x="386.2" y="48.06" text-anchor="middle">10</text>
<text x="399.7" y="48.06" text-anchor="middle">20%</text>
<text x="414.5" y="48.06" text-anchor="middle">0.24</text>
<text x="366.7" y="51.09">TET2</text>
<text x="386.2" y="51.09" text-anchor="middle">12</text>
<text x="399.7" y="51.09" text-anchor="middle">24%</text>
<text x="414.5" y="51.09" text-anchor="middle">0.19</text>
<text x="366.7" y="54.12">SRSF2</text>
<text x="386.2" y="54.12" text-anchor="middle">4</text>
<text x="399.7" y="54.12" text-anchor="middle">8%</text>
<text x="414.5" y="54.12" text-anchor="middle">0.17</text>
<text x="366.7" y="57.14">BCOR</text>
<text x="386.2" y="57.14" text-anchor="middle">3</text>
<text x="399.7" y="57.14" text-anchor="middle">6%</text>
<text x="414.5" y="57.14" text-anchor="middle">0.16</text>
<text x="366.7" y="60.17">CBL</text>
<text x="386.2" y="60.17" text-anchor="middle">3</text>
<text x="399.7" y="60.17" text-anchor="middle">6%</text>
<text x="414.5" y="60.17" text-anchor="middle">0.14</text>
<text x="366.7" y="63.2">ETV6</text>
<text x="386.2" y="63.2" text-anchor="middle">3</text>
<text x="399.7" y="63.2" text-anchor="middle">6%</text>
<text x="414.5" y="63.2" text-anchor="middle">0.14</text>
<text x="366.7" y="66.22">JAK2</text>
<text x="386.2" y="66.22" text-anchor="middle">1</text>
<text x="399.7" y="66.22" text-anchor="middle">2%</text>
<text x="414.5" y="66.22" text-anchor="middle">0.13</text>
<text x="366.7" y="69.25">KRAS</text>
<text x="386.2" y="69.25" text-anchor="middle">1</text>
<text x="399.7" y="69.25" text-anchor="middle">2%</text>
<text x="414.5" y="69.25" text-anchor="middle">0.12</text>
<text x="366.7" y="72.28">CALR</text>
<text x="386.2" y="72.28" text-anchor="middle">1</text>
<text x="399.7" y="72.28" text-anchor="middle">2%</text>
<text x="414.5" y="72.28" text-anchor="middle">0.12</text>
<text x="366.7" y="75.31">U2AF1</text>
<text x="386.2" y="75.31" text-anchor="middle">4</text>
<text x="399.7" y="75.31" text-anchor="middle">8%</text>
<text x="414.5" y="75.31" text-anchor="middle">0.07</text>
<text x="366.7" y="78.33">KIT</text>
<text x="386.2" y="78.33" text-anchor="middle">1</text>
<text x="399.7" y="78.33" text-anchor="middle">2%</text>
<text x="414.5" y="78.33" text-anchor="middle">0.06</text>
<text x="366.7" y="81.36">IDH2</text>
<text x="386.2" y="81.36" text-anchor="middle">3</text>
<text x="399.7" y="81.36" text-anchor="middle">6%</text>
<text x="414.5" y="81.36" text-anchor="middle">0.05</text>
<text x="366.7" y="84.39">DNMT3B</text>
<text x="386.2" y="84.39" text-anchor="middle">1</text>
<text x="399.7" y="84.39" text-anchor="middle">2%</text>
<text x="414.5" y="84.39" text-anchor="middle">0.05</text>
<text x="366.7" y="87.41">GATA2</text>
<text x="386.2" y="87.41" text-anchor="middle">2</text>
<text x="399.7" y="87.41" text-anchor="middle">4%</text>
<text x="414.5" y="87.41" text-anchor="middle">0.05</text>
<text x="366.7" y="90.44">STAG1</text>
<text x="386.2" y="90.44" text-anchor="middle">1</text>
<text x="399.7" y="90.44" text-anchor="middle">2%</text>
<text x="414.5" y="90.44" text-anchor="middle">0.04</text>
<text x="366.7" y="93.47">CUX1</text>
<text x="386.2" y="93.47" text-anchor="middle">1</text>
<text x="399.7" y="93.47" text-anchor="middle">2%</text>
<text x="414.5" y="93.47" text-anchor="middle">0.03</text>
<text x="366.7" y="96.49">IDH1</text>
<text x="386.2" y="96.49" text-anchor="middle">2</text>
<text x="399.7" y="96.49" text-anchor="middle">4%</text>
<text x="414.5" y="96.49" text-anchor="middle">0.03</text>
<text x="366.7" y="99.52">BCORL1</text>
<text x="386.2" y="99.52" text-anchor="middle">1</text>
<text x="399.7" y="99.52" text-anchor="middle">2%</text>
<text x="414.5" y="99.52" text-anchor="middle">0.02</text>
<text x="366.7" y="102.55">PTPN11</text>
<text x="386.2" y="102.55" text-anchor="middle">1</text>
<text x="399.7" y="102.55" text-anchor="middle">2%</text>
<text x="414.5" y="102.55" text-anchor="middle">0.02</text>
<text x="366.7" y="105.58">NPM1</text>
<text x="386.2" y="105.58" text-anchor="middle">1</text>
<text x="399.7" y="105.58" text-anchor="middle">2%</text>
<text x="414.5" y="105.58" text-anchor="middle">0.02</text>
<text x="366.7" y="108.6">NRAS</text>
<text x="386.2" y="108.6" text-anchor="middle">1</text>
<text x="399.7" y="108.6" text-anchor="middle">2%</text>
<text x="414.5" y="108.6" text-anchor="middle">0.01</text>
<text x="366.7" y="111.63">FLT3</text>
<text x="386.2" y="111.63" text-anchor="middle">1</text>
<text x="399.7" y="111.63" text-anchor="middle">2%</text>
<text x="414.5" y="111.63" text-anchor="middle">0.01</text>
<text x="366.7" y="114.66">WT1</text>
<text x="386.2" y="114.66" text-anchor="middle">1</text>
<text x="399.7" y="114.66" text-anchor="middle">2%</text>
<text x="414.5" y="114.66" text-anchor="middle">0.01</text>
<text x="366.7" y="117.68">TP53</text>
<text x="386.2" y="117.68" text-anchor="middle">1</text>
<text x="399.7" y="117.68" text-anchor="middle">2%</text>
<text x="414.5" y="117.68" text-anchor="middle">0.01</text>
<text x="366.7" y="120.71">CEBPA</text>
<text x="386.2" y="120.71" text-anchor="middle">1</text>
<text x="399.7" y="120.71" text-anchor="middle">2%</text>
<text x="414.5" y="120.71" text-anchor="middle">0.00</text>
<text x="366.7" y="123.74">SF1</text>
<text x="386.2" y="123.74" text-anchor="middle">1</text>
<text x="399.7" y="123.74" text-anchor="middle">2%</text>
<text x="414.5" y="123.74" text-anchor="middle">0.00</text>
<text x="366.7" y="126.76">MLL</text>
<text x="386.2" y="126.76" text-anchor="middle">1</text>
<text x="399.7" y="126.76" text-anchor="middle">2%</text>
<text x="414.5" y="126.76" text-anchor="middle">0.00</text>
<text x="366.7" y="129.79">PHF6</text>
<text x="386.2" y="129.79" text-anchor="middle">1</text>
<text x="399.7" y="129.79" text-anchor="middle">2%</text>
<text x="414.5" y="129.79" text-anchor="middle">0.00</text>
<text x="366.7" y="132.82">ZNF750</text>
<text x="386.2" y="132.82" text-anchor="middle">1</text>
<text x="399.7" y="132.82" text-anchor="middle">2%</text>
<text x="414.5" y="132.82" text-anchor="middle">0.00</text>
<text x="366.7" y="135.85">SF3B1</text>
<text x="386.2" y="135.85" text-anchor="middle">2</text>
<text x="399.7" y="135.85" text-anchor="middle">4%</text>
<text x="414.5" y="135.85" text-anchor="middle">0.00</text>
<text x="366.7" y="138.87">PPM1D</text>
<text x="386.2" y="138.87" text-anchor="middle">1</text>
<text x="399.7" y="138.87" text-anchor="middle">2%</text>
<text x="414.5" y="138.87" text-anchor="middle">0.00</text>
</g>
<text x="430.5" y="14.5" font-size="10.5" fill="#000" font-weight="bold" stroke="#000" stroke-width="0.35">D</text>
<line x1="470" y1="25.2" x2="470" y2="90.9" stroke="#231f20" stroke-width="0.9"/>
<line x1="467" y1="90.5" x2="470" y2="90.5" stroke="#231f20" stroke-width="0.9"/>
<text stroke="#333" stroke-width="0.12" x="464.1" y="92.6" font-size="6.0" text-anchor="end" textLength="3.4" lengthAdjust="spacingAndGlyphs">0</text>
<line x1="467" y1="74.42" x2="470" y2="74.42" stroke="#231f20" stroke-width="0.9"/>
<text stroke="#333" stroke-width="0.12" x="464.1" y="76.52" font-size="6.0" text-anchor="end" textLength="13.6" lengthAdjust="spacingAndGlyphs">5000</text>
<line x1="467" y1="58.35" x2="470" y2="58.35" stroke="#231f20" stroke-width="0.9"/>
<text stroke="#333" stroke-width="0.12" x="464.1" y="60.45" font-size="6.0" text-anchor="end" textLength="17" lengthAdjust="spacingAndGlyphs">10000</text>
<line x1="467" y1="42.28" x2="470" y2="42.28" stroke="#231f20" stroke-width="0.9"/>
<text stroke="#333" stroke-width="0.12" x="464.1" y="44.38" font-size="6.0" text-anchor="end" textLength="17" lengthAdjust="spacingAndGlyphs">15000</text>
<line x1="467" y1="26.2" x2="470" y2="26.2" stroke="#231f20" stroke-width="0.9"/>
<text stroke="#333" stroke-width="0.12" x="464.1" y="28.3" font-size="6.0" text-anchor="end" textLength="17" lengthAdjust="spacingAndGlyphs">20000</text>
<line x1="470" y1="90.5" x2="513.5" y2="90.5" stroke="#231f20" stroke-width="0.9"/>
<line x1="482" y1="90.5" x2="482" y2="93.8" stroke="#231f20" stroke-width="1.0"/>
<line x1="500.5" y1="90.5" x2="500.5" y2="93.8" stroke="#231f20" stroke-width="1.0"/>
<text stroke="#333" stroke-width="0.12" x="441" y="57.4" font-size="6.0" text-anchor="middle" textLength="43" lengthAdjust="spacingAndGlyphs" transform="rotate(-90 441 57.4)">S100A8/A9 (ng/mL)</text>
<line x1="482" y1="42.3" x2="482" y2="90.5" stroke="#b34a5c" stroke-width="1.1"/>
<line x1="479.3" y1="42.3" x2="485" y2="42.3" stroke="#b8324a" stroke-width="1.1"/>
<rect x="476.3" y="68" width="11.6" height="20" fill="#ec8b7c" stroke="#e07a6e" stroke-width="0.5"/>
<line x1="476.3" y1="80.4" x2="487.9" y2="80.4" stroke="#b8202e" stroke-width="0.9"/>
<line x1="500.5" y1="46.2" x2="500.5" y2="90.5" stroke="#41639a" stroke-width="1.1"/>
<line x1="497.6" y1="46.2" x2="503.3" y2="46.2" stroke="#3c5a8a" stroke-width="1.1"/>
<rect x="495" y="79.5" width="11.2" height="8.5" fill="#7f93c0" stroke="#6f84b4" stroke-width="0.5"/>
<line x1="495" y1="86.2" x2="506.2" y2="86.2" stroke="#3c5a8a" stroke-width="0.9"/>
<path d="M481.6,37.3V32.8H500.5V40.3" fill="none" stroke="#333" stroke-width="0.8"/>
<text stroke="#333" stroke-width="0.12" x="491" y="28.2" font-size="5.6" text-anchor="middle">0.058</text>
<text stroke="#333" stroke-width="0.12" x="483.9" y="98.2" font-size="5.6" text-anchor="end" transform="rotate(-45 483.9 98.2)">Cluster 1</text>
<text stroke="#333" stroke-width="0.12" x="502.4" y="98.2" font-size="5.6" text-anchor="end" transform="rotate(-45 502.4 98.2)">Cluster 2</text>
<text x="7.1" y="176" font-size="10.5" fill="#000" font-weight="bold" stroke="#000" stroke-width="0.35">B</text>
<rect x="14.6" y="192.8" width="136.2" height="120.8" fill="#1d4f85"/>
<rect x="14.95" y="193.15" width="2.98" height="2.56" fill="#3b7bb8"/>
<rect x="18.63" y="193.15" width="2.98" height="2.56" fill="#3a78b6"/>
<rect x="22.31" y="193.15" width="2.98" height="2.56" fill="#28609c"/>
<rect x="25.99" y="193.15" width="2.98" height="2.56" fill="#3674b2"/>
<rect x="29.67" y="193.15" width="2.98" height="2.56" fill="#3371ae"/>
<rect x="33.36" y="193.15" width="2.98" height="2.56" fill="#3a78b6"/>
<rect x="37.04" y="193.15" width="2.98" height="2.56" fill="#3a78b6"/>
<rect x="40.72" y="193.15" width="2.98" height="2.56" fill="#3371ae"/>
<rect x="44.4" y="193.15" width="2.98" height="2.56" fill="#3371ae"/>
<rect x="48.08" y="193.15" width="2.98" height="2.56" fill="#8ebde0"/>
<rect x="51.76" y="193.15" width="2.98" height="2.56" fill="#3877b4"/>
<rect x="55.44" y="193.15" width="2.98" height="2.56" fill="#8ebde0"/>
<rect x="59.12" y="193.15" width="2.98" height="2.56" fill="#3e7eba"/>
<rect x="62.8" y="193.15" width="2.98" height="2.56" fill="#6aa3d0"/>
<rect x="66.49" y="193.15" width="2.98" height="2.56" fill="#3371ae"/>
<rect x="70.17" y="193.15" width="2.98" height="2.56" fill="#3674b2"/>
<rect x="73.85" y="193.15" width="2.98" height="2.56" fill="#3371ae"/>
<rect x="77.53" y="193.15" width="2.98" height="2.56" fill="#28609c"/>
<rect x="81.21" y="193.15" width="2.98" height="2.56" fill="#3877b4"/>
<rect x="84.89" y="193.15" width="2.98" height="2.56" fill="#3371ae"/>
<rect x="88.57" y="193.15" width="2.98" height="2.56" fill="#3b7bb8"/>
<rect x="92.25" y="193.15" width="2.98" height="2.56" fill="#3371ae"/>
<rect x="95.93" y="193.15" width="2.98" height="2.56" fill="#3371ae"/>
<rect x="99.61" y="193.15" width="2.98" height="2.56" fill="#8ebde0"/>
<rect x="103.3" y="193.15" width="2.98" height="2.56" fill="#a7cbe6"/>
<rect x="106.98" y="193.15" width="2.98" height="2.56" fill="#3371ae"/>
<rect x="110.66" y="193.15" width="2.98" height="2.56" fill="#3674b2"/>
<rect x="114.34" y="193.15" width="2.98" height="2.56" fill="#b9d6ea"/>
<rect x="118.02" y="193.15" width="2.98" height="2.56" fill="#3e7eba"/>
<rect x="121.7" y="193.15" width="2.98" height="2.56" fill="#3b7bb8"/>
<rect x="125.38" y="193.15" width="2.98" height="2.56" fill="#3877b4"/>
<rect x="129.06" y="193.15" width="2.98" height="2.56" fill="#3a78b6"/>
<rect x="132.74" y="193.15" width="2.98" height="2.56" fill="#f4f6f8"/>
<rect x="136.43" y="193.15" width="2.98" height="2.56" fill="#7fb2d8"/>
<rect x="140.11" y="193.15" width="2.98" height="2.56" fill="#3674b2"/>
<rect x="143.79" y="193.15" width="2.98" height="2.56" fill="#f4f6f8"/>
<rect x="147.47" y="193.15" width="2.98" height="2.56" fill="#600a1e"/>
<rect x="14.95" y="196.41" width="2.98" height="2.56" fill="#3371ae"/>
<rect x="18.63" y="196.41" width="2.98" height="2.56" fill="#3a78b6"/>
<rect x="22.31" y="196.41" width="2.98" height="2.56" fill="#3b7bb8"/>
<rect x="25.99" y="196.41" width="2.98" height="2.56" fill="#dde9f3"/>
<rect x="29.67" y="196.41" width="2.98" height="2.56" fill="#3e7eba"/>
<rect x="33.36" y="196.41" width="2.98" height="2.56" fill="#b9d6ea"/>
<rect x="37.04" y="196.41" width="2.98" height="2.56" fill="#6aa3d0"/>
<rect x="40.72" y="196.41" width="2.98" height="2.56" fill="#3371ae"/>
<rect x="44.4" y="196.41" width="2.98" height="2.56" fill="#3674b2"/>
<rect x="48.08" y="196.41" width="2.98" height="2.56" fill="#7fb2d8"/>
<rect x="51.76" y="196.41" width="2.98" height="2.56" fill="#3371ae"/>
<rect x="55.44" y="196.41" width="2.98" height="2.56" fill="#b9d6ea"/>
<rect x="59.12" y="196.41" width="2.98" height="2.56" fill="#3e7eba"/>
<rect x="62.8" y="196.41" width="2.98" height="2.56" fill="#6aa3d0"/>
<rect x="66.49" y="196.41" width="2.98" height="2.56" fill="#28609c"/>
<rect x="70.17" y="196.41" width="2.98" height="2.56" fill="#3877b4"/>
<rect x="73.85" y="196.41" width="2.98" height="2.56" fill="#3a78b6"/>
<rect x="77.53" y="196.41" width="2.98" height="2.56" fill="#3674b2"/>
<rect x="81.21" y="196.41" width="2.98" height="2.56" fill="#3877b4"/>
<rect x="84.89" y="196.41" width="2.98" height="2.56" fill="#3674b2"/>
<rect x="88.57" y="196.41" width="2.98" height="2.56" fill="#3877b4"/>
<rect x="92.25" y="196.41" width="2.98" height="2.56" fill="#3e7eba"/>
<rect x="95.93" y="196.41" width="2.98" height="2.56" fill="#3371ae"/>
<rect x="99.61" y="196.41" width="2.98" height="2.56" fill="#28609c"/>
<rect x="103.3" y="196.41" width="2.98" height="2.56" fill="#6aa3d0"/>
<rect x="106.98" y="196.41" width="2.98" height="2.56" fill="#3b7bb8"/>
<rect x="110.66" y="196.41" width="2.98" height="2.56" fill="#3e7eba"/>
<rect x="114.34" y="196.41" width="2.98" height="2.56" fill="#3e7eba"/>
<rect x="118.02" y="196.41" width="2.98" height="2.56" fill="#28609c"/>
<rect x="121.7" y="196.41" width="2.98" height="2.56" fill="#3371ae"/>
<rect x="125.38" y="196.41" width="2.98" height="2.56" fill="#3b7bb8"/>
<rect x="129.06" y="196.41" width="2.98" height="2.56" fill="#3371ae"/>
<rect x="132.74" y="196.41" width="2.98" height="2.56" fill="#7fb2d8"/>
<rect x="136.43" y="196.41" width="2.98" height="2.56" fill="#b9d6ea"/>
<rect x="140.11" y="196.41" width="2.98" height="2.56" fill="#3877b4"/>
<rect x="143.79" y="196.41" width="2.98" height="2.56" fill="#600a1e"/>
<rect x="147.47" y="196.41" width="2.98" height="2.56" fill="#dde9f3"/>
<rect x="14.95" y="199.68" width="2.98" height="2.56" fill="#3b7bb8"/>
<rect x="18.63" y="199.68" width="2.98" height="2.56" fill="#28609c"/>
<rect x="22.31" y="199.68" width="2.98" height="2.56" fill="#3877b4"/>
<rect x="25.99" y="199.68" width="2.98" height="2.56" fill="#3e7eba"/>
<rect x="29.67" y="199.68" width="2.98" height="2.56" fill="#3b7bb8"/>
<rect x="33.36" y="199.68" width="2.98" height="2.56" fill="#dde9f3"/>
<rect x="37.04" y="199.68" width="2.98" height="2.56" fill="#dde9f3"/>
<rect x="40.72" y="199.68" width="2.98" height="2.56" fill="#eef4f8"/>
<rect x="44.4" y="199.68" width="2.98" height="2.56" fill="#3371ae"/>
<rect x="48.08" y="199.68" width="2.98" height="2.56" fill="#3371ae"/>
<rect x="51.76" y="199.68" width="2.98" height="2.56" fill="#3b7bb8"/>
<rect x="55.44" y="199.68" width="2.98" height="2.56" fill="#3371ae"/>
<rect x="59.12" y="199.68" width="2.98" height="2.56" fill="#3877b4"/>
<rect x="62.8" y="199.68" width="2.98" height="2.56" fill="#3a78b6"/>
<rect x="66.49" y="199.68" width="2.98" height="2.56" fill="#3877b4"/>
<rect x="70.17" y="199.68" width="2.98" height="2.56" fill="#3e7eba"/>
<rect x="73.85" y="199.68" width="2.98" height="2.56" fill="#3e7eba"/>
<rect x="77.53" y="199.68" width="2.98" height="2.56" fill="#28609c"/>
<rect x="81.21" y="199.68" width="2.98" height="2.56" fill="#b9d6ea"/>
<rect x="84.89" y="199.68" width="2.98" height="2.56" fill="#8ebde0"/>
<rect x="88.57" y="199.68" width="2.98" height="2.56" fill="#a7cbe6"/>
<rect x="92.25" y="199.68" width="2.98" height="2.56" fill="#6aa3d0"/>
<rect x="95.93" y="199.68" width="2.98" height="2.56" fill="#3b7bb8"/>
<rect x="99.61" y="199.68" width="2.98" height="2.56" fill="#8ebde0"/>
<rect x="103.3" y="199.68" width="2.98" height="2.56" fill="#7fb2d8"/>
<rect x="106.98" y="199.68" width="2.98" height="2.56" fill="#3a78b6"/>
<rect x="110.66" y="199.68" width="2.98" height="2.56" fill="#6aa3d0"/>
<rect x="114.34" y="199.68" width="2.98" height="2.56" fill="#3a78b6"/>
<rect x="118.02" y="199.68" width="2.98" height="2.56" fill="#3371ae"/>
<rect x="121.7" y="199.68" width="2.98" height="2.56" fill="#6aa3d0"/>
<rect x="125.38" y="199.68" width="2.98" height="2.56" fill="#3371ae"/>
<rect x="129.06" y="199.68" width="2.98" height="2.56" fill="#3877b4"/>
<rect x="132.74" y="199.68" width="2.98" height="2.56" fill="#dde9f3"/>
<rect x="136.43" y="199.68" width="2.98" height="2.56" fill="#dde9f3"/>
<rect x="140.11" y="199.68" width="2.98" height="2.56" fill="#600a1e"/>
<rect x="143.79" y="199.68" width="2.98" height="2.56" fill="#3e7eba"/>
<rect x="147.47" y="199.68" width="2.98" height="2.56" fill="#3e7eba"/>
<rect x="14.95" y="202.94" width="2.98" height="2.56" fill="#3e7eba"/>
<rect x="18.63" y="202.94" width="2.98" height="2.56" fill="#3674b2"/>
<rect x="22.31" y="202.94" width="2.98" height="2.56" fill="#8ebde0"/>
<rect x="25.99" y="202.94" width="2.98" height="2.56" fill="#3877b4"/>
<rect x="29.67" y="202.94" width="2.98" height="2.56" fill="#3674b2"/>
<rect x="33.36" y="202.94" width="2.98" height="2.56" fill="#b9d6ea"/>
<rect x="37.04" y="202.94" width="2.98" height="2.56" fill="#a7cbe6"/>
<rect x="40.72" y="202.94" width="2.98" height="2.56" fill="#f4f6f8"/>
<rect x="44.4" y="202.94" width="2.98" height="2.56" fill="#6aa3d0"/>
<rect x="48.08" y="202.94" width="2.98" height="2.56" fill="#7fb2d8"/>
<rect x="51.76" y="202.94" width="2.98" height="2.56" fill="#3371ae"/>
<rect x="55.44" y="202.94" width="2.98" height="2.56" fill="#8ebde0"/>
<rect x="59.12" y="202.94" width="2.98" height="2.56" fill="#3674b2"/>
<rect x="62.8" y="202.94" width="2.98" height="2.56" fill="#3a78b6"/>
<rect x="66.49" y="202.94" width="2.98" height="2.56" fill="#3674b2"/>
<rect x="70.17" y="202.94" width="2.98" height="2.56" fill="#3b7bb8"/>
<rect x="73.85" y="202.94" width="2.98" height="2.56" fill="#3b7bb8"/>
<rect x="77.53" y="202.94" width="2.98" height="2.56" fill="#3371ae"/>
<rect x="81.21" y="202.94" width="2.98" height="2.56" fill="#7fb2d8"/>
<rect x="84.89" y="202.94" width="2.98" height="2.56" fill="#3371ae"/>
<rect x="88.57" y="202.94" width="2.98" height="2.56" fill="#3b7bb8"/>
<rect x="92.25" y="202.94" width="2.98" height="2.56" fill="#3e7eba"/>
<rect x="95.93" y="202.94" width="2.98" height="2.56" fill="#3b7bb8"/>
<rect x="99.61" y="202.94" width="2.98" height="2.56" fill="#3e7eba"/>
<rect x="103.3" y="202.94" width="2.98" height="2.56" fill="#7fb2d8"/>
<rect x="106.98" y="202.94" width="2.98" height="2.56" fill="#8ebde0"/>
<rect x="110.66" y="202.94" width="2.98" height="2.56" fill="#3674b2"/>
<rect x="114.34" y="202.94" width="2.98" height="2.56" fill="#b9d6ea"/>
<rect x="118.02" y="202.94" width="2.98" height="2.56" fill="#7fb2d8"/>
<rect x="121.7" y="202.94" width="2.98" height="2.56" fill="#3371ae"/>
<rect x="125.38" y="202.94" width="2.98" height="2.56" fill="#3e7eba"/>
<rect x="129.06" y="202.94" width="2.98" height="2.56" fill="#3877b4"/>
<rect x="132.74" y="202.94" width="2.98" height="2.56" fill="#600a1e"/>
<rect x="136.43" y="202.94" width="2.98" height="2.56" fill="#dde9f3"/>
<rect x="140.11" y="202.94" width="2.98" height="2.56" fill="#7fb2d8"/>
<rect x="143.79" y="202.94" width="2.98" height="2.56" fill="#8ebde0"/>
<rect x="147.47" y="202.94" width="2.98" height="2.56" fill="#a7cbe6"/>
<rect x="14.95" y="206.21" width="2.98" height="2.56" fill="#28609c"/>
<rect x="18.63" y="206.21" width="2.98" height="2.56" fill="#3674b2"/>
<rect x="22.31" y="206.21" width="2.98" height="2.56" fill="#a7cbe6"/>
<rect x="25.99" y="206.21" width="2.98" height="2.56" fill="#3371ae"/>
<rect x="29.67" y="206.21" width="2.98" height="2.56" fill="#3e7eba"/>
<rect x="33.36" y="206.21" width="2.98" height="2.56" fill="#f4f6f8"/>
<rect x="37.04" y="206.21" width="2.98" height="2.56" fill="#dde9f3"/>
<rect x="40.72" y="206.21" width="2.98" height="2.56" fill="#f4f6f8"/>
<rect x="44.4" y="206.21" width="2.98" height="2.56" fill="#28609c"/>
<rect x="48.08" y="206.21" width="2.98" height="2.56" fill="#8ebde0"/>
<rect x="51.76" y="206.21" width="2.98" height="2.56" fill="#3877b4"/>
<rect x="55.44" y="206.21" width="2.98" height="2.56" fill="#a7cbe6"/>
<rect x="59.12" y="206.21" width="2.98" height="2.56" fill="#3b7bb8"/>
<rect x="62.8" y="206.21" width="2.98" height="2.56" fill="#3877b4"/>
<rect x="66.49" y="206.21" width="2.98" height="2.56" fill="#3877b4"/>
<rect x="70.17" y="206.21" width="2.98" height="2.56" fill="#3e7eba"/>
<rect x="73.85" y="206.21" width="2.98" height="2.56" fill="#3a78b6"/>
<rect x="77.53" y="206.21" width="2.98" height="2.56" fill="#3b7bb8"/>
<rect x="81.21" y="206.21" width="2.98" height="2.56" fill="#a7cbe6"/>
<rect x="84.89" y="206.21" width="2.98" height="2.56" fill="#6aa3d0"/>
<rect x="88.57" y="206.21" width="2.98" height="2.56" fill="#3e7eba"/>
<rect x="92.25" y="206.21" width="2.98" height="2.56" fill="#3b7bb8"/>
<rect x="95.93" y="206.21" width="2.98" height="2.56" fill="#3371ae"/>
<rect x="99.61" y="206.21" width="2.98" height="2.56" fill="#b9d6ea"/>
<rect x="103.3" y="206.21" width="2.98" height="2.56" fill="#7fb2d8"/>
<rect x="106.98" y="206.21" width="2.98" height="2.56" fill="#a7cbe6"/>
<rect x="110.66" y="206.21" width="2.98" height="2.56" fill="#3b7bb8"/>
<rect x="114.34" y="206.21" width="2.98" height="2.56" fill="#8ebde0"/>
<rect x="118.02" y="206.21" width="2.98" height="2.56" fill="#8ebde0"/>
<rect x="121.7" y="206.21" width="2.98" height="2.56" fill="#3877b4"/>
<rect x="125.38" y="206.21" width="2.98" height="2.56" fill="#3371ae"/>
<rect x="129.06" y="206.21" width="2.98" height="2.56" fill="#3b7bb8"/>
<rect x="132.74" y="206.21" width="2.98" height="2.56" fill="#dde9f3"/>
<rect x="136.43" y="206.21" width="2.98" height="2.56" fill="#600a1e"/>
<rect x="140.11" y="206.21" width="2.98" height="2.56" fill="#eef4f8"/>
<rect x="143.79" y="206.21" width="2.98" height="2.56" fill="#a7cbe6"/>
<rect x="147.47" y="206.21" width="2.98" height="2.56" fill="#8ebde0"/>
<rect x="14.95" y="209.47" width="2.98" height="2.56" fill="#3674b2"/>
<rect x="18.63" y="209.47" width="2.98" height="2.56" fill="#3371ae"/>
<rect x="22.31" y="209.47" width="2.98" height="2.56" fill="#3371ae"/>
<rect x="25.99" y="209.47" width="2.98" height="2.56" fill="#3b7bb8"/>
<rect x="29.67" y="209.47" width="2.98" height="2.56" fill="#6aa3d0"/>
<rect x="33.36" y="209.47" width="2.98" height="2.56" fill="#3e7eba"/>
<rect x="37.04" y="209.47" width="2.98" height="2.56" fill="#3371ae"/>
<rect x="40.72" y="209.47" width="2.98" height="2.56" fill="#3371ae"/>
<rect x="44.4" y="209.47" width="2.98" height="2.56" fill="#3b7bb8"/>
<rect x="48.08" y="209.47" width="2.98" height="2.56" fill="#3a78b6"/>
<rect x="51.76" y="209.47" width="2.98" height="2.56" fill="#3b7bb8"/>
<rect x="55.44" y="209.47" width="2.98" height="2.56" fill="#3b7bb8"/>
<rect x="59.12" y="209.47" width="2.98" height="2.56" fill="#3e7eba"/>
<rect x="62.8" y="209.47" width="2.98" height="2.56" fill="#3a78b6"/>
<rect x="66.49" y="209.47" width="2.98" height="2.56" fill="#3674b2"/>
<rect x="70.17" y="209.47" width="2.98" height="2.56" fill="#3371ae"/>
<rect x="73.85" y="209.47" width="2.98" height="2.56" fill="#3a78b6"/>
<rect x="77.53" y="209.47" width="2.98" height="2.56" fill="#3a78b6"/>
<rect x="81.21" y="209.47" width="2.98" height="2.56" fill="#3674b2"/>
<rect x="84.89" y="209.47" width="2.98" height="2.56" fill="#6aa3d0"/>
<rect x="88.57" y="209.47" width="2.98" height="2.56" fill="#28609c"/>
<rect x="92.25" y="209.47" width="2.98" height="2.56" fill="#3a78b6"/>
<rect x="95.93" y="209.47" width="2.98" height="2.56" fill="#3a78b6"/>
<rect x="99.61" y="209.47" width="2.98" height="2.56" fill="#3371ae"/>
<rect x="103.3" y="209.47" width="2.98" height="2.56" fill="#3371ae"/>
<rect x="106.98" y="209.47" width="2.98" height="2.56" fill="#3877b4"/>
<rect x="110.66" y="209.47" width="2.98" height="2.56" fill="#dde9f3"/>
<rect x="114.34" y="209.47" width="2.98" height="2.56" fill="#dde9f3"/>
<rect x="118.02" y="209.47" width="2.98" height="2.56" fill="#3e7eba"/>
<rect x="121.7" y="209.47" width="2.98" height="2.56" fill="#3b7bb8"/>
<rect x="125.38" y="209.47" width="2.98" height="2.56" fill="#7fb2d8"/>
<rect x="129.06" y="209.47" width="2.98" height="2.56" fill="#600a1e"/>
<rect x="132.74" y="209.47" width="2.98" height="2.56" fill="#3b7bb8"/>
<rect x="136.43" y="209.47" width="2.98" height="2.56" fill="#3b7bb8"/>
<rect x="140.11" y="209.47" width="2.98" height="2.56" fill="#3e7eba"/>
<rect x="143.79" y="209.47" width="2.98" height="2.56" fill="#3a78b6"/>
<rect x="147.47" y="209.47" width="2.98" height="2.56" fill="#3e7eba"/>
<rect x="14.95" y="212.74" width="2.98" height="2.56" fill="#28609c"/>
<rect x="18.63" y="212.74" width="2.98" height="2.56" fill="#3a78b6"/>
<rect x="22.31" y="212.74" width="2.98" height="2.56" fill="#3b7bb8"/>
<rect x="25.99" y="212.74" width="2.98" height="2.56" fill="#3877b4"/>
<rect x="29.67" y="212.74" width="2.98" height="2.56" fill="#3b7bb8"/>
<rect x="33.36" y="212.74" width="2.98" height="2.56" fill="#3b7bb8"/>
<rect x="37.04" y="212.74" width="2.98" height="2.56" fill="#3b7bb8"/>
<rect x="40.72" y="212.74" width="2.98" height="2.56" fill="#3a78b6"/>
<rect x="44.4" y="212.74" width="2.98" height="2.56" fill="#3e7eba"/>
<rect x="48.08" y="212.74" width="2.98" height="2.56" fill="#3877b4"/>
<rect x="51.76" y="212.74" width="2.98" height="2.56" fill="#3b7bb8"/>
<rect x="55.44" y="212.74" width="2.98" height="2.56" fill="#3371ae"/>
<rect x="59.12" y="212.74" width="2.98" height="2.56" fill="#3e7eba"/>
<rect x="62.8" y="212.74" width="2.98" height="2.56" fill="#3674b2"/>
<rect x="66.49" y="212.74" width="2.98" height="2.56" fill="#28609c"/>
<rect x="70.17" y="212.74" width="2.98" height="2.56" fill="#3674b2"/>
<rect x="73.85" y="212.74" width="2.98" height="2.56" fill="#3e7eba"/>
<rect x="77.53" y="212.74" width="2.98" height="2.56" fill="#3e7eba"/>
<rect x="81.21" y="212.74" width="2.98" height="2.56" fill="#3371ae"/>
<rect x="84.89" y="212.74" width="2.98" height="2.56" fill="#3a78b6"/>
<rect x="88.57" y="212.74" width="2.98" height="2.56" fill="#28609c"/>
<rect x="92.25" y="212.74" width="2.98" height="2.56" fill="#3b7bb8"/>
<rect x="95.93" y="212.74" width="2.98" height="2.56" fill="#3a78b6"/>
<rect x="99.61" y="212.74" width="2.98" height="2.56" fill="#28609c"/>
<rect x="103.3" y="212.74" width="2.98" height="2.56" fill="#3b7bb8"/>
<rect x="106.98" y="212.74" width="2.98" height="2.56" fill="#dde9f3"/>
<rect x="110.66" y="212.74" width="2.98" height="2.56" fill="#3e7eba"/>
<rect x="114.34" y="212.74" width="2.98" height="2.56" fill="#3877b4"/>
<rect x="118.02" y="212.74" width="2.98" height="2.56" fill="#dde9f3"/>
<rect x="121.7" y="212.74" width="2.98" height="2.56" fill="#b9d6ea"/>
<rect x="125.38" y="212.74" width="2.98" height="2.56" fill="#600a1e"/>
<rect x="129.06" y="212.74" width="2.98" height="2.56" fill="#a7cbe6"/>
<rect x="132.74" y="212.74" width="2.98" height="2.56" fill="#3371ae"/>
<rect x="136.43" y="212.74" width="2.98" height="2.56" fill="#3877b4"/>
<rect x="140.11" y="212.74" width="2.98" height="2.56" fill="#3674b2"/>
<rect x="143.79" y="212.74" width="2.98" height="2.56" fill="#6aa3d0"/>
<rect x="147.47" y="212.74" width="2.98" height="2.56" fill="#3e7eba"/>
<rect x="14.95" y="216" width="2.98" height="2.56" fill="#3674b2"/>
<rect x="18.63" y="216" width="2.98" height="2.56" fill="#3877b4"/>
<rect x="22.31" y="216" width="2.98" height="2.56" fill="#28609c"/>
<rect x="25.99" y="216" width="2.98" height="2.56" fill="#3371ae"/>
<rect x="29.67" y="216" width="2.98" height="2.56" fill="#3a78b6"/>
<rect x="33.36" y="216" width="2.98" height="2.56" fill="#3a78b6"/>
<rect x="37.04" y="216" width="2.98" height="2.56" fill="#3674b2"/>
<rect x="40.72" y="216" width="2.98" height="2.56" fill="#3e7eba"/>
<rect x="44.4" y="216" width="2.98" height="2.56" fill="#3674b2"/>
<rect x="48.08" y="216" width="2.98" height="2.56" fill="#3a78b6"/>
<rect x="51.76" y="216" width="2.98" height="2.56" fill="#3b7bb8"/>
<rect x="55.44" y="216" width="2.98" height="2.56" fill="#3b7bb8"/>
<rect x="59.12" y="216" width="2.98" height="2.56" fill="#3b7bb8"/>
<rect x="62.8" y="216" width="2.98" height="2.56" fill="#a7cbe6"/>
<rect x="66.49" y="216" width="2.98" height="2.56" fill="#3877b4"/>
<rect x="70.17" y="216" width="2.98" height="2.56" fill="#3b7bb8"/>
<rect x="73.85" y="216" width="2.98" height="2.56" fill="#3371ae"/>
<rect x="77.53" y="216" width="2.98" height="2.56" fill="#3674b2"/>
<rect x="81.21" y="216" width="2.98" height="2.56" fill="#3a78b6"/>
<rect x="84.89" y="216" width="2.98" height="2.56" fill="#3a78b6"/>
<rect x="88.57" y="216" width="2.98" height="2.56" fill="#6aa3d0"/>
<rect x="92.25" y="216" width="2.98" height="2.56" fill="#3371ae"/>
<rect x="95.93" y="216" width="2.98" height="2.56" fill="#3371ae"/>
<rect x="99.61" y="216" width="2.98" height="2.56" fill="#3e7eba"/>
<rect x="103.3" y="216" width="2.98" height="2.56" fill="#28609c"/>
<rect x="106.98" y="216" width="2.98" height="2.56" fill="#f4f6f8"/>
<rect x="110.66" y="216" width="2.98" height="2.56" fill="#3e7eba"/>
<rect x="114.34" y="216" width="2.98" height="2.56" fill="#3e7eba"/>
<rect x="118.02" y="216" width="2.98" height="2.56" fill="#f4f6f8"/>
<rect x="121.7" y="216" width="2.98" height="2.56" fill="#600a1e"/>
<rect x="125.38" y="216" width="2.98" height="2.56" fill="#3b7bb8"/>
<rect x="129.06" y="216" width="2.98" height="2.56" fill="#3674b2"/>
<rect x="132.74" y="216" width="2.98" height="2.56" fill="#3877b4"/>
<rect x="136.43" y="216" width="2.98" height="2.56" fill="#3b7bb8"/>
<rect x="140.11" y="216" width="2.98" height="2.56" fill="#3674b2"/>
<rect x="143.79" y="216" width="2.98" height="2.56" fill="#3b7bb8"/>
<rect x="147.47" y="216" width="2.98" height="2.56" fill="#6aa3d0"/>
<rect x="14.95" y="219.27" width="2.98" height="2.56" fill="#3674b2"/>
<rect x="18.63" y="219.27" width="2.98" height="2.56" fill="#3a78b6"/>
<rect x="22.31" y="219.27" width="2.98" height="2.56" fill="#28609c"/>
<rect x="25.99" y="219.27" width="2.98" height="2.56" fill="#3371ae"/>
<rect x="29.67" y="219.27" width="2.98" height="2.56" fill="#3674b2"/>
<rect x="33.36" y="219.27" width="2.98" height="2.56" fill="#3877b4"/>
<rect x="37.04" y="219.27" width="2.98" height="2.56" fill="#3e7eba"/>
<rect x="40.72" y="219.27" width="2.98" height="2.56" fill="#3674b2"/>
<rect x="44.4" y="219.27" width="2.98" height="2.56" fill="#b9d6ea"/>
<rect x="48.08" y="219.27" width="2.98" height="2.56" fill="#6aa3d0"/>
<rect x="51.76" y="219.27" width="2.98" height="2.56" fill="#3674b2"/>
<rect x="55.44" y="219.27" width="2.98" height="2.56" fill="#f4f6f8"/>
<rect x="59.12" y="219.27" width="2.98" height="2.56" fill="#3a78b6"/>
<rect x="62.8" y="219.27" width="2.98" height="2.56" fill="#7fb2d8"/>
<rect x="66.49" y="219.27" width="2.98" height="2.56" fill="#3b7bb8"/>
<rect x="70.17" y="219.27" width="2.98" height="2.56" fill="#6aa3d0"/>
<rect x="73.85" y="219.27" width="2.98" height="2.56" fill="#3e7eba"/>
<rect x="77.53" y="219.27" width="2.98" height="2.56" fill="#7fb2d8"/>
<rect x="81.21" y="219.27" width="2.98" height="2.56" fill="#3b7bb8"/>
<rect x="84.89" y="219.27" width="2.98" height="2.56" fill="#a7cbe6"/>
<rect x="88.57" y="219.27" width="2.98" height="2.56" fill="#3a78b6"/>
<rect x="92.25" y="219.27" width="2.98" height="2.56" fill="#28609c"/>
<rect x="95.93" y="219.27" width="2.98" height="2.56" fill="#3b7bb8"/>
<rect x="99.61" y="219.27" width="2.98" height="2.56" fill="#3a78b6"/>
<rect x="103.3" y="219.27" width="2.98" height="2.56" fill="#3674b2"/>
<rect x="106.98" y="219.27" width="2.98" height="2.56" fill="#3b7bb8"/>
<rect x="110.66" y="219.27" width="2.98" height="2.56" fill="#eef4f8"/>
<rect x="114.34" y="219.27" width="2.98" height="2.56" fill="#f4f6f8"/>
<rect x="118.02" y="219.27" width="2.98" height="2.56" fill="#600a1e"/>
<rect x="121.7" y="219.27" width="2.98" height="2.56" fill="#f4f6f8"/>
<rect x="125.38" y="219.27" width="2.98" height="2.56" fill="#eef4f8"/>
<rect x="129.06" y="219.27" width="2.98" height="2.56" fill="#3877b4"/>
<rect x="132.74" y="219.27" width="2.98" height="2.56" fill="#b9d6ea"/>
<rect x="136.43" y="219.27" width="2.98" height="2.56" fill="#7fb2d8"/>
<rect x="140.11" y="219.27" width="2.98" height="2.56" fill="#3e7eba"/>
<rect x="143.79" y="219.27" width="2.98" height="2.56" fill="#3877b4"/>
<rect x="147.47" y="219.27" width="2.98" height="2.56" fill="#3b7bb8"/>
<rect x="14.95" y="222.53" width="2.98" height="2.56" fill="#6aa3d0"/>
<rect x="18.63" y="222.53" width="2.98" height="2.56" fill="#3371ae"/>
<rect x="22.31" y="222.53" width="2.98" height="2.56" fill="#3877b4"/>
<rect x="25.99" y="222.53" width="2.98" height="2.56" fill="#3371ae"/>
<rect x="29.67" y="222.53" width="2.98" height="2.56" fill="#3371ae"/>
<rect x="33.36" y="222.53" width="2.98" height="2.56" fill="#3371ae"/>
<rect x="37.04" y="222.53" width="2.98" height="2.56" fill="#3a78b6"/>
<rect x="40.72" y="222.53" width="2.98" height="2.56" fill="#3371ae"/>
<rect x="44.4" y="222.53" width="2.98" height="2.56" fill="#3877b4"/>
<rect x="48.08" y="222.53" width="2.98" height="2.56" fill="#a7cbe6"/>
<rect x="51.76" y="222.53" width="2.98" height="2.56" fill="#28609c"/>
<rect x="55.44" y="222.53" width="2.98" height="2.56" fill="#6aa3d0"/>
<rect x="59.12" y="222.53" width="2.98" height="2.56" fill="#3a78b6"/>
<rect x="62.8" y="222.53" width="2.98" height="2.56" fill="#3e7eba"/>
<rect x="66.49" y="222.53" width="2.98" height="2.56" fill="#3877b4"/>
<rect x="70.17" y="222.53" width="2.98" height="2.56" fill="#6aa3d0"/>
<rect x="73.85" y="222.53" width="2.98" height="2.56" fill="#3b7bb8"/>
<rect x="77.53" y="222.53" width="2.98" height="2.56" fill="#3a78b6"/>
<rect x="81.21" y="222.53" width="2.98" height="2.56" fill="#3a78b6"/>
<rect x="84.89" y="222.53" width="2.98" height="2.56" fill="#3371ae"/>
<rect x="88.57" y="222.53" width="2.98" height="2.56" fill="#3a78b6"/>
<rect x="92.25" y="222.53" width="2.98" height="2.56" fill="#3a78b6"/>
<rect x="95.93" y="222.53" width="2.98" height="2.56" fill="#3e7eba"/>
<rect x="99.61" y="222.53" width="2.98" height="2.56" fill="#7fb2d8"/>
<rect x="103.3" y="222.53" width="2.98" height="2.56" fill="#8ebde0"/>
<rect x="106.98" y="222.53" width="2.98" height="2.56" fill="#3b7bb8"/>
<rect x="110.66" y="222.53" width="2.98" height="2.56" fill="#f4f6f8"/>
<rect x="114.34" y="222.53" width="2.98" height="2.56" fill="#600a1e"/>
<rect x="118.02" y="222.53" width="2.98" height="2.56" fill="#3b7bb8"/>
<rect x="121.7" y="222.53" width="2.98" height="2.56" fill="#3e7eba"/>
<rect x="125.38" y="222.53" width="2.98" height="2.56" fill="#3e7eba"/>
<rect x="129.06" y="222.53" width="2.98" height="2.56" fill="#8ebde0"/>
<rect x="132.74" y="222.53" width="2.98" height="2.56" fill="#b9d6ea"/>
<rect x="136.43" y="222.53" width="2.98" height="2.56" fill="#7fb2d8"/>
<rect x="140.11" y="222.53" width="2.98" height="2.56" fill="#3371ae"/>
<rect x="143.79" y="222.53" width="2.98" height="2.56" fill="#3b7bb8"/>
<rect x="147.47" y="222.53" width="2.98" height="2.56" fill="#8ebde0"/>
<rect x="14.95" y="225.8" width="2.98" height="2.56" fill="#3674b2"/>
<rect x="18.63" y="225.8" width="2.98" height="2.56" fill="#3877b4"/>
<rect x="22.31" y="225.8" width="2.98" height="2.56" fill="#3371ae"/>
<rect x="25.99" y="225.8" width="2.98" height="2.56" fill="#3a78b6"/>
<rect x="29.67" y="225.8" width="2.98" height="2.56" fill="#3e7eba"/>
<rect x="33.36" y="225.8" width="2.98" height="2.56" fill="#3877b4"/>
<rect x="37.04" y="225.8" width="2.98" height="2.56" fill="#28609c"/>
<rect x="40.72" y="225.8" width="2.98" height="2.56" fill="#3e7eba"/>
<rect x="44.4" y="225.8" width="2.98" height="2.56" fill="#3371ae"/>
<rect x="48.08" y="225.8" width="2.98" height="2.56" fill="#3e7eba"/>
<rect x="51.76" y="225.8" width="2.98" height="2.56" fill="#3a78b6"/>
<rect x="55.44" y="225.8" width="2.98" height="2.56" fill="#3371ae"/>
<rect x="59.12" y="225.8" width="2.98" height="2.56" fill="#3a78b6"/>
<rect x="62.8" y="225.8" width="2.98" height="2.56" fill="#3a78b6"/>
<rect x="66.49" y="225.8" width="2.98" height="2.56" fill="#3a78b6"/>
<rect x="70.17" y="225.8" width="2.98" height="2.56" fill="#3e7eba"/>
<rect x="73.85" y="225.8" width="2.98" height="2.56" fill="#3e7eba"/>
<rect x="77.53" y="225.8" width="2.98" height="2.56" fill="#3b7bb8"/>
<rect x="81.21" y="225.8" width="2.98" height="2.56" fill="#28609c"/>
<rect x="84.89" y="225.8" width="2.98" height="2.56" fill="#28609c"/>
<rect x="88.57" y="225.8" width="2.98" height="2.56" fill="#3674b2"/>
<rect x="92.25" y="225.8" width="2.98" height="2.56" fill="#3b7bb8"/>
<rect x="95.93" y="225.8" width="2.98" height="2.56" fill="#3877b4"/>
<rect x="99.61" y="225.8" width="2.98" height="2.56" fill="#3a78b6"/>
<rect x="103.3" y="225.8" width="2.98" height="2.56" fill="#3b7bb8"/>
<rect x="106.98" y="225.8" width="2.98" height="2.56" fill="#3e7eba"/>
<rect x="110.66" y="225.8" width="2.98" height="2.56" fill="#600a1e"/>
<rect x="114.34" y="225.8" width="2.98" height="2.56" fill="#dde9f3"/>
<rect x="118.02" y="225.8" width="2.98" height="2.56" fill="#6aa3d0"/>
<rect x="121.7" y="225.8" width="2.98" height="2.56" fill="#6aa3d0"/>
<rect x="125.38" y="225.8" width="2.98" height="2.56" fill="#3e7eba"/>
<rect x="129.06" y="225.8" width="2.98" height="2.56" fill="#b9d6ea"/>
<rect x="132.74" y="225.8" width="2.98" height="2.56" fill="#3b7bb8"/>
<rect x="136.43" y="225.8" width="2.98" height="2.56" fill="#3e7eba"/>
<rect x="140.11" y="225.8" width="2.98" height="2.56" fill="#3674b2"/>
<rect x="143.79" y="225.8" width="2.98" height="2.56" fill="#6aa3d0"/>
<rect x="147.47" y="225.8" width="2.98" height="2.56" fill="#3e7eba"/>
<rect x="14.95" y="229.06" width="2.98" height="2.56" fill="#3b7bb8"/>
<rect x="18.63" y="229.06" width="2.98" height="2.56" fill="#3877b4"/>
<rect x="22.31" y="229.06" width="2.98" height="2.56" fill="#3674b2"/>
<rect x="25.99" y="229.06" width="2.98" height="2.56" fill="#6aa3d0"/>
<rect x="29.67" y="229.06" width="2.98" height="2.56" fill="#3371ae"/>
<rect x="33.36" y="229.06" width="2.98" height="2.56" fill="#8ebde0"/>
<rect x="37.04" y="229.06" width="2.98" height="2.56" fill="#3e7eba"/>
<rect x="40.72" y="229.06" width="2.98" height="2.56" fill="#3a78b6"/>
<rect x="44.4" y="229.06" width="2.98" height="2.56" fill="#3a78b6"/>
<rect x="48.08" y="229.06" width="2.98" height="2.56" fill="#f4f6f8"/>
<rect x="51.76" y="229.06" width="2.98" height="2.56" fill="#3b7bb8"/>
<rect x="55.44" y="229.06" width="2.98" height="2.56" fill="#3674b2"/>
<rect x="59.12" y="229.06" width="2.98" height="2.56" fill="#3674b2"/>
<rect x="62.8" y="229.06" width="2.98" height="2.56" fill="#a7cbe6"/>
<rect x="66.49" y="229.06" width="2.98" height="2.56" fill="#3e7eba"/>
<rect x="70.17" y="229.06" width="2.98" height="2.56" fill="#3877b4"/>
<rect x="73.85" y="229.06" width="2.98" height="2.56" fill="#3371ae"/>
<rect x="77.53" y="229.06" width="2.98" height="2.56" fill="#3877b4"/>
<rect x="81.21" y="229.06" width="2.98" height="2.56" fill="#28609c"/>
<rect x="84.89" y="229.06" width="2.98" height="2.56" fill="#3e7eba"/>
<rect x="88.57" y="229.06" width="2.98" height="2.56" fill="#b9d6ea"/>
<rect x="92.25" y="229.06" width="2.98" height="2.56" fill="#3b7bb8"/>
<rect x="95.93" y="229.06" width="2.98" height="2.56" fill="#3674b2"/>
<rect x="99.61" y="229.06" width="2.98" height="2.56" fill="#dde9f3"/>
<rect x="103.3" y="229.06" width="2.98" height="2.56" fill="#eef4f8"/>
<rect x="106.98" y="229.06" width="2.98" height="2.56" fill="#600a1e"/>
<rect x="110.66" y="229.06" width="2.98" height="2.56" fill="#3371ae"/>
<rect x="114.34" y="229.06" width="2.98" height="2.56" fill="#3e7eba"/>
<rect x="118.02" y="229.06" width="2.98" height="2.56" fill="#3674b2"/>
<rect x="121.7" y="229.06" width="2.98" height="2.56" fill="#3877b4"/>
<rect x="125.38" y="229.06" width="2.98" height="2.56" fill="#3877b4"/>
<rect x="129.06" y="229.06" width="2.98" height="2.56" fill="#3877b4"/>
<rect x="132.74" y="229.06" width="2.98" height="2.56" fill="#a7cbe6"/>
<rect x="136.43" y="229.06" width="2.98" height="2.56" fill="#3371ae"/>
<rect x="140.11" y="229.06" width="2.98" height="2.56" fill="#3a78b6"/>
<rect x="143.79" y="229.06" width="2.98" height="2.56" fill="#3b7bb8"/>
<rect x="147.47" y="229.06" width="2.98" height="2.56" fill="#28609c"/>
<rect x="14.95" y="232.33" width="2.98" height="2.56" fill="#3e7eba"/>
<rect x="18.63" y="232.33" width="2.98" height="2.56" fill="#3e7eba"/>
<rect x="22.31" y="232.33" width="2.98" height="2.56" fill="#3e7eba"/>
<rect x="25.99" y="232.33" width="2.98" height="2.56" fill="#3371ae"/>
<rect x="29.67" y="232.33" width="2.98" height="2.56" fill="#3a78b6"/>
<rect x="33.36" y="232.33" width="2.98" height="2.56" fill="#eef4f8"/>
<rect x="37.04" y="232.33" width="2.98" height="2.56" fill="#3a78b6"/>
<rect x="40.72" y="232.33" width="2.98" height="2.56" fill="#3674b2"/>
<rect x="44.4" y="232.33" width="2.98" height="2.56" fill="#3371ae"/>
<rect x="48.08" y="232.33" width="2.98" height="2.56" fill="#a7cbe6"/>
<rect x="51.76" y="232.33" width="2.98" height="2.56" fill="#3877b4"/>
<rect x="55.44" y="232.33" width="2.98" height="2.56" fill="#3e7eba"/>
<rect x="59.12" y="232.33" width="2.98" height="2.56" fill="#3371ae"/>
<rect x="62.8" y="232.33" width="2.98" height="2.56" fill="#a7cbe6"/>
<rect x="66.49" y="232.33" width="2.98" height="2.56" fill="#3674b2"/>
<rect x="70.17" y="232.33" width="2.98" height="2.56" fill="#3e7eba"/>
<rect x="73.85" y="232.33" width="2.98" height="2.56" fill="#3674b2"/>
<rect x="77.53" y="232.33" width="2.98" height="2.56" fill="#3371ae"/>
<rect x="81.21" y="232.33" width="2.98" height="2.56" fill="#3b7bb8"/>
<rect x="84.89" y="232.33" width="2.98" height="2.56" fill="#28609c"/>
<rect x="88.57" y="232.33" width="2.98" height="2.56" fill="#a7cbe6"/>
<rect x="92.25" y="232.33" width="2.98" height="2.56" fill="#3877b4"/>
<rect x="95.93" y="232.33" width="2.98" height="2.56" fill="#3674b2"/>
<rect x="99.61" y="232.33" width="2.98" height="2.56" fill="#eef4f8"/>
<rect x="103.3" y="232.33" width="2.98" height="2.56" fill="#600a1e"/>
<rect x="106.98" y="232.33" width="2.98" height="2.56" fill="#eef4f8"/>
<rect x="110.66" y="232.33" width="2.98" height="2.56" fill="#6aa3d0"/>
<rect x="114.34" y="232.33" width="2.98" height="2.56" fill="#b9d6ea"/>
<rect x="118.02" y="232.33" width="2.98" height="2.56" fill="#3e7eba"/>
<rect x="121.7" y="232.33" width="2.98" height="2.56" fill="#6aa3d0"/>
<rect x="125.38" y="232.33" width="2.98" height="2.56" fill="#3371ae"/>
<rect x="129.06" y="232.33" width="2.98" height="2.56" fill="#3e7eba"/>
<rect x="132.74" y="232.33" width="2.98" height="2.56" fill="#a7cbe6"/>
<rect x="136.43" y="232.33" width="2.98" height="2.56" fill="#3b7bb8"/>
<rect x="140.11" y="232.33" width="2.98" height="2.56" fill="#a7cbe6"/>
<rect x="143.79" y="232.33" width="2.98" height="2.56" fill="#3877b4"/>
<rect x="147.47" y="232.33" width="2.98" height="2.56" fill="#8ebde0"/>
<rect x="14.95" y="235.59" width="2.98" height="2.56" fill="#3877b4"/>
<rect x="18.63" y="235.59" width="2.98" height="2.56" fill="#3e7eba"/>
<rect x="22.31" y="235.59" width="2.98" height="2.56" fill="#28609c"/>
<rect x="25.99" y="235.59" width="2.98" height="2.56" fill="#3a78b6"/>
<rect x="29.67" y="235.59" width="2.98" height="2.56" fill="#3b7bb8"/>
<rect x="33.36" y="235.59" width="2.98" height="2.56" fill="#8ebde0"/>
<rect x="37.04" y="235.59" width="2.98" height="2.56" fill="#3674b2"/>
<rect x="40.72" y="235.59" width="2.98" height="2.56" fill="#3877b4"/>
<rect x="44.4" y="235.59" width="2.98" height="2.56" fill="#3877b4"/>
<rect x="48.08" y="235.59" width="2.98" height="2.56" fill="#3a78b6"/>
<rect x="51.76" y="235.59" width="2.98" height="2.56" fill="#28609c"/>
<rect x="55.44" y="235.59" width="2.98" height="2.56" fill="#3371ae"/>
<rect x="59.12" y="235.59" width="2.98" height="2.56" fill="#3674b2"/>
<rect x="62.8" y="235.59" width="2.98" height="2.56" fill="#a7cbe6"/>
<rect x="66.49" y="235.59" width="2.98" height="2.56" fill="#3a78b6"/>
<rect x="70.17" y="235.59" width="2.98" height="2.56" fill="#6aa3d0"/>
<rect x="73.85" y="235.59" width="2.98" height="2.56" fill="#3e7eba"/>
<rect x="77.53" y="235.59" width="2.98" height="2.56" fill="#3674b2"/>
<rect x="81.21" y="235.59" width="2.98" height="2.56" fill="#3b7bb8"/>
<rect x="84.89" y="235.59" width="2.98" height="2.56" fill="#3b7bb8"/>
<rect x="88.57" y="235.59" width="2.98" height="2.56" fill="#a7cbe6"/>
<rect x="92.25" y="235.59" width="2.98" height="2.56" fill="#6aa3d0"/>
<rect x="95.93" y="235.59" width="2.98" height="2.56" fill="#3877b4"/>
<rect x="99.61" y="235.59" width="2.98" height="2.56" fill="#600a1e"/>
<rect x="103.3" y="235.59" width="2.98" height="2.56" fill="#dde9f3"/>
<rect x="106.98" y="235.59" width="2.98" height="2.56" fill="#eef4f8"/>
<rect x="110.66" y="235.59" width="2.98" height="2.56" fill="#6aa3d0"/>
<rect x="114.34" y="235.59" width="2.98" height="2.56" fill="#b9d6ea"/>
<rect x="118.02" y="235.59" width="2.98" height="2.56" fill="#3877b4"/>
<rect x="121.7" y="235.59" width="2.98" height="2.56" fill="#3674b2"/>
<rect x="125.38" y="235.59" width="2.98" height="2.56" fill="#3e7eba"/>
<rect x="129.06" y="235.59" width="2.98" height="2.56" fill="#3b7bb8"/>
<rect x="132.74" y="235.59" width="2.98" height="2.56" fill="#b9d6ea"/>
<rect x="136.43" y="235.59" width="2.98" height="2.56" fill="#6aa3d0"/>
<rect x="140.11" y="235.59" width="2.98" height="2.56" fill="#7fb2d8"/>
<rect x="143.79" y="235.59" width="2.98" height="2.56" fill="#3674b2"/>
<rect x="147.47" y="235.59" width="2.98" height="2.56" fill="#b9d6ea"/>
<rect x="14.95" y="238.86" width="2.98" height="2.56" fill="#3674b2"/>
<rect x="18.63" y="238.86" width="2.98" height="2.56" fill="#3371ae"/>
<rect x="22.31" y="238.86" width="2.98" height="2.56" fill="#6aa3d0"/>
<rect x="25.99" y="238.86" width="2.98" height="2.56" fill="#3b7bb8"/>
<rect x="29.67" y="238.86" width="2.98" height="2.56" fill="#3b7bb8"/>
<rect x="33.36" y="238.86" width="2.98" height="2.56" fill="#3b7bb8"/>
<rect x="37.04" y="238.86" width="2.98" height="2.56" fill="#3674b2"/>
<rect x="40.72" y="238.86" width="2.98" height="2.56" fill="#28609c"/>
<rect x="44.4" y="238.86" width="2.98" height="2.56" fill="#3371ae"/>
<rect x="48.08" y="238.86" width="2.98" height="2.56" fill="#3b7bb8"/>
<rect x="51.76" y="238.86" width="2.98" height="2.56" fill="#3877b4"/>
<rect x="55.44" y="238.86" width="2.98" height="2.56" fill="#6aa3d0"/>
<rect x="59.12" y="238.86" width="2.98" height="2.56" fill="#3e7eba"/>
<rect x="62.8" y="238.86" width="2.98" height="2.56" fill="#6aa3d0"/>
<rect x="66.49" y="238.86" width="2.98" height="2.56" fill="#6aa3d0"/>
<rect x="70.17" y="238.86" width="2.98" height="2.56" fill="#3e7eba"/>
<rect x="73.85" y="238.86" width="2.98" height="2.56" fill="#6aa3d0"/>
<rect x="77.53" y="238.86" width="2.98" height="2.56" fill="#6aa3d0"/>
<rect x="81.21" y="238.86" width="2.98" height="2.56" fill="#3877b4"/>
<rect x="84.89" y="238.86" width="2.98" height="2.56" fill="#3877b4"/>
<rect x="88.57" y="238.86" width="2.98" height="2.56" fill="#28609c"/>
<rect x="92.25" y="238.86" width="2.98" height="2.56" fill="#600a1e"/>
<rect x="95.93" y="238.86" width="2.98" height="2.56" fill="#600a1e"/>
<rect x="99.61" y="238.86" width="2.98" height="2.56" fill="#28609c"/>
<rect x="103.3" y="238.86" width="2.98" height="2.56" fill="#3b7bb8"/>
<rect x="106.98" y="238.86" width="2.98" height="2.56" fill="#3371ae"/>
<rect x="110.66" y="238.86" width="2.98" height="2.56" fill="#3a78b6"/>
<rect x="114.34" y="238.86" width="2.98" height="2.56" fill="#3877b4"/>
<rect x="118.02" y="238.86" width="2.98" height="2.56" fill="#3674b2"/>
<rect x="121.7" y="238.86" width="2.98" height="2.56" fill="#3e7eba"/>
<rect x="125.38" y="238.86" width="2.98" height="2.56" fill="#3a78b6"/>
<rect x="129.06" y="238.86" width="2.98" height="2.56" fill="#28609c"/>
<rect x="132.74" y="238.86" width="2.98" height="2.56" fill="#28609c"/>
<rect x="136.43" y="238.86" width="2.98" height="2.56" fill="#3a78b6"/>
<rect x="140.11" y="238.86" width="2.98" height="2.56" fill="#3b7bb8"/>
<rect x="143.79" y="238.86" width="2.98" height="2.56" fill="#3674b2"/>
<rect x="147.47" y="238.86" width="2.98" height="2.56" fill="#3e7eba"/>
<rect x="14.95" y="242.12" width="2.98" height="2.56" fill="#28609c"/>
<rect x="18.63" y="242.12" width="2.98" height="2.56" fill="#3b7bb8"/>
<rect x="22.31" y="242.12" width="2.98" height="2.56" fill="#3e7eba"/>
<rect x="25.99" y="242.12" width="2.98" height="2.56" fill="#3674b2"/>
<rect x="29.67" y="242.12" width="2.98" height="2.56" fill="#3e7eba"/>
<rect x="33.36" y="242.12" width="2.98" height="2.56" fill="#6aa3d0"/>
<rect x="37.04" y="242.12" width="2.98" height="2.56" fill="#3877b4"/>
<rect x="40.72" y="242.12" width="2.98" height="2.56" fill="#3a78b6"/>
<rect x="44.4" y="242.12" width="2.98" height="2.56" fill="#3e7eba"/>
<rect x="48.08" y="242.12" width="2.98" height="2.56" fill="#6aa3d0"/>
<rect x="51.76" y="242.12" width="2.98" height="2.56" fill="#3674b2"/>
<rect x="55.44" y="242.12" width="2.98" height="2.56" fill="#3a78b6"/>
<rect x="59.12" y="242.12" width="2.98" height="2.56" fill="#3674b2"/>
<rect x="62.8" y="242.12" width="2.98" height="2.56" fill="#3674b2"/>
<rect x="66.49" y="242.12" width="2.98" height="2.56" fill="#3371ae"/>
<rect x="70.17" y="242.12" width="2.98" height="2.56" fill="#6aa3d0"/>
<rect x="73.85" y="242.12" width="2.98" height="2.56" fill="#3877b4"/>
<rect x="77.53" y="242.12" width="2.98" height="2.56" fill="#3674b2"/>
<rect x="81.21" y="242.12" width="2.98" height="2.56" fill="#3877b4"/>
<rect x="84.89" y="242.12" width="2.98" height="2.56" fill="#3877b4"/>
<rect x="88.57" y="242.12" width="2.98" height="2.56" fill="#3a78b6"/>
<rect x="92.25" y="242.12" width="2.98" height="2.56" fill="#600a1e"/>
<rect x="95.93" y="242.12" width="2.98" height="2.56" fill="#600a1e"/>
<rect x="99.61" y="242.12" width="2.98" height="2.56" fill="#6aa3d0"/>
<rect x="103.3" y="242.12" width="2.98" height="2.56" fill="#3e7eba"/>
<rect x="106.98" y="242.12" width="2.98" height="2.56" fill="#3e7eba"/>
<rect x="110.66" y="242.12" width="2.98" height="2.56" fill="#3e7eba"/>
<rect x="114.34" y="242.12" width="2.98" height="2.56" fill="#3e7eba"/>
<rect x="118.02" y="242.12" width="2.98" height="2.56" fill="#3b7bb8"/>
<rect x="121.7" y="242.12" width="2.98" height="2.56" fill="#3b7bb8"/>
<rect x="125.38" y="242.12" width="2.98" height="2.56" fill="#6aa3d0"/>
<rect x="129.06" y="242.12" width="2.98" height="2.56" fill="#3674b2"/>
<rect x="132.74" y="242.12" width="2.98" height="2.56" fill="#3b7bb8"/>
<rect x="136.43" y="242.12" width="2.98" height="2.56" fill="#3674b2"/>
<rect x="140.11" y="242.12" width="2.98" height="2.56" fill="#3e7eba"/>
<rect x="143.79" y="242.12" width="2.98" height="2.56" fill="#3371ae"/>
<rect x="147.47" y="242.12" width="2.98" height="2.56" fill="#28609c"/>
<rect x="14.95" y="245.39" width="2.98" height="2.56" fill="#3b7bb8"/>
<rect x="18.63" y="245.39" width="2.98" height="2.56" fill="#3a78b6"/>
<rect x="22.31" y="245.39" width="2.98" height="2.56" fill="#3e7eba"/>
<rect x="25.99" y="245.39" width="2.98" height="2.56" fill="#3674b2"/>
<rect x="29.67" y="245.39" width="2.98" height="2.56" fill="#3e7eba"/>
<rect x="33.36" y="245.39" width="2.98" height="2.56" fill="#8ebde0"/>
<rect x="37.04" y="245.39" width="2.98" height="2.56" fill="#3674b2"/>
<rect x="40.72" y="245.39" width="2.98" height="2.56" fill="#f4f6f8"/>
<rect x="44.4" y="245.39" width="2.98" height="2.56" fill="#28609c"/>
<rect x="48.08" y="245.39" width="2.98" height="2.56" fill="#28609c"/>
<rect x="51.76" y="245.39" width="2.98" height="2.56" fill="#3877b4"/>
<rect x="55.44" y="245.39" width="2.98" height="2.56" fill="#3b7bb8"/>
<rect x="59.12" y="245.39" width="2.98" height="2.56" fill="#3e7eba"/>
<rect x="62.8" y="245.39" width="2.98" height="2.56" fill="#dde9f3"/>
<rect x="66.49" y="245.39" width="2.98" height="2.56" fill="#3877b4"/>
<rect x="70.17" y="245.39" width="2.98" height="2.56" fill="#3371ae"/>
<rect x="73.85" y="245.39" width="2.98" height="2.56" fill="#3877b4"/>
<rect x="77.53" y="245.39" width="2.98" height="2.56" fill="#3674b2"/>
<rect x="81.21" y="245.39" width="2.98" height="2.56" fill="#dde9f3"/>
<rect x="84.89" y="245.39" width="2.98" height="2.56" fill="#dde9f3"/>
<rect x="88.57" y="245.39" width="2.98" height="2.56" fill="#600a1e"/>
<rect x="92.25" y="245.39" width="2.98" height="2.56" fill="#3674b2"/>
<rect x="95.93" y="245.39" width="2.98" height="2.56" fill="#3674b2"/>
<rect x="99.61" y="245.39" width="2.98" height="2.56" fill="#a7cbe6"/>
<rect x="103.3" y="245.39" width="2.98" height="2.56" fill="#b9d6ea"/>
<rect x="106.98" y="245.39" width="2.98" height="2.56" fill="#a7cbe6"/>
<rect x="110.66" y="245.39" width="2.98" height="2.56" fill="#3b7bb8"/>
<rect x="114.34" y="245.39" width="2.98" height="2.56" fill="#3371ae"/>
<rect x="118.02" y="245.39" width="2.98" height="2.56" fill="#3a78b6"/>
<rect x="121.7" y="245.39" width="2.98" height="2.56" fill="#3b7bb8"/>
<rect x="125.38" y="245.39" width="2.98" height="2.56" fill="#3b7bb8"/>
<rect x="129.06" y="245.39" width="2.98" height="2.56" fill="#3a78b6"/>
<rect x="132.74" y="245.39" width="2.98" height="2.56" fill="#3a78b6"/>
<rect x="136.43" y="245.39" width="2.98" height="2.56" fill="#28609c"/>
<rect x="140.11" y="245.39" width="2.98" height="2.56" fill="#b9d6ea"/>
<rect x="143.79" y="245.39" width="2.98" height="2.56" fill="#3b7bb8"/>
<rect x="147.47" y="245.39" width="2.98" height="2.56" fill="#3674b2"/>
<rect x="14.95" y="248.65" width="2.98" height="2.56" fill="#6aa3d0"/>
<rect x="18.63" y="248.65" width="2.98" height="2.56" fill="#3a78b6"/>
<rect x="22.31" y="248.65" width="2.98" height="2.56" fill="#6aa3d0"/>
<rect x="25.99" y="248.65" width="2.98" height="2.56" fill="#3371ae"/>
<rect x="29.67" y="248.65" width="2.98" height="2.56" fill="#3a78b6"/>
<rect x="33.36" y="248.65" width="2.98" height="2.56" fill="#3b7bb8"/>
<rect x="37.04" y="248.65" width="2.98" height="2.56" fill="#b9d6ea"/>
<rect x="40.72" y="248.65" width="2.98" height="2.56" fill="#3877b4"/>
<rect x="44.4" y="248.65" width="2.98" height="2.56" fill="#3a78b6"/>
<rect x="48.08" y="248.65" width="2.98" height="2.56" fill="#3877b4"/>
<rect x="51.76" y="248.65" width="2.98" height="2.56" fill="#3b7bb8"/>
<rect x="55.44" y="248.65" width="2.98" height="2.56" fill="#6aa3d0"/>
<rect x="59.12" y="248.65" width="2.98" height="2.56" fill="#3a78b6"/>
<rect x="62.8" y="248.65" width="2.98" height="2.56" fill="#a7cbe6"/>
<rect x="66.49" y="248.65" width="2.98" height="2.56" fill="#3a78b6"/>
<rect x="70.17" y="248.65" width="2.98" height="2.56" fill="#3877b4"/>
<rect x="73.85" y="248.65" width="2.98" height="2.56" fill="#3a78b6"/>
<rect x="77.53" y="248.65" width="2.98" height="2.56" fill="#3e7eba"/>
<rect x="81.21" y="248.65" width="2.98" height="2.56" fill="#f0a48a"/>
<rect x="84.89" y="248.65" width="2.98" height="2.56" fill="#600a1e"/>
<rect x="88.57" y="248.65" width="2.98" height="2.56" fill="#f4f6f8"/>
<rect x="92.25" y="248.65" width="2.98" height="2.56" fill="#3371ae"/>
<rect x="95.93" y="248.65" width="2.98" height="2.56" fill="#3b7bb8"/>
<rect x="99.61" y="248.65" width="2.98" height="2.56" fill="#6aa3d0"/>
<rect x="103.3" y="248.65" width="2.98" height="2.56" fill="#3e7eba"/>
<rect x="106.98" y="248.65" width="2.98" height="2.56" fill="#6aa3d0"/>
<rect x="110.66" y="248.65" width="2.98" height="2.56" fill="#28609c"/>
<rect x="114.34" y="248.65" width="2.98" height="2.56" fill="#3371ae"/>
<rect x="118.02" y="248.65" width="2.98" height="2.56" fill="#a7cbe6"/>
<rect x="121.7" y="248.65" width="2.98" height="2.56" fill="#3a78b6"/>
<rect x="125.38" y="248.65" width="2.98" height="2.56" fill="#3e7eba"/>
<rect x="129.06" y="248.65" width="2.98" height="2.56" fill="#3e7eba"/>
<rect x="132.74" y="248.65" width="2.98" height="2.56" fill="#3877b4"/>
<rect x="136.43" y="248.65" width="2.98" height="2.56" fill="#3a78b6"/>
<rect x="140.11" y="248.65" width="2.98" height="2.56" fill="#7fb2d8"/>
<rect x="143.79" y="248.65" width="2.98" height="2.56" fill="#3674b2"/>
<rect x="147.47" y="248.65" width="2.98" height="2.56" fill="#3a78b6"/>
<rect x="14.95" y="251.92" width="2.98" height="2.56" fill="#3674b2"/>
<rect x="18.63" y="251.92" width="2.98" height="2.56" fill="#3e7eba"/>
<rect x="22.31" y="251.92" width="2.98" height="2.56" fill="#3b7bb8"/>
<rect x="25.99" y="251.92" width="2.98" height="2.56" fill="#3e7eba"/>
<rect x="29.67" y="251.92" width="2.98" height="2.56" fill="#3e7eba"/>
<rect x="33.36" y="251.92" width="2.98" height="2.56" fill="#28609c"/>
<rect x="37.04" y="251.92" width="2.98" height="2.56" fill="#8ebde0"/>
<rect x="40.72" y="251.92" width="2.98" height="2.56" fill="#3674b2"/>
<rect x="44.4" y="251.92" width="2.98" height="2.56" fill="#3b7bb8"/>
<rect x="48.08" y="251.92" width="2.98" height="2.56" fill="#3a78b6"/>
<rect x="51.76" y="251.92" width="2.98" height="2.56" fill="#3877b4"/>
<rect x="55.44" y="251.92" width="2.98" height="2.56" fill="#3e7eba"/>
<rect x="59.12" y="251.92" width="2.98" height="2.56" fill="#28609c"/>
<rect x="62.8" y="251.92" width="2.98" height="2.56" fill="#3674b2"/>
<rect x="66.49" y="251.92" width="2.98" height="2.56" fill="#3b7bb8"/>
<rect x="70.17" y="251.92" width="2.98" height="2.56" fill="#3674b2"/>
<rect x="73.85" y="251.92" width="2.98" height="2.56" fill="#3b7bb8"/>
<rect x="77.53" y="251.92" width="2.98" height="2.56" fill="#3a78b6"/>
<rect x="81.21" y="251.92" width="2.98" height="2.56" fill="#600a1e"/>
<rect x="84.89" y="251.92" width="2.98" height="2.56" fill="#f0a48a"/>
<rect x="88.57" y="251.92" width="2.98" height="2.56" fill="#dde9f3"/>
<rect x="92.25" y="251.92" width="2.98" height="2.56" fill="#3b7bb8"/>
<rect x="95.93" y="251.92" width="2.98" height="2.56" fill="#3a78b6"/>
<rect x="99.61" y="251.92" width="2.98" height="2.56" fill="#3e7eba"/>
<rect x="103.3" y="251.92" width="2.98" height="2.56" fill="#3371ae"/>
<rect x="106.98" y="251.92" width="2.98" height="2.56" fill="#3e7eba"/>
<rect x="110.66" y="251.92" width="2.98" height="2.56" fill="#28609c"/>
<rect x="114.34" y="251.92" width="2.98" height="2.56" fill="#3877b4"/>
<rect x="118.02" y="251.92" width="2.98" height="2.56" fill="#3b7bb8"/>
<rect x="121.7" y="251.92" width="2.98" height="2.56" fill="#3b7bb8"/>
<rect x="125.38" y="251.92" width="2.98" height="2.56" fill="#3371ae"/>
<rect x="129.06" y="251.92" width="2.98" height="2.56" fill="#3e7eba"/>
<rect x="132.74" y="251.92" width="2.98" height="2.56" fill="#a7cbe6"/>
<rect x="136.43" y="251.92" width="2.98" height="2.56" fill="#a7cbe6"/>
<rect x="140.11" y="251.92" width="2.98" height="2.56" fill="#8ebde0"/>
<rect x="143.79" y="251.92" width="2.98" height="2.56" fill="#3371ae"/>
<rect x="147.47" y="251.92" width="2.98" height="2.56" fill="#3674b2"/>
<rect x="14.95" y="255.18" width="2.98" height="2.56" fill="#3b7bb8"/>
<rect x="18.63" y="255.18" width="2.98" height="2.56" fill="#3b7bb8"/>
<rect x="22.31" y="255.18" width="2.98" height="2.56" fill="#6aa3d0"/>
<rect x="25.99" y="255.18" width="2.98" height="2.56" fill="#3877b4"/>
<rect x="29.67" y="255.18" width="2.98" height="2.56" fill="#6aa3d0"/>
<rect x="33.36" y="255.18" width="2.98" height="2.56" fill="#3a78b6"/>
<rect x="37.04" y="255.18" width="2.98" height="2.56" fill="#3e7eba"/>
<rect x="40.72" y="255.18" width="2.98" height="2.56" fill="#3877b4"/>
<rect x="44.4" y="255.18" width="2.98" height="2.56" fill="#3877b4"/>
<rect x="48.08" y="255.18" width="2.98" height="2.56" fill="#3371ae"/>
<rect x="51.76" y="255.18" width="2.98" height="2.56" fill="#3e7eba"/>
<rect x="55.44" y="255.18" width="2.98" height="2.56" fill="#3e7eba"/>
<rect x="59.12" y="255.18" width="2.98" height="2.56" fill="#f4f6f8"/>
<rect x="62.8" y="255.18" width="2.98" height="2.56" fill="#dde9f3"/>
<rect x="66.49" y="255.18" width="2.98" height="2.56" fill="#3a78b6"/>
<rect x="70.17" y="255.18" width="2.98" height="2.56" fill="#3e7eba"/>
<rect x="73.85" y="255.18" width="2.98" height="2.56" fill="#dde9f3"/>
<rect x="77.53" y="255.18" width="2.98" height="2.56" fill="#600a1e"/>
<rect x="81.21" y="255.18" width="2.98" height="2.56" fill="#3371ae"/>
<rect x="84.89" y="255.18" width="2.98" height="2.56" fill="#3e7eba"/>
<rect x="88.57" y="255.18" width="2.98" height="2.56" fill="#3e7eba"/>
<rect x="92.25" y="255.18" width="2.98" height="2.56" fill="#3a78b6"/>
<rect x="95.93" y="255.18" width="2.98" height="2.56" fill="#3e7eba"/>
<rect x="99.61" y="255.18" width="2.98" height="2.56" fill="#3e7eba"/>
<rect x="103.3" y="255.18" width="2.98" height="2.56" fill="#3877b4"/>
<rect x="106.98" y="255.18" width="2.98" height="2.56" fill="#6aa3d0"/>
<rect x="110.66" y="255.18" width="2.98" height="2.56" fill="#3a78b6"/>
<rect x="114.34" y="255.18" width="2.98" height="2.56" fill="#3674b2"/>
<rect x="118.02" y="255.18" width="2.98" height="2.56" fill="#8ebde0"/>
<rect x="121.7" y="255.18" width="2.98" height="2.56" fill="#6aa3d0"/>
<rect x="125.38" y="255.18" width="2.98" height="2.56" fill="#3e7eba"/>
<rect x="129.06" y="255.18" width="2.98" height="2.56" fill="#3b7bb8"/>
<rect x="132.74" y="255.18" width="2.98" height="2.56" fill="#6aa3d0"/>
<rect x="136.43" y="255.18" width="2.98" height="2.56" fill="#6aa3d0"/>
<rect x="140.11" y="255.18" width="2.98" height="2.56" fill="#3877b4"/>
<rect x="143.79" y="255.18" width="2.98" height="2.56" fill="#3b7bb8"/>
<rect x="147.47" y="255.18" width="2.98" height="2.56" fill="#3e7eba"/>
<rect x="14.95" y="258.45" width="2.98" height="2.56" fill="#3b7bb8"/>
<rect x="18.63" y="258.45" width="2.98" height="2.56" fill="#3877b4"/>
<rect x="22.31" y="258.45" width="2.98" height="2.56" fill="#3a78b6"/>
<rect x="25.99" y="258.45" width="2.98" height="2.56" fill="#3371ae"/>
<rect x="29.67" y="258.45" width="2.98" height="2.56" fill="#3b7bb8"/>
<rect x="33.36" y="258.45" width="2.98" height="2.56" fill="#3371ae"/>
<rect x="37.04" y="258.45" width="2.98" height="2.56" fill="#3e7eba"/>
<rect x="40.72" y="258.45" width="2.98" height="2.56" fill="#3371ae"/>
<rect x="44.4" y="258.45" width="2.98" height="2.56" fill="#3e7eba"/>
<rect x="48.08" y="258.45" width="2.98" height="2.56" fill="#3674b2"/>
<rect x="51.76" y="258.45" width="2.98" height="2.56" fill="#3b7bb8"/>
<rect x="55.44" y="258.45" width="2.98" height="2.56" fill="#3a78b6"/>
<rect x="59.12" y="258.45" width="2.98" height="2.56" fill="#3e7eba"/>
<rect x="62.8" y="258.45" width="2.98" height="2.56" fill="#3674b2"/>
<rect x="66.49" y="258.45" width="2.98" height="2.56" fill="#3e7eba"/>
<rect x="70.17" y="258.45" width="2.98" height="2.56" fill="#3674b2"/>
<rect x="73.85" y="258.45" width="2.98" height="2.56" fill="#600a1e"/>
<rect x="77.53" y="258.45" width="2.98" height="2.56" fill="#eef4f8"/>
<rect x="81.21" y="258.45" width="2.98" height="2.56" fill="#3a78b6"/>
<rect x="84.89" y="258.45" width="2.98" height="2.56" fill="#3674b2"/>
<rect x="88.57" y="258.45" width="2.98" height="2.56" fill="#3e7eba"/>
<rect x="92.25" y="258.45" width="2.98" height="2.56" fill="#3371ae"/>
<rect x="95.93" y="258.45" width="2.98" height="2.56" fill="#3a78b6"/>
<rect x="99.61" y="258.45" width="2.98" height="2.56" fill="#3371ae"/>
<rect x="103.3" y="258.45" width="2.98" height="2.56" fill="#3e7eba"/>
<rect x="106.98" y="258.45" width="2.98" height="2.56" fill="#3674b2"/>
<rect x="110.66" y="258.45" width="2.98" height="2.56" fill="#3674b2"/>
<rect x="114.34" y="258.45" width="2.98" height="2.56" fill="#3674b2"/>
<rect x="118.02" y="258.45" width="2.98" height="2.56" fill="#3a78b6"/>
<rect x="121.7" y="258.45" width="2.98" height="2.56" fill="#3b7bb8"/>
<rect x="125.38" y="258.45" width="2.98" height="2.56" fill="#3a78b6"/>
<rect x="129.06" y="258.45" width="2.98" height="2.56" fill="#3371ae"/>
<rect x="132.74" y="258.45" width="2.98" height="2.56" fill="#3877b4"/>
<rect x="136.43" y="258.45" width="2.98" height="2.56" fill="#3371ae"/>
<rect x="140.11" y="258.45" width="2.98" height="2.56" fill="#3674b2"/>
<rect x="143.79" y="258.45" width="2.98" height="2.56" fill="#3877b4"/>
<rect x="147.47" y="258.45" width="2.98" height="2.56" fill="#6aa3d0"/>
<rect x="14.95" y="261.71" width="2.98" height="2.56" fill="#3371ae"/>
<rect x="18.63" y="261.71" width="2.98" height="2.56" fill="#3e7eba"/>
<rect x="22.31" y="261.71" width="2.98" height="2.56" fill="#3a78b6"/>
<rect x="25.99" y="261.71" width="2.98" height="2.56" fill="#3b7bb8"/>
<rect x="29.67" y="261.71" width="2.98" height="2.56" fill="#3a78b6"/>
<rect x="33.36" y="261.71" width="2.98" height="2.56" fill="#6aa3d0"/>
<rect x="37.04" y="261.71" width="2.98" height="2.56" fill="#6aa3d0"/>
<rect x="40.72" y="261.71" width="2.98" height="2.56" fill="#3a78b6"/>
<rect x="44.4" y="261.71" width="2.98" height="2.56" fill="#3371ae"/>
<rect x="48.08" y="261.71" width="2.98" height="2.56" fill="#3371ae"/>
<rect x="51.76" y="261.71" width="2.98" height="2.56" fill="#3b7bb8"/>
<rect x="55.44" y="261.71" width="2.98" height="2.56" fill="#3371ae"/>
<rect x="59.12" y="261.71" width="2.98" height="2.56" fill="#3b7bb8"/>
<rect x="62.8" y="261.71" width="2.98" height="2.56" fill="#3b7bb8"/>
<rect x="66.49" y="261.71" width="2.98" height="2.56" fill="#3e7eba"/>
<rect x="70.17" y="261.71" width="2.98" height="2.56" fill="#600a1e"/>
<rect x="73.85" y="261.71" width="2.98" height="2.56" fill="#28609c"/>
<rect x="77.53" y="261.71" width="2.98" height="2.56" fill="#3877b4"/>
<rect x="81.21" y="261.71" width="2.98" height="2.56" fill="#3e7eba"/>
<rect x="84.89" y="261.71" width="2.98" height="2.56" fill="#3a78b6"/>
<rect x="88.57" y="261.71" width="2.98" height="2.56" fill="#6aa3d0"/>
<rect x="92.25" y="261.71" width="2.98" height="2.56" fill="#3674b2"/>
<rect x="95.93" y="261.71" width="2.98" height="2.56" fill="#3371ae"/>
<rect x="99.61" y="261.71" width="2.98" height="2.56" fill="#3371ae"/>
<rect x="103.3" y="261.71" width="2.98" height="2.56" fill="#3b7bb8"/>
<rect x="106.98" y="261.71" width="2.98" height="2.56" fill="#3a78b6"/>
<rect x="110.66" y="261.71" width="2.98" height="2.56" fill="#6aa3d0"/>
<rect x="114.34" y="261.71" width="2.98" height="2.56" fill="#3e7eba"/>
<rect x="118.02" y="261.71" width="2.98" height="2.56" fill="#3b7bb8"/>
<rect x="121.7" y="261.71" width="2.98" height="2.56" fill="#6aa3d0"/>
<rect x="125.38" y="261.71" width="2.98" height="2.56" fill="#3a78b6"/>
<rect x="129.06" y="261.71" width="2.98" height="2.56" fill="#3877b4"/>
<rect x="132.74" y="261.71" width="2.98" height="2.56" fill="#3b7bb8"/>
<rect x="136.43" y="261.71" width="2.98" height="2.56" fill="#3371ae"/>
<rect x="140.11" y="261.71" width="2.98" height="2.56" fill="#3371ae"/>
<rect x="143.79" y="261.71" width="2.98" height="2.56" fill="#3e7eba"/>
<rect x="147.47" y="261.71" width="2.98" height="2.56" fill="#3b7bb8"/>
<rect x="14.95" y="264.98" width="2.98" height="2.56" fill="#3a78b6"/>
<rect x="18.63" y="264.98" width="2.98" height="2.56" fill="#3a78b6"/>
<rect x="22.31" y="264.98" width="2.98" height="2.56" fill="#3877b4"/>
<rect x="25.99" y="264.98" width="2.98" height="2.56" fill="#3877b4"/>
<rect x="29.67" y="264.98" width="2.98" height="2.56" fill="#3e7eba"/>
<rect x="33.36" y="264.98" width="2.98" height="2.56" fill="#3877b4"/>
<rect x="37.04" y="264.98" width="2.98" height="2.56" fill="#3a78b6"/>
<rect x="40.72" y="264.98" width="2.98" height="2.56" fill="#3e7eba"/>
<rect x="44.4" y="264.98" width="2.98" height="2.56" fill="#3a78b6"/>
<rect x="48.08" y="264.98" width="2.98" height="2.56" fill="#3877b4"/>
<rect x="51.76" y="264.98" width="2.98" height="2.56" fill="#6aa3d0"/>
<rect x="55.44" y="264.98" width="2.98" height="2.56" fill="#3877b4"/>
<rect x="59.12" y="264.98" width="2.98" height="2.56" fill="#3674b2"/>
<rect x="62.8" y="264.98" width="2.98" height="2.56" fill="#f4f6f8"/>
<rect x="66.49" y="264.98" width="2.98" height="2.56" fill="#600a1e"/>
<rect x="70.17" y="264.98" width="2.98" height="2.56" fill="#6aa3d0"/>
<rect x="73.85" y="264.98" width="2.98" height="2.56" fill="#3877b4"/>
<rect x="77.53" y="264.98" width="2.98" height="2.56" fill="#3371ae"/>
<rect x="81.21" y="264.98" width="2.98" height="2.56" fill="#3674b2"/>
<rect x="84.89" y="264.98" width="2.98" height="2.56" fill="#3b7bb8"/>
<rect x="88.57" y="264.98" width="2.98" height="2.56" fill="#28609c"/>
<rect x="92.25" y="264.98" width="2.98" height="2.56" fill="#3b7bb8"/>
<rect x="95.93" y="264.98" width="2.98" height="2.56" fill="#3b7bb8"/>
<rect x="99.61" y="264.98" width="2.98" height="2.56" fill="#3b7bb8"/>
<rect x="103.3" y="264.98" width="2.98" height="2.56" fill="#3877b4"/>
<rect x="106.98" y="264.98" width="2.98" height="2.56" fill="#3b7bb8"/>
<rect x="110.66" y="264.98" width="2.98" height="2.56" fill="#3674b2"/>
<rect x="114.34" y="264.98" width="2.98" height="2.56" fill="#3e7eba"/>
<rect x="118.02" y="264.98" width="2.98" height="2.56" fill="#3877b4"/>
<rect x="121.7" y="264.98" width="2.98" height="2.56" fill="#3877b4"/>
<rect x="125.38" y="264.98" width="2.98" height="2.56" fill="#3371ae"/>
<rect x="129.06" y="264.98" width="2.98" height="2.56" fill="#3371ae"/>
<rect x="132.74" y="264.98" width="2.98" height="2.56" fill="#3a78b6"/>
<rect x="136.43" y="264.98" width="2.98" height="2.56" fill="#3877b4"/>
<rect x="140.11" y="264.98" width="2.98" height="2.56" fill="#3674b2"/>
<rect x="143.79" y="264.98" width="2.98" height="2.56" fill="#3e7eba"/>
<rect x="147.47" y="264.98" width="2.98" height="2.56" fill="#3a78b6"/>
<rect x="14.95" y="268.24" width="2.98" height="2.56" fill="#3b7bb8"/>
<rect x="18.63" y="268.24" width="2.98" height="2.56" fill="#3a78b6"/>
<rect x="22.31" y="268.24" width="2.98" height="2.56" fill="#28609c"/>
<rect x="25.99" y="268.24" width="2.98" height="2.56" fill="#3b7bb8"/>
<rect x="29.67" y="268.24" width="2.98" height="2.56" fill="#3b7bb8"/>
<rect x="33.36" y="268.24" width="2.98" height="2.56" fill="#3a78b6"/>
<rect x="37.04" y="268.24" width="2.98" height="2.56" fill="#6aa3d0"/>
<rect x="40.72" y="268.24" width="2.98" height="2.56" fill="#3877b4"/>
<rect x="44.4" y="268.24" width="2.98" height="2.56" fill="#6aa3d0"/>
<rect x="48.08" y="268.24" width="2.98" height="2.56" fill="#6aa3d0"/>
<rect x="51.76" y="268.24" width="2.98" height="2.56" fill="#6aa3d0"/>
<rect x="55.44" y="268.24" width="2.98" height="2.56" fill="#3674b2"/>
<rect x="59.12" y="268.24" width="2.98" height="2.56" fill="#a7cbe6"/>
<rect x="62.8" y="268.24" width="2.98" height="2.56" fill="#600a1e"/>
<rect x="66.49" y="268.24" width="2.98" height="2.56" fill="#f4f6f8"/>
<rect x="70.17" y="268.24" width="2.98" height="2.56" fill="#3a78b6"/>
<rect x="73.85" y="268.24" width="2.98" height="2.56" fill="#3877b4"/>
<rect x="77.53" y="268.24" width="2.98" height="2.56" fill="#b9d6ea"/>
<rect x="81.21" y="268.24" width="2.98" height="2.56" fill="#28609c"/>
<rect x="84.89" y="268.24" width="2.98" height="2.56" fill="#eef4f8"/>
<rect x="88.57" y="268.24" width="2.98" height="2.56" fill="#eef4f8"/>
<rect x="92.25" y="268.24" width="2.98" height="2.56" fill="#28609c"/>
<rect x="95.93" y="268.24" width="2.98" height="2.56" fill="#6aa3d0"/>
<rect x="99.61" y="268.24" width="2.98" height="2.56" fill="#8ebde0"/>
<rect x="103.3" y="268.24" width="2.98" height="2.56" fill="#7fb2d8"/>
<rect x="106.98" y="268.24" width="2.98" height="2.56" fill="#b9d6ea"/>
<rect x="110.66" y="268.24" width="2.98" height="2.56" fill="#28609c"/>
<rect x="114.34" y="268.24" width="2.98" height="2.56" fill="#28609c"/>
<rect x="118.02" y="268.24" width="2.98" height="2.56" fill="#f4f6f8"/>
<rect x="121.7" y="268.24" width="2.98" height="2.56" fill="#a7cbe6"/>
<rect x="125.38" y="268.24" width="2.98" height="2.56" fill="#3674b2"/>
<rect x="129.06" y="268.24" width="2.98" height="2.56" fill="#3a78b6"/>
<rect x="132.74" y="268.24" width="2.98" height="2.56" fill="#3674b2"/>
<rect x="136.43" y="268.24" width="2.98" height="2.56" fill="#6aa3d0"/>
<rect x="140.11" y="268.24" width="2.98" height="2.56" fill="#3674b2"/>
<rect x="143.79" y="268.24" width="2.98" height="2.56" fill="#3371ae"/>
<rect x="147.47" y="268.24" width="2.98" height="2.56" fill="#3674b2"/>
<rect x="14.95" y="271.51" width="2.98" height="2.56" fill="#3a78b6"/>
<rect x="18.63" y="271.51" width="2.98" height="2.56" fill="#3a78b6"/>
<rect x="22.31" y="271.51" width="2.98" height="2.56" fill="#3a78b6"/>
<rect x="25.99" y="271.51" width="2.98" height="2.56" fill="#3877b4"/>
<rect x="29.67" y="271.51" width="2.98" height="2.56" fill="#6aa3d0"/>
<rect x="33.36" y="271.51" width="2.98" height="2.56" fill="#3877b4"/>
<rect x="37.04" y="271.51" width="2.98" height="2.56" fill="#3a78b6"/>
<rect x="40.72" y="271.51" width="2.98" height="2.56" fill="#3674b2"/>
<rect x="44.4" y="271.51" width="2.98" height="2.56" fill="#3a78b6"/>
<rect x="48.08" y="271.51" width="2.98" height="2.56" fill="#f4f6f8"/>
<rect x="51.76" y="271.51" width="2.98" height="2.56" fill="#eef4f8"/>
<rect x="55.44" y="271.51" width="2.98" height="2.56" fill="#dde9f3"/>
<rect x="59.12" y="271.51" width="2.98" height="2.56" fill="#600a1e"/>
<rect x="62.8" y="271.51" width="2.98" height="2.56" fill="#8ebde0"/>
<rect x="66.49" y="271.51" width="2.98" height="2.56" fill="#6aa3d0"/>
<rect x="70.17" y="271.51" width="2.98" height="2.56" fill="#3e7eba"/>
<rect x="73.85" y="271.51" width="2.98" height="2.56" fill="#3b7bb8"/>
<rect x="77.53" y="271.51" width="2.98" height="2.56" fill="#b9d6ea"/>
<rect x="81.21" y="271.51" width="2.98" height="2.56" fill="#3371ae"/>
<rect x="84.89" y="271.51" width="2.98" height="2.56" fill="#3b7bb8"/>
<rect x="88.57" y="271.51" width="2.98" height="2.56" fill="#3b7bb8"/>
<rect x="92.25" y="271.51" width="2.98" height="2.56" fill="#3b7bb8"/>
<rect x="95.93" y="271.51" width="2.98" height="2.56" fill="#3a78b6"/>
<rect x="99.61" y="271.51" width="2.98" height="2.56" fill="#3a78b6"/>
<rect x="103.3" y="271.51" width="2.98" height="2.56" fill="#3877b4"/>
<rect x="106.98" y="271.51" width="2.98" height="2.56" fill="#3a78b6"/>
<rect x="110.66" y="271.51" width="2.98" height="2.56" fill="#3674b2"/>
<rect x="114.34" y="271.51" width="2.98" height="2.56" fill="#28609c"/>
<rect x="118.02" y="271.51" width="2.98" height="2.56" fill="#3877b4"/>
<rect x="121.7" y="271.51" width="2.98" height="2.56" fill="#28609c"/>
<rect x="125.38" y="271.51" width="2.98" height="2.56" fill="#3a78b6"/>
<rect x="129.06" y="271.51" width="2.98" height="2.56" fill="#3674b2"/>
<rect x="132.74" y="271.51" width="2.98" height="2.56" fill="#3371ae"/>
<rect x="136.43" y="271.51" width="2.98" height="2.56" fill="#3e7eba"/>
<rect x="140.11" y="271.51" width="2.98" height="2.56" fill="#3877b4"/>
<rect x="143.79" y="271.51" width="2.98" height="2.56" fill="#3e7eba"/>
<rect x="147.47" y="271.51" width="2.98" height="2.56" fill="#3371ae"/>
<rect x="14.95" y="274.77" width="2.98" height="2.56" fill="#3371ae"/>
<rect x="18.63" y="274.77" width="2.98" height="2.56" fill="#3674b2"/>
<rect x="22.31" y="274.77" width="2.98" height="2.56" fill="#3371ae"/>
<rect x="25.99" y="274.77" width="2.98" height="2.56" fill="#3e7eba"/>
<rect x="29.67" y="274.77" width="2.98" height="2.56" fill="#3877b4"/>
<rect x="33.36" y="274.77" width="2.98" height="2.56" fill="#3e7eba"/>
<rect x="37.04" y="274.77" width="2.98" height="2.56" fill="#3674b2"/>
<rect x="40.72" y="274.77" width="2.98" height="2.56" fill="#3b7bb8"/>
<rect x="44.4" y="274.77" width="2.98" height="2.56" fill="#dde9f3"/>
<rect x="48.08" y="274.77" width="2.98" height="2.56" fill="#b9d6ea"/>
<rect x="51.76" y="274.77" width="2.98" height="2.56" fill="#f4f6f8"/>
<rect x="55.44" y="274.77" width="2.98" height="2.56" fill="#600a1e"/>
<rect x="59.12" y="274.77" width="2.98" height="2.56" fill="#f4f6f8"/>
<rect x="62.8" y="274.77" width="2.98" height="2.56" fill="#3b7bb8"/>
<rect x="66.49" y="274.77" width="2.98" height="2.56" fill="#3877b4"/>
<rect x="70.17" y="274.77" width="2.98" height="2.56" fill="#3371ae"/>
<rect x="73.85" y="274.77" width="2.98" height="2.56" fill="#3b7bb8"/>
<rect x="77.53" y="274.77" width="2.98" height="2.56" fill="#3877b4"/>
<rect x="81.21" y="274.77" width="2.98" height="2.56" fill="#3371ae"/>
<rect x="84.89" y="274.77" width="2.98" height="2.56" fill="#3b7bb8"/>
<rect x="88.57" y="274.77" width="2.98" height="2.56" fill="#3b7bb8"/>
<rect x="92.25" y="274.77" width="2.98" height="2.56" fill="#3877b4"/>
<rect x="95.93" y="274.77" width="2.98" height="2.56" fill="#3b7bb8"/>
<rect x="99.61" y="274.77" width="2.98" height="2.56" fill="#3a78b6"/>
<rect x="103.3" y="274.77" width="2.98" height="2.56" fill="#3b7bb8"/>
<rect x="106.98" y="274.77" width="2.98" height="2.56" fill="#3674b2"/>
<rect x="110.66" y="274.77" width="2.98" height="2.56" fill="#3e7eba"/>
<rect x="114.34" y="274.77" width="2.98" height="2.56" fill="#3a78b6"/>
<rect x="118.02" y="274.77" width="2.98" height="2.56" fill="#f4f6f8"/>
<rect x="121.7" y="274.77" width="2.98" height="2.56" fill="#3674b2"/>
<rect x="125.38" y="274.77" width="2.98" height="2.56" fill="#3e7eba"/>
<rect x="129.06" y="274.77" width="2.98" height="2.56" fill="#3a78b6"/>
<rect x="132.74" y="274.77" width="2.98" height="2.56" fill="#b9d6ea"/>
<rect x="136.43" y="274.77" width="2.98" height="2.56" fill="#b9d6ea"/>
<rect x="140.11" y="274.77" width="2.98" height="2.56" fill="#3371ae"/>
<rect x="143.79" y="274.77" width="2.98" height="2.56" fill="#7fb2d8"/>
<rect x="147.47" y="274.77" width="2.98" height="2.56" fill="#b9d6ea"/>
<rect x="14.95" y="278.04" width="2.98" height="2.56" fill="#6aa3d0"/>
<rect x="18.63" y="278.04" width="2.98" height="2.56" fill="#3877b4"/>
<rect x="22.31" y="278.04" width="2.98" height="2.56" fill="#3877b4"/>
<rect x="25.99" y="278.04" width="2.98" height="2.56" fill="#3e7eba"/>
<rect x="29.67" y="278.04" width="2.98" height="2.56" fill="#b9d6ea"/>
<rect x="33.36" y="278.04" width="2.98" height="2.56" fill="#3877b4"/>
<rect x="37.04" y="278.04" width="2.98" height="2.56" fill="#3877b4"/>
<rect x="40.72" y="278.04" width="2.98" height="2.56" fill="#3b7bb8"/>
<rect x="44.4" y="278.04" width="2.98" height="2.56" fill="#3877b4"/>
<rect x="48.08" y="278.04" width="2.98" height="2.56" fill="#eef4f8"/>
<rect x="51.76" y="278.04" width="2.98" height="2.56" fill="#600a1e"/>
<rect x="55.44" y="278.04" width="2.98" height="2.56" fill="#dde9f3"/>
<rect x="59.12" y="278.04" width="2.98" height="2.56" fill="#dde9f3"/>
<rect x="62.8" y="278.04" width="2.98" height="2.56" fill="#3877b4"/>
<rect x="66.49" y="278.04" width="2.98" height="2.56" fill="#3e7eba"/>
<rect x="70.17" y="278.04" width="2.98" height="2.56" fill="#3e7eba"/>
<rect x="73.85" y="278.04" width="2.98" height="2.56" fill="#3877b4"/>
<rect x="77.53" y="278.04" width="2.98" height="2.56" fill="#3e7eba"/>
<rect x="81.21" y="278.04" width="2.98" height="2.56" fill="#3a78b6"/>
<rect x="84.89" y="278.04" width="2.98" height="2.56" fill="#3e7eba"/>
<rect x="88.57" y="278.04" width="2.98" height="2.56" fill="#3877b4"/>
<rect x="92.25" y="278.04" width="2.98" height="2.56" fill="#3b7bb8"/>
<rect x="95.93" y="278.04" width="2.98" height="2.56" fill="#3674b2"/>
<rect x="99.61" y="278.04" width="2.98" height="2.56" fill="#3e7eba"/>
<rect x="103.3" y="278.04" width="2.98" height="2.56" fill="#3a78b6"/>
<rect x="106.98" y="278.04" width="2.98" height="2.56" fill="#6aa3d0"/>
<rect x="110.66" y="278.04" width="2.98" height="2.56" fill="#3b7bb8"/>
<rect x="114.34" y="278.04" width="2.98" height="2.56" fill="#3b7bb8"/>
<rect x="118.02" y="278.04" width="2.98" height="2.56" fill="#3a78b6"/>
<rect x="121.7" y="278.04" width="2.98" height="2.56" fill="#3e7eba"/>
<rect x="125.38" y="278.04" width="2.98" height="2.56" fill="#3877b4"/>
<rect x="129.06" y="278.04" width="2.98" height="2.56" fill="#3a78b6"/>
<rect x="132.74" y="278.04" width="2.98" height="2.56" fill="#3674b2"/>
<rect x="136.43" y="278.04" width="2.98" height="2.56" fill="#3e7eba"/>
<rect x="140.11" y="278.04" width="2.98" height="2.56" fill="#3e7eba"/>
<rect x="143.79" y="278.04" width="2.98" height="2.56" fill="#3877b4"/>
<rect x="147.47" y="278.04" width="2.98" height="2.56" fill="#3371ae"/>
<rect x="14.95" y="281.3" width="2.98" height="2.56" fill="#3a78b6"/>
<rect x="18.63" y="281.3" width="2.98" height="2.56" fill="#3371ae"/>
<rect x="22.31" y="281.3" width="2.98" height="2.56" fill="#3a78b6"/>
<rect x="25.99" y="281.3" width="2.98" height="2.56" fill="#3e7eba"/>
<rect x="29.67" y="281.3" width="2.98" height="2.56" fill="#3a78b6"/>
<rect x="33.36" y="281.3" width="2.98" height="2.56" fill="#28609c"/>
<rect x="37.04" y="281.3" width="2.98" height="2.56" fill="#3877b4"/>
<rect x="40.72" y="281.3" width="2.98" height="2.56" fill="#3674b2"/>
<rect x="44.4" y="281.3" width="2.98" height="2.56" fill="#f4f6f8"/>
<rect x="48.08" y="281.3" width="2.98" height="2.56" fill="#600a1e"/>
<rect x="51.76" y="281.3" width="2.98" height="2.56" fill="#7fb2d8"/>
<rect x="55.44" y="281.3" width="2.98" height="2.56" fill="#eef4f8"/>
<rect x="59.12" y="281.3" width="2.98" height="2.56" fill="#eef4f8"/>
<rect x="62.8" y="281.3" width="2.98" height="2.56" fill="#3e7eba"/>
<rect x="66.49" y="281.3" width="2.98" height="2.56" fill="#3371ae"/>
<rect x="70.17" y="281.3" width="2.98" height="2.56" fill="#3e7eba"/>
<rect x="73.85" y="281.3" width="2.98" height="2.56" fill="#3b7bb8"/>
<rect x="77.53" y="281.3" width="2.98" height="2.56" fill="#3a78b6"/>
<rect x="81.21" y="281.3" width="2.98" height="2.56" fill="#3877b4"/>
<rect x="84.89" y="281.3" width="2.98" height="2.56" fill="#3877b4"/>
<rect x="88.57" y="281.3" width="2.98" height="2.56" fill="#3b7bb8"/>
<rect x="92.25" y="281.3" width="2.98" height="2.56" fill="#3b7bb8"/>
<rect x="95.93" y="281.3" width="2.98" height="2.56" fill="#3877b4"/>
<rect x="99.61" y="281.3" width="2.98" height="2.56" fill="#3e7eba"/>
<rect x="103.3" y="281.3" width="2.98" height="2.56" fill="#dde9f3"/>
<rect x="106.98" y="281.3" width="2.98" height="2.56" fill="#dde9f3"/>
<rect x="110.66" y="281.3" width="2.98" height="2.56" fill="#3877b4"/>
<rect x="114.34" y="281.3" width="2.98" height="2.56" fill="#a7cbe6"/>
<rect x="118.02" y="281.3" width="2.98" height="2.56" fill="#3e7eba"/>
<rect x="121.7" y="281.3" width="2.98" height="2.56" fill="#3b7bb8"/>
<rect x="125.38" y="281.3" width="2.98" height="2.56" fill="#3e7eba"/>
<rect x="129.06" y="281.3" width="2.98" height="2.56" fill="#3e7eba"/>
<rect x="132.74" y="281.3" width="2.98" height="2.56" fill="#f4f6f8"/>
<rect x="136.43" y="281.3" width="2.98" height="2.56" fill="#eef4f8"/>
<rect x="140.11" y="281.3" width="2.98" height="2.56" fill="#3877b4"/>
<rect x="143.79" y="281.3" width="2.98" height="2.56" fill="#7fb2d8"/>
<rect x="147.47" y="281.3" width="2.98" height="2.56" fill="#7fb2d8"/>
<rect x="14.95" y="284.57" width="2.98" height="2.56" fill="#3674b2"/>
<rect x="18.63" y="284.57" width="2.98" height="2.56" fill="#3e7eba"/>
<rect x="22.31" y="284.57" width="2.98" height="2.56" fill="#3877b4"/>
<rect x="25.99" y="284.57" width="2.98" height="2.56" fill="#28609c"/>
<rect x="29.67" y="284.57" width="2.98" height="2.56" fill="#3b7bb8"/>
<rect x="33.36" y="284.57" width="2.98" height="2.56" fill="#3e7eba"/>
<rect x="37.04" y="284.57" width="2.98" height="2.56" fill="#6aa3d0"/>
<rect x="40.72" y="284.57" width="2.98" height="2.56" fill="#3674b2"/>
<rect x="44.4" y="284.57" width="2.98" height="2.56" fill="#600a1e"/>
<rect x="48.08" y="284.57" width="2.98" height="2.56" fill="#eef4f8"/>
<rect x="51.76" y="284.57" width="2.98" height="2.56" fill="#3674b2"/>
<rect x="55.44" y="284.57" width="2.98" height="2.56" fill="#f4f6f8"/>
<rect x="59.12" y="284.57" width="2.98" height="2.56" fill="#3877b4"/>
<rect x="62.8" y="284.57" width="2.98" height="2.56" fill="#6aa3d0"/>
<rect x="66.49" y="284.57" width="2.98" height="2.56" fill="#3877b4"/>
<rect x="70.17" y="284.57" width="2.98" height="2.56" fill="#3371ae"/>
<rect x="73.85" y="284.57" width="2.98" height="2.56" fill="#28609c"/>
<rect x="77.53" y="284.57" width="2.98" height="2.56" fill="#3b7bb8"/>
<rect x="81.21" y="284.57" width="2.98" height="2.56" fill="#3e7eba"/>
<rect x="84.89" y="284.57" width="2.98" height="2.56" fill="#3b7bb8"/>
<rect x="88.57" y="284.57" width="2.98" height="2.56" fill="#3e7eba"/>
<rect x="92.25" y="284.57" width="2.98" height="2.56" fill="#3b7bb8"/>
<rect x="95.93" y="284.57" width="2.98" height="2.56" fill="#3877b4"/>
<rect x="99.61" y="284.57" width="2.98" height="2.56" fill="#3a78b6"/>
<rect x="103.3" y="284.57" width="2.98" height="2.56" fill="#3371ae"/>
<rect x="106.98" y="284.57" width="2.98" height="2.56" fill="#3674b2"/>
<rect x="110.66" y="284.57" width="2.98" height="2.56" fill="#3877b4"/>
<rect x="114.34" y="284.57" width="2.98" height="2.56" fill="#3a78b6"/>
<rect x="118.02" y="284.57" width="2.98" height="2.56" fill="#b9d6ea"/>
<rect x="121.7" y="284.57" width="2.98" height="2.56" fill="#3a78b6"/>
<rect x="125.38" y="284.57" width="2.98" height="2.56" fill="#3674b2"/>
<rect x="129.06" y="284.57" width="2.98" height="2.56" fill="#3b7bb8"/>
<rect x="132.74" y="284.57" width="2.98" height="2.56" fill="#3371ae"/>
<rect x="136.43" y="284.57" width="2.98" height="2.56" fill="#6aa3d0"/>
<rect x="140.11" y="284.57" width="2.98" height="2.56" fill="#3b7bb8"/>
<rect x="143.79" y="284.57" width="2.98" height="2.56" fill="#3b7bb8"/>
<rect x="147.47" y="284.57" width="2.98" height="2.56" fill="#3371ae"/>
<rect x="14.95" y="287.83" width="2.98" height="2.56" fill="#3877b4"/>
<rect x="18.63" y="287.83" width="2.98" height="2.56" fill="#6aa3d0"/>
<rect x="22.31" y="287.83" width="2.98" height="2.56" fill="#3e7eba"/>
<rect x="25.99" y="287.83" width="2.98" height="2.56" fill="#3e7eba"/>
<rect x="29.67" y="287.83" width="2.98" height="2.56" fill="#3e7eba"/>
<rect x="33.36" y="287.83" width="2.98" height="2.56" fill="#dde9f3"/>
<rect x="37.04" y="287.83" width="2.98" height="2.56" fill="#dde9f3"/>
<rect x="40.72" y="287.83" width="2.98" height="2.56" fill="#600a1e"/>
<rect x="44.4" y="287.83" width="2.98" height="2.56" fill="#3877b4"/>
<rect x="48.08" y="287.83" width="2.98" height="2.56" fill="#28609c"/>
<rect x="51.76" y="287.83" width="2.98" height="2.56" fill="#3877b4"/>
<rect x="55.44" y="287.83" width="2.98" height="2.56" fill="#3a78b6"/>
<rect x="59.12" y="287.83" width="2.98" height="2.56" fill="#3877b4"/>
<rect x="62.8" y="287.83" width="2.98" height="2.56" fill="#3674b2"/>
<rect x="66.49" y="287.83" width="2.98" height="2.56" fill="#3a78b6"/>
<rect x="70.17" y="287.83" width="2.98" height="2.56" fill="#3e7eba"/>
<rect x="73.85" y="287.83" width="2.98" height="2.56" fill="#3b7bb8"/>
<rect x="77.53" y="287.83" width="2.98" height="2.56" fill="#6aa3d0"/>
<rect x="81.21" y="287.83" width="2.98" height="2.56" fill="#3877b4"/>
<rect x="84.89" y="287.83" width="2.98" height="2.56" fill="#3a78b6"/>
<rect x="88.57" y="287.83" width="2.98" height="2.56" fill="#f4f6f8"/>
<rect x="92.25" y="287.83" width="2.98" height="2.56" fill="#3e7eba"/>
<rect x="95.93" y="287.83" width="2.98" height="2.56" fill="#3371ae"/>
<rect x="99.61" y="287.83" width="2.98" height="2.56" fill="#3b7bb8"/>
<rect x="103.3" y="287.83" width="2.98" height="2.56" fill="#3674b2"/>
<rect x="106.98" y="287.83" width="2.98" height="2.56" fill="#3371ae"/>
<rect x="110.66" y="287.83" width="2.98" height="2.56" fill="#6aa3d0"/>
<rect x="114.34" y="287.83" width="2.98" height="2.56" fill="#3674b2"/>
<rect x="118.02" y="287.83" width="2.98" height="2.56" fill="#3e7eba"/>
<rect x="121.7" y="287.83" width="2.98" height="2.56" fill="#3674b2"/>
<rect x="125.38" y="287.83" width="2.98" height="2.56" fill="#3674b2"/>
<rect x="129.06" y="287.83" width="2.98" height="2.56" fill="#3877b4"/>
<rect x="132.74" y="287.83" width="2.98" height="2.56" fill="#dde9f3"/>
<rect x="136.43" y="287.83" width="2.98" height="2.56" fill="#eef4f8"/>
<rect x="140.11" y="287.83" width="2.98" height="2.56" fill="#dde9f3"/>
<rect x="143.79" y="287.83" width="2.98" height="2.56" fill="#3877b4"/>
<rect x="147.47" y="287.83" width="2.98" height="2.56" fill="#3371ae"/>
<rect x="14.95" y="291.1" width="2.98" height="2.56" fill="#3a78b6"/>
<rect x="18.63" y="291.1" width="2.98" height="2.56" fill="#3a78b6"/>
<rect x="22.31" y="291.1" width="2.98" height="2.56" fill="#3371ae"/>
<rect x="25.99" y="291.1" width="2.98" height="2.56" fill="#3371ae"/>
<rect x="29.67" y="291.1" width="2.98" height="2.56" fill="#3e7eba"/>
<rect x="33.36" y="291.1" width="2.98" height="2.56" fill="#dde9f3"/>
<rect x="37.04" y="291.1" width="2.98" height="2.56" fill="#600a1e"/>
<rect x="40.72" y="291.1" width="2.98" height="2.56" fill="#8ebde0"/>
<rect x="44.4" y="291.1" width="2.98" height="2.56" fill="#6aa3d0"/>
<rect x="48.08" y="291.1" width="2.98" height="2.56" fill="#3e7eba"/>
<rect x="51.76" y="291.1" width="2.98" height="2.56" fill="#3877b4"/>
<rect x="55.44" y="291.1" width="2.98" height="2.56" fill="#6aa3d0"/>
<rect x="59.12" y="291.1" width="2.98" height="2.56" fill="#3371ae"/>
<rect x="62.8" y="291.1" width="2.98" height="2.56" fill="#3371ae"/>
<rect x="66.49" y="291.1" width="2.98" height="2.56" fill="#3877b4"/>
<rect x="70.17" y="291.1" width="2.98" height="2.56" fill="#3371ae"/>
<rect x="73.85" y="291.1" width="2.98" height="2.56" fill="#3a78b6"/>
<rect x="77.53" y="291.1" width="2.98" height="2.56" fill="#3877b4"/>
<rect x="81.21" y="291.1" width="2.98" height="2.56" fill="#b9d6ea"/>
<rect x="84.89" y="291.1" width="2.98" height="2.56" fill="#a7cbe6"/>
<rect x="88.57" y="291.1" width="2.98" height="2.56" fill="#28609c"/>
<rect x="92.25" y="291.1" width="2.98" height="2.56" fill="#3a78b6"/>
<rect x="95.93" y="291.1" width="2.98" height="2.56" fill="#3a78b6"/>
<rect x="99.61" y="291.1" width="2.98" height="2.56" fill="#3877b4"/>
<rect x="103.3" y="291.1" width="2.98" height="2.56" fill="#6aa3d0"/>
<rect x="106.98" y="291.1" width="2.98" height="2.56" fill="#3b7bb8"/>
<rect x="110.66" y="291.1" width="2.98" height="2.56" fill="#3371ae"/>
<rect x="114.34" y="291.1" width="2.98" height="2.56" fill="#3674b2"/>
<rect x="118.02" y="291.1" width="2.98" height="2.56" fill="#3a78b6"/>
<rect x="121.7" y="291.1" width="2.98" height="2.56" fill="#3e7eba"/>
<rect x="125.38" y="291.1" width="2.98" height="2.56" fill="#3371ae"/>
<rect x="129.06" y="291.1" width="2.98" height="2.56" fill="#3a78b6"/>
<rect x="132.74" y="291.1" width="2.98" height="2.56" fill="#dde9f3"/>
<rect x="136.43" y="291.1" width="2.98" height="2.56" fill="#f4f6f8"/>
<rect x="140.11" y="291.1" width="2.98" height="2.56" fill="#f4f6f8"/>
<rect x="143.79" y="291.1" width="2.98" height="2.56" fill="#6aa3d0"/>
<rect x="147.47" y="291.1" width="2.98" height="2.56" fill="#28609c"/>
<rect x="14.95" y="294.36" width="2.98" height="2.56" fill="#3371ae"/>
<rect x="18.63" y="294.36" width="2.98" height="2.56" fill="#3e7eba"/>
<rect x="22.31" y="294.36" width="2.98" height="2.56" fill="#3a78b6"/>
<rect x="25.99" y="294.36" width="2.98" height="2.56" fill="#3371ae"/>
<rect x="29.67" y="294.36" width="2.98" height="2.56" fill="#3877b4"/>
<rect x="33.36" y="294.36" width="2.98" height="2.56" fill="#600a1e"/>
<rect x="37.04" y="294.36" width="2.98" height="2.56" fill="#eef4f8"/>
<rect x="40.72" y="294.36" width="2.98" height="2.56" fill="#b9d6ea"/>
<rect x="44.4" y="294.36" width="2.98" height="2.56" fill="#3371ae"/>
<rect x="48.08" y="294.36" width="2.98" height="2.56" fill="#28609c"/>
<rect x="51.76" y="294.36" width="2.98" height="2.56" fill="#3b7bb8"/>
<rect x="55.44" y="294.36" width="2.98" height="2.56" fill="#3877b4"/>
<rect x="59.12" y="294.36" width="2.98" height="2.56" fill="#6aa3d0"/>
<rect x="62.8" y="294.36" width="2.98" height="2.56" fill="#6aa3d0"/>
<rect x="66.49" y="294.36" width="2.98" height="2.56" fill="#3a78b6"/>
<rect x="70.17" y="294.36" width="2.98" height="2.56" fill="#3a78b6"/>
<rect x="73.85" y="294.36" width="2.98" height="2.56" fill="#3a78b6"/>
<rect x="77.53" y="294.36" width="2.98" height="2.56" fill="#3a78b6"/>
<rect x="81.21" y="294.36" width="2.98" height="2.56" fill="#3371ae"/>
<rect x="84.89" y="294.36" width="2.98" height="2.56" fill="#3877b4"/>
<rect x="88.57" y="294.36" width="2.98" height="2.56" fill="#a7cbe6"/>
<rect x="92.25" y="294.36" width="2.98" height="2.56" fill="#3674b2"/>
<rect x="95.93" y="294.36" width="2.98" height="2.56" fill="#3877b4"/>
<rect x="99.61" y="294.36" width="2.98" height="2.56" fill="#f4f6f8"/>
<rect x="103.3" y="294.36" width="2.98" height="2.56" fill="#eef4f8"/>
<rect x="106.98" y="294.36" width="2.98" height="2.56" fill="#8ebde0"/>
<rect x="110.66" y="294.36" width="2.98" height="2.56" fill="#3371ae"/>
<rect x="114.34" y="294.36" width="2.98" height="2.56" fill="#3e7eba"/>
<rect x="118.02" y="294.36" width="2.98" height="2.56" fill="#3674b2"/>
<rect x="121.7" y="294.36" width="2.98" height="2.56" fill="#3a78b6"/>
<rect x="125.38" y="294.36" width="2.98" height="2.56" fill="#3a78b6"/>
<rect x="129.06" y="294.36" width="2.98" height="2.56" fill="#6aa3d0"/>
<rect x="132.74" y="294.36" width="2.98" height="2.56" fill="#f4f6f8"/>
<rect x="136.43" y="294.36" width="2.98" height="2.56" fill="#f4f6f8"/>
<rect x="140.11" y="294.36" width="2.98" height="2.56" fill="#f4f6f8"/>
<rect x="143.79" y="294.36" width="2.98" height="2.56" fill="#8ebde0"/>
<rect x="147.47" y="294.36" width="2.98" height="2.56" fill="#3674b2"/>
<rect x="14.95" y="297.63" width="2.98" height="2.56" fill="#3b7bb8"/>
<rect x="18.63" y="297.63" width="2.98" height="2.56" fill="#3e7eba"/>
<rect x="22.31" y="297.63" width="2.98" height="2.56" fill="#3674b2"/>
<rect x="25.99" y="297.63" width="2.98" height="2.56" fill="#dde9f3"/>
<rect x="29.67" y="297.63" width="2.98" height="2.56" fill="#600a1e"/>
<rect x="33.36" y="297.63" width="2.98" height="2.56" fill="#3877b4"/>
<rect x="37.04" y="297.63" width="2.98" height="2.56" fill="#3877b4"/>
<rect x="40.72" y="297.63" width="2.98" height="2.56" fill="#3a78b6"/>
<rect x="44.4" y="297.63" width="2.98" height="2.56" fill="#3877b4"/>
<rect x="48.08" y="297.63" width="2.98" height="2.56" fill="#3e7eba"/>
<rect x="51.76" y="297.63" width="2.98" height="2.56" fill="#b9d6ea"/>
<rect x="55.44" y="297.63" width="2.98" height="2.56" fill="#3e7eba"/>
<rect x="59.12" y="297.63" width="2.98" height="2.56" fill="#3371ae"/>
<rect x="62.8" y="297.63" width="2.98" height="2.56" fill="#3674b2"/>
<rect x="66.49" y="297.63" width="2.98" height="2.56" fill="#6aa3d0"/>
<rect x="70.17" y="297.63" width="2.98" height="2.56" fill="#3877b4"/>
<rect x="73.85" y="297.63" width="2.98" height="2.56" fill="#3371ae"/>
<rect x="77.53" y="297.63" width="2.98" height="2.56" fill="#3371ae"/>
<rect x="81.21" y="297.63" width="2.98" height="2.56" fill="#3a78b6"/>
<rect x="84.89" y="297.63" width="2.98" height="2.56" fill="#3371ae"/>
<rect x="88.57" y="297.63" width="2.98" height="2.56" fill="#3371ae"/>
<rect x="92.25" y="297.63" width="2.98" height="2.56" fill="#3b7bb8"/>
<rect x="95.93" y="297.63" width="2.98" height="2.56" fill="#3877b4"/>
<rect x="99.61" y="297.63" width="2.98" height="2.56" fill="#3b7bb8"/>
<rect x="103.3" y="297.63" width="2.98" height="2.56" fill="#3674b2"/>
<rect x="106.98" y="297.63" width="2.98" height="2.56" fill="#3674b2"/>
<rect x="110.66" y="297.63" width="2.98" height="2.56" fill="#3e7eba"/>
<rect x="114.34" y="297.63" width="2.98" height="2.56" fill="#3a78b6"/>
<rect x="118.02" y="297.63" width="2.98" height="2.56" fill="#3b7bb8"/>
<rect x="121.7" y="297.63" width="2.98" height="2.56" fill="#3371ae"/>
<rect x="125.38" y="297.63" width="2.98" height="2.56" fill="#3371ae"/>
<rect x="129.06" y="297.63" width="2.98" height="2.56" fill="#3e7eba"/>
<rect x="132.74" y="297.63" width="2.98" height="2.56" fill="#3a78b6"/>
<rect x="136.43" y="297.63" width="2.98" height="2.56" fill="#3e7eba"/>
<rect x="140.11" y="297.63" width="2.98" height="2.56" fill="#3b7bb8"/>
<rect x="143.79" y="297.63" width="2.98" height="2.56" fill="#3877b4"/>
<rect x="147.47" y="297.63" width="2.98" height="2.56" fill="#3b7bb8"/>
<rect x="14.95" y="300.89" width="2.98" height="2.56" fill="#3a78b6"/>
<rect x="18.63" y="300.89" width="2.98" height="2.56" fill="#3e7eba"/>
<rect x="22.31" y="300.89" width="2.98" height="2.56" fill="#3674b2"/>
<rect x="25.99" y="300.89" width="2.98" height="2.56" fill="#600a1e"/>
<rect x="29.67" y="300.89" width="2.98" height="2.56" fill="#f4f6f8"/>
<rect x="33.36" y="300.89" width="2.98" height="2.56" fill="#3e7eba"/>
<rect x="37.04" y="300.89" width="2.98" height="2.56" fill="#3a78b6"/>
<rect x="40.72" y="300.89" width="2.98" height="2.56" fill="#3674b2"/>
<rect x="44.4" y="300.89" width="2.98" height="2.56" fill="#3b7bb8"/>
<rect x="48.08" y="300.89" width="2.98" height="2.56" fill="#3371ae"/>
<rect x="51.76" y="300.89" width="2.98" height="2.56" fill="#3371ae"/>
<rect x="55.44" y="300.89" width="2.98" height="2.56" fill="#3371ae"/>
<rect x="59.12" y="300.89" width="2.98" height="2.56" fill="#3b7bb8"/>
<rect x="62.8" y="300.89" width="2.98" height="2.56" fill="#3a78b6"/>
<rect x="66.49" y="300.89" width="2.98" height="2.56" fill="#3877b4"/>
<rect x="70.17" y="300.89" width="2.98" height="2.56" fill="#3371ae"/>
<rect x="73.85" y="300.89" width="2.98" height="2.56" fill="#3e7eba"/>
<rect x="77.53" y="300.89" width="2.98" height="2.56" fill="#3b7bb8"/>
<rect x="81.21" y="300.89" width="2.98" height="2.56" fill="#3e7eba"/>
<rect x="84.89" y="300.89" width="2.98" height="2.56" fill="#3a78b6"/>
<rect x="88.57" y="300.89" width="2.98" height="2.56" fill="#3e7eba"/>
<rect x="92.25" y="300.89" width="2.98" height="2.56" fill="#3b7bb8"/>
<rect x="95.93" y="300.89" width="2.98" height="2.56" fill="#3a78b6"/>
<rect x="99.61" y="300.89" width="2.98" height="2.56" fill="#3371ae"/>
<rect x="103.3" y="300.89" width="2.98" height="2.56" fill="#3a78b6"/>
<rect x="106.98" y="300.89" width="2.98" height="2.56" fill="#6aa3d0"/>
<rect x="110.66" y="300.89" width="2.98" height="2.56" fill="#3371ae"/>
<rect x="114.34" y="300.89" width="2.98" height="2.56" fill="#3371ae"/>
<rect x="118.02" y="300.89" width="2.98" height="2.56" fill="#3674b2"/>
<rect x="121.7" y="300.89" width="2.98" height="2.56" fill="#3e7eba"/>
<rect x="125.38" y="300.89" width="2.98" height="2.56" fill="#3371ae"/>
<rect x="129.06" y="300.89" width="2.98" height="2.56" fill="#3674b2"/>
<rect x="132.74" y="300.89" width="2.98" height="2.56" fill="#3674b2"/>
<rect x="136.43" y="300.89" width="2.98" height="2.56" fill="#3b7bb8"/>
<rect x="140.11" y="300.89" width="2.98" height="2.56" fill="#3a78b6"/>
<rect x="143.79" y="300.89" width="2.98" height="2.56" fill="#eef4f8"/>
<rect x="147.47" y="300.89" width="2.98" height="2.56" fill="#6aa3d0"/>
<rect x="14.95" y="304.16" width="2.98" height="2.56" fill="#3877b4"/>
<rect x="18.63" y="304.16" width="2.98" height="2.56" fill="#3a78b6"/>
<rect x="22.31" y="304.16" width="2.98" height="2.56" fill="#600a1e"/>
<rect x="25.99" y="304.16" width="2.98" height="2.56" fill="#3877b4"/>
<rect x="29.67" y="304.16" width="2.98" height="2.56" fill="#3a78b6"/>
<rect x="33.36" y="304.16" width="2.98" height="2.56" fill="#3a78b6"/>
<rect x="37.04" y="304.16" width="2.98" height="2.56" fill="#3371ae"/>
<rect x="40.72" y="304.16" width="2.98" height="2.56" fill="#3a78b6"/>
<rect x="44.4" y="304.16" width="2.98" height="2.56" fill="#3877b4"/>
<rect x="48.08" y="304.16" width="2.98" height="2.56" fill="#3b7bb8"/>
<rect x="51.76" y="304.16" width="2.98" height="2.56" fill="#3b7bb8"/>
<rect x="55.44" y="304.16" width="2.98" height="2.56" fill="#3b7bb8"/>
<rect x="59.12" y="304.16" width="2.98" height="2.56" fill="#3b7bb8"/>
<rect x="62.8" y="304.16" width="2.98" height="2.56" fill="#3674b2"/>
<rect x="66.49" y="304.16" width="2.98" height="2.56" fill="#3a78b6"/>
<rect x="70.17" y="304.16" width="2.98" height="2.56" fill="#3a78b6"/>
<rect x="73.85" y="304.16" width="2.98" height="2.56" fill="#3a78b6"/>
<rect x="77.53" y="304.16" width="2.98" height="2.56" fill="#3371ae"/>
<rect x="81.21" y="304.16" width="2.98" height="2.56" fill="#3877b4"/>
<rect x="84.89" y="304.16" width="2.98" height="2.56" fill="#3e7eba"/>
<rect x="88.57" y="304.16" width="2.98" height="2.56" fill="#6aa3d0"/>
<rect x="92.25" y="304.16" width="2.98" height="2.56" fill="#3a78b6"/>
<rect x="95.93" y="304.16" width="2.98" height="2.56" fill="#3877b4"/>
<rect x="99.61" y="304.16" width="2.98" height="2.56" fill="#3371ae"/>
<rect x="103.3" y="304.16" width="2.98" height="2.56" fill="#3877b4"/>
<rect x="106.98" y="304.16" width="2.98" height="2.56" fill="#28609c"/>
<rect x="110.66" y="304.16" width="2.98" height="2.56" fill="#3674b2"/>
<rect x="114.34" y="304.16" width="2.98" height="2.56" fill="#3674b2"/>
<rect x="118.02" y="304.16" width="2.98" height="2.56" fill="#3b7bb8"/>
<rect x="121.7" y="304.16" width="2.98" height="2.56" fill="#3b7bb8"/>
<rect x="125.38" y="304.16" width="2.98" height="2.56" fill="#3a78b6"/>
<rect x="129.06" y="304.16" width="2.98" height="2.56" fill="#3b7bb8"/>
<rect x="132.74" y="304.16" width="2.98" height="2.56" fill="#8ebde0"/>
<rect x="136.43" y="304.16" width="2.98" height="2.56" fill="#a7cbe6"/>
<rect x="140.11" y="304.16" width="2.98" height="2.56" fill="#3b7bb8"/>
<rect x="143.79" y="304.16" width="2.98" height="2.56" fill="#28609c"/>
<rect x="147.47" y="304.16" width="2.98" height="2.56" fill="#3674b2"/>
<rect x="14.95" y="307.42" width="2.98" height="2.56" fill="#3b7bb8"/>
<rect x="18.63" y="307.42" width="2.98" height="2.56" fill="#600a1e"/>
<rect x="22.31" y="307.42" width="2.98" height="2.56" fill="#3a78b6"/>
<rect x="25.99" y="307.42" width="2.98" height="2.56" fill="#3e7eba"/>
<rect x="29.67" y="307.42" width="2.98" height="2.56" fill="#3877b4"/>
<rect x="33.36" y="307.42" width="2.98" height="2.56" fill="#28609c"/>
<rect x="37.04" y="307.42" width="2.98" height="2.56" fill="#3674b2"/>
<rect x="40.72" y="307.42" width="2.98" height="2.56" fill="#3e7eba"/>
<rect x="44.4" y="307.42" width="2.98" height="2.56" fill="#28609c"/>
<rect x="48.08" y="307.42" width="2.98" height="2.56" fill="#3674b2"/>
<rect x="51.76" y="307.42" width="2.98" height="2.56" fill="#3a78b6"/>
<rect x="55.44" y="307.42" width="2.98" height="2.56" fill="#3e7eba"/>
<rect x="59.12" y="307.42" width="2.98" height="2.56" fill="#3b7bb8"/>
<rect x="62.8" y="307.42" width="2.98" height="2.56" fill="#3b7bb8"/>
<rect x="66.49" y="307.42" width="2.98" height="2.56" fill="#3e7eba"/>
<rect x="70.17" y="307.42" width="2.98" height="2.56" fill="#3a78b6"/>
<rect x="73.85" y="307.42" width="2.98" height="2.56" fill="#3674b2"/>
<rect x="77.53" y="307.42" width="2.98" height="2.56" fill="#3b7bb8"/>
<rect x="81.21" y="307.42" width="2.98" height="2.56" fill="#3a78b6"/>
<rect x="84.89" y="307.42" width="2.98" height="2.56" fill="#3e7eba"/>
<rect x="88.57" y="307.42" width="2.98" height="2.56" fill="#28609c"/>
<rect x="92.25" y="307.42" width="2.98" height="2.56" fill="#3a78b6"/>
<rect x="95.93" y="307.42" width="2.98" height="2.56" fill="#3877b4"/>
<rect x="99.61" y="307.42" width="2.98" height="2.56" fill="#3371ae"/>
<rect x="103.3" y="307.42" width="2.98" height="2.56" fill="#3674b2"/>
<rect x="106.98" y="307.42" width="2.98" height="2.56" fill="#28609c"/>
<rect x="110.66" y="307.42" width="2.98" height="2.56" fill="#3674b2"/>
<rect x="114.34" y="307.42" width="2.98" height="2.56" fill="#3674b2"/>
<rect x="118.02" y="307.42" width="2.98" height="2.56" fill="#3b7bb8"/>
<rect x="121.7" y="307.42" width="2.98" height="2.56" fill="#28609c"/>
<rect x="125.38" y="307.42" width="2.98" height="2.56" fill="#3b7bb8"/>
<rect x="129.06" y="307.42" width="2.98" height="2.56" fill="#6aa3d0"/>
<rect x="132.74" y="307.42" width="2.98" height="2.56" fill="#3674b2"/>
<rect x="136.43" y="307.42" width="2.98" height="2.56" fill="#3877b4"/>
<rect x="140.11" y="307.42" width="2.98" height="2.56" fill="#6aa3d0"/>
<rect x="143.79" y="307.42" width="2.98" height="2.56" fill="#3674b2"/>
<rect x="147.47" y="307.42" width="2.98" height="2.56" fill="#3e7eba"/>
<rect x="14.95" y="310.69" width="2.98" height="2.56" fill="#600a1e"/>
<rect x="18.63" y="310.69" width="2.98" height="2.56" fill="#6aa3d0"/>
<rect x="22.31" y="310.69" width="2.98" height="2.56" fill="#3371ae"/>
<rect x="25.99" y="310.69" width="2.98" height="2.56" fill="#3674b2"/>
<rect x="29.67" y="310.69" width="2.98" height="2.56" fill="#3e7eba"/>
<rect x="33.36" y="310.69" width="2.98" height="2.56" fill="#3371ae"/>
<rect x="37.04" y="310.69" width="2.98" height="2.56" fill="#3b7bb8"/>
<rect x="40.72" y="310.69" width="2.98" height="2.56" fill="#3b7bb8"/>
<rect x="44.4" y="310.69" width="2.98" height="2.56" fill="#3b7bb8"/>
<rect x="48.08" y="310.69" width="2.98" height="2.56" fill="#3a78b6"/>
<rect x="51.76" y="310.69" width="2.98" height="2.56" fill="#3877b4"/>
<rect x="55.44" y="310.69" width="2.98" height="2.56" fill="#3674b2"/>
<rect x="59.12" y="310.69" width="2.98" height="2.56" fill="#3b7bb8"/>
<rect x="62.8" y="310.69" width="2.98" height="2.56" fill="#3877b4"/>
<rect x="66.49" y="310.69" width="2.98" height="2.56" fill="#3b7bb8"/>
<rect x="70.17" y="310.69" width="2.98" height="2.56" fill="#3b7bb8"/>
<rect x="73.85" y="310.69" width="2.98" height="2.56" fill="#6aa3d0"/>
<rect x="77.53" y="310.69" width="2.98" height="2.56" fill="#3371ae"/>
<rect x="81.21" y="310.69" width="2.98" height="2.56" fill="#3877b4"/>
<rect x="84.89" y="310.69" width="2.98" height="2.56" fill="#3371ae"/>
<rect x="88.57" y="310.69" width="2.98" height="2.56" fill="#3674b2"/>
<rect x="92.25" y="310.69" width="2.98" height="2.56" fill="#3877b4"/>
<rect x="95.93" y="310.69" width="2.98" height="2.56" fill="#3e7eba"/>
<rect x="99.61" y="310.69" width="2.98" height="2.56" fill="#28609c"/>
<rect x="103.3" y="310.69" width="2.98" height="2.56" fill="#3e7eba"/>
<rect x="106.98" y="310.69" width="2.98" height="2.56" fill="#3877b4"/>
<rect x="110.66" y="310.69" width="2.98" height="2.56" fill="#3b7bb8"/>
<rect x="114.34" y="310.69" width="2.98" height="2.56" fill="#3674b2"/>
<rect x="118.02" y="310.69" width="2.98" height="2.56" fill="#6aa3d0"/>
<rect x="121.7" y="310.69" width="2.98" height="2.56" fill="#3371ae"/>
<rect x="125.38" y="310.69" width="2.98" height="2.56" fill="#3a78b6"/>
<rect x="129.06" y="310.69" width="2.98" height="2.56" fill="#3e7eba"/>
<rect x="132.74" y="310.69" width="2.98" height="2.56" fill="#3a78b6"/>
<rect x="136.43" y="310.69" width="2.98" height="2.56" fill="#3877b4"/>
<rect x="140.11" y="310.69" width="2.98" height="2.56" fill="#3674b2"/>
<rect x="143.79" y="310.69" width="2.98" height="2.56" fill="#3e7eba"/>
<rect x="147.47" y="310.69" width="2.98" height="2.56" fill="#3a78b6"/>
<g font-size="2.6">
<text x="152" y="195.2" fill="#d33a55">EZH2</text>
<text x="152" y="198.46" fill="#d33a55">ZRSR2</text>
<text x="152" y="201.73" fill="#d33a55">STAG2</text>
<text x="152" y="204.99" fill="#d33a55">RUNX1</text>
<text x="152" y="208.26" fill="#d33a55">ASXL1</text>
<text x="152" y="211.52" fill="#555">DNMT3A</text>
<text x="152" y="214.79" fill="#555">BCORL1</text>
<text x="152" y="218.05" fill="#555">CUX1</text>
<text x="152" y="221.32" fill="#555">BCOR</text>
<text x="152" y="224.58" fill="#555">SETBP1</text>
<text x="152" y="227.85" fill="#555">KDM6A</text>
<text x="152" y="231.11" fill="#555">PTPN11</text>
<text x="152" y="234.38" fill="#555">NRAS</text>
<text x="152" y="237.64" fill="#555">ETV6</text>
<text x="152" y="240.91" fill="#555">NPM1</text>
<text x="152" y="244.17" fill="#555">GATA2</text>
<text x="152" y="247.44" fill="#555">IDH2</text>
<text x="152" y="250.7" fill="#555">TP53</text>
<text x="152" y="253.97" fill="#555">JAK2</text>
<text x="152" y="257.23" fill="#555">SF3B1</text>
<text x="152" y="260.5" fill="#555">MPL</text>
<text x="152" y="263.76" fill="#555">U2AF1</text>
<text x="152" y="267.03" fill="#555">CALR</text>
<text x="152" y="270.29" fill="#555">IDH1</text>
<text x="152" y="273.56" fill="#555">KIT</text>
<text x="152" y="276.82" fill="#555">CBL</text>
<text x="152" y="280.09" fill="#555">WT1</text>
<text x="152" y="283.35" fill="#555">PHF6</text>
<text x="152" y="286.62" fill="#555">TET2</text>
<text x="152" y="289.88" fill="#555">SRSF2</text>
<text x="152" y="293.15" fill="#555">FLT3</text>
<text x="152" y="296.41" fill="#555">CEBPA</text>
<text x="152" y="299.68" fill="#555">KRAS</text>
<text x="152" y="302.94" fill="#555">NF1</text>
<text x="152" y="306.21" fill="#555">SF1</text>
<text x="152" y="309.47" fill="#555">ZNF750</text>
<text x="152" y="312.74" fill="#555">PPM1D</text>
</g>
<g font-size="2.9">
<text x="17.2" y="191.3" fill="#333" transform="rotate(-90 17.2 191.3)">PPM1D</text>
<text x="20.88" y="191.3" fill="#333" transform="rotate(-90 20.88 191.3)">ZNF750</text>
<text x="24.56" y="191.3" fill="#333" transform="rotate(-90 24.56 191.3)">SF1</text>
<text x="28.24" y="191.3" fill="#333" transform="rotate(-90 28.24 191.3)">NF1</text>
<text x="31.92" y="191.3" fill="#333" transform="rotate(-90 31.92 191.3)">KRAS</text>
<text x="35.61" y="191.3" fill="#333" transform="rotate(-90 35.61 191.3)">CEBPA</text>
<text x="39.29" y="191.3" fill="#333" transform="rotate(-90 39.29 191.3)">FLT3</text>
<text x="42.97" y="191.3" fill="#333" transform="rotate(-90 42.97 191.3)">SRSF2</text>
<text x="46.65" y="191.3" fill="#333" transform="rotate(-90 46.65 191.3)">TET2</text>
<text x="50.33" y="191.3" fill="#333" transform="rotate(-90 50.33 191.3)">PHF6</text>
<text x="54.01" y="191.3" fill="#333" transform="rotate(-90 54.01 191.3)">WT1</text>
<text x="57.69" y="191.3" fill="#333" transform="rotate(-90 57.69 191.3)">CBL</text>
<text x="61.37" y="191.3" fill="#333" transform="rotate(-90 61.37 191.3)">KIT</text>
<text x="65.05" y="191.3" fill="#333" transform="rotate(-90 65.05 191.3)">IDH1</text>
<text x="68.74" y="191.3" fill="#333" transform="rotate(-90 68.74 191.3)">CALR</text>
<text x="72.42" y="191.3" fill="#333" transform="rotate(-90 72.42 191.3)">U2AF1</text>
<text x="76.1" y="191.3" fill="#333" transform="rotate(-90 76.1 191.3)">MPL</text>
<text x="79.78" y="191.3" fill="#333" transform="rotate(-90 79.78 191.3)">SF3B1</text>
<text x="83.46" y="191.3" fill="#333" transform="rotate(-90 83.46 191.3)">JAK2</text>
<text x="87.14" y="191.3" fill="#333" transform="rotate(-90 87.14 191.3)">TP53</text>
<text x="90.82" y="191.3" fill="#333" transform="rotate(-90 90.82 191.3)">IDH2</text>
<text x="94.5" y="191.3" fill="#333" transform="rotate(-90 94.5 191.3)">GATA2</text>
<text x="98.18" y="191.3" fill="#333" transform="rotate(-90 98.18 191.3)">NPM1</text>
<text x="101.86" y="191.3" fill="#333" transform="rotate(-90 101.86 191.3)">ETV6</text>
<text x="105.55" y="191.3" fill="#333" transform="rotate(-90 105.55 191.3)">NRAS</text>
<text x="109.23" y="191.3" fill="#333" transform="rotate(-90 109.23 191.3)">PTPN11</text>
<text x="112.91" y="191.3" fill="#333" transform="rotate(-90 112.91 191.3)">KDM6A</text>
<text x="116.59" y="191.3" fill="#333" transform="rotate(-90 116.59 191.3)">SETBP1</text>
<text x="120.27" y="191.3" fill="#333" transform="rotate(-90 120.27 191.3)">BCOR</text>
<text x="123.95" y="191.3" fill="#333" transform="rotate(-90 123.95 191.3)">CUX1</text>
<text x="127.63" y="191.3" fill="#333" transform="rotate(-90 127.63 191.3)">BCORL1</text>
<text x="131.31" y="191.3" fill="#333" transform="rotate(-90 131.31 191.3)">DNMT3A</text>
<text x="134.99" y="191.3" fill="#d0203a" transform="rotate(-90 134.99 191.3)">ASXL1</text>
<text x="138.68" y="191.3" fill="#d0203a" transform="rotate(-90 138.68 191.3)">RUNX1</text>
<text x="142.36" y="191.3" fill="#d0203a" transform="rotate(-90 142.36 191.3)">STAG2</text>
<text x="146.04" y="191.3" fill="#d0203a" transform="rotate(-90 146.04 191.3)">ZRSR2</text>
<text x="149.72" y="191.3" fill="#d0203a" transform="rotate(-90 149.72 191.3)">EZH2</text>
</g>
<defs><linearGradient id="cb" x1="0" y1="0" x2="0" y2="1"><stop offset="0" stop-color="#67001f"/><stop offset="0.18" stop-color="#c23a3e"/><stop offset="0.35" stop-color="#f4a582"/><stop offset="0.5" stop-color="#f7f7f7"/><stop offset="0.65" stop-color="#92c5de"/><stop offset="0.82" stop-color="#2f74b4"/><stop offset="1" stop-color="#0b2a55"/></linearGradient></defs>
<rect x="169.1" y="206" width="3.7" height="25.8" fill="url(#cb)"/>
<text x="174.4" y="208.3" font-size="2.8" fill="#444">1</text>
<text x="174.4" y="229.3" font-size="2.8" fill="#444">0</text>
<text x="180.2" y="218" font-size="3.0" text-anchor="middle" fill="#444" textLength="50" lengthAdjust="spacingAndGlyphs" transform="rotate(90 180.2 218)">Pearson correlation coefficient</text>
<text x="197.6" y="176.3" font-size="10.5" fill="#000" font-weight="bold" stroke="#000" stroke-width="0.35">E</text>
<path d="M232.4,181.7V296.5H348.5" fill="none" stroke="#231f20" stroke-width="1.1"/>
<line x1="229.6" y1="183.3" x2="232.4" y2="183.3" stroke="#231f20" stroke-width="0.9"/>
<text stroke="#333" stroke-width="0.12" x="226.6" y="185.3" font-size="5.9" text-anchor="end" textLength="11.2" lengthAdjust="spacingAndGlyphs">1.00</text>
<line x1="229.6" y1="210.3" x2="232.4" y2="210.3" stroke="#231f20" stroke-width="0.9"/>
<text stroke="#333" stroke-width="0.12" x="226.6" y="212.3" font-size="5.9" text-anchor="end" textLength="11.2" lengthAdjust="spacingAndGlyphs">0.75</text>
<line x1="229.6" y1="237.3" x2="232.4" y2="237.3" stroke="#231f20" stroke-width="0.9"/>
<text stroke="#333" stroke-width="0.12" x="226.6" y="239.3" font-size="5.9" text-anchor="end" textLength="11.2" lengthAdjust="spacingAndGlyphs">0.50</text>
<line x1="229.6" y1="264.3" x2="232.4" y2="264.3" stroke="#231f20" stroke-width="0.9"/>
<text stroke="#333" stroke-width="0.12" x="226.6" y="266.3" font-size="5.9" text-anchor="end" textLength="11.2" lengthAdjust="spacingAndGlyphs">0.25</text>
<line x1="229.6" y1="291.3" x2="232.4" y2="291.3" stroke="#231f20" stroke-width="0.9"/>
<text stroke="#333" stroke-width="0.12" x="226.6" y="293.3" font-size="5.9" text-anchor="end" textLength="11.2" lengthAdjust="spacingAndGlyphs">0.00</text>
<line x1="237.5" y1="296.5" x2="237.5" y2="299.5" stroke="#231f20" stroke-width="0.9"/>
<text stroke="#333" stroke-width="0.12" x="237.5" y="307.5" font-size="5.9" text-anchor="middle">0</text>
<line x1="264.62" y1="296.5" x2="264.62" y2="299.5" stroke="#231f20" stroke-width="0.9"/>
<text stroke="#333" stroke-width="0.12" x="264.62" y="307.5" font-size="5.9" text-anchor="middle">40</text>
<line x1="291.74" y1="296.5" x2="291.74" y2="299.5" stroke="#231f20" stroke-width="0.9"/>
<text stroke="#333" stroke-width="0.12" x="291.74" y="307.5" font-size="5.9" text-anchor="middle">80</text>
<line x1="318.86" y1="296.5" x2="318.86" y2="299.5" stroke="#231f20" stroke-width="0.9"/>
<text stroke="#333" stroke-width="0.12" x="318.86" y="307.5" font-size="5.9" text-anchor="middle">120</text>
<line x1="345.98" y1="296.5" x2="345.98" y2="299.5" stroke="#231f20" stroke-width="0.9"/>
<text stroke="#333" stroke-width="0.12" x="345.98" y="307.5" font-size="5.9" text-anchor="middle">160</text>
<text stroke="#333" stroke-width="0.12" x="290.95" y="318.5" font-size="5.8" text-anchor="middle" textLength="65" lengthAdjust="spacingAndGlyphs">Time from diagnosis (months)</text>
<text stroke="#333" stroke-width="0.12" x="209.9" y="237.3" font-size="5.3" text-anchor="middle" textLength="48" lengthAdjust="spacingAndGlyphs" transform="rotate(-90 209.9 237.3)">Leukemia-free survival</text>
<path d="M237.5,183.3H237.91V190.86H238.52V197.99H239.87V202.74H241.23V207.06H242.25V213.54H243.26V218.94H244.82V224.99H245.7V241.3H249.3V248.53H250.18V253.93H251.06V258.9H252.01V264.73H252.89V283.63H277.5" fill="none" stroke="#c4284a" stroke-width="1.15" stroke-dasharray="3 1.6"/>
<line x1="276.82" y1="281.93" x2="276.82" y2="285.33" stroke="#c4284a" stroke-width="0.75"/>
<path d="M237.5,183.3H238.18V184.65H238.86V186H239.13V187.19H239.4V188.38H239.67V189.56H239.94V190.75H240.21V191.94H240.47V193.29H240.72V194.64H240.97V195.99H241.23V197.34H241.48V198.69H241.74V200.04H241.99V201.39H242.25V202.74H242.59V204.09H242.92V205.44H243.26V206.79H243.6V208.14H243.94V209.49H244.28V210.84H244.62V212.19H244.96V213.54H245.44V214.85H245.93V216.16H246.41V217.47H246.9V218.79H247.38V220.1H247.86V221.41H248.35V222.72H249.37V223.98H250.38V225.24H251.4V226.5H252.42V227.76H253.43V229.02H254.45V230.28H255.94V231.58H257.43V232.87H258.92V234.17H260.42V235.46H261.91V236.76H263.26V237.98H264.62V239.19H265.98V240.41H267.33V241.62H268.69V242.7H270.04V243.78H271.4V244.86H276.15V246.7H297.16V250.26H299.88V254.58H350.05" fill="none" stroke="#24426a" stroke-width="1.15"/>
<line x1="238.18" y1="182.85" x2="238.18" y2="186.45" stroke="#24426a" stroke-width="0.8"/>
<line x1="239.06" y1="184.2" x2="239.06" y2="187.8" stroke="#24426a" stroke-width="0.8"/>
<line x1="239.94" y1="188.95" x2="239.94" y2="192.55" stroke="#24426a" stroke-width="0.8"/>
<line x1="240.82" y1="192.84" x2="240.82" y2="196.44" stroke="#24426a" stroke-width="0.8"/>
<line x1="241.7" y1="196.89" x2="241.7" y2="200.49" stroke="#24426a" stroke-width="0.8"/>
<line x1="242.59" y1="202.29" x2="242.59" y2="205.89" stroke="#24426a" stroke-width="0.8"/>
<line x1="243.47" y1="204.99" x2="243.47" y2="208.59" stroke="#24426a" stroke-width="0.8"/>
<line x1="244.35" y1="209.04" x2="244.35" y2="212.64" stroke="#24426a" stroke-width="0.8"/>
<line x1="245.23" y1="211.74" x2="245.23" y2="215.34" stroke="#24426a" stroke-width="0.8"/>
<line x1="246.11" y1="214.36" x2="246.11" y2="217.96" stroke="#24426a" stroke-width="0.8"/>
<line x1="246.99" y1="216.99" x2="246.99" y2="220.59" stroke="#24426a" stroke-width="0.8"/>
<line x1="247.87" y1="219.61" x2="247.87" y2="223.21" stroke="#24426a" stroke-width="0.8"/>
<line x1="248.75" y1="220.92" x2="248.75" y2="224.52" stroke="#24426a" stroke-width="0.8"/>
<line x1="249.64" y1="222.18" x2="249.64" y2="225.78" stroke="#24426a" stroke-width="0.8"/>
<line x1="250.52" y1="223.44" x2="250.52" y2="227.04" stroke="#24426a" stroke-width="0.8"/>
<line x1="251.4" y1="224.7" x2="251.4" y2="228.3" stroke="#24426a" stroke-width="0.8"/>
<line x1="252.28" y1="224.7" x2="252.28" y2="228.3" stroke="#24426a" stroke-width="0.8"/>
<line x1="253.16" y1="225.96" x2="253.16" y2="229.56" stroke="#24426a" stroke-width="0.8"/>
<line x1="254.04" y1="227.22" x2="254.04" y2="230.82" stroke="#24426a" stroke-width="0.8"/>
<line x1="254.92" y1="228.48" x2="254.92" y2="232.08" stroke="#24426a" stroke-width="0.8"/>
<line x1="255.81" y1="228.48" x2="255.81" y2="232.08" stroke="#24426a" stroke-width="0.8"/>
<line x1="256.69" y1="229.78" x2="256.69" y2="233.38" stroke="#24426a" stroke-width="0.8"/>
<line x1="257.57" y1="231.07" x2="257.57" y2="234.67" stroke="#24426a" stroke-width="0.8"/>
<line x1="258.45" y1="231.07" x2="258.45" y2="234.67" stroke="#24426a" stroke-width="0.8"/>
<line x1="259.33" y1="232.37" x2="259.33" y2="235.97" stroke="#24426a" stroke-width="0.8"/>
<line x1="260.21" y1="232.37" x2="260.21" y2="235.97" stroke="#24426a" stroke-width="0.8"/>
<line x1="261.09" y1="233.66" x2="261.09" y2="237.26" stroke="#24426a" stroke-width="0.8"/>
<line x1="261.98" y1="234.96" x2="261.98" y2="238.56" stroke="#24426a" stroke-width="0.8"/>
<line x1="262.86" y1="234.96" x2="262.86" y2="238.56" stroke="#24426a" stroke-width="0.8"/>
<line x1="263.74" y1="236.18" x2="263.74" y2="239.78" stroke="#24426a" stroke-width="0.8"/>
<line x1="264.62" y1="237.39" x2="264.62" y2="240.99" stroke="#24426a" stroke-width="0.8"/>
<line x1="265.5" y1="237.39" x2="265.5" y2="240.99" stroke="#24426a" stroke-width="0.8"/>
<line x1="266.38" y1="238.6" x2="266.38" y2="242.21" stroke="#24426a" stroke-width="0.8"/>
<line x1="267.26" y1="238.6" x2="267.26" y2="242.21" stroke="#24426a" stroke-width="0.8"/>
<line x1="268.15" y1="239.82" x2="268.15" y2="243.42" stroke="#24426a" stroke-width="0.8"/>
<line x1="269.03" y1="240.9" x2="269.03" y2="244.5" stroke="#24426a" stroke-width="0.8"/>
<line x1="269.91" y1="240.9" x2="269.91" y2="244.5" stroke="#24426a" stroke-width="0.8"/>
<line x1="270.79" y1="241.98" x2="270.79" y2="245.58" stroke="#24426a" stroke-width="0.8"/>
<line x1="271.67" y1="243.06" x2="271.67" y2="246.66" stroke="#24426a" stroke-width="0.8"/>
<line x1="272.55" y1="243.06" x2="272.55" y2="246.66" stroke="#24426a" stroke-width="0.8"/>
<line x1="273.43" y1="243.06" x2="273.43" y2="246.66" stroke="#24426a" stroke-width="0.8"/>
<line x1="274.32" y1="243.06" x2="274.32" y2="246.66" stroke="#24426a" stroke-width="0.8"/>
<line x1="275.2" y1="243.06" x2="275.2" y2="246.66" stroke="#24426a" stroke-width="0.8"/>
<line x1="276.08" y1="243.06" x2="276.08" y2="246.66" stroke="#24426a" stroke-width="0.8"/>
<line x1="276.96" y1="244.9" x2="276.96" y2="248.5" stroke="#24426a" stroke-width="0.8"/>
<line x1="279.54" y1="244.9" x2="279.54" y2="248.5" stroke="#24426a" stroke-width="0.8"/>
<line x1="282.25" y1="244.9" x2="282.25" y2="248.5" stroke="#24426a" stroke-width="0.8"/>
<line x1="284.96" y1="244.9" x2="284.96" y2="248.5" stroke="#24426a" stroke-width="0.8"/>
<line x1="288.35" y1="244.9" x2="288.35" y2="248.5" stroke="#24426a" stroke-width="0.8"/>
<line x1="291.74" y1="244.9" x2="291.74" y2="248.5" stroke="#24426a" stroke-width="0.8"/>
<line x1="294.45" y1="244.9" x2="294.45" y2="248.5" stroke="#24426a" stroke-width="0.8"/>
<line x1="301.91" y1="252.78" x2="301.91" y2="256.38" stroke="#24426a" stroke-width="0.8"/>
<line x1="303.94" y1="252.78" x2="303.94" y2="256.38" stroke="#24426a" stroke-width="0.8"/>
<line x1="305.3" y1="252.78" x2="305.3" y2="256.38" stroke="#24426a" stroke-width="0.8"/>
<line x1="306.66" y1="252.78" x2="306.66" y2="256.38" stroke="#24426a" stroke-width="0.8"/>
<line x1="309.37" y1="252.78" x2="309.37" y2="256.38" stroke="#24426a" stroke-width="0.8"/>
<line x1="310.72" y1="252.78" x2="310.72" y2="256.38" stroke="#24426a" stroke-width="0.8"/>
<line x1="318.86" y1="252.78" x2="318.86" y2="256.38" stroke="#24426a" stroke-width="0.8"/>
<line x1="322.93" y1="252.78" x2="322.93" y2="256.38" stroke="#24426a" stroke-width="0.8"/>
<line x1="330.39" y1="252.78" x2="330.39" y2="256.38" stroke="#24426a" stroke-width="0.8"/>
<line x1="334.45" y1="252.78" x2="334.45" y2="256.38" stroke="#24426a" stroke-width="0.8"/>
<line x1="339.2" y1="252.78" x2="339.2" y2="256.38" stroke="#24426a" stroke-width="0.8"/>
<line x1="345.98" y1="252.78" x2="345.98" y2="256.38" stroke="#24426a" stroke-width="0.8"/>
<text stroke="#2f5a8f" stroke-width="0.12" x="273.75" y="237.77" font-size="6.3" fill="#2f5a8f" textLength="72.5" lengthAdjust="spacingAndGlyphs">Lower S100A8/A9, n = 192</text>
<text stroke="#c4284a" stroke-width="0.12" x="238.5" y="293.57" font-size="6.3" fill="#c4284a" textLength="71" lengthAdjust="spacingAndGlyphs">Higher S100A8/A9, n = 23</text>
<text stroke="#333" stroke-width="0.12" x="322.5" y="290.16" font-size="6.0" textLength="22.5" lengthAdjust="spacingAndGlyphs"><tspan font-style="italic">P</tspan> &lt; .001</text>
<path d="M388.3,181.7V296.5H507.8" fill="none" stroke="#231f20" stroke-width="1.1"/>
<line x1="385.5" y1="183.3" x2="388.3" y2="183.3" stroke="#231f20" stroke-width="0.9"/>
<text stroke="#333" stroke-width="0.12" x="382.5" y="185.3" font-size="5.9" text-anchor="end" textLength="11.2" lengthAdjust="spacingAndGlyphs">1.00</text>
<line x1="385.5" y1="210.3" x2="388.3" y2="210.3" stroke="#231f20" stroke-width="0.9"/>
<text stroke="#333" stroke-width="0.12" x="382.5" y="212.3" font-size="5.9" text-anchor="end" textLength="11.2" lengthAdjust="spacingAndGlyphs">0.75</text>
<line x1="385.5" y1="237.3" x2="388.3" y2="237.3" stroke="#231f20" stroke-width="0.9"/>
<text stroke="#333" stroke-width="0.12" x="382.5" y="239.3" font-size="5.9" text-anchor="end" textLength="11.2" lengthAdjust="spacingAndGlyphs">0.50</text>
<line x1="385.5" y1="264.3" x2="388.3" y2="264.3" stroke="#231f20" stroke-width="0.9"/>
<text stroke="#333" stroke-width="0.12" x="382.5" y="266.3" font-size="5.9" text-anchor="end" textLength="11.2" lengthAdjust="spacingAndGlyphs">0.25</text>
<line x1="385.5" y1="291.3" x2="388.3" y2="291.3" stroke="#231f20" stroke-width="0.9"/>
<text stroke="#333" stroke-width="0.12" x="382.5" y="293.3" font-size="5.9" text-anchor="end" textLength="11.2" lengthAdjust="spacingAndGlyphs">0.00</text>
<line x1="393.9" y1="296.5" x2="393.9" y2="299.5" stroke="#231f20" stroke-width="0.9"/>
<text stroke="#333" stroke-width="0.12" x="393.9" y="307.5" font-size="5.9" text-anchor="middle">0</text>
<line x1="420.9" y1="296.5" x2="420.9" y2="299.5" stroke="#231f20" stroke-width="0.9"/>
<text stroke="#333" stroke-width="0.12" x="420.9" y="307.5" font-size="5.9" text-anchor="middle">40</text>
<line x1="447.9" y1="296.5" x2="447.9" y2="299.5" stroke="#231f20" stroke-width="0.9"/>
<text stroke="#333" stroke-width="0.12" x="447.9" y="307.5" font-size="5.9" text-anchor="middle">80</text>
<line x1="474.9" y1="296.5" x2="474.9" y2="299.5" stroke="#231f20" stroke-width="0.9"/>
<text stroke="#333" stroke-width="0.12" x="474.9" y="307.5" font-size="5.9" text-anchor="middle">120</text>
<line x1="501.9" y1="296.5" x2="501.9" y2="299.5" stroke="#231f20" stroke-width="0.9"/>
<text stroke="#333" stroke-width="0.12" x="501.9" y="307.5" font-size="5.9" text-anchor="middle">160</text>
<text stroke="#333" stroke-width="0.12" x="448.05" y="318.5" font-size="5.8" text-anchor="middle" textLength="65" lengthAdjust="spacingAndGlyphs">Time from diagnosis (months)</text>
<text stroke="#333" stroke-width="0.12" x="364.9" y="237.3" font-size="5.3" text-anchor="middle" textLength="33" lengthAdjust="spacingAndGlyphs" transform="rotate(-90 364.9 237.3)">Overall survival</text>
<path d="M393.9,183.3H394.57V191.4H395.65V195.18H396.87V201.66H398.15V210.3H400.65V220.02H403.08V235.14H405.58V242.7H408.07V250.26H409.29V263.22H413V272.94H421.17V281.58H432.85" fill="none" stroke="#c4284a" stroke-width="1.15" stroke-dasharray="3 1.6"/>
<line x1="431.7" y1="279.88" x2="431.7" y2="283.28" stroke="#c4284a" stroke-width="0.75"/>
<path d="M393.9,183.3H394.34V184.54H394.78V185.78H395.22V187.03H395.65V188.27H396.01V189.49H396.37V190.71H396.73V191.92H397.08V193.14H397.44V194.36H397.8V195.58H398.15V196.8H398.89V198.05H399.64V199.31H400.38V200.56H401.12V201.81H401.86V203.06H402.28V204.27H402.7V205.48H403.11V206.68H403.53V207.89H403.95V209.09H404.36V210.3H404.98V211.56H405.6V212.82H406.22V214.08H406.84V215.34H407.46V216.6H408.07V217.86H408.69V219.12H409.31V220.38H409.93V221.64H410.55V222.9H411.17V224.16H411.79V225.42H412.77V226.72H413.76V228.01H414.74V229.31H415.73V230.6H416.71V231.9H418.33V232.98H419.95V234.06H421.57V235.14H423.26V236.58H424.95V238.02H426.64V239.46H428.32V240.61H430.01V241.76H431.7V242.92H442.84V245.4H451.27V249.18H455.05V251.56H505.27" fill="none" stroke="#24426a" stroke-width="1.15"/>
<line x1="394.57" y1="182.74" x2="394.57" y2="186.34" stroke="#24426a" stroke-width="0.8"/>
<line x1="395.45" y1="185.23" x2="395.45" y2="188.83" stroke="#24426a" stroke-width="0.8"/>
<line x1="396.33" y1="187.69" x2="396.33" y2="191.29" stroke="#24426a" stroke-width="0.8"/>
<line x1="397.21" y1="191.34" x2="397.21" y2="194.94" stroke="#24426a" stroke-width="0.8"/>
<line x1="398.08" y1="193.78" x2="398.08" y2="197.38" stroke="#24426a" stroke-width="0.8"/>
<line x1="398.96" y1="196.25" x2="398.96" y2="199.85" stroke="#24426a" stroke-width="0.8"/>
<line x1="399.84" y1="197.51" x2="399.84" y2="201.11" stroke="#24426a" stroke-width="0.8"/>
<line x1="400.72" y1="198.76" x2="400.72" y2="202.36" stroke="#24426a" stroke-width="0.8"/>
<line x1="401.59" y1="200.01" x2="401.59" y2="203.61" stroke="#24426a" stroke-width="0.8"/>
<line x1="402.47" y1="202.47" x2="402.47" y2="206.07" stroke="#24426a" stroke-width="0.8"/>
<line x1="403.35" y1="204.88" x2="403.35" y2="208.48" stroke="#24426a" stroke-width="0.8"/>
<line x1="404.23" y1="207.29" x2="404.23" y2="210.89" stroke="#24426a" stroke-width="0.8"/>
<line x1="405.1" y1="209.76" x2="405.1" y2="213.36" stroke="#24426a" stroke-width="0.8"/>
<line x1="405.98" y1="211.02" x2="405.98" y2="214.62" stroke="#24426a" stroke-width="0.8"/>
<line x1="406.86" y1="213.54" x2="406.86" y2="217.14" stroke="#24426a" stroke-width="0.8"/>
<line x1="407.74" y1="214.8" x2="407.74" y2="218.4" stroke="#24426a" stroke-width="0.8"/>
<line x1="408.61" y1="216.06" x2="408.61" y2="219.66" stroke="#24426a" stroke-width="0.8"/>
<line x1="409.49" y1="218.58" x2="409.49" y2="222.18" stroke="#24426a" stroke-width="0.8"/>
<line x1="410.37" y1="219.84" x2="410.37" y2="223.44" stroke="#24426a" stroke-width="0.8"/>
<line x1="411.25" y1="222.36" x2="411.25" y2="225.96" stroke="#24426a" stroke-width="0.8"/>
<line x1="412.12" y1="223.62" x2="412.12" y2="227.22" stroke="#24426a" stroke-width="0.8"/>
<line x1="413" y1="224.92" x2="413" y2="228.52" stroke="#24426a" stroke-width="0.8"/>
<line x1="413.88" y1="226.21" x2="413.88" y2="229.81" stroke="#24426a" stroke-width="0.8"/>
<line x1="414.76" y1="227.51" x2="414.76" y2="231.11" stroke="#24426a" stroke-width="0.8"/>
<line x1="415.63" y1="227.51" x2="415.63" y2="231.11" stroke="#24426a" stroke-width="0.8"/>
<line x1="416.51" y1="228.8" x2="416.51" y2="232.4" stroke="#24426a" stroke-width="0.8"/>
<line x1="417.39" y1="230.1" x2="417.39" y2="233.7" stroke="#24426a" stroke-width="0.8"/>
<line x1="418.27" y1="230.1" x2="418.27" y2="233.7" stroke="#24426a" stroke-width="0.8"/>
<line x1="419.14" y1="231.18" x2="419.14" y2="234.78" stroke="#24426a" stroke-width="0.8"/>
<line x1="420.02" y1="232.26" x2="420.02" y2="235.86" stroke="#24426a" stroke-width="0.8"/>
<line x1="420.9" y1="232.26" x2="420.9" y2="235.86" stroke="#24426a" stroke-width="0.8"/>
<line x1="421.78" y1="233.34" x2="421.78" y2="236.94" stroke="#24426a" stroke-width="0.8"/>
<line x1="422.65" y1="233.34" x2="422.65" y2="236.94" stroke="#24426a" stroke-width="0.8"/>
<line x1="423.53" y1="234.78" x2="423.53" y2="238.38" stroke="#24426a" stroke-width="0.8"/>
<line x1="424.41" y1="234.78" x2="424.41" y2="238.38" stroke="#24426a" stroke-width="0.8"/>
<line x1="425.29" y1="236.22" x2="425.29" y2="239.82" stroke="#24426a" stroke-width="0.8"/>
<line x1="426.16" y1="236.22" x2="426.16" y2="239.82" stroke="#24426a" stroke-width="0.8"/>
<line x1="427.04" y1="237.66" x2="427.04" y2="241.26" stroke="#24426a" stroke-width="0.8"/>
<line x1="427.92" y1="237.66" x2="427.92" y2="241.26" stroke="#24426a" stroke-width="0.8"/>
<line x1="428.8" y1="238.81" x2="428.8" y2="242.41" stroke="#24426a" stroke-width="0.8"/>
<line x1="429.67" y1="238.81" x2="429.67" y2="242.41" stroke="#24426a" stroke-width="0.8"/>
<line x1="430.55" y1="239.96" x2="430.55" y2="243.56" stroke="#24426a" stroke-width="0.8"/>
<line x1="431.43" y1="239.96" x2="431.43" y2="243.56" stroke="#24426a" stroke-width="0.8"/>
<line x1="432.31" y1="241.12" x2="432.31" y2="244.72" stroke="#24426a" stroke-width="0.8"/>
<line x1="433.19" y1="241.12" x2="433.19" y2="244.72" stroke="#24426a" stroke-width="0.8"/>
<line x1="435.75" y1="241.12" x2="435.75" y2="244.72" stroke="#24426a" stroke-width="0.8"/>
<line x1="438.45" y1="241.12" x2="438.45" y2="244.72" stroke="#24426a" stroke-width="0.8"/>
<line x1="441.15" y1="241.12" x2="441.15" y2="244.72" stroke="#24426a" stroke-width="0.8"/>
<line x1="444.52" y1="243.6" x2="444.52" y2="247.2" stroke="#24426a" stroke-width="0.8"/>
<line x1="447.9" y1="243.6" x2="447.9" y2="247.2" stroke="#24426a" stroke-width="0.8"/>
<line x1="450.6" y1="243.6" x2="450.6" y2="247.2" stroke="#24426a" stroke-width="0.8"/>
<line x1="458.02" y1="249.76" x2="458.02" y2="253.36" stroke="#24426a" stroke-width="0.8"/>
<line x1="460.05" y1="249.76" x2="460.05" y2="253.36" stroke="#24426a" stroke-width="0.8"/>
<line x1="461.4" y1="249.76" x2="461.4" y2="253.36" stroke="#24426a" stroke-width="0.8"/>
<line x1="462.75" y1="249.76" x2="462.75" y2="253.36" stroke="#24426a" stroke-width="0.8"/>
<line x1="465.45" y1="249.76" x2="465.45" y2="253.36" stroke="#24426a" stroke-width="0.8"/>
<line x1="466.8" y1="249.76" x2="466.8" y2="253.36" stroke="#24426a" stroke-width="0.8"/>
<line x1="474.9" y1="249.76" x2="474.9" y2="253.36" stroke="#24426a" stroke-width="0.8"/>
<line x1="478.95" y1="249.76" x2="478.95" y2="253.36" stroke="#24426a" stroke-width="0.8"/>
<line x1="486.38" y1="249.76" x2="486.38" y2="253.36" stroke="#24426a" stroke-width="0.8"/>
<line x1="490.42" y1="249.76" x2="490.42" y2="253.36" stroke="#24426a" stroke-width="0.8"/>
<line x1="495.15" y1="249.76" x2="495.15" y2="253.36" stroke="#24426a" stroke-width="0.8"/>
<line x1="501.9" y1="249.76" x2="501.9" y2="253.36" stroke="#24426a" stroke-width="0.8"/>
<text stroke="#2f5a8f" stroke-width="0.12" x="422.5" y="226.57" font-size="6.3" fill="#2f5a8f" textLength="72.5" lengthAdjust="spacingAndGlyphs">Lower S100A8/A9, n = 192</text>
<text stroke="#c4284a" stroke-width="0.12" x="396.3" y="292.77" font-size="6.3" fill="#c4284a" textLength="71.2" lengthAdjust="spacingAndGlyphs">Higher S100A8/A9, n = 23</text>
<text stroke="#333" stroke-width="0.12" x="478.8" y="290.16" font-size="6.0" textLength="22.5" lengthAdjust="spacingAndGlyphs"><tspan font-style="italic">P</tspan> &lt; .001</text>
<text x="7.1" y="341.7" font-size="10.5" fill="#000" font-weight="bold" stroke="#000" stroke-width="0.35">F</text>
<path d="M38,350.9V435.4H125" fill="none" stroke="#231f20" stroke-width="1.1"/>
<line x1="35.2" y1="352.5" x2="38" y2="352.5" stroke="#231f20" stroke-width="0.9"/>
<text stroke="#333" stroke-width="0.12" x="32.2" y="354.5" font-size="5.8" text-anchor="end" textLength="11.2" lengthAdjust="spacingAndGlyphs">1.00</text>
<line x1="35.2" y1="372.25" x2="38" y2="372.25" stroke="#231f20" stroke-width="0.9"/>
<text stroke="#333" stroke-width="0.12" x="32.2" y="374.25" font-size="5.8" text-anchor="end" textLength="11.2" lengthAdjust="spacingAndGlyphs">0.75</text>
<line x1="35.2" y1="392" x2="38" y2="392" stroke="#231f20" stroke-width="0.9"/>
<text stroke="#333" stroke-width="0.12" x="32.2" y="394" font-size="5.8" text-anchor="end" textLength="11.2" lengthAdjust="spacingAndGlyphs">0.50</text>
<line x1="35.2" y1="411.75" x2="38" y2="411.75" stroke="#231f20" stroke-width="0.9"/>
<text stroke="#333" stroke-width="0.12" x="32.2" y="413.75" font-size="5.8" text-anchor="end" textLength="11.2" lengthAdjust="spacingAndGlyphs">0.25</text>
<line x1="35.2" y1="431.5" x2="38" y2="431.5" stroke="#231f20" stroke-width="0.9"/>
<text stroke="#333" stroke-width="0.12" x="32.2" y="433.5" font-size="5.8" text-anchor="end" textLength="11.2" lengthAdjust="spacingAndGlyphs">0.00</text>
<line x1="41.9" y1="435.4" x2="41.9" y2="438.4" stroke="#231f20" stroke-width="0.9"/>
<text stroke="#333" stroke-width="0.12" x="41.9" y="445.7" font-size="5.8" text-anchor="middle">0</text>
<line x1="61.82" y1="435.4" x2="61.82" y2="438.4" stroke="#231f20" stroke-width="0.9"/>
<text stroke="#333" stroke-width="0.12" x="61.82" y="445.7" font-size="5.8" text-anchor="middle">40</text>
<line x1="81.74" y1="435.4" x2="81.74" y2="438.4" stroke="#231f20" stroke-width="0.9"/>
<text stroke="#333" stroke-width="0.12" x="81.74" y="445.7" font-size="5.8" text-anchor="middle">80</text>
<line x1="101.66" y1="435.4" x2="101.66" y2="438.4" stroke="#231f20" stroke-width="0.9"/>
<text stroke="#333" stroke-width="0.12" x="101.66" y="445.7" font-size="5.8" text-anchor="middle">120</text>
<line x1="121.58" y1="435.4" x2="121.58" y2="438.4" stroke="#231f20" stroke-width="0.9"/>
<text stroke="#333" stroke-width="0.12" x="121.58" y="445.7" font-size="5.8" text-anchor="middle">160</text>
<text stroke="#333" stroke-width="0.12" x="81.1" y="456.5" font-size="5.8" text-anchor="middle" textLength="63" lengthAdjust="spacingAndGlyphs">Time from diagnosis (months)</text>
<text stroke="#333" stroke-width="0.12" x="15.7" y="393.2" font-size="5.3" text-anchor="middle" textLength="33" lengthAdjust="spacingAndGlyphs" transform="rotate(-90 15.7 393.2)">Overall survival</text>
<path d="M41.9,352.5H42.4V360.4H43.14V363.56H44.94V371.46H47.48V380.15H50.07V392H51.81V400.69H53.55V410.96H56.19V418.46H61.82V425.02H71.03" fill="none" stroke="#c4284a" stroke-width="1.15" stroke-dasharray="3 1.6"/>
<line x1="65.31" y1="423.32" x2="65.31" y2="426.72" stroke="#c4284a" stroke-width="0.75"/>
<line x1="68.79" y1="423.32" x2="68.79" y2="426.72" stroke="#c4284a" stroke-width="0.75"/>
<path d="M41.9,352.5H42.58V353.82H43.26V355.13H43.94V356.45H44.39V357.97H44.84V359.49H45.29V361.01H45.73V362.53H46.61V364.24H47.49V365.96H48.37V367.67H49.02V369.41H49.67V371.14H50.32V372.88H50.96V374.62H51.82V376.36H52.68V378.1H53.54V379.83H54.4V381.57H55.58V383.31H56.76V385.05H57.94V386.79H59.68V388.23H61.42V389.68H63.16V391.13H64.88V392.87H66.6V394.61H70.98V396.35H82.34V398.95H85.87V400.69H87.57V403.06H125.07" fill="none" stroke="#24426a" stroke-width="1.15"/>
<line x1="44.39" y1="356.17" x2="44.39" y2="359.77" stroke="#24426a" stroke-width="0.8"/>
<line x1="46.38" y1="360.73" x2="46.38" y2="364.33" stroke="#24426a" stroke-width="0.8"/>
<line x1="49.37" y1="367.61" x2="49.37" y2="371.21" stroke="#24426a" stroke-width="0.8"/>
<line x1="51.86" y1="374.56" x2="51.86" y2="378.16" stroke="#24426a" stroke-width="0.8"/>
<line x1="55.84" y1="381.51" x2="55.84" y2="385.11" stroke="#24426a" stroke-width="0.8"/>
<line x1="59.33" y1="384.99" x2="59.33" y2="388.59" stroke="#24426a" stroke-width="0.8"/>
<line x1="61.82" y1="387.88" x2="61.82" y2="391.48" stroke="#24426a" stroke-width="0.8"/>
<line x1="64.31" y1="389.33" x2="64.31" y2="392.93" stroke="#24426a" stroke-width="0.8"/>
<line x1="67.8" y1="392.81" x2="67.8" y2="396.41" stroke="#24426a" stroke-width="0.8"/>
<line x1="71.78" y1="394.55" x2="71.78" y2="398.15" stroke="#24426a" stroke-width="0.8"/>
<line x1="74.27" y1="394.55" x2="74.27" y2="398.15" stroke="#24426a" stroke-width="0.8"/>
<line x1="76.76" y1="394.55" x2="76.76" y2="398.15" stroke="#24426a" stroke-width="0.8"/>
<line x1="79.25" y1="394.55" x2="79.25" y2="398.15" stroke="#24426a" stroke-width="0.8"/>
<line x1="83.73" y1="397.15" x2="83.73" y2="400.75" stroke="#24426a" stroke-width="0.8"/>
<line x1="89.21" y1="401.26" x2="89.21" y2="404.86" stroke="#24426a" stroke-width="0.8"/>
<line x1="91.7" y1="401.26" x2="91.7" y2="404.86" stroke="#24426a" stroke-width="0.8"/>
<line x1="96.68" y1="401.26" x2="96.68" y2="404.86" stroke="#24426a" stroke-width="0.8"/>
<line x1="100.66" y1="401.26" x2="100.66" y2="404.86" stroke="#24426a" stroke-width="0.8"/>
<line x1="104.15" y1="401.26" x2="104.15" y2="404.86" stroke="#24426a" stroke-width="0.8"/>
<line x1="109.13" y1="401.26" x2="109.13" y2="404.86" stroke="#24426a" stroke-width="0.8"/>
<line x1="114.11" y1="401.26" x2="114.11" y2="404.86" stroke="#24426a" stroke-width="0.8"/>
<line x1="119.09" y1="401.26" x2="119.09" y2="404.86" stroke="#24426a" stroke-width="0.8"/>
<line x1="124.07" y1="401.26" x2="124.07" y2="404.86" stroke="#24426a" stroke-width="0.8"/>
<text stroke="#333" stroke-width="0.12" x="87.9" y="356.22" font-size="5.9" textLength="36.7" lengthAdjust="spacingAndGlyphs">ICC lower-risk</text>
<text stroke="#2f5a8f" stroke-width="0.12" x="53.5" y="371.87" font-size="6.3" fill="#2f5a8f" textLength="69" lengthAdjust="spacingAndGlyphs">Lower S100A8/A9, n = 87</text>
<text stroke="#333" stroke-width="0.12" x="102.6" y="423.46" font-size="6.0" textLength="21.9" lengthAdjust="spacingAndGlyphs"><tspan font-style="italic">P</tspan> &lt; .001</text>
<text stroke="#c4284a" stroke-width="0.12" x="43" y="432.57" font-size="6.3" fill="#c4284a" textLength="63" lengthAdjust="spacingAndGlyphs">Higher S100A8/A9, n = 8</text>
<path d="M161.25,350.7V435.3H248" fill="none" stroke="#231f20" stroke-width="1.1"/>
<line x1="158.45" y1="352.3" x2="161.25" y2="352.3" stroke="#231f20" stroke-width="0.9"/>
<text stroke="#333" stroke-width="0.12" x="155.45" y="354.3" font-size="5.8" text-anchor="end" textLength="11.2" lengthAdjust="spacingAndGlyphs">1.00</text>
<line x1="158.45" y1="372.1" x2="161.25" y2="372.1" stroke="#231f20" stroke-width="0.9"/>
<text stroke="#333" stroke-width="0.12" x="155.45" y="374.1" font-size="5.8" text-anchor="end" textLength="11.2" lengthAdjust="spacingAndGlyphs">0.75</text>
<line x1="158.45" y1="391.9" x2="161.25" y2="391.9" stroke="#231f20" stroke-width="0.9"/>
<text stroke="#333" stroke-width="0.12" x="155.45" y="393.9" font-size="5.8" text-anchor="end" textLength="11.2" lengthAdjust="spacingAndGlyphs">0.50</text>
<line x1="158.45" y1="411.7" x2="161.25" y2="411.7" stroke="#231f20" stroke-width="0.9"/>
<text stroke="#333" stroke-width="0.12" x="155.45" y="413.7" font-size="5.8" text-anchor="end" textLength="11.2" lengthAdjust="spacingAndGlyphs">0.25</text>
<line x1="158.45" y1="431.5" x2="161.25" y2="431.5" stroke="#231f20" stroke-width="0.9"/>
<text stroke="#333" stroke-width="0.12" x="155.45" y="433.5" font-size="5.8" text-anchor="end" textLength="11.2" lengthAdjust="spacingAndGlyphs">0.00</text>
<line x1="165.1" y1="435.3" x2="165.1" y2="438.3" stroke="#231f20" stroke-width="0.9"/>
<text stroke="#333" stroke-width="0.12" x="165.1" y="445.7" font-size="5.8" text-anchor="middle">0</text>
<line x1="184.92" y1="435.3" x2="184.92" y2="438.3" stroke="#231f20" stroke-width="0.9"/>
<text stroke="#333" stroke-width="0.12" x="184.92" y="445.7" font-size="5.8" text-anchor="middle">25</text>
<line x1="204.75" y1="435.3" x2="204.75" y2="438.3" stroke="#231f20" stroke-width="0.9"/>
<text stroke="#333" stroke-width="0.12" x="204.75" y="445.7" font-size="5.8" text-anchor="middle">50</text>
<line x1="224.57" y1="435.3" x2="224.57" y2="438.3" stroke="#231f20" stroke-width="0.9"/>
<text stroke="#333" stroke-width="0.12" x="224.57" y="445.7" font-size="5.8" text-anchor="middle">75</text>
<line x1="244.4" y1="435.3" x2="244.4" y2="438.3" stroke="#231f20" stroke-width="0.9"/>
<text stroke="#333" stroke-width="0.12" x="244.4" y="445.7" font-size="5.8" text-anchor="middle">100</text>
<text stroke="#333" stroke-width="0.12" x="204.22" y="456.5" font-size="5.8" text-anchor="middle" textLength="63" lengthAdjust="spacingAndGlyphs">Time from diagnosis (months)</text>
<text stroke="#333" stroke-width="0.12" x="137.4" y="393.7" font-size="5.3" text-anchor="middle" textLength="33" lengthAdjust="spacingAndGlyphs" transform="rotate(-90 137.4 393.7)">Overall survival</text>
<path d="M165.1,352.3H165.5V357.84H166.84V360.7H168.59V368.93H171.13V376.06H173.74V386.67H177.23V393.64H178.98V400.61H181.52V406.71H185.88V409.32H187.62V419.62H196.34V424.77H196.82" fill="none" stroke="#c4284a" stroke-width="1.15" stroke-dasharray="3 1.6"/>
<line x1="179.37" y1="398.91" x2="179.37" y2="402.31" stroke="#c4284a" stroke-width="0.75"/>
<line x1="184.13" y1="405.01" x2="184.13" y2="408.41" stroke="#c4284a" stroke-width="0.75"/>
<path d="M165.1,352.3H165.97V353.88H166.84V355.47H167.43V357.21H168.01V358.95H168.59V360.7H169.01V362.42H169.42V364.14H169.84V365.86H170.25V367.59H171.56V368.85H172.87V370.12H174.01V371.57H175.14V373.02H176.28V374.48H176.72V376.22H177.15V377.96H177.59V379.7H178.03V381.45H179.19V383.19H180.35V384.93H181.52V386.67H183.26V388.42H185V390.16H185.88V391.9H186.75V393.64H187.62V395.38H188.89V397.09H190.16V398.79H191.9V400.53H193.65V402.28H195.39V403.58H197.14V404.89H203.16V405.76H204.91V410.12H209.19V411.7H224.26V415.98H238.14V421.2H248.37" fill="none" stroke="#24426a" stroke-width="1.15"/>
<line x1="167.48" y1="355.41" x2="167.48" y2="359.01" stroke="#24426a" stroke-width="0.8"/>
<line x1="171.44" y1="365.79" x2="171.44" y2="369.39" stroke="#24426a" stroke-width="0.8"/>
<line x1="174.62" y1="369.77" x2="174.62" y2="373.37" stroke="#24426a" stroke-width="0.8"/>
<line x1="179.37" y1="381.39" x2="179.37" y2="384.99" stroke="#24426a" stroke-width="0.8"/>
<line x1="182.55" y1="384.87" x2="182.55" y2="388.47" stroke="#24426a" stroke-width="0.8"/>
<line x1="186.51" y1="390.1" x2="186.51" y2="393.7" stroke="#24426a" stroke-width="0.8"/>
<line x1="191.27" y1="396.99" x2="191.27" y2="400.59" stroke="#24426a" stroke-width="0.8"/>
<line x1="195.23" y1="400.48" x2="195.23" y2="404.08" stroke="#24426a" stroke-width="0.8"/>
<line x1="200.78" y1="403.09" x2="200.78" y2="406.69" stroke="#24426a" stroke-width="0.8"/>
<line x1="203.16" y1="403.96" x2="203.16" y2="407.56" stroke="#24426a" stroke-width="0.8"/>
<line x1="212.68" y1="409.9" x2="212.68" y2="413.5" stroke="#24426a" stroke-width="0.8"/>
<line x1="220.61" y1="409.9" x2="220.61" y2="413.5" stroke="#24426a" stroke-width="0.8"/>
<line x1="232.5" y1="414.18" x2="232.5" y2="417.78" stroke="#24426a" stroke-width="0.8"/>
<line x1="240.44" y1="419.4" x2="240.44" y2="423" stroke="#24426a" stroke-width="0.8"/>
<line x1="245.99" y1="419.4" x2="245.99" y2="423" stroke="#24426a" stroke-width="0.8"/>
<text stroke="#333" stroke-width="0.12" x="209.8" y="356.02" font-size="5.9" textLength="38.4" lengthAdjust="spacingAndGlyphs">ICC higher-risk</text>
<text stroke="#2f5a8f" stroke-width="0.12" x="174.7" y="368.17" font-size="6.3" fill="#2f5a8f" textLength="72.5" lengthAdjust="spacingAndGlyphs">Lower S100A8/A9, n = 105</text>
<text stroke="#333" stroke-width="0.12" x="225.7" y="412.06" font-size="6.0" textLength="22.5" lengthAdjust="spacingAndGlyphs"><tspan font-style="italic">P</tspan> = .029</text>
<text stroke="#c4284a" stroke-width="0.12" x="164.3" y="432.57" font-size="6.3" fill="#c4284a" textLength="70.1" lengthAdjust="spacingAndGlyphs">Higher S100A8/A9, n = 15</text>
<text x="259.4" y="341.8" font-size="10.5" fill="#000" font-weight="bold" stroke="#000" stroke-width="0.35">G</text>
<path d="M290.3,347.5V435.3H381" fill="none" stroke="#231f20" stroke-width="1.1"/>
<line x1="287.5" y1="349.1" x2="290.3" y2="349.1" stroke="#231f20" stroke-width="0.9"/>
<text stroke="#333" stroke-width="0.12" x="284.5" y="351.1" font-size="5.8" text-anchor="end" textLength="11.2" lengthAdjust="spacingAndGlyphs">1.00</text>
<line x1="287.5" y1="369.73" x2="290.3" y2="369.73" stroke="#231f20" stroke-width="0.9"/>
<text stroke="#333" stroke-width="0.12" x="284.5" y="371.73" font-size="5.8" text-anchor="end" textLength="11.2" lengthAdjust="spacingAndGlyphs">0.75</text>
<line x1="287.5" y1="390.35" x2="290.3" y2="390.35" stroke="#231f20" stroke-width="0.9"/>
<text stroke="#333" stroke-width="0.12" x="284.5" y="392.35" font-size="5.8" text-anchor="end" textLength="11.2" lengthAdjust="spacingAndGlyphs">0.50</text>
<line x1="287.5" y1="410.98" x2="290.3" y2="410.98" stroke="#231f20" stroke-width="0.9"/>
<text stroke="#333" stroke-width="0.12" x="284.5" y="412.98" font-size="5.8" text-anchor="end" textLength="11.2" lengthAdjust="spacingAndGlyphs">0.25</text>
<line x1="287.5" y1="431.6" x2="290.3" y2="431.6" stroke="#231f20" stroke-width="0.9"/>
<text stroke="#333" stroke-width="0.12" x="284.5" y="433.6" font-size="5.8" text-anchor="end" textLength="11.2" lengthAdjust="spacingAndGlyphs">0.00</text>
<line x1="294.1" y1="435.3" x2="294.1" y2="438.3" stroke="#231f20" stroke-width="0.9"/>
<text stroke="#333" stroke-width="0.12" x="294.1" y="445.7" font-size="5.8" text-anchor="middle">0</text>
<line x1="314.94" y1="435.3" x2="314.94" y2="438.3" stroke="#231f20" stroke-width="0.9"/>
<text stroke="#333" stroke-width="0.12" x="314.94" y="445.7" font-size="5.8" text-anchor="middle">40</text>
<line x1="335.78" y1="435.3" x2="335.78" y2="438.3" stroke="#231f20" stroke-width="0.9"/>
<text stroke="#333" stroke-width="0.12" x="335.78" y="445.7" font-size="5.8" text-anchor="middle">80</text>
<line x1="356.62" y1="435.3" x2="356.62" y2="438.3" stroke="#231f20" stroke-width="0.9"/>
<text stroke="#333" stroke-width="0.12" x="356.62" y="445.7" font-size="5.8" text-anchor="middle">120</text>
<line x1="377.46" y1="435.3" x2="377.46" y2="438.3" stroke="#231f20" stroke-width="0.9"/>
<text stroke="#333" stroke-width="0.12" x="377.46" y="445.7" font-size="5.8" text-anchor="middle">160</text>
<text stroke="#333" stroke-width="0.12" x="333.55" y="456.5" font-size="5.8" text-anchor="middle" textLength="63" lengthAdjust="spacingAndGlyphs">Time from diagnosis (months)</text>
<text stroke="#333" stroke-width="0.12" x="268.1" y="392.65" font-size="5.3" text-anchor="middle" textLength="33" lengthAdjust="spacingAndGlyphs" transform="rotate(-90 268.1 392.65)">Overall survival</text>
<path d="M294.1,349.1H294.62V354.05H296.86V358.67H298.74V369.73H299.83V375.5H301.5V386.39H303.37V395.63H305.2V406.77H306.14V418.81H325.57" fill="none" stroke="#c4284a" stroke-width="1.15" stroke-dasharray="3 1.6"/>
<line x1="303.48" y1="393.93" x2="303.48" y2="397.33" stroke="#c4284a" stroke-width="0.75"/>
<line x1="324.32" y1="417.11" x2="324.32" y2="420.51" stroke="#c4284a" stroke-width="0.75"/>
<path d="M294.1,349.1H296.42V350.21H298.74V351.33H299.66V352.54H300.58V353.75H301.5V354.96H302.2V356.34H302.9V357.72H303.61V359.1H304.31V360.49H305.24V361.64H306.16V362.8H307.09V363.95H308.01V365.11H308.94V366.26H309.86V367.42H310.79V368.57H311.71V369.73H313.56V371.13H315.41V372.53H317.26V373.85H319.11V375.17H320.51V376.57H321.92V377.98H323.8V379.79H333.07V382.6H342.34V386.64H381.11" fill="none" stroke="#24426a" stroke-width="1.15"/>
<line x1="296.18" y1="347.3" x2="296.18" y2="350.9" stroke="#24426a" stroke-width="0.8"/>
<line x1="298.27" y1="348.41" x2="298.27" y2="352.01" stroke="#24426a" stroke-width="0.8"/>
<line x1="300.35" y1="350.74" x2="300.35" y2="354.34" stroke="#24426a" stroke-width="0.8"/>
<line x1="302.44" y1="354.54" x2="302.44" y2="358.14" stroke="#24426a" stroke-width="0.8"/>
<line x1="304.52" y1="358.69" x2="304.52" y2="362.29" stroke="#24426a" stroke-width="0.8"/>
<line x1="307.12" y1="362.15" x2="307.12" y2="365.75" stroke="#24426a" stroke-width="0.8"/>
<line x1="309.73" y1="364.46" x2="309.73" y2="368.06" stroke="#24426a" stroke-width="0.8"/>
<line x1="312.34" y1="367.93" x2="312.34" y2="371.53" stroke="#24426a" stroke-width="0.8"/>
<line x1="313.9" y1="369.33" x2="313.9" y2="372.93" stroke="#24426a" stroke-width="0.8"/>
<line x1="315.98" y1="370.73" x2="315.98" y2="374.33" stroke="#24426a" stroke-width="0.8"/>
<line x1="318.07" y1="372.05" x2="318.07" y2="375.65" stroke="#24426a" stroke-width="0.8"/>
<line x1="320.15" y1="373.37" x2="320.15" y2="376.97" stroke="#24426a" stroke-width="0.8"/>
<line x1="322.75" y1="376.18" x2="322.75" y2="379.78" stroke="#24426a" stroke-width="0.8"/>
<line x1="325.36" y1="377.99" x2="325.36" y2="381.59" stroke="#24426a" stroke-width="0.8"/>
<line x1="327.97" y1="377.99" x2="327.97" y2="381.59" stroke="#24426a" stroke-width="0.8"/>
<line x1="330.57" y1="377.99" x2="330.57" y2="381.59" stroke="#24426a" stroke-width="0.8"/>
<line x1="335.78" y1="380.8" x2="335.78" y2="384.4" stroke="#24426a" stroke-width="0.8"/>
<line x1="339.95" y1="380.8" x2="339.95" y2="384.4" stroke="#24426a" stroke-width="0.8"/>
<line x1="343.6" y1="384.84" x2="343.6" y2="388.44" stroke="#24426a" stroke-width="0.8"/>
<line x1="346.2" y1="384.84" x2="346.2" y2="388.44" stroke="#24426a" stroke-width="0.8"/>
<line x1="348.81" y1="384.84" x2="348.81" y2="388.44" stroke="#24426a" stroke-width="0.8"/>
<line x1="351.41" y1="384.84" x2="351.41" y2="388.44" stroke="#24426a" stroke-width="0.8"/>
<line x1="354.02" y1="384.84" x2="354.02" y2="388.44" stroke="#24426a" stroke-width="0.8"/>
<line x1="356.62" y1="384.84" x2="356.62" y2="388.44" stroke="#24426a" stroke-width="0.8"/>
<line x1="359.23" y1="384.84" x2="359.23" y2="388.44" stroke="#24426a" stroke-width="0.8"/>
<line x1="361.83" y1="384.84" x2="361.83" y2="388.44" stroke="#24426a" stroke-width="0.8"/>
<line x1="367.04" y1="384.84" x2="367.04" y2="388.44" stroke="#24426a" stroke-width="0.8"/>
<line x1="372.25" y1="384.84" x2="372.25" y2="388.44" stroke="#24426a" stroke-width="0.8"/>
<line x1="377.46" y1="384.84" x2="377.46" y2="388.44" stroke="#24426a" stroke-width="0.8"/>
<text stroke="#333" stroke-width="0.12" x="333.2" y="352.42" font-size="5.9" textLength="45.3" lengthAdjust="spacingAndGlyphs">IPSS-R lower-risk</text>
<text stroke="#2f5a8f" stroke-width="0.12" x="311.1" y="361.97" font-size="6.3" fill="#2f5a8f" textLength="71.4" lengthAdjust="spacingAndGlyphs">Lower S100A8/A9, n = 111</text>
<text stroke="#333" stroke-width="0.12" x="354.1" y="410.66" font-size="6.0" textLength="22.5" lengthAdjust="spacingAndGlyphs"><tspan font-style="italic">P</tspan> &lt; .001</text>
<text stroke="#c4284a" stroke-width="0.12" x="291.7" y="427.87" font-size="6.3" fill="#c4284a" textLength="70.1" lengthAdjust="spacingAndGlyphs">Higher S100A8/A9, n = 11</text>
<path d="M417.5,347.7V435.3H510.4" fill="none" stroke="#231f20" stroke-width="1.1"/>
<line x1="414.7" y1="349.3" x2="417.5" y2="349.3" stroke="#231f20" stroke-width="0.9"/>
<text stroke="#333" stroke-width="0.12" x="411.7" y="351.3" font-size="5.8" text-anchor="end" textLength="11.2" lengthAdjust="spacingAndGlyphs">1.00</text>
<line x1="414.7" y1="369.85" x2="417.5" y2="369.85" stroke="#231f20" stroke-width="0.9"/>
<text stroke="#333" stroke-width="0.12" x="411.7" y="371.85" font-size="5.8" text-anchor="end" textLength="11.2" lengthAdjust="spacingAndGlyphs">0.75</text>
<line x1="414.7" y1="390.4" x2="417.5" y2="390.4" stroke="#231f20" stroke-width="0.9"/>
<text stroke="#333" stroke-width="0.12" x="411.7" y="392.4" font-size="5.8" text-anchor="end" textLength="11.2" lengthAdjust="spacingAndGlyphs">0.50</text>
<line x1="414.7" y1="410.95" x2="417.5" y2="410.95" stroke="#231f20" stroke-width="0.9"/>
<text stroke="#333" stroke-width="0.12" x="411.7" y="412.95" font-size="5.8" text-anchor="end" textLength="11.2" lengthAdjust="spacingAndGlyphs">0.25</text>
<line x1="414.7" y1="431.5" x2="417.5" y2="431.5" stroke="#231f20" stroke-width="0.9"/>
<text stroke="#333" stroke-width="0.12" x="411.7" y="433.5" font-size="5.8" text-anchor="end" textLength="11.2" lengthAdjust="spacingAndGlyphs">0.00</text>
<line x1="421.4" y1="435.3" x2="421.4" y2="438.3" stroke="#231f20" stroke-width="0.9"/>
<text stroke="#333" stroke-width="0.12" x="421.4" y="445.7" font-size="5.8" text-anchor="middle">0</text>
<line x1="449.25" y1="435.3" x2="449.25" y2="438.3" stroke="#231f20" stroke-width="0.9"/>
<text stroke="#333" stroke-width="0.12" x="449.25" y="445.7" font-size="5.8" text-anchor="middle">50</text>
<line x1="477.1" y1="435.3" x2="477.1" y2="438.3" stroke="#231f20" stroke-width="0.9"/>
<text stroke="#333" stroke-width="0.12" x="477.1" y="445.7" font-size="5.8" text-anchor="middle">100</text>
<line x1="504.95" y1="435.3" x2="504.95" y2="438.3" stroke="#231f20" stroke-width="0.9"/>
<text stroke="#333" stroke-width="0.12" x="504.95" y="445.7" font-size="5.8" text-anchor="middle">150</text>
<text stroke="#333" stroke-width="0.12" x="462.3" y="456.5" font-size="5.8" text-anchor="middle" textLength="63" lengthAdjust="spacingAndGlyphs">Time from diagnosis (months)</text>
<text stroke="#333" stroke-width="0.12" x="394.7" y="392.4" font-size="5.3" text-anchor="middle" textLength="33" lengthAdjust="spacingAndGlyphs" transform="rotate(-90 394.7 392.4)">Overall survival</text>
<path d="M421.4,349.3H422.68V363.03H423.68V372.64H424.63V396.56H433.26V408.4H436.16V419.99H443.29V425.75H443.68" fill="none" stroke="#c4284a" stroke-width="1.15" stroke-dasharray="3 1.6"/>
<line x1="430.87" y1="394.87" x2="430.87" y2="398.26" stroke="#c4284a" stroke-width="0.75"/>
<path d="M421.4,349.3H421.83V352.04H422.25V354.78H422.68V357.52H423.17V359.88H423.66V362.25H424.14V364.61H424.63V366.97H425.26V369.52H425.89V372.07H426.52V374.62H427.5V376.55H428.47V378.48H429.44V380.73H430.4V382.97H431.37V385.22H432.34V387.5H433.3V389.77H434.27V392.04H434.9V394.62H435.53V397.2H436.16V399.77H437.61V401.66H439.06V403.55H440.98V405.48H442.9V407.42H443.87V409.8H444.85V412.18H446.58V414.61H448.3V417.03H467.52V424.35H496.76" fill="none" stroke="#24426a" stroke-width="1.15"/>
<line x1="426.97" y1="372.82" x2="426.97" y2="376.42" stroke="#24426a" stroke-width="0.8"/>
<line x1="429.75" y1="378.93" x2="429.75" y2="382.53" stroke="#24426a" stroke-width="0.8"/>
<line x1="433.65" y1="387.97" x2="433.65" y2="391.57" stroke="#24426a" stroke-width="0.8"/>
<line x1="437" y1="397.97" x2="437" y2="401.57" stroke="#24426a" stroke-width="0.8"/>
<line x1="440.89" y1="401.75" x2="440.89" y2="405.35" stroke="#24426a" stroke-width="0.8"/>
<line x1="443.68" y1="405.62" x2="443.68" y2="409.22" stroke="#24426a" stroke-width="0.8"/>
<line x1="446.46" y1="410.38" x2="446.46" y2="413.98" stroke="#24426a" stroke-width="0.8"/>
<line x1="492.7" y1="422.55" x2="492.7" y2="426.15" stroke="#24426a" stroke-width="0.8"/>
<text stroke="#333" stroke-width="0.12" x="458.8" y="353.72" font-size="5.9" textLength="48.1" lengthAdjust="spacingAndGlyphs">IPSS-R higher-risk</text>
<text stroke="#2f5a8f" stroke-width="0.12" x="439.6" y="391.97" font-size="6.3" fill="#2f5a8f" textLength="69.6" lengthAdjust="spacingAndGlyphs">Lower S100A8/A9, n = 79</text>
<text stroke="#333" stroke-width="0.12" x="483.3" y="411.46" font-size="6.0" textLength="20.2" lengthAdjust="spacingAndGlyphs"><tspan font-style="italic">P</tspan> = .08</text>
<text stroke="#c4284a" stroke-width="0.12" x="419.8" y="432.37" font-size="6.3" fill="#c4284a" textLength="70.2" lengthAdjust="spacingAndGlyphs">Higher S100A8/A9, n = 10</text>
<text x="7" y="481.1" font-size="10.5" fill="#000" font-weight="bold" stroke="#000" stroke-width="0.35">H</text>
<path d="M39.6,496.8V564.8H124.2" fill="none" stroke="#231f20" stroke-width="1.1"/>
<line x1="37" y1="556.8" x2="39.6" y2="556.8" stroke="#231f20" stroke-width="0.9"/>
<line x1="37" y1="545.2" x2="39.6" y2="545.2" stroke="#231f20" stroke-width="0.9"/>
<line x1="37" y1="533.6" x2="39.6" y2="533.6" stroke="#231f20" stroke-width="0.9"/>
<line x1="37" y1="522" x2="39.6" y2="522" stroke="#231f20" stroke-width="0.9"/>
<line x1="37" y1="510.4" x2="39.6" y2="510.4" stroke="#231f20" stroke-width="0.9"/>
<line x1="37" y1="498.8" x2="39.6" y2="498.8" stroke="#231f20" stroke-width="0.9"/>
<text stroke="#333" stroke-width="0.12" x="33.8" y="558.85" font-size="5.8" text-anchor="end">0.5</text>
<text stroke="#333" stroke-width="0.12" x="33.8" y="535.65" font-size="5.8" text-anchor="end">0.7</text>
<text stroke="#333" stroke-width="0.12" x="33.8" y="512.45" font-size="5.8" text-anchor="end">0.9</text>
<line x1="54.5" y1="564.8" x2="54.5" y2="567.6" stroke="#231f20" stroke-width="0.9"/>
<text stroke="#333" stroke-width="0.12" x="54.5" y="576.5" font-size="5.8" text-anchor="middle">10</text>
<line x1="74.8" y1="564.8" x2="74.8" y2="567.6" stroke="#231f20" stroke-width="0.9"/>
<text stroke="#333" stroke-width="0.12" x="74.8" y="576.5" font-size="5.8" text-anchor="middle">20</text>
<line x1="95.1" y1="564.8" x2="95.1" y2="567.6" stroke="#231f20" stroke-width="0.9"/>
<text stroke="#333" stroke-width="0.12" x="95.1" y="576.5" font-size="5.8" text-anchor="middle">30</text>
<line x1="115.4" y1="564.8" x2="115.4" y2="567.6" stroke="#231f20" stroke-width="0.9"/>
<text stroke="#333" stroke-width="0.12" x="115.4" y="576.5" font-size="5.8" text-anchor="middle">40</text>
<text stroke="#333" stroke-width="0.12" x="81.9" y="586.6" font-size="6.0" text-anchor="middle" textLength="29.2" lengthAdjust="spacingAndGlyphs">Months (LFS)</text>
<text stroke="#333" stroke-width="0.12" x="19.2" y="531" font-size="5.4" text-anchor="middle" textLength="37" lengthAdjust="spacingAndGlyphs" transform="rotate(-90 19.2 531)">Area under curve</text>
<line x1="40.2" y1="556.8" x2="124.2" y2="556.8" stroke="#2a2a2a" stroke-width="1.3" stroke-dasharray="3.2 2.1"/>
<path d="M42.3,532.7 L46.7,533 L55.3,530.6 L64,530.1 L76,525.8 L89.9,523.2 L105,520.5 L121,517.5" fill="none" stroke="#c8284a" stroke-width="1.1"/>
<path d="M42.3,542.2 L47.5,538.2 L76,537.9 L89.9,534.4 L105,531 L121,527.5" fill="none" stroke="#3a6ea5" stroke-width="1.1"/>
<text stroke="#c8284a" stroke-width="0.12" x="44.9" y="520.66" font-size="6.0" fill="#c8284a" textLength="58" lengthAdjust="spacingAndGlyphs">IPSS-R + S100A8/A9</text>
<text stroke="#3a6ea5" stroke-width="0.12" x="92.5" y="543.46" font-size="6.0" fill="#3a6ea5" textLength="19.9" lengthAdjust="spacingAndGlyphs">IPSS-R</text>
<path d="M155.5,496.8V564.8H239.6" fill="none" stroke="#231f20" stroke-width="1.1"/>
<line x1="152.9" y1="556.8" x2="155.5" y2="556.8" stroke="#231f20" stroke-width="0.9"/>
<line x1="152.9" y1="545.2" x2="155.5" y2="545.2" stroke="#231f20" stroke-width="0.9"/>
<line x1="152.9" y1="533.6" x2="155.5" y2="533.6" stroke="#231f20" stroke-width="0.9"/>
<line x1="152.9" y1="522" x2="155.5" y2="522" stroke="#231f20" stroke-width="0.9"/>
<line x1="152.9" y1="510.4" x2="155.5" y2="510.4" stroke="#231f20" stroke-width="0.9"/>
<line x1="152.9" y1="498.8" x2="155.5" y2="498.8" stroke="#231f20" stroke-width="0.9"/>
<text stroke="#333" stroke-width="0.12" x="149.7" y="558.85" font-size="5.8" text-anchor="end">0.5</text>
<text stroke="#333" stroke-width="0.12" x="149.7" y="535.65" font-size="5.8" text-anchor="end">0.7</text>
<text stroke="#333" stroke-width="0.12" x="149.7" y="512.45" font-size="5.8" text-anchor="end">0.9</text>
<line x1="165.6" y1="564.8" x2="165.6" y2="567.6" stroke="#231f20" stroke-width="0.9"/>
<text stroke="#333" stroke-width="0.12" x="165.6" y="576.5" font-size="5.8" text-anchor="middle">10</text>
<line x1="185.7" y1="564.8" x2="185.7" y2="567.6" stroke="#231f20" stroke-width="0.9"/>
<text stroke="#333" stroke-width="0.12" x="185.7" y="576.5" font-size="5.8" text-anchor="middle">20</text>
<line x1="205.8" y1="564.8" x2="205.8" y2="567.6" stroke="#231f20" stroke-width="0.9"/>
<text stroke="#333" stroke-width="0.12" x="205.8" y="576.5" font-size="5.8" text-anchor="middle">30</text>
<line x1="225.9" y1="564.8" x2="225.9" y2="567.6" stroke="#231f20" stroke-width="0.9"/>
<text stroke="#333" stroke-width="0.12" x="225.9" y="576.5" font-size="5.8" text-anchor="middle">40</text>
<text stroke="#333" stroke-width="0.12" x="197.4" y="586.6" font-size="6.0" text-anchor="middle" textLength="26.8" lengthAdjust="spacingAndGlyphs">Months (OS)</text>
<text stroke="#333" stroke-width="0.12" x="136.2" y="531" font-size="5.4" text-anchor="middle" textLength="37" lengthAdjust="spacingAndGlyphs" transform="rotate(-90 136.2 531)">Area under curve</text>
<line x1="156.1" y1="556.8" x2="239.6" y2="556.8" stroke="#2a2a2a" stroke-width="1.3" stroke-dasharray="3.2 2.1"/>
<path d="M158.1,526.6 L167.6,521.4 L177.1,524.9 L186.6,524.6 L197,525.8 L209.1,523.7 L221.2,522 L236.8,520.6" fill="none" stroke="#c8284a" stroke-width="1.1"/>
<path d="M158.1,532.7 L167.6,529.2 L177.1,532.7 L186.6,535.6 L197,535.3 L209.1,532.7 L221.2,531 L236.8,529.2" fill="none" stroke="#3a6ea5" stroke-width="1.1"/>
<text stroke="#c8284a" stroke-width="0.12" x="165" y="518.36" font-size="6.0" fill="#c8284a" textLength="58.8" lengthAdjust="spacingAndGlyphs">IPSS-R + S100A8/A9</text>
<text stroke="#3a6ea5" stroke-width="0.12" x="217.4" y="539.16" font-size="6.0" fill="#3a6ea5" textLength="19.4" lengthAdjust="spacingAndGlyphs">IPSS-R</text>
<text x="251.5" y="481.1" font-size="10.5" fill="#000" font-weight="bold" stroke="#000" stroke-width="0.35">I</text>
<path d="M283,486.9V580.5H378" fill="none" stroke="#231f20" stroke-width="1.1"/>
<line x1="280.2" y1="488.5" x2="283" y2="488.5" stroke="#231f20" stroke-width="0.9"/>
<text stroke="#333" stroke-width="0.12" x="277.2" y="490.5" font-size="5.8" text-anchor="end" textLength="11.2" lengthAdjust="spacingAndGlyphs">1.00</text>
<line x1="280.2" y1="510.48" x2="283" y2="510.48" stroke="#231f20" stroke-width="0.9"/>
<text stroke="#333" stroke-width="0.12" x="277.2" y="512.48" font-size="5.8" text-anchor="end" textLength="11.2" lengthAdjust="spacingAndGlyphs">0.75</text>
<line x1="280.2" y1="532.45" x2="283" y2="532.45" stroke="#231f20" stroke-width="0.9"/>
<text stroke="#333" stroke-width="0.12" x="277.2" y="534.45" font-size="5.8" text-anchor="end" textLength="11.2" lengthAdjust="spacingAndGlyphs">0.50</text>
<line x1="280.2" y1="554.42" x2="283" y2="554.42" stroke="#231f20" stroke-width="0.9"/>
<text stroke="#333" stroke-width="0.12" x="277.2" y="556.42" font-size="5.8" text-anchor="end" textLength="11.2" lengthAdjust="spacingAndGlyphs">0.25</text>
<line x1="280.2" y1="576.4" x2="283" y2="576.4" stroke="#231f20" stroke-width="0.9"/>
<text stroke="#333" stroke-width="0.12" x="277.2" y="578.4" font-size="5.8" text-anchor="end" textLength="11.2" lengthAdjust="spacingAndGlyphs">0.00</text>
<line x1="287.3" y1="580.5" x2="287.3" y2="583.5" stroke="#231f20" stroke-width="0.9"/>
<text stroke="#333" stroke-width="0.12" x="287.3" y="591.8" font-size="5.8" text-anchor="middle">0</text>
<line x1="309.22" y1="580.5" x2="309.22" y2="583.5" stroke="#231f20" stroke-width="0.9"/>
<text stroke="#333" stroke-width="0.12" x="309.22" y="591.8" font-size="5.8" text-anchor="middle">40</text>
<line x1="331.14" y1="580.5" x2="331.14" y2="583.5" stroke="#231f20" stroke-width="0.9"/>
<text stroke="#333" stroke-width="0.12" x="331.14" y="591.8" font-size="5.8" text-anchor="middle">80</text>
<line x1="353.06" y1="580.5" x2="353.06" y2="583.5" stroke="#231f20" stroke-width="0.9"/>
<text stroke="#333" stroke-width="0.12" x="353.06" y="591.8" font-size="5.8" text-anchor="middle">120</text>
<line x1="374.98" y1="580.5" x2="374.98" y2="583.5" stroke="#231f20" stroke-width="0.9"/>
<text stroke="#333" stroke-width="0.12" x="374.98" y="591.8" font-size="5.8" text-anchor="middle">160</text>
<text stroke="#333" stroke-width="0.12" x="331.1" y="602" font-size="5.8" text-anchor="middle" textLength="63" lengthAdjust="spacingAndGlyphs">Time from diagnosis (months)</text>
<text stroke="#333" stroke-width="0.12" x="260.4" y="534.75" font-size="5.3" text-anchor="middle" textLength="33" lengthAdjust="spacingAndGlyphs" transform="rotate(-90 260.4 534.75)">Overall survival</text>
<path d="M287.3,488.5H288.23V498.08H290.15V510.48H292.01V532.98H292.94V538.6H299.96V557.68H319.36" fill="none" stroke="#c4284a" stroke-width="1.15" stroke-dasharray="3 1.6"/>
<line x1="295.52" y1="536.9" x2="295.52" y2="540.3" stroke="#c4284a" stroke-width="0.75"/>
<line x1="298.26" y1="536.9" x2="298.26" y2="540.3" stroke="#c4284a" stroke-width="0.75"/>
<line x1="317.44" y1="555.98" x2="317.44" y2="559.38" stroke="#c4284a" stroke-width="0.75"/>
<path d="M287.3,488.5H288.23V489.91H289.16V491.31H289.41V492.72H289.66V494.13H289.9V495.53H290.15V496.94H290.62V498.34H291.08V499.75H291.55V501.16H292.01V502.56H292.58V503.88H293.15V505.2H293.72V506.52H294.29V507.84H294.86V509.16H295.57V510.32H296.29V511.49H297V512.65H297.71V513.82H298.64V515.13H299.58V516.45H300.51V517.77H301.44V519.09H302.37V520.41H303.63V521.67H304.89V522.93H306.15V524.19H307.41V525.45H308.67V526.71H309.93V527.97H311.8V529.37H313.66V530.78H314.65V531.66H327.8V534.12H334.37V537.28H378.65" fill="none" stroke="#24426a" stroke-width="1.15"/>
<line x1="288.4" y1="488.11" x2="288.4" y2="491.71" stroke="#24426a" stroke-width="0.8"/>
<line x1="290.04" y1="493.73" x2="290.04" y2="497.33" stroke="#24426a" stroke-width="0.8"/>
<line x1="291.68" y1="499.36" x2="291.68" y2="502.96" stroke="#24426a" stroke-width="0.8"/>
<line x1="293.88" y1="504.72" x2="293.88" y2="508.32" stroke="#24426a" stroke-width="0.8"/>
<line x1="296.07" y1="508.52" x2="296.07" y2="512.12" stroke="#24426a" stroke-width="0.8"/>
<line x1="298.26" y1="512.02" x2="298.26" y2="515.62" stroke="#24426a" stroke-width="0.8"/>
<line x1="301" y1="515.97" x2="301" y2="519.57" stroke="#24426a" stroke-width="0.8"/>
<line x1="303.74" y1="519.87" x2="303.74" y2="523.47" stroke="#24426a" stroke-width="0.8"/>
<line x1="306.48" y1="522.39" x2="306.48" y2="525.99" stroke="#24426a" stroke-width="0.8"/>
<line x1="309.22" y1="524.91" x2="309.22" y2="528.51" stroke="#24426a" stroke-width="0.8"/>
<line x1="311.96" y1="527.57" x2="311.96" y2="531.17" stroke="#24426a" stroke-width="0.8"/>
<line x1="314.7" y1="529.86" x2="314.7" y2="533.46" stroke="#24426a" stroke-width="0.8"/>
<line x1="315.8" y1="529.86" x2="315.8" y2="533.46" stroke="#24426a" stroke-width="0.8"/>
<line x1="317.44" y1="529.86" x2="317.44" y2="533.46" stroke="#24426a" stroke-width="0.8"/>
<line x1="320.18" y1="529.86" x2="320.18" y2="533.46" stroke="#24426a" stroke-width="0.8"/>
<line x1="322.92" y1="529.86" x2="322.92" y2="533.46" stroke="#24426a" stroke-width="0.8"/>
<line x1="325.66" y1="529.86" x2="325.66" y2="533.46" stroke="#24426a" stroke-width="0.8"/>
<line x1="336.62" y1="535.48" x2="336.62" y2="539.08" stroke="#24426a" stroke-width="0.8"/>
<line x1="339.36" y1="535.48" x2="339.36" y2="539.08" stroke="#24426a" stroke-width="0.8"/>
<line x1="342.1" y1="535.48" x2="342.1" y2="539.08" stroke="#24426a" stroke-width="0.8"/>
<line x1="346.48" y1="535.48" x2="346.48" y2="539.08" stroke="#24426a" stroke-width="0.8"/>
<line x1="350.32" y1="535.48" x2="350.32" y2="539.08" stroke="#24426a" stroke-width="0.8"/>
<line x1="354.16" y1="535.48" x2="354.16" y2="539.08" stroke="#24426a" stroke-width="0.8"/>
<line x1="358.54" y1="535.48" x2="358.54" y2="539.08" stroke="#24426a" stroke-width="0.8"/>
<line x1="364.02" y1="535.48" x2="364.02" y2="539.08" stroke="#24426a" stroke-width="0.8"/>
<line x1="369.5" y1="535.48" x2="369.5" y2="539.08" stroke="#24426a" stroke-width="0.8"/>
<line x1="374.98" y1="535.48" x2="374.98" y2="539.08" stroke="#24426a" stroke-width="0.8"/>
<text stroke="#333" stroke-width="0.12" x="331.4" y="493.2" font-size="6.0" textLength="46.7" lengthAdjust="spacingAndGlyphs"><tspan font-style="italic">ASXL1</tspan> unmutated</text>
<text stroke="#2f5a8f" stroke-width="0.12" x="303.7" y="511.07" font-size="6.3" fill="#2f5a8f" textLength="71.6" lengthAdjust="spacingAndGlyphs">Lower S100A8/A9, n = 151</text>
<text stroke="#333" stroke-width="0.12" x="345.7" y="557.66" font-size="6.0" textLength="23.4" lengthAdjust="spacingAndGlyphs"><tspan font-style="italic">P</tspan> = .003</text>
<text stroke="#c4284a" stroke-width="0.12" x="287.3" y="576.97" font-size="6.3" fill="#c4284a" textLength="71" lengthAdjust="spacingAndGlyphs">Higher S100A8/A9, n = 13</text>
<path d="M412.1,486.8V580.5H505" fill="none" stroke="#231f20" stroke-width="1.1"/>
<line x1="409.3" y1="488.4" x2="412.1" y2="488.4" stroke="#231f20" stroke-width="0.9"/>
<text stroke="#333" stroke-width="0.12" x="406.3" y="490.4" font-size="5.8" text-anchor="end" textLength="11.2" lengthAdjust="spacingAndGlyphs">1.00</text>
<line x1="409.3" y1="510.4" x2="412.1" y2="510.4" stroke="#231f20" stroke-width="0.9"/>
<text stroke="#333" stroke-width="0.12" x="406.3" y="512.4" font-size="5.8" text-anchor="end" textLength="11.2" lengthAdjust="spacingAndGlyphs">0.75</text>
<line x1="409.3" y1="532.4" x2="412.1" y2="532.4" stroke="#231f20" stroke-width="0.9"/>
<text stroke="#333" stroke-width="0.12" x="406.3" y="534.4" font-size="5.8" text-anchor="end" textLength="11.2" lengthAdjust="spacingAndGlyphs">0.50</text>
<line x1="409.3" y1="554.4" x2="412.1" y2="554.4" stroke="#231f20" stroke-width="0.9"/>
<text stroke="#333" stroke-width="0.12" x="406.3" y="556.4" font-size="5.8" text-anchor="end" textLength="11.2" lengthAdjust="spacingAndGlyphs">0.25</text>
<line x1="409.3" y1="576.4" x2="412.1" y2="576.4" stroke="#231f20" stroke-width="0.9"/>
<text stroke="#333" stroke-width="0.12" x="406.3" y="578.4" font-size="5.8" text-anchor="end" textLength="11.2" lengthAdjust="spacingAndGlyphs">0.00</text>
<line x1="416.3" y1="580.5" x2="416.3" y2="583.5" stroke="#231f20" stroke-width="0.9"/>
<text stroke="#333" stroke-width="0.12" x="416.3" y="591.8" font-size="5.8" text-anchor="middle">0</text>
<line x1="438.3" y1="580.5" x2="438.3" y2="583.5" stroke="#231f20" stroke-width="0.9"/>
<text stroke="#333" stroke-width="0.12" x="438.3" y="591.8" font-size="5.8" text-anchor="middle">25</text>
<line x1="460.3" y1="580.5" x2="460.3" y2="583.5" stroke="#231f20" stroke-width="0.9"/>
<text stroke="#333" stroke-width="0.12" x="460.3" y="591.8" font-size="5.8" text-anchor="middle">50</text>
<line x1="482.3" y1="580.5" x2="482.3" y2="583.5" stroke="#231f20" stroke-width="0.9"/>
<text stroke="#333" stroke-width="0.12" x="482.3" y="591.8" font-size="5.8" text-anchor="middle">75</text>
<line x1="504.3" y1="580.5" x2="504.3" y2="583.5" stroke="#231f20" stroke-width="0.9"/>
<text stroke="#333" stroke-width="0.12" x="504.3" y="591.8" font-size="5.8" text-anchor="middle">100</text>
<text stroke="#333" stroke-width="0.12" x="459.8" y="602" font-size="5.8" text-anchor="middle" textLength="63" lengthAdjust="spacingAndGlyphs">Time from diagnosis (months)</text>
<text stroke="#333" stroke-width="0.12" x="390" y="534.6" font-size="5.3" text-anchor="middle" textLength="33" lengthAdjust="spacingAndGlyphs" transform="rotate(-90 390 534.6)">Overall survival</text>
<path d="M416.3,488.4H419.12V497.2H426.68V509.08H430.73V541.2H435.13V553.26H441.12V564.78H451.68" fill="none" stroke="#c4284a" stroke-width="1.15" stroke-dasharray="3 1.6"/>
<line x1="417.18" y1="486.7" x2="417.18" y2="490.1" stroke="#c4284a" stroke-width="0.75"/>
<line x1="431.26" y1="539.5" x2="431.26" y2="542.9" stroke="#c4284a" stroke-width="0.75"/>
<path d="M416.3,488.4H419.73V495H426.68V497.2H430.73V509.08H433.72V512.16H436.72V515.15H438.74V521.14H440.68V525.18H442.7V529.14H444.72V533.19H445.69V537.24H448.68V542.26H460.74V553.26H465.14V564.78H497.08V576.4H497.08" fill="none" stroke="#24426a" stroke-width="1.15"/>
<line x1="417.18" y1="486.6" x2="417.18" y2="490.2" stroke="#24426a" stroke-width="0.8"/>
<line x1="418.06" y1="486.6" x2="418.06" y2="490.2" stroke="#24426a" stroke-width="0.8"/>
<line x1="427.74" y1="495.4" x2="427.74" y2="499" stroke="#24426a" stroke-width="0.8"/>
<line x1="435.66" y1="510.36" x2="435.66" y2="513.96" stroke="#24426a" stroke-width="0.8"/>
<line x1="439.18" y1="519.34" x2="439.18" y2="522.94" stroke="#24426a" stroke-width="0.8"/>
<line x1="443.58" y1="527.34" x2="443.58" y2="530.94" stroke="#24426a" stroke-width="0.8"/>
<line x1="446.22" y1="535.44" x2="446.22" y2="539.04" stroke="#24426a" stroke-width="0.8"/>
<line x1="451.5" y1="540.46" x2="451.5" y2="544.06" stroke="#24426a" stroke-width="0.8"/>
<line x1="455.02" y1="540.46" x2="455.02" y2="544.06" stroke="#24426a" stroke-width="0.8"/>
<text stroke="#333" stroke-width="0.12" x="464" y="493.2" font-size="6.0" textLength="41" lengthAdjust="spacingAndGlyphs"><tspan font-style="italic">ASXL1</tspan> mutated</text>
<text stroke="#2f5a8f" stroke-width="0.12" x="442.6" y="518.67" font-size="6.3" fill="#2f5a8f" textLength="68.4" lengthAdjust="spacingAndGlyphs">Lower S100A8/A9, n = 41</text>
<text stroke="#333" stroke-width="0.12" x="486" y="555.76" font-size="6.0" textLength="23" lengthAdjust="spacingAndGlyphs"><tspan font-style="italic">P</tspan> = .009</text>
<text stroke="#c4284a" stroke-width="0.12" x="416" y="577.27" font-size="6.3" fill="#c4284a" textLength="72" lengthAdjust="spacingAndGlyphs">Higher S100A8/A9, n = 10</text>
<rect x="0.5" y="0.5" width="519" height="609" fill="none" stroke="#555" stroke-width="1"/>
</svg></body></html>
